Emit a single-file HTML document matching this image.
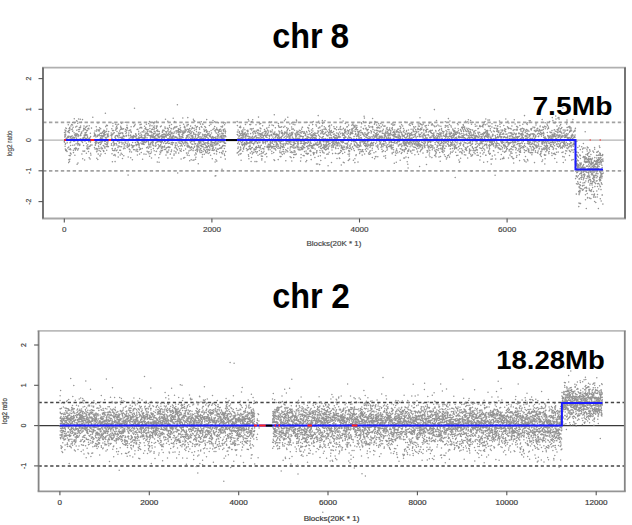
<!DOCTYPE html>
<html><head><meta charset="utf-8"><style>
html,body{margin:0;padding:0;background:#fff;width:632px;height:525px;overflow:hidden}
svg{display:block;font-family:"Liberation Sans",sans-serif}
</style></head><body>
<svg width="632" height="525" viewBox="0 0 632 525" font-family="Liberation Sans, sans-serif">
<rect width="632" height="525" fill="#fff"/>
<line x1="43.05" x2="625.0" y1="122.3" y2="122.3" stroke="#a2a2a2" stroke-width="1.7" stroke-dasharray="3.4 2.525"/>
<line x1="43.05" x2="625.0" y1="170.8" y2="170.8" stroke="#a2a2a2" stroke-width="1.7" stroke-dasharray="3.4 2.525"/>
<line x1="43.0" x2="625.0" y1="140.1" y2="140.1" stroke="#a0a0a0" stroke-width="1.0"/>
<path d="M64.3 141.4h0M64.4 142.2h0M64.5 132.4h0M64.7 134.9h0M64.7 137.0h0M64.8 139.9h0M64.9 135.0h0M65.0 129.9h0M65.1 146.2h0M65.2 136.4h0M65.3 148.9h0M65.3 144.2h0M65.5 134.1h0M65.6 131.9h0M65.6 143.4h0M65.7 150.4h0M65.8 127.9h0M65.8 134.9h0M65.9 130.7h0M66.1 138.2h0M66.4 128.5h0M66.4 150.1h0M66.7 150.9h0M66.9 138.5h0M67.0 151.4h0M67.1 140.6h0M67.2 142.7h0M67.4 137.3h0M67.8 131.7h0M67.8 147.9h0M68.1 136.3h0M68.1 137.6h0M68.3 124.8h0M68.4 140.1h0M68.5 131.9h0M68.6 130.8h0M68.7 162.6h0M68.7 137.2h0M68.8 147.1h0M68.9 159.7h0M69.0 136.3h0M69.1 128.8h0M69.2 149.5h0M69.2 155.5h0M69.3 132.8h0M69.5 161.3h0M69.6 130.4h0M69.7 127.6h0M69.9 159.3h0M70.0 142.8h0M70.1 138.9h0M70.1 128.9h0M70.2 155.6h0M70.3 148.8h0M70.4 136.5h0M70.4 153.1h0M70.5 137.4h0M70.6 145.5h0M70.6 141.9h0M70.8 149.8h0M70.9 139.8h0M70.9 125.9h0M71.1 153.9h0M71.2 139.3h0M71.4 136.4h0M71.6 124.4h0M71.7 140.5h0M71.8 129.4h0M72.0 138.2h0M72.1 135.8h0M72.3 140.2h0M72.4 128.9h0M72.5 125.0h0M72.6 122.5h0M72.6 131.2h0M72.8 145.3h0M72.9 130.9h0M72.9 138.1h0M73.0 137.3h0M73.1 127.3h0M73.2 140.6h0M73.4 150.3h0M73.5 152.6h0M73.5 140.0h0M73.6 141.1h0M73.7 137.3h0M74.0 139.2h0M74.1 132.8h0M74.2 138.8h0M74.3 118.7h0M74.3 122.7h0M74.4 137.5h0M74.5 148.6h0M74.6 144.9h0M74.6 135.0h0M74.7 140.0h0M74.8 141.1h0M74.9 155.2h0M74.9 155.2h0M75.0 148.7h0M75.1 134.2h0M75.2 148.9h0M75.4 150.1h0M75.5 139.7h0M75.6 135.8h0M75.7 126.9h0M75.7 148.6h0M75.9 147.8h0M76.0 133.6h0M76.0 137.1h0M76.1 143.7h0M76.4 138.6h0M76.5 134.7h0M76.6 120.8h0M76.6 135.4h0M76.7 148.8h0M76.8 130.2h0M76.8 139.3h0M76.9 126.2h0M77.1 139.3h0M77.1 164.2h0M77.2 121.2h0M77.4 133.9h0M77.5 142.1h0M77.7 123.2h0M77.7 150.1h0M77.8 143.8h0M77.9 145.1h0M78.0 141.1h0M78.0 163.0h0M78.1 136.6h0M78.2 134.8h0M78.2 136.1h0M78.3 135.5h0M78.4 129.4h0M78.5 148.8h0M78.5 143.4h0M78.6 118.9h0M78.7 139.4h0M78.8 131.4h0M79.1 131.5h0M79.2 139.5h0M79.4 127.6h0M79.4 144.4h0M79.6 129.4h0M79.7 145.5h0M79.9 144.2h0M80.1 135.8h0M80.2 139.1h0M80.3 119.2h0M80.4 140.1h0M80.5 127.6h0M80.5 134.9h0M80.6 126.0h0M80.7 138.8h0M80.8 133.9h0M80.9 135.2h0M81.3 141.0h0M81.4 132.1h0M81.6 122.3h0M81.6 133.0h0M81.7 139.4h0M81.8 133.0h0M81.9 153.9h0M82.2 139.2h0M82.4 142.0h0M82.5 142.5h0M82.5 119.6h0M82.6 138.9h0M82.7 158.7h0M82.8 139.5h0M82.9 131.0h0M83.0 137.9h0M83.0 151.1h0M83.3 137.6h0M83.5 138.7h0M83.6 145.4h0M83.6 137.6h0M83.7 128.4h0M83.8 128.9h0M83.9 130.0h0M84.0 125.9h0M84.1 135.3h0M84.2 151.2h0M84.3 140.7h0M84.4 135.6h0M84.5 136.1h0M84.6 160.0h0M84.7 137.7h0M84.7 150.9h0M84.9 128.8h0M85.0 133.0h0M85.0 134.7h0M85.1 141.0h0M85.2 132.8h0M85.3 135.3h0M85.5 127.3h0M85.6 129.4h0M85.7 138.5h0M85.8 135.5h0M85.8 134.3h0M86.2 132.4h0M86.3 143.3h0M86.4 153.2h0M86.5 130.7h0M86.6 139.2h0M86.7 126.6h0M86.8 148.3h0M86.9 145.9h0M87.0 134.7h0M87.0 138.2h0M87.1 126.0h0M87.3 149.1h0M87.4 136.1h0M87.5 130.6h0M87.5 136.3h0M87.6 137.4h0M87.8 144.7h0M87.8 148.1h0M87.9 128.7h0M88.1 147.0h0M88.4 139.8h0M88.5 151.5h0M88.6 141.8h0M88.7 128.2h0M88.7 140.0h0M88.8 138.7h0M88.9 148.8h0M88.9 128.9h0M89.0 140.6h0M89.2 157.7h0M89.2 125.7h0M89.4 139.4h0M89.5 146.4h0M89.5 146.3h0M89.8 139.6h0M89.8 138.3h0M90.0 137.5h0M90.1 141.0h0M90.1 158.9h0M90.3 145.9h0M90.4 142.1h0M90.4 133.2h0M90.6 153.3h0M90.6 136.6h0M90.8 145.1h0M90.9 155.1h0M90.9 140.7h0M91.5 128.1h0M92.0 145.0h0M92.8 117.3h0M94.0 136.3h0M94.1 140.4h0M94.2 135.9h0M94.3 139.8h0M94.3 133.0h0M94.5 147.4h0M94.6 135.0h0M94.8 134.1h0M94.9 139.4h0M94.9 135.7h0M95.0 130.9h0M95.1 142.6h0M95.1 149.1h0M95.2 145.1h0M95.4 145.3h0M95.6 135.1h0M95.7 143.7h0M95.7 141.8h0M95.8 135.4h0M95.9 143.4h0M96.0 141.6h0M96.0 136.9h0M96.1 143.6h0M96.3 126.7h0M96.3 141.6h0M96.4 140.4h0M96.5 148.6h0M96.6 151.8h0M96.6 131.1h0M96.8 140.6h0M96.8 158.3h0M96.9 129.4h0M97.0 149.6h0M97.1 142.2h0M97.1 142.3h0M97.2 151.0h0M97.4 136.4h0M97.7 135.7h0M97.8 159.5h0M97.9 134.9h0M98.0 148.7h0M98.0 122.9h0M98.2 154.1h0M98.2 135.4h0M98.3 130.4h0M98.4 143.4h0M98.5 145.9h0M98.7 146.7h0M98.8 142.5h0M98.8 129.8h0M98.9 139.7h0M99.1 131.1h0M99.1 150.5h0M99.3 134.5h0M99.4 129.9h0M99.6 127.8h0M99.8 142.3h0M99.9 135.7h0M99.9 148.4h0M100.0 155.4h0M100.1 156.0h0M100.2 133.3h0M100.2 144.2h0M100.3 138.6h0M100.5 151.3h0M100.5 144.4h0M100.7 128.7h0M100.8 137.5h0M100.8 137.8h0M100.9 140.8h0M101.0 154.1h0M101.1 141.8h0M101.1 135.7h0M101.2 147.2h0M101.3 143.1h0M101.3 133.4h0M101.6 139.8h0M101.6 138.6h0M101.8 148.8h0M101.9 149.0h0M101.9 135.4h0M102.1 136.5h0M102.2 139.9h0M102.2 132.7h0M102.3 141.7h0M102.4 140.5h0M102.5 148.2h0M102.5 132.5h0M102.7 137.9h0M102.7 136.1h0M103.0 140.3h0M103.2 131.5h0M103.3 150.5h0M103.3 145.5h0M103.5 133.4h0M103.6 136.2h0M103.7 151.5h0M103.8 135.0h0M103.9 150.9h0M103.9 130.2h0M104.1 136.1h0M104.2 146.3h0M104.2 133.6h0M104.4 141.4h0M104.4 131.1h0M104.6 132.5h0M104.7 147.8h0M104.7 130.7h0M104.8 134.3h0M104.9 143.7h0M105.0 148.1h0M105.0 134.7h0M105.2 153.4h0M105.3 137.7h0M105.3 134.8h0M105.4 113.2h0M105.6 131.9h0M105.6 141.2h0M105.8 139.7h0M105.8 126.6h0M105.9 144.3h0M106.0 137.2h0M106.1 138.2h0M106.1 146.6h0M106.2 144.5h0M106.4 144.3h0M106.4 138.0h0M106.5 125.3h0M106.7 150.2h0M106.7 131.3h0M106.8 128.9h0M106.9 142.5h0M107.0 134.0h0M107.1 140.6h0M107.2 145.0h0M107.4 125.6h0M107.5 146.6h0M107.5 136.0h0M107.6 135.1h0M107.7 143.7h0M107.8 137.0h0M107.8 136.3h0M108.0 141.9h0M108.1 139.8h0M108.2 134.1h0M108.3 140.5h0M108.4 146.6h0M108.6 136.1h0M108.7 131.6h0M111.0 135.5h0M111.2 132.9h0M111.3 134.8h0M111.4 145.2h0M111.5 143.7h0M111.6 138.0h0M111.7 136.1h0M111.8 128.7h0M111.8 138.3h0M111.9 135.6h0M112.0 138.3h0M112.0 153.8h0M112.1 148.8h0M112.3 134.3h0M112.3 148.4h0M112.4 161.8h0M112.5 130.6h0M112.7 150.2h0M112.8 134.2h0M112.9 125.9h0M112.9 123.2h0M113.2 142.5h0M113.2 145.7h0M113.3 133.2h0M113.4 141.6h0M113.5 140.6h0M113.7 130.6h0M113.8 155.3h0M113.9 144.2h0M114.0 150.8h0M114.0 143.0h0M114.1 140.6h0M114.2 140.2h0M114.3 132.8h0M114.5 140.0h0M114.6 139.9h0M114.6 143.6h0M114.7 144.9h0M114.8 150.1h0M114.9 154.4h0M114.9 137.3h0M115.1 161.6h0M115.1 139.2h0M115.2 148.6h0M115.3 136.9h0M115.4 135.9h0M115.4 155.8h0M115.6 124.2h0M115.7 130.1h0M115.7 138.5h0M115.8 140.2h0M115.9 129.8h0M116.0 139.6h0M116.0 128.1h0M116.2 143.6h0M116.3 150.7h0M116.4 135.4h0M116.6 126.5h0M116.8 128.6h0M116.8 145.0h0M116.9 139.7h0M117.0 131.5h0M117.1 150.0h0M117.1 125.0h0M117.2 140.7h0M117.3 128.0h0M117.5 135.5h0M117.6 136.6h0M117.8 141.2h0M117.9 147.3h0M118.0 147.6h0M118.0 137.0h0M118.1 139.5h0M118.2 137.1h0M118.2 157.0h0M118.3 152.6h0M118.4 145.9h0M118.5 124.3h0M118.5 133.0h0M118.7 140.8h0M118.9 139.3h0M119.0 134.3h0M119.1 140.5h0M119.1 143.1h0M119.2 135.5h0M119.4 133.2h0M119.6 130.9h0M119.7 146.2h0M119.7 150.2h0M119.8 140.4h0M119.9 142.3h0M119.9 137.3h0M120.1 146.7h0M120.2 139.5h0M120.2 155.0h0M120.5 129.5h0M120.5 150.3h0M120.6 133.4h0M120.7 126.3h0M120.8 127.8h0M121.0 132.8h0M121.1 137.8h0M121.2 153.2h0M121.3 140.1h0M121.3 137.2h0M121.5 128.1h0M121.6 146.8h0M121.6 123.2h0M121.7 129.1h0M121.8 142.2h0M121.9 138.7h0M122.0 144.0h0M122.2 154.4h0M122.3 137.4h0M122.4 132.9h0M122.5 158.5h0M122.7 133.1h0M122.7 133.7h0M122.8 129.1h0M123.0 138.7h0M123.1 136.8h0M123.2 142.9h0M123.3 135.8h0M123.5 148.7h0M123.6 138.9h0M123.6 128.8h0M123.7 135.6h0M123.8 155.8h0M124.0 139.9h0M124.1 147.1h0M124.2 136.6h0M124.2 145.0h0M124.4 144.5h0M124.4 139.5h0M124.8 139.6h0M124.9 140.1h0M125.0 148.5h0M125.0 140.3h0M125.1 142.1h0M125.2 131.2h0M125.3 122.3h0M125.4 142.9h0M125.5 142.7h0M125.6 129.5h0M125.8 129.4h0M125.9 133.5h0M126.0 135.7h0M126.1 136.2h0M126.1 145.9h0M126.2 140.7h0M126.4 132.3h0M126.5 135.5h0M126.7 127.4h0M126.8 130.5h0M127.0 125.3h0M127.0 143.7h0M127.1 127.6h0M127.3 139.7h0M127.3 147.4h0M127.4 127.4h0M127.5 143.9h0M127.5 128.8h0M127.7 145.3h0M128.0 146.2h0M128.1 141.9h0M128.1 175.1h0M128.2 157.0h0M128.4 139.7h0M128.5 135.0h0M128.6 146.6h0M128.7 135.8h0M128.8 132.9h0M128.9 130.7h0M129.2 138.3h0M129.2 149.1h0M129.3 143.9h0M129.5 144.9h0M129.6 145.6h0M129.7 151.7h0M129.8 140.2h0M129.8 130.3h0M129.9 140.2h0M130.1 150.0h0M130.4 136.0h0M130.6 134.9h0M130.6 130.0h0M130.7 157.8h0M130.8 137.8h0M130.9 137.9h0M131.0 131.6h0M131.1 126.7h0M131.2 132.5h0M131.4 139.5h0M131.5 151.9h0M131.5 144.9h0M131.6 145.0h0M131.8 136.8h0M131.8 139.7h0M132.0 136.2h0M132.1 147.8h0M132.2 139.9h0M132.3 146.1h0M132.4 159.7h0M132.6 142.5h0M132.7 137.9h0M132.9 138.5h0M132.9 136.5h0M133.0 138.1h0M133.1 145.8h0M133.2 146.9h0M133.3 137.7h0M133.5 122.7h0M133.6 149.6h0M133.7 135.6h0M133.8 126.6h0M134.0 136.6h0M134.2 145.8h0M134.4 136.2h0M134.5 108.3h0M134.6 125.5h0M134.9 149.8h0M135.1 124.3h0M135.2 137.0h0M135.3 136.6h0M135.4 142.5h0M135.6 133.8h0M135.7 134.6h0M135.8 136.7h0M136.0 133.9h0M136.0 144.2h0M136.1 151.1h0M136.2 145.6h0M136.3 135.3h0M136.3 138.7h0M136.4 139.5h0M136.5 138.2h0M136.7 135.7h0M136.8 139.1h0M136.8 139.6h0M136.9 149.2h0M137.0 149.8h0M137.1 144.8h0M137.1 129.4h0M137.2 141.3h0M137.3 149.8h0M137.4 155.0h0M137.5 142.2h0M137.7 151.4h0M137.9 129.2h0M138.0 143.0h0M138.0 138.5h0M138.1 139.2h0M138.2 144.4h0M138.2 140.7h0M138.3 138.5h0M138.4 142.4h0M138.6 134.2h0M138.7 131.2h0M138.8 137.1h0M138.8 144.6h0M138.9 133.2h0M139.0 143.4h0M139.1 146.1h0M139.2 147.5h0M139.3 144.8h0M139.4 149.8h0M139.4 139.0h0M139.6 137.8h0M139.6 154.1h0M139.9 128.1h0M139.9 135.4h0M140.0 124.8h0M140.2 127.8h0M140.2 140.0h0M140.3 148.5h0M140.5 140.1h0M140.6 149.2h0M140.7 137.4h0M140.8 132.9h0M140.8 137.3h0M140.9 143.0h0M141.0 127.3h0M141.2 124.3h0M141.3 134.7h0M141.3 152.4h0M141.4 139.4h0M141.6 136.6h0M141.6 137.4h0M141.8 127.9h0M141.9 135.2h0M141.9 144.1h0M142.0 141.3h0M142.2 148.5h0M142.2 131.7h0M142.3 141.3h0M142.5 143.3h0M142.6 159.3h0M142.7 139.1h0M143.0 137.7h0M143.0 140.5h0M143.1 144.2h0M143.2 131.9h0M143.3 143.1h0M143.3 140.9h0M143.5 142.3h0M143.6 143.1h0M143.8 130.6h0M144.0 154.1h0M144.1 144.5h0M144.2 138.5h0M144.2 135.4h0M144.4 135.2h0M144.5 137.8h0M144.6 126.3h0M144.7 136.9h0M144.7 141.8h0M144.8 139.2h0M145.0 128.7h0M145.0 131.9h0M145.1 142.6h0M145.2 137.6h0M145.3 137.7h0M145.4 134.1h0M145.6 136.0h0M145.6 128.9h0M145.7 127.8h0M145.9 142.2h0M146.0 154.3h0M146.1 133.6h0M146.3 139.7h0M146.4 124.2h0M146.5 141.6h0M146.6 147.8h0M146.7 129.6h0M146.7 133.4h0M146.8 141.0h0M146.9 139.4h0M147.0 137.8h0M147.0 132.2h0M147.1 151.3h0M147.3 135.3h0M147.5 131.0h0M147.5 147.0h0M147.8 139.7h0M147.8 139.5h0M147.9 131.3h0M148.0 133.5h0M148.1 129.6h0M148.1 134.4h0M148.2 152.3h0M148.3 141.3h0M148.4 148.3h0M148.5 142.8h0M148.7 123.4h0M148.7 144.8h0M148.8 143.9h0M148.9 144.9h0M148.9 135.4h0M149.0 151.7h0M149.1 153.8h0M149.2 146.8h0M149.2 139.9h0M149.4 144.7h0M149.5 147.0h0M149.5 121.6h0M149.6 156.2h0M149.8 125.9h0M149.8 131.7h0M149.9 128.5h0M150.0 131.0h0M150.1 144.7h0M150.1 125.0h0M150.2 135.6h0M150.3 139.4h0M150.4 136.4h0M150.4 138.1h0M150.5 143.4h0M150.6 144.8h0M150.7 153.4h0M150.8 136.9h0M150.9 147.0h0M151.0 136.0h0M151.1 142.2h0M151.2 132.4h0M151.2 149.7h0M151.3 131.6h0M151.4 152.0h0M151.5 157.9h0M151.5 139.6h0M151.6 136.4h0M151.7 142.6h0M151.8 129.6h0M151.8 135.0h0M151.9 129.5h0M152.0 132.8h0M152.0 125.8h0M152.1 132.8h0M152.2 140.0h0M152.3 136.7h0M152.3 137.7h0M152.4 143.2h0M152.5 145.0h0M152.6 142.0h0M152.6 141.6h0M152.7 140.0h0M152.8 129.1h0M152.9 135.1h0M152.9 144.7h0M153.1 142.7h0M153.2 136.4h0M153.2 139.8h0M153.3 141.9h0M153.4 148.6h0M153.5 135.0h0M153.5 127.2h0M153.6 137.4h0M153.7 133.6h0M153.7 122.5h0M153.8 145.7h0M153.9 123.6h0M154.0 138.2h0M154.0 133.6h0M154.1 129.8h0M154.2 150.8h0M154.3 126.0h0M154.3 131.6h0M154.6 128.1h0M154.6 136.8h0M154.7 136.7h0M154.8 122.1h0M155.0 137.2h0M155.1 133.7h0M155.1 154.8h0M155.2 140.3h0M155.3 138.7h0M155.4 131.9h0M155.4 146.3h0M155.6 143.2h0M155.7 144.0h0M155.8 135.7h0M155.9 135.7h0M156.0 142.5h0M156.0 138.4h0M156.1 145.8h0M156.2 151.5h0M156.3 128.5h0M156.3 125.9h0M156.5 151.3h0M156.6 130.7h0M156.6 121.3h0M156.7 127.3h0M156.8 134.4h0M156.9 142.0h0M157.0 138.6h0M157.1 138.2h0M157.1 133.9h0M157.2 126.1h0M157.3 162.0h0M157.4 135.4h0M157.5 148.7h0M157.6 130.0h0M157.7 140.2h0M157.7 141.4h0M157.8 131.1h0M157.9 131.4h0M158.0 141.8h0M158.1 136.6h0M158.2 144.4h0M158.2 134.5h0M158.4 136.3h0M158.5 139.3h0M158.5 148.0h0M158.6 137.2h0M158.7 134.4h0M158.8 157.7h0M158.8 134.5h0M158.9 146.9h0M159.0 141.3h0M159.1 145.8h0M159.1 162.2h0M159.3 131.6h0M159.4 140.5h0M159.5 133.5h0M159.7 137.7h0M159.8 154.2h0M159.9 136.3h0M159.9 146.1h0M160.1 151.7h0M160.2 141.9h0M160.3 136.1h0M160.4 140.2h0M160.5 140.4h0M160.5 126.8h0M160.6 144.7h0M160.7 152.8h0M160.8 141.6h0M160.9 145.0h0M161.0 150.3h0M161.1 147.1h0M161.1 142.6h0M161.2 136.1h0M161.3 141.7h0M161.3 125.9h0M161.4 143.0h0M161.5 148.2h0M161.6 138.5h0M161.6 141.4h0M161.7 151.0h0M161.8 135.6h0M161.9 142.3h0M161.9 137.2h0M162.0 136.6h0M162.1 134.6h0M162.2 132.1h0M162.3 141.4h0M162.4 146.5h0M162.5 132.2h0M162.5 150.2h0M162.6 130.2h0M162.7 147.7h0M162.8 130.9h0M162.9 139.3h0M163.0 137.5h0M163.0 136.2h0M163.1 137.3h0M163.2 137.3h0M163.3 137.5h0M163.3 134.4h0M163.4 137.0h0M163.6 130.3h0M163.7 143.1h0M163.8 134.0h0M163.9 136.4h0M163.9 146.7h0M164.0 137.5h0M164.1 130.4h0M164.2 140.5h0M164.2 130.6h0M164.3 138.1h0M164.4 149.4h0M164.4 147.1h0M164.5 134.7h0M164.6 145.9h0M164.7 136.8h0M164.7 141.5h0M164.8 134.7h0M165.0 127.1h0M165.0 134.0h0M165.1 141.5h0M165.2 128.4h0M165.3 140.1h0M165.4 136.5h0M165.5 119.3h0M165.6 131.8h0M165.6 149.4h0M165.7 143.6h0M165.8 135.6h0M165.9 135.0h0M166.0 155.1h0M166.1 148.3h0M166.1 147.9h0M166.2 137.1h0M166.4 131.8h0M166.5 143.2h0M166.7 133.1h0M166.8 135.4h0M166.9 151.2h0M167.0 152.7h0M167.1 147.5h0M167.3 134.4h0M167.3 128.3h0M167.4 141.0h0M167.5 142.5h0M167.5 139.1h0M167.6 140.6h0M167.7 130.9h0M167.8 121.2h0M167.9 158.0h0M168.0 128.5h0M168.1 147.1h0M168.1 152.1h0M168.2 135.3h0M168.3 138.5h0M168.4 129.7h0M168.4 143.5h0M168.5 141.1h0M168.6 139.3h0M168.7 133.6h0M168.8 150.1h0M168.9 138.8h0M168.9 146.7h0M169.0 131.9h0M169.1 147.6h0M169.2 134.3h0M169.2 139.7h0M169.3 140.2h0M169.5 125.4h0M169.5 127.2h0M169.6 143.3h0M169.7 132.0h0M169.8 137.7h0M169.8 136.5h0M169.9 140.5h0M170.0 147.3h0M170.1 135.1h0M170.1 138.0h0M170.2 135.3h0M170.3 154.3h0M170.4 134.8h0M170.4 153.9h0M170.5 136.1h0M170.6 135.5h0M170.6 140.0h0M170.7 131.1h0M170.8 138.3h0M170.9 133.0h0M171.0 144.2h0M171.1 128.6h0M171.2 133.6h0M171.2 151.6h0M171.3 140.0h0M171.4 142.4h0M171.5 128.7h0M171.5 124.4h0M171.6 149.9h0M171.7 139.9h0M171.8 137.1h0M171.8 137.6h0M171.9 138.3h0M172.0 132.6h0M172.0 158.1h0M172.1 133.5h0M172.2 144.0h0M172.4 144.8h0M172.5 140.5h0M172.6 136.6h0M172.6 142.5h0M172.7 137.3h0M172.8 137.0h0M172.9 136.6h0M172.9 137.1h0M173.0 135.2h0M173.1 138.5h0M173.2 118.2h0M173.4 129.0h0M173.5 142.7h0M173.5 135.9h0M173.6 135.7h0M173.7 139.4h0M173.8 133.3h0M173.9 133.3h0M174.0 127.8h0M174.0 155.3h0M174.1 154.0h0M174.2 150.9h0M174.3 140.3h0M174.3 131.9h0M174.4 137.0h0M174.5 122.1h0M174.6 138.9h0M174.7 121.5h0M174.8 139.7h0M174.9 127.8h0M174.9 147.7h0M175.0 126.8h0M175.1 127.3h0M175.2 144.9h0M175.4 147.0h0M175.4 137.5h0M175.5 143.0h0M175.6 136.9h0M175.7 145.4h0M175.7 136.7h0M175.8 131.0h0M175.9 151.8h0M176.0 153.0h0M176.2 131.1h0M176.3 132.9h0M176.3 130.8h0M176.4 148.2h0M176.5 126.9h0M176.6 127.0h0M176.7 142.9h0M176.8 138.0h0M176.8 137.2h0M176.9 126.5h0M177.1 149.4h0M177.1 130.9h0M177.2 140.1h0M177.3 145.0h0M177.4 104.8h0M177.4 149.9h0M177.6 138.5h0M177.7 173.0h0M178.0 139.8h0M178.0 132.5h0M178.1 130.6h0M178.2 140.9h0M178.2 131.2h0M178.3 146.8h0M178.4 128.8h0M178.5 134.6h0M178.5 129.8h0M178.6 139.6h0M178.7 153.1h0M178.8 131.4h0M178.9 142.7h0M179.0 133.9h0M179.1 132.6h0M179.2 138.0h0M179.3 135.0h0M179.4 138.8h0M179.4 136.2h0M179.5 148.7h0M179.6 138.4h0M179.6 136.0h0M179.7 129.3h0M179.8 131.5h0M179.9 141.3h0M179.9 143.3h0M180.0 125.6h0M180.1 150.8h0M180.2 146.1h0M180.3 136.7h0M180.5 150.7h0M180.5 127.8h0M180.6 130.0h0M180.7 143.2h0M180.8 132.5h0M180.9 138.3h0M181.1 158.9h0M181.1 143.4h0M181.2 151.2h0M181.3 149.1h0M181.3 131.0h0M181.4 145.1h0M181.5 140.2h0M181.6 141.2h0M181.6 139.1h0M181.7 136.8h0M181.9 136.4h0M182.0 141.2h0M182.1 134.5h0M182.2 146.1h0M182.4 137.4h0M182.5 142.4h0M182.5 142.6h0M182.6 132.1h0M182.7 141.0h0M182.7 137.1h0M182.8 117.9h0M182.9 135.2h0M183.0 133.4h0M183.0 131.1h0M183.1 137.7h0M183.3 144.0h0M183.5 132.6h0M183.6 124.3h0M183.6 158.1h0M183.7 150.5h0M183.8 133.4h0M184.1 142.9h0M184.2 132.4h0M184.3 127.3h0M184.4 140.2h0M184.4 130.9h0M184.5 126.2h0M184.6 127.3h0M184.7 145.6h0M184.8 157.5h0M184.9 131.3h0M185.0 127.3h0M185.0 128.9h0M185.1 141.8h0M185.2 142.6h0M185.3 140.9h0M185.5 131.9h0M185.6 139.0h0M185.6 149.0h0M185.7 129.7h0M185.8 130.5h0M185.9 139.8h0M186.0 144.0h0M186.1 130.6h0M186.3 137.6h0M186.4 142.2h0M186.5 153.1h0M186.6 135.7h0M186.7 136.0h0M186.8 138.1h0M186.9 145.9h0M187.0 126.0h0M187.0 142.2h0M187.1 125.1h0M187.2 129.2h0M187.3 155.1h0M187.4 136.1h0M187.5 143.8h0M187.5 136.8h0M187.6 146.9h0M187.7 132.0h0M187.8 117.6h0M187.9 145.6h0M188.0 144.0h0M188.1 134.8h0M188.1 134.9h0M188.2 153.1h0M188.3 124.6h0M188.4 147.0h0M188.5 131.1h0M188.6 129.4h0M188.7 138.9h0M188.7 145.9h0M188.9 150.9h0M188.9 131.5h0M189.0 136.9h0M189.1 155.5h0M189.2 137.3h0M189.2 134.7h0M189.4 132.4h0M189.5 146.6h0M189.6 128.6h0M189.7 160.7h0M189.8 147.8h0M190.0 130.6h0M190.1 141.1h0M190.2 150.3h0M190.3 133.2h0M190.4 130.9h0M190.4 147.7h0M190.5 142.8h0M190.6 138.4h0M190.6 126.1h0M190.7 147.9h0M190.8 138.4h0M190.9 135.0h0M191.0 147.6h0M191.1 133.2h0M191.2 135.9h0M191.2 159.7h0M191.3 141.0h0M191.4 128.9h0M191.5 146.7h0M191.5 132.8h0M191.6 149.7h0M191.7 141.5h0M191.8 136.3h0M191.8 143.9h0M191.9 147.5h0M192.0 138.1h0M192.0 131.5h0M192.2 140.8h0M192.3 127.6h0M192.3 137.8h0M192.6 136.9h0M192.6 135.4h0M192.7 128.3h0M192.9 144.2h0M192.9 138.8h0M193.0 160.3h0M193.1 150.6h0M193.2 140.7h0M193.2 137.1h0M193.3 148.6h0M193.4 119.3h0M193.6 132.5h0M193.7 133.6h0M193.8 134.3h0M193.9 120.6h0M194.0 159.9h0M194.1 128.2h0M194.2 141.9h0M194.3 147.3h0M194.3 138.7h0M194.4 141.2h0M194.5 130.2h0M194.6 146.3h0M194.6 140.9h0M194.7 139.4h0M194.8 121.3h0M194.9 143.6h0M194.9 154.9h0M195.0 144.1h0M195.1 134.2h0M195.1 138.1h0M195.2 125.6h0M195.3 139.9h0M195.4 136.7h0M195.4 150.3h0M195.5 159.2h0M195.6 135.8h0M195.7 153.0h0M195.7 143.8h0M195.9 157.3h0M196.0 134.5h0M196.0 140.4h0M196.2 129.5h0M196.3 154.0h0M196.3 126.9h0M196.4 127.7h0M196.5 131.6h0M196.5 138.5h0M196.6 146.0h0M196.7 149.8h0M196.8 150.0h0M197.0 149.1h0M197.1 145.3h0M197.1 147.7h0M197.2 145.6h0M197.3 151.6h0M197.4 126.4h0M197.5 146.6h0M197.6 143.9h0M197.7 138.0h0M197.7 149.2h0M197.8 150.1h0M197.9 150.0h0M198.0 134.6h0M198.0 135.7h0M198.1 137.6h0M198.2 133.0h0M198.2 135.3h0M198.3 163.7h0M198.4 141.9h0M198.5 136.0h0M198.5 144.0h0M198.6 146.0h0M198.8 142.2h0M198.8 147.0h0M198.9 141.0h0M199.0 132.2h0M199.1 141.7h0M199.1 147.8h0M199.2 136.8h0M199.3 122.4h0M199.4 127.7h0M199.4 142.7h0M199.5 134.1h0M199.6 129.3h0M199.6 143.5h0M199.7 142.9h0M199.8 151.3h0M199.9 138.3h0M199.9 150.6h0M200.0 149.5h0M200.1 152.6h0M200.2 145.3h0M200.2 141.8h0M200.3 142.8h0M200.5 141.3h0M200.5 124.1h0M200.6 132.8h0M200.7 145.4h0M200.8 148.4h0M200.9 136.7h0M201.0 138.2h0M201.1 143.0h0M201.3 121.8h0M201.3 126.4h0M201.4 146.5h0M201.6 152.5h0M201.6 150.6h0M201.7 145.0h0M201.8 138.0h0M201.9 139.3h0M201.9 127.2h0M202.1 141.2h0M202.2 140.0h0M202.2 157.1h0M202.3 144.3h0M202.4 146.8h0M202.5 154.6h0M202.5 140.1h0M202.6 134.2h0M202.7 135.9h0M202.7 123.9h0M202.8 139.9h0M202.9 124.4h0M203.0 138.4h0M203.0 146.5h0M203.1 151.4h0M203.2 134.9h0M203.3 144.4h0M203.4 139.8h0M203.5 144.4h0M203.6 142.1h0M203.6 138.7h0M203.7 140.8h0M203.8 149.2h0M203.9 144.0h0M203.9 138.1h0M204.0 129.2h0M204.1 147.7h0M204.2 149.8h0M204.2 130.9h0M204.3 154.2h0M204.4 131.5h0M204.4 134.7h0M204.5 136.4h0M204.6 143.6h0M204.7 136.1h0M204.8 126.4h0M205.0 136.4h0M205.0 130.4h0M205.1 142.8h0M205.2 144.8h0M205.3 138.7h0M205.4 150.4h0M205.5 137.0h0M205.6 151.6h0M205.6 127.4h0M205.7 134.5h0M205.8 147.6h0M205.8 136.3h0M205.9 152.8h0M206.0 136.9h0M206.1 142.9h0M206.1 145.7h0M206.2 129.8h0M206.4 130.9h0M206.4 136.1h0M206.5 132.2h0M206.6 146.5h0M206.7 119.6h0M206.8 149.4h0M206.9 152.4h0M207.0 131.1h0M207.0 137.2h0M207.1 140.3h0M207.2 134.9h0M207.3 147.8h0M207.4 142.8h0M207.5 151.1h0M207.6 146.5h0M207.7 131.8h0M207.8 133.8h0M207.8 134.9h0M207.9 144.1h0M208.0 140.0h0M208.1 138.2h0M208.1 141.7h0M208.2 153.5h0M208.3 149.4h0M208.4 140.7h0M208.4 146.3h0M208.5 145.7h0M208.6 143.2h0M208.7 145.7h0M208.7 139.3h0M208.8 145.7h0M208.9 133.6h0M209.2 135.2h0M209.3 150.4h0M209.4 125.5h0M209.5 131.8h0M209.5 152.7h0M209.6 136.5h0M209.7 147.2h0M209.8 150.1h0M209.8 146.9h0M209.9 136.0h0M210.0 148.9h0M210.2 143.9h0M210.3 136.3h0M210.4 144.9h0M210.4 134.9h0M210.5 144.2h0M210.6 134.8h0M210.6 155.3h0M210.7 144.9h0M210.8 141.9h0M210.9 136.9h0M210.9 124.2h0M211.0 140.5h0M211.1 130.5h0M211.2 145.9h0M211.2 139.5h0M211.3 137.7h0M211.4 139.3h0M211.5 132.9h0M211.6 138.5h0M211.7 140.9h0M211.8 137.7h0M211.8 144.1h0M211.9 142.4h0M212.0 150.3h0M212.1 146.5h0M212.2 142.6h0M212.3 144.9h0M212.3 158.7h0M212.4 148.5h0M212.5 136.5h0M212.6 137.3h0M212.7 145.5h0M212.8 150.1h0M212.9 122.6h0M212.9 129.6h0M213.0 120.6h0M213.1 148.3h0M213.2 138.5h0M213.2 144.9h0M213.3 142.8h0M213.4 147.1h0M213.5 139.7h0M213.6 137.2h0M213.7 138.0h0M213.8 150.5h0M213.9 140.4h0M214.0 128.4h0M214.0 142.8h0M214.1 137.4h0M214.2 153.6h0M214.3 149.7h0M214.4 142.7h0M214.6 121.8h0M214.6 143.6h0M214.7 126.5h0M214.9 130.6h0M214.9 145.2h0M215.0 142.8h0M215.1 161.9h0M215.1 175.9h0M215.2 137.5h0M215.3 141.6h0M215.4 138.9h0M215.4 131.7h0M215.5 144.7h0M215.6 130.0h0M215.7 147.9h0M215.7 140.3h0M215.8 175.7h0M215.9 159.7h0M216.0 138.7h0M216.0 136.9h0M216.1 140.9h0M216.2 142.9h0M216.3 150.3h0M216.3 133.1h0M216.5 153.9h0M216.5 129.4h0M216.6 151.4h0M216.7 128.0h0M216.8 161.1h0M216.8 144.8h0M216.9 151.4h0M217.0 144.0h0M217.1 140.7h0M217.2 129.5h0M217.3 129.9h0M217.4 138.3h0M217.4 149.1h0M217.5 136.0h0M217.6 143.0h0M217.7 134.3h0M217.8 136.5h0M217.9 142.9h0M218.0 134.5h0M218.0 140.9h0M218.1 143.8h0M218.2 137.9h0M218.3 132.6h0M218.4 122.8h0M218.5 149.1h0M218.5 139.7h0M218.6 135.8h0M218.7 130.3h0M218.8 140.1h0M218.8 131.4h0M219.0 131.5h0M219.1 141.7h0M219.4 131.0h0M219.4 129.4h0M219.5 145.3h0M219.6 131.0h0M219.6 152.5h0M219.7 148.2h0M219.8 137.9h0M219.9 133.9h0M219.9 140.3h0M220.2 142.2h0M220.2 136.6h0M220.3 131.3h0M220.4 140.5h0M220.5 148.2h0M220.6 141.9h0M220.7 129.3h0M220.8 140.9h0M220.8 136.1h0M220.9 157.2h0M221.0 142.0h0M221.1 140.0h0M221.1 126.6h0M221.2 147.2h0M221.3 139.1h0M221.3 137.1h0M221.4 141.2h0M221.5 130.9h0M221.6 152.6h0M221.6 135.8h0M221.7 148.1h0M221.9 133.1h0M221.9 133.7h0M222.0 169.2h0M222.1 134.0h0M222.2 138.1h0M222.2 127.1h0M222.3 153.7h0M222.4 146.5h0M222.5 138.1h0M222.5 141.0h0M222.6 135.9h0M222.7 126.0h0M222.7 138.7h0M222.8 145.5h0M222.9 138.5h0M223.0 151.7h0M223.0 150.8h0M223.1 142.0h0M223.2 133.4h0M223.3 135.3h0M223.3 129.6h0M223.4 130.6h0M223.5 141.7h0M223.6 123.0h0M223.6 145.6h0M223.8 142.0h0M223.9 136.8h0M223.9 131.4h0M224.0 122.4h0M224.1 138.0h0M224.2 135.8h0M224.2 136.1h0M224.3 154.1h0M224.4 141.9h0M224.4 148.5h0M224.5 143.2h0M224.6 124.7h0M224.7 128.9h0M224.7 155.4h0M224.8 143.1h0M224.9 145.8h0M225.0 146.0h0M225.0 140.1h0M225.1 135.5h0M225.2 130.3h0M225.3 133.1h0M225.3 159.1h0M225.4 136.0h0M225.5 123.0h0M225.6 143.3h0M225.6 131.5h0M225.7 151.6h0M225.8 136.8h0M237.1 153.0h0M237.1 121.6h0M237.2 134.5h0M237.3 121.8h0M237.4 125.6h0M237.4 131.9h0M237.7 143.4h0M237.7 152.8h0M237.8 152.6h0M237.9 148.4h0M238.0 135.3h0M238.0 138.4h0M238.1 130.0h0M238.2 147.1h0M238.3 142.1h0M238.4 138.2h0M238.5 139.8h0M238.5 142.0h0M238.6 154.9h0M238.8 140.7h0M238.8 151.5h0M239.0 136.6h0M239.1 132.4h0M239.2 138.7h0M239.3 131.4h0M239.4 144.2h0M239.4 143.9h0M239.5 127.2h0M239.6 135.9h0M239.6 133.1h0M239.7 138.5h0M239.8 135.8h0M239.9 150.5h0M239.9 140.6h0M240.0 154.0h0M240.1 139.0h0M240.2 149.5h0M240.2 135.3h0M240.3 141.3h0M240.4 146.9h0M240.5 134.1h0M240.5 126.2h0M240.6 154.0h0M240.7 127.6h0M240.8 149.7h0M240.8 147.9h0M240.9 138.0h0M241.1 160.3h0M241.1 153.4h0M241.2 139.9h0M241.3 142.7h0M241.5 130.9h0M241.6 133.2h0M241.6 135.3h0M241.7 135.5h0M241.8 137.5h0M241.9 144.5h0M242.0 142.8h0M242.1 142.1h0M242.2 135.5h0M242.2 138.6h0M242.3 131.7h0M242.4 145.5h0M242.5 136.0h0M242.6 134.3h0M242.7 137.9h0M242.7 132.5h0M242.8 151.3h0M242.9 131.1h0M243.0 129.8h0M243.0 140.9h0M243.1 133.8h0M243.2 144.8h0M243.3 136.3h0M243.3 144.1h0M243.4 148.4h0M243.5 135.0h0M243.6 149.2h0M243.6 148.1h0M243.7 127.9h0M243.8 137.7h0M243.9 137.9h0M243.9 147.3h0M244.1 144.2h0M244.2 133.4h0M244.2 140.2h0M244.3 134.3h0M244.4 144.1h0M244.5 142.4h0M244.6 145.9h0M244.7 145.6h0M244.7 144.7h0M244.8 133.7h0M244.9 129.8h0M245.0 136.8h0M245.1 134.2h0M245.2 132.4h0M245.3 143.6h0M245.3 135.4h0M245.4 144.1h0M245.5 124.5h0M245.6 143.7h0M245.6 137.0h0M245.7 143.2h0M245.8 137.1h0M245.8 138.4h0M246.1 143.0h0M246.2 143.4h0M246.3 141.4h0M246.4 148.4h0M246.4 134.0h0M246.5 134.4h0M246.6 144.6h0M246.7 142.2h0M246.7 135.6h0M246.8 144.0h0M247.0 130.8h0M247.0 130.8h0M247.1 150.6h0M247.3 140.7h0M247.4 136.3h0M247.5 149.6h0M247.5 143.1h0M247.7 131.8h0M247.8 130.3h0M247.9 133.6h0M248.0 139.1h0M248.1 134.0h0M248.1 131.3h0M248.2 143.3h0M248.3 119.5h0M248.4 154.8h0M248.5 138.3h0M248.6 136.2h0M248.7 149.4h0M248.7 156.2h0M248.8 138.4h0M248.9 158.7h0M248.9 121.1h0M249.0 146.4h0M249.1 142.7h0M249.2 148.2h0M249.3 142.8h0M249.5 138.0h0M249.6 142.5h0M249.7 124.4h0M249.8 140.9h0M249.8 139.9h0M249.9 136.8h0M250.0 145.4h0M250.1 143.7h0M250.1 146.4h0M250.2 138.0h0M250.3 129.0h0M250.3 153.1h0M250.4 141.3h0M250.5 148.7h0M250.6 133.6h0M250.6 149.4h0M250.7 124.6h0M250.9 138.2h0M250.9 142.2h0M251.1 161.5h0M251.2 128.7h0M251.3 141.7h0M251.4 121.8h0M251.5 147.9h0M251.5 157.4h0M251.6 129.9h0M251.7 142.7h0M251.8 151.6h0M251.9 137.5h0M252.0 137.0h0M252.0 121.5h0M252.1 143.2h0M252.3 147.5h0M252.3 154.0h0M252.4 138.4h0M252.5 141.0h0M252.6 136.2h0M252.7 119.8h0M252.8 132.6h0M252.9 128.8h0M252.9 153.1h0M253.0 140.6h0M253.1 138.3h0M253.2 128.5h0M253.3 133.9h0M253.4 143.4h0M253.5 131.2h0M253.6 138.0h0M253.7 144.8h0M253.8 139.8h0M253.9 152.3h0M254.0 149.1h0M254.0 137.9h0M254.1 150.1h0M254.3 137.2h0M254.3 149.1h0M254.4 149.8h0M254.5 131.5h0M254.6 142.9h0M254.8 142.9h0M254.9 130.9h0M254.9 136.4h0M255.0 161.6h0M255.1 141.5h0M255.1 132.2h0M255.2 141.5h0M255.3 133.4h0M255.4 139.3h0M255.5 151.6h0M255.6 149.4h0M255.7 147.6h0M255.9 135.4h0M256.0 124.8h0M256.0 136.2h0M256.1 149.1h0M256.2 141.4h0M256.3 146.6h0M256.4 137.6h0M256.5 147.6h0M256.5 131.2h0M256.6 153.0h0M256.7 139.7h0M256.8 139.0h0M256.8 161.6h0M257.1 151.8h0M257.1 143.0h0M257.2 133.0h0M257.3 130.1h0M257.4 139.6h0M257.4 151.7h0M257.6 132.7h0M257.7 147.4h0M257.7 143.4h0M257.8 137.7h0M257.9 137.7h0M258.0 142.3h0M258.0 155.3h0M258.1 140.1h0M258.2 135.0h0M258.2 140.4h0M258.3 130.0h0M258.4 130.6h0M258.5 145.6h0M258.5 117.1h0M258.6 139.4h0M258.7 146.9h0M258.8 133.3h0M258.8 140.8h0M258.9 133.5h0M259.0 140.2h0M259.1 138.1h0M259.1 137.7h0M259.2 122.4h0M259.4 150.5h0M259.4 139.6h0M259.5 147.8h0M259.6 124.0h0M259.7 154.2h0M259.8 142.8h0M259.9 135.1h0M259.9 133.8h0M260.0 142.1h0M260.1 128.0h0M260.2 131.1h0M260.2 146.3h0M260.3 147.5h0M260.4 136.6h0M260.5 134.3h0M260.6 134.7h0M260.7 123.6h0M260.8 133.7h0M260.8 138.8h0M260.9 128.8h0M261.0 149.0h0M261.1 134.9h0M261.2 153.6h0M261.3 156.1h0M261.3 145.3h0M261.4 137.3h0M261.5 151.6h0M261.7 133.9h0M261.8 159.9h0M261.9 158.7h0M261.9 137.6h0M262.0 135.1h0M262.1 137.4h0M262.2 134.8h0M262.2 133.1h0M262.3 140.8h0M262.4 139.3h0M262.5 140.3h0M262.5 156.3h0M262.6 125.8h0M262.7 152.9h0M262.7 148.5h0M262.8 142.3h0M262.9 141.1h0M263.0 132.8h0M263.1 143.5h0M263.2 135.6h0M263.3 140.0h0M263.3 136.9h0M263.4 152.8h0M263.5 135.9h0M263.6 148.4h0M263.6 142.2h0M263.8 139.4h0M263.9 149.1h0M263.9 138.4h0M264.0 151.3h0M264.2 140.1h0M264.3 139.2h0M264.4 135.2h0M264.4 131.4h0M264.5 129.6h0M264.8 146.7h0M264.9 133.9h0M265.0 162.0h0M265.0 140.4h0M265.1 154.5h0M265.2 141.2h0M265.3 142.4h0M265.3 142.0h0M265.4 135.4h0M265.5 143.8h0M265.6 132.1h0M265.6 140.9h0M265.7 130.9h0M265.8 133.4h0M265.8 136.7h0M265.9 136.9h0M266.2 136.0h0M266.4 153.6h0M266.4 132.0h0M266.6 128.3h0M266.7 140.6h0M266.7 134.9h0M266.8 156.7h0M266.9 146.9h0M267.0 137.5h0M267.0 128.0h0M267.1 147.2h0M267.2 141.8h0M267.2 134.8h0M267.3 146.0h0M267.4 135.1h0M267.5 129.9h0M267.5 147.0h0M267.6 139.8h0M267.7 141.1h0M267.8 133.5h0M267.8 147.6h0M267.9 139.5h0M268.1 130.7h0M268.2 144.3h0M268.3 132.1h0M268.4 144.3h0M268.4 149.8h0M268.5 146.6h0M268.6 148.1h0M268.7 146.4h0M268.8 146.3h0M268.9 135.3h0M268.9 127.3h0M269.0 145.9h0M269.1 145.3h0M269.2 147.8h0M269.2 135.5h0M269.3 138.4h0M269.4 125.2h0M269.5 147.3h0M269.5 136.8h0M269.7 122.0h0M269.8 135.5h0M269.9 144.3h0M270.0 142.0h0M270.1 146.4h0M270.1 149.8h0M270.3 130.9h0M270.3 143.4h0M270.5 131.9h0M270.6 145.3h0M270.6 140.9h0M270.7 131.2h0M270.8 141.2h0M270.9 142.2h0M271.0 131.6h0M271.1 134.7h0M271.2 146.6h0M271.2 146.3h0M271.3 134.7h0M271.4 134.5h0M271.5 148.0h0M271.5 139.1h0M271.6 122.0h0M271.7 140.0h0M271.8 135.6h0M271.8 151.2h0M271.9 153.5h0M272.0 143.3h0M272.0 125.0h0M272.1 131.9h0M272.3 147.7h0M272.3 130.0h0M272.4 143.3h0M272.6 146.4h0M272.7 141.6h0M272.9 137.1h0M272.9 137.1h0M273.1 140.7h0M273.2 146.4h0M273.2 134.1h0M273.4 125.6h0M273.4 138.7h0M273.5 133.4h0M273.7 144.4h0M273.7 152.6h0M273.8 144.8h0M273.9 134.6h0M274.0 159.7h0M274.0 148.3h0M274.1 148.8h0M274.3 146.4h0M274.3 114.8h0M274.4 132.3h0M274.6 142.0h0M274.6 160.4h0M274.7 134.5h0M274.8 133.7h0M274.9 131.9h0M275.0 137.7h0M275.1 141.2h0M275.1 139.2h0M275.2 148.7h0M275.3 134.5h0M275.4 141.1h0M275.4 127.8h0M275.6 136.5h0M275.7 146.3h0M275.7 140.9h0M275.8 150.1h0M275.9 136.7h0M276.0 136.1h0M276.0 136.6h0M276.1 134.6h0M276.2 142.9h0M276.3 145.3h0M276.3 142.6h0M276.4 144.6h0M276.5 147.2h0M276.5 141.9h0M276.7 142.3h0M276.8 139.6h0M276.8 134.0h0M277.2 135.3h0M277.4 138.8h0M277.4 143.8h0M277.5 137.4h0M277.7 134.7h0M277.7 144.5h0M277.8 146.1h0M277.9 148.3h0M278.0 137.2h0M278.0 144.8h0M278.1 140.9h0M278.2 141.1h0M278.2 159.6h0M278.3 136.3h0M278.4 123.5h0M278.5 135.0h0M278.5 125.5h0M278.6 146.2h0M278.7 126.7h0M278.8 131.0h0M278.8 138.8h0M279.0 140.9h0M279.1 139.7h0M279.1 134.9h0M279.2 147.9h0M279.3 137.1h0M279.4 127.3h0M279.4 133.1h0M279.5 141.7h0M279.6 138.6h0M279.9 151.1h0M279.9 131.8h0M280.0 152.6h0M280.1 156.5h0M280.2 143.8h0M280.2 137.6h0M280.3 142.6h0M280.4 143.4h0M280.5 147.4h0M280.5 148.8h0M280.6 141.8h0M280.7 127.3h0M280.8 145.8h0M280.8 156.7h0M280.9 143.8h0M281.0 156.4h0M281.1 137.5h0M281.1 146.4h0M281.2 137.3h0M281.3 152.9h0M281.3 138.2h0M281.4 133.1h0M281.6 141.1h0M281.6 130.5h0M281.7 126.7h0M281.8 136.4h0M281.9 133.4h0M281.9 132.1h0M282.0 133.2h0M282.1 139.9h0M282.2 151.4h0M282.2 144.0h0M282.3 154.5h0M282.4 132.4h0M282.5 147.4h0M282.5 146.4h0M282.6 133.1h0M282.7 135.8h0M282.8 133.6h0M282.9 134.3h0M283.0 141.1h0M283.0 135.4h0M283.1 139.3h0M283.2 140.2h0M283.3 149.5h0M283.5 144.7h0M283.6 140.4h0M283.6 146.1h0M283.7 127.3h0M283.8 151.6h0M283.9 140.1h0M283.9 143.6h0M284.0 153.2h0M284.1 147.5h0M284.2 153.7h0M284.2 137.6h0M284.3 139.8h0M284.4 134.1h0M284.5 120.7h0M284.7 132.1h0M284.7 133.2h0M284.9 126.2h0M285.0 133.0h0M285.2 136.3h0M285.3 145.0h0M285.4 119.3h0M285.5 140.3h0M285.6 149.7h0M285.6 139.4h0M285.7 143.8h0M285.8 151.9h0M285.8 160.8h0M285.9 132.2h0M286.0 138.6h0M286.1 141.5h0M286.1 132.5h0M286.3 142.9h0M286.4 133.2h0M286.4 139.3h0M286.6 135.0h0M286.7 127.7h0M286.7 137.0h0M286.8 150.5h0M286.9 140.2h0M287.0 150.5h0M287.0 131.1h0M287.2 137.1h0M287.2 143.8h0M287.3 130.3h0M287.5 132.9h0M287.5 141.5h0M287.7 129.4h0M287.8 117.3h0M287.8 151.8h0M287.9 148.2h0M288.0 140.9h0M288.1 128.6h0M288.1 134.5h0M288.2 143.9h0M288.3 135.9h0M288.7 141.6h0M288.7 141.0h0M288.8 139.5h0M288.9 134.4h0M288.9 134.5h0M289.0 137.8h0M289.1 141.2h0M289.2 138.1h0M289.3 142.7h0M289.4 136.1h0M289.5 138.5h0M289.5 138.4h0M289.7 130.4h0M289.8 124.0h0M289.8 133.3h0M289.9 139.1h0M290.0 150.1h0M290.1 156.7h0M290.1 141.8h0M290.2 147.9h0M290.3 144.1h0M290.3 136.9h0M290.4 152.2h0M290.5 146.7h0M290.6 139.1h0M290.6 135.3h0M290.8 141.8h0M290.9 141.5h0M290.9 135.4h0M291.0 142.0h0M291.1 157.6h0M291.2 134.1h0M291.2 139.3h0M291.3 144.6h0M291.4 146.8h0M291.5 132.4h0M291.5 151.7h0M291.6 126.9h0M291.7 122.9h0M291.8 160.9h0M291.8 129.1h0M292.0 134.4h0M292.0 152.7h0M292.1 135.0h0M292.3 137.0h0M292.4 134.5h0M292.5 133.4h0M292.6 137.3h0M292.6 146.9h0M292.7 139.0h0M292.8 145.2h0M292.9 132.2h0M292.9 128.9h0M293.0 142.0h0M293.1 152.3h0M293.2 124.2h0M293.2 138.6h0M293.3 129.1h0M293.4 145.1h0M293.4 148.0h0M293.5 142.1h0M293.6 139.8h0M293.7 157.4h0M293.7 140.0h0M293.8 154.5h0M293.9 144.0h0M294.0 146.0h0M294.1 139.1h0M294.2 150.7h0M294.3 144.1h0M294.3 142.7h0M294.4 139.8h0M294.5 130.3h0M294.6 139.3h0M294.6 140.9h0M294.7 148.0h0M294.8 154.5h0M294.9 124.7h0M294.9 152.2h0M295.0 151.3h0M295.1 133.4h0M295.1 139.6h0M295.2 139.6h0M295.3 134.4h0M295.4 135.0h0M295.4 143.4h0M295.5 147.3h0M295.7 138.1h0M295.8 136.6h0M295.9 154.4h0M296.0 122.4h0M296.0 147.8h0M296.1 140.9h0M296.3 153.9h0M296.3 140.0h0M296.4 119.9h0M296.5 136.1h0M296.5 132.8h0M296.6 120.9h0M296.7 145.9h0M296.8 138.2h0M296.8 141.3h0M296.9 131.1h0M297.0 134.6h0M297.1 133.5h0M297.2 140.8h0M297.3 143.8h0M297.4 138.6h0M297.5 132.2h0M297.7 147.3h0M297.7 146.3h0M297.8 142.4h0M297.9 148.9h0M298.0 134.7h0M298.2 144.7h0M298.2 141.7h0M298.4 143.2h0M298.5 149.7h0M298.5 131.7h0M298.6 140.5h0M298.7 138.7h0M298.8 133.9h0M298.9 138.8h0M299.0 147.2h0M299.1 140.6h0M299.1 136.9h0M299.2 149.1h0M299.3 130.2h0M299.5 138.7h0M299.6 139.3h0M299.7 149.9h0M299.8 135.1h0M299.9 139.6h0M300.0 139.0h0M300.1 132.6h0M300.3 130.8h0M300.4 136.6h0M300.5 143.5h0M300.5 141.6h0M300.6 161.1h0M300.7 136.0h0M300.8 147.5h0M300.8 147.8h0M300.9 149.8h0M301.0 157.8h0M301.1 154.4h0M301.2 133.1h0M301.3 141.6h0M301.4 136.3h0M301.6 129.1h0M301.6 143.2h0M301.7 139.9h0M301.8 148.9h0M301.9 131.6h0M301.9 147.9h0M302.0 146.9h0M302.2 136.4h0M302.2 127.3h0M302.3 138.9h0M302.4 145.8h0M302.5 127.3h0M302.5 140.8h0M302.6 131.8h0M302.7 148.8h0M302.7 149.5h0M302.8 138.4h0M302.9 138.4h0M303.0 137.3h0M303.1 139.4h0M303.2 155.5h0M303.3 143.4h0M303.4 136.4h0M303.5 146.3h0M303.6 147.6h0M303.6 133.3h0M303.7 141.1h0M303.8 147.2h0M303.9 133.2h0M303.9 144.2h0M304.0 141.4h0M304.1 131.7h0M304.2 155.8h0M304.2 142.9h0M304.3 141.1h0M304.4 139.3h0M304.4 132.2h0M304.5 151.6h0M304.6 144.7h0M304.7 145.0h0M304.8 147.7h0M304.9 140.0h0M305.0 140.2h0M305.0 143.8h0M305.1 135.3h0M305.2 133.6h0M305.3 142.4h0M305.5 138.7h0M305.6 134.6h0M305.7 135.6h0M305.8 138.8h0M305.8 142.7h0M305.9 161.7h0M306.0 153.2h0M306.1 150.9h0M306.2 139.3h0M306.3 142.7h0M306.4 139.8h0M306.5 138.9h0M306.6 131.5h0M306.7 160.5h0M306.7 146.4h0M306.9 137.0h0M307.0 153.2h0M307.0 132.7h0M307.1 122.2h0M307.2 154.3h0M307.2 140.8h0M307.3 138.2h0M307.4 140.1h0M307.5 143.2h0M307.5 139.2h0M307.6 136.4h0M307.7 149.0h0M307.8 147.1h0M307.8 127.6h0M308.1 145.4h0M308.1 134.4h0M308.2 136.9h0M308.3 140.8h0M308.4 142.3h0M308.4 153.6h0M308.6 137.6h0M308.7 130.3h0M308.7 128.3h0M308.9 141.0h0M308.9 148.6h0M309.0 145.8h0M309.1 137.6h0M309.2 125.2h0M309.3 145.9h0M309.5 131.6h0M309.5 140.2h0M309.6 144.8h0M309.7 134.0h0M309.8 151.0h0M309.9 144.0h0M310.0 145.5h0M310.1 139.5h0M310.2 139.2h0M310.3 138.9h0M310.3 142.5h0M310.4 133.9h0M310.5 141.0h0M310.6 138.1h0M310.6 150.2h0M310.8 155.2h0M310.9 151.4h0M310.9 145.7h0M311.0 135.6h0M311.1 145.6h0M311.2 159.6h0M311.2 143.2h0M311.3 147.3h0M311.4 130.0h0M311.5 137.8h0M311.5 137.6h0M311.6 135.1h0M311.7 132.5h0M311.9 146.9h0M312.0 148.2h0M312.0 136.0h0M312.1 145.7h0M312.2 147.5h0M312.3 136.2h0M312.3 146.5h0M312.4 138.6h0M312.5 135.1h0M312.6 128.8h0M312.6 148.1h0M312.7 124.6h0M312.8 136.8h0M312.9 131.0h0M312.9 135.7h0M313.0 145.5h0M313.1 135.5h0M313.2 152.6h0M313.2 121.6h0M313.3 133.8h0M313.4 153.5h0M313.4 144.5h0M313.5 137.4h0M313.7 148.0h0M313.7 154.6h0M313.8 135.0h0M313.9 145.6h0M314.0 144.3h0M314.0 138.0h0M314.1 153.2h0M314.2 152.8h0M314.3 139.1h0M314.3 137.6h0M314.4 140.8h0M314.5 139.2h0M314.6 134.8h0M314.6 132.9h0M314.7 134.5h0M314.9 144.8h0M314.9 157.5h0M315.0 137.7h0M315.1 149.0h0M315.2 135.8h0M315.3 138.2h0M315.4 135.3h0M315.5 143.2h0M315.6 138.0h0M315.7 133.2h0M315.8 140.6h0M315.9 142.9h0M316.0 124.7h0M316.2 144.5h0M316.3 152.4h0M316.3 138.2h0M316.4 136.1h0M316.5 163.9h0M316.5 126.1h0M316.6 152.9h0M316.7 152.1h0M316.8 150.8h0M316.8 150.8h0M317.0 150.8h0M317.1 144.1h0M317.1 145.2h0M317.2 133.2h0M317.3 142.2h0M317.5 142.0h0M317.6 140.2h0M317.7 144.4h0M317.7 133.0h0M317.8 163.9h0M317.9 145.1h0M318.0 130.8h0M318.1 131.6h0M318.2 115.6h0M318.3 156.2h0M318.4 128.1h0M318.5 144.5h0M318.5 135.1h0M318.6 131.8h0M318.7 135.2h0M318.8 121.3h0M318.8 147.1h0M318.9 147.3h0M319.0 144.2h0M319.1 143.8h0M319.2 140.1h0M319.3 139.2h0M319.4 142.2h0M319.4 138.7h0M319.5 140.9h0M319.6 136.6h0M319.6 123.1h0M319.7 164.6h0M319.8 127.8h0M319.9 127.0h0M319.9 150.4h0M320.0 143.4h0M320.1 137.0h0M320.2 152.5h0M320.2 146.4h0M320.3 130.5h0M320.4 155.7h0M320.5 142.5h0M320.5 141.5h0M320.6 148.2h0M320.7 140.0h0M320.8 160.5h0M320.8 133.8h0M320.9 143.8h0M321.1 146.0h0M321.1 133.1h0M321.3 144.3h0M321.3 140.1h0M321.4 145.8h0M321.5 145.4h0M321.6 140.3h0M321.6 138.0h0M321.7 148.7h0M321.8 131.2h0M321.9 126.0h0M322.0 140.6h0M322.1 125.8h0M322.2 129.7h0M322.2 150.8h0M322.3 132.4h0M322.4 120.6h0M322.5 137.2h0M322.5 131.1h0M322.6 147.5h0M322.7 123.4h0M322.7 151.2h0M322.8 133.2h0M322.9 152.4h0M323.0 133.8h0M323.0 138.6h0M323.1 131.6h0M323.3 136.5h0M323.3 141.6h0M323.4 134.3h0M323.5 144.5h0M323.6 139.3h0M323.6 148.0h0M323.8 146.8h0M323.9 129.3h0M323.9 144.4h0M324.0 145.4h0M324.1 141.7h0M324.1 152.9h0M324.2 140.0h0M324.3 126.8h0M324.4 139.6h0M324.4 149.0h0M324.6 148.1h0M324.7 133.7h0M324.8 146.6h0M324.9 133.4h0M325.0 120.7h0M325.0 129.0h0M325.1 158.1h0M325.2 138.4h0M325.3 145.2h0M325.3 132.6h0M325.4 149.4h0M325.5 128.0h0M325.6 147.3h0M325.6 150.0h0M325.7 147.3h0M325.8 141.0h0M325.9 132.3h0M326.0 139.5h0M326.1 141.8h0M326.1 144.3h0M326.2 129.6h0M326.3 142.7h0M326.4 134.8h0M326.4 149.4h0M326.5 143.9h0M326.6 145.4h0M326.7 146.6h0M326.8 154.3h0M327.0 148.8h0M327.1 135.7h0M327.2 138.9h0M327.2 141.2h0M327.3 153.9h0M327.4 131.3h0M327.5 139.7h0M327.6 139.3h0M327.7 145.0h0M327.8 142.2h0M327.8 140.6h0M327.9 135.9h0M328.0 141.7h0M328.1 165.8h0M328.1 148.2h0M328.2 135.1h0M328.3 149.0h0M328.4 147.1h0M328.4 153.9h0M328.5 133.0h0M328.6 132.5h0M328.7 141.0h0M328.7 144.5h0M328.8 126.4h0M328.9 141.8h0M328.9 143.6h0M329.1 152.2h0M329.2 129.6h0M329.3 125.6h0M329.4 139.0h0M329.5 130.9h0M329.5 137.8h0M329.6 137.6h0M329.7 126.0h0M329.8 146.0h0M329.8 127.9h0M329.9 134.8h0M330.0 132.7h0M330.1 143.6h0M330.3 134.3h0M330.3 131.8h0M330.4 134.1h0M330.5 140.6h0M330.6 140.8h0M330.6 131.4h0M330.9 131.0h0M330.9 138.1h0M331.1 140.1h0M331.2 131.4h0M331.2 135.5h0M331.3 130.4h0M331.4 137.6h0M331.5 125.0h0M331.5 162.4h0M331.6 132.4h0M331.7 145.7h0M331.8 146.0h0M331.8 142.3h0M331.9 147.6h0M332.0 138.3h0M332.0 149.9h0M332.1 140.0h0M332.2 141.9h0M332.3 144.6h0M332.4 132.4h0M332.6 153.6h0M332.6 140.7h0M332.9 143.2h0M333.0 140.9h0M333.1 141.1h0M333.2 146.3h0M333.2 145.9h0M333.3 140.4h0M333.4 134.2h0M333.4 137.0h0M333.5 147.2h0M333.6 131.6h0M333.7 141.8h0M333.7 143.6h0M333.8 136.6h0M333.9 126.8h0M334.0 142.1h0M334.1 144.9h0M334.3 137.3h0M334.3 133.9h0M334.4 128.6h0M334.5 138.2h0M334.6 139.2h0M334.6 138.1h0M334.8 144.1h0M334.9 140.7h0M335.1 135.5h0M335.1 138.1h0M335.2 137.4h0M335.3 128.7h0M335.4 135.3h0M335.4 153.3h0M335.5 142.2h0M335.6 147.3h0M335.7 138.8h0M335.8 148.6h0M335.9 153.4h0M336.0 144.9h0M336.1 143.0h0M336.3 138.1h0M336.3 135.6h0M336.4 141.8h0M336.5 129.7h0M336.5 138.2h0M336.6 132.9h0M336.7 127.1h0M336.8 140.6h0M336.8 135.9h0M336.9 142.6h0M337.0 158.4h0M337.1 145.9h0M337.1 143.0h0M337.2 143.7h0M337.3 137.2h0M337.4 139.0h0M337.6 143.7h0M337.7 144.2h0M337.7 137.6h0M337.9 145.1h0M338.0 153.8h0M338.0 143.2h0M338.1 133.3h0M338.2 148.4h0M338.2 136.9h0M338.3 140.3h0M338.4 134.7h0M338.5 142.2h0M338.5 153.6h0M338.6 129.4h0M338.7 134.3h0M338.8 143.0h0M338.8 142.3h0M338.9 136.5h0M339.0 137.0h0M339.1 139.5h0M339.2 136.1h0M339.3 145.9h0M339.4 157.9h0M339.5 153.2h0M339.6 137.1h0M339.7 158.5h0M339.8 132.1h0M339.9 144.0h0M340.0 128.0h0M340.1 118.8h0M340.3 129.4h0M340.4 152.2h0M340.5 126.6h0M340.5 136.9h0M340.6 133.8h0M340.7 150.4h0M340.8 141.5h0M340.8 140.2h0M340.9 145.3h0M341.1 141.0h0M341.2 148.1h0M341.3 141.9h0M341.3 164.9h0M341.4 146.7h0M341.6 151.1h0M341.6 140.8h0M341.9 146.1h0M341.9 129.6h0M342.0 141.2h0M342.1 147.3h0M342.2 140.9h0M342.2 132.9h0M342.3 147.8h0M342.4 142.1h0M342.5 142.8h0M342.5 135.4h0M342.6 149.2h0M342.7 134.2h0M342.7 153.4h0M342.8 133.4h0M342.9 139.7h0M343.0 147.8h0M343.0 139.7h0M343.1 121.0h0M343.2 135.1h0M343.3 162.3h0M343.3 140.9h0M343.4 128.4h0M343.6 142.2h0M343.6 137.7h0M343.7 140.6h0M343.8 149.6h0M343.9 133.8h0M343.9 146.2h0M344.0 146.3h0M344.1 149.4h0M344.1 138.5h0M344.2 162.8h0M344.3 138.7h0M344.4 147.3h0M344.4 135.2h0M344.5 130.1h0M344.6 132.5h0M344.7 152.2h0M344.7 137.4h0M344.8 130.5h0M344.9 136.3h0M345.0 131.7h0M345.0 131.0h0M345.1 143.4h0M345.3 131.0h0M345.3 123.4h0M345.4 129.3h0M345.6 139.7h0M345.7 137.5h0M345.8 133.0h0M345.9 137.1h0M346.0 131.6h0M346.1 149.0h0M346.1 143.8h0M346.2 144.0h0M346.3 147.1h0M346.7 139.8h0M346.8 127.0h0M346.9 147.0h0M347.0 139.7h0M347.2 134.2h0M347.2 143.1h0M347.3 148.1h0M347.4 147.4h0M347.5 130.3h0M347.5 126.8h0M347.6 145.7h0M347.7 138.2h0M347.8 130.4h0M347.8 144.2h0M347.9 147.6h0M348.0 140.2h0M348.1 154.3h0M348.1 132.1h0M348.3 160.4h0M348.4 130.8h0M348.4 133.3h0M348.5 141.7h0M348.6 125.1h0M348.7 136.0h0M348.7 150.6h0M348.8 150.7h0M348.9 137.1h0M348.9 130.9h0M349.0 159.8h0M349.1 151.7h0M349.2 156.1h0M349.2 137.9h0M349.3 148.4h0M349.5 140.1h0M349.5 154.0h0M349.6 158.9h0M349.7 150.9h0M349.8 146.3h0M349.8 129.8h0M349.9 137.7h0M350.0 145.2h0M350.1 146.1h0M350.1 134.6h0M350.2 133.2h0M350.3 134.7h0M350.5 147.9h0M350.6 137.4h0M350.6 132.3h0M350.7 133.9h0M350.8 137.8h0M350.9 148.1h0M350.9 138.0h0M351.1 143.9h0M351.2 143.4h0M351.2 132.8h0M351.3 132.8h0M351.4 133.5h0M351.5 149.5h0M351.5 141.1h0M351.6 129.1h0M351.7 138.9h0M351.8 138.9h0M351.8 125.3h0M351.9 130.7h0M352.2 129.9h0M352.3 130.0h0M352.3 131.8h0M352.4 133.0h0M352.6 147.1h0M352.6 146.7h0M352.7 133.6h0M352.8 133.4h0M352.9 124.4h0M352.9 128.5h0M353.0 123.0h0M353.1 140.8h0M353.2 141.2h0M353.3 127.9h0M353.4 160.2h0M353.5 148.8h0M353.6 139.5h0M353.7 139.1h0M353.7 125.8h0M353.9 141.8h0M354.0 131.0h0M354.0 136.6h0M354.1 139.0h0M354.2 136.4h0M354.3 143.9h0M354.3 150.6h0M354.4 145.5h0M354.5 126.5h0M354.6 144.7h0M354.7 141.4h0M354.8 127.4h0M354.9 158.8h0M354.9 162.6h0M355.0 140.7h0M355.1 140.8h0M355.1 126.8h0M355.2 125.2h0M355.3 129.4h0M355.4 134.5h0M355.4 141.9h0M355.5 131.4h0M355.6 134.4h0M355.7 133.8h0M355.7 133.6h0M355.8 145.7h0M356.0 142.2h0M356.0 155.6h0M356.1 146.4h0M356.2 154.8h0M356.3 128.4h0M356.3 147.0h0M356.4 136.2h0M356.5 138.4h0M356.6 142.7h0M356.8 143.5h0M356.8 125.6h0M356.9 129.7h0M357.0 127.3h0M357.1 144.1h0M357.2 135.0h0M357.3 144.7h0M357.4 136.0h0M357.4 135.3h0M357.6 129.7h0M357.7 147.3h0M357.8 131.7h0M357.9 145.6h0M358.0 162.1h0M358.1 147.8h0M358.2 134.1h0M358.2 144.7h0M358.3 132.9h0M358.4 149.7h0M358.5 138.9h0M358.5 131.6h0M358.7 135.0h0M358.8 132.4h0M358.8 136.4h0M358.9 133.9h0M359.0 137.8h0M359.1 136.2h0M359.1 145.8h0M359.2 132.0h0M359.3 131.7h0M359.4 149.5h0M359.4 140.5h0M359.6 146.6h0M359.6 153.4h0M359.7 140.8h0M359.8 142.7h0M359.9 152.0h0M359.9 138.3h0M360.0 130.8h0M360.1 145.1h0M360.3 137.9h0M360.4 143.9h0M360.5 142.1h0M360.6 135.2h0M360.7 149.7h0M360.8 132.7h0M360.9 130.3h0M361.0 146.0h0M361.1 126.9h0M361.2 137.6h0M361.3 132.2h0M361.3 151.6h0M361.4 139.6h0M361.5 122.7h0M361.6 138.2h0M361.6 140.8h0M361.7 123.7h0M362.0 140.7h0M362.1 141.9h0M362.2 150.9h0M362.2 155.1h0M362.3 134.0h0M362.5 132.8h0M362.5 149.8h0M362.7 133.4h0M362.8 149.8h0M363.0 141.6h0M363.1 133.9h0M363.2 151.8h0M363.3 121.4h0M363.3 128.5h0M363.5 134.6h0M363.6 129.0h0M363.6 144.0h0M363.7 143.7h0M363.8 135.8h0M363.9 141.3h0M363.9 141.9h0M364.0 142.2h0M364.1 116.2h0M364.1 143.2h0M364.3 142.4h0M364.4 140.3h0M364.4 118.1h0M364.5 136.1h0M364.6 154.0h0M364.7 139.0h0M364.7 145.4h0M364.9 132.7h0M365.0 133.9h0M365.0 125.7h0M365.1 143.6h0M365.2 141.8h0M365.4 149.6h0M365.6 128.8h0M365.6 140.7h0M365.7 146.4h0M365.8 136.9h0M365.8 134.6h0M365.9 122.2h0M366.0 144.9h0M366.1 143.4h0M366.1 137.4h0M366.2 127.9h0M366.3 134.2h0M366.4 151.2h0M366.4 148.2h0M366.5 145.5h0M366.6 145.1h0M366.7 135.3h0M366.8 135.7h0M366.9 129.5h0M367.0 137.7h0M367.2 130.8h0M367.2 146.0h0M367.3 141.8h0M367.4 135.5h0M367.5 137.9h0M367.5 129.9h0M367.6 133.3h0M367.7 133.9h0M367.8 146.7h0M367.8 142.9h0M367.9 148.9h0M368.0 138.6h0M368.1 133.7h0M368.1 144.6h0M368.2 129.4h0M368.3 141.1h0M368.4 133.0h0M368.4 145.2h0M368.6 153.8h0M368.7 132.6h0M368.7 140.2h0M368.8 125.7h0M368.9 136.8h0M368.9 154.1h0M369.0 132.5h0M369.1 152.6h0M369.2 138.6h0M369.2 140.8h0M369.3 127.1h0M369.4 154.2h0M369.5 123.2h0M369.5 127.2h0M369.7 138.8h0M369.8 145.3h0M369.8 151.8h0M369.9 145.4h0M370.0 147.3h0M370.1 137.0h0M370.1 144.2h0M370.2 150.8h0M370.3 146.0h0M370.4 137.9h0M370.5 145.1h0M370.6 143.5h0M370.6 153.8h0M370.8 130.8h0M370.9 140.3h0M370.9 122.5h0M371.0 126.8h0M371.1 143.3h0M371.2 132.9h0M371.4 145.4h0M371.5 142.4h0M371.5 131.6h0M371.6 142.4h0M371.8 139.6h0M371.9 136.7h0M372.0 139.1h0M372.0 138.9h0M372.1 150.2h0M372.2 144.0h0M372.3 157.5h0M372.3 148.2h0M372.4 127.4h0M372.5 136.9h0M372.6 118.5h0M372.6 126.4h0M372.7 127.7h0M372.8 143.2h0M372.9 143.3h0M372.9 145.6h0M373.0 129.6h0M373.1 139.7h0M373.2 139.2h0M373.3 135.1h0M373.4 142.8h0M373.4 144.9h0M373.5 138.8h0M373.6 139.1h0M373.7 142.5h0M373.8 131.9h0M373.9 136.1h0M374.0 135.2h0M374.0 152.7h0M374.1 140.4h0M374.2 138.9h0M374.3 137.2h0M374.3 132.3h0M374.4 124.2h0M374.5 137.0h0M374.6 123.0h0M374.6 158.7h0M374.8 130.3h0M374.9 121.5h0M375.1 137.0h0M375.1 136.7h0M375.3 133.7h0M375.4 133.8h0M375.4 156.8h0M375.6 135.8h0M375.7 143.6h0M375.8 151.8h0M375.9 135.2h0M376.0 122.2h0M376.0 156.6h0M376.2 146.0h0M376.3 133.5h0M376.3 136.7h0M376.4 130.2h0M376.5 134.4h0M376.5 137.9h0M376.6 124.9h0M376.7 141.9h0M376.8 127.8h0M376.9 136.5h0M377.1 132.2h0M377.1 135.5h0M377.2 134.4h0M377.3 130.5h0M377.4 146.9h0M377.4 127.9h0M377.5 138.4h0M377.6 138.4h0M377.7 144.9h0M377.7 147.4h0M377.8 156.8h0M378.0 127.0h0M378.0 146.1h0M378.1 134.1h0M378.2 134.6h0M378.4 149.1h0M378.5 127.6h0M378.5 138.6h0M378.7 123.7h0M378.8 131.1h0M379.0 136.9h0M379.1 137.8h0M379.1 137.1h0M379.2 136.9h0M379.3 139.7h0M379.4 125.5h0M379.4 141.4h0M379.5 144.0h0M379.6 137.7h0M379.6 132.0h0M379.7 139.3h0M379.8 128.1h0M379.9 141.9h0M379.9 136.1h0M380.0 140.2h0M380.1 136.6h0M380.2 143.7h0M380.2 137.7h0M380.3 139.6h0M380.4 131.0h0M380.5 142.6h0M380.6 131.6h0M380.8 123.5h0M380.8 136.7h0M380.9 136.5h0M381.0 147.3h0M381.1 141.0h0M381.2 126.7h0M381.3 144.2h0M381.4 136.7h0M381.5 146.7h0M381.6 139.2h0M381.7 145.4h0M381.8 137.9h0M381.9 135.9h0M381.9 149.2h0M382.0 139.5h0M382.1 130.9h0M382.2 132.9h0M382.2 151.7h0M382.3 139.3h0M382.4 137.1h0M382.5 125.0h0M382.5 133.2h0M382.6 143.9h0M382.7 137.3h0M382.7 139.3h0M382.8 130.8h0M382.9 143.7h0M383.0 150.9h0M383.0 146.7h0M383.2 133.5h0M383.3 129.2h0M383.4 150.7h0M383.6 144.9h0M383.7 141.5h0M383.8 144.1h0M383.9 156.2h0M383.9 126.2h0M384.0 143.6h0M384.1 138.5h0M384.1 126.3h0M384.2 126.3h0M384.3 140.5h0M384.4 137.6h0M384.4 136.1h0M384.5 135.3h0M384.6 134.1h0M384.7 134.1h0M384.7 139.7h0M385.0 145.3h0M385.0 136.0h0M385.1 125.9h0M385.2 134.8h0M385.3 141.6h0M385.3 151.4h0M385.4 132.4h0M385.5 155.7h0M385.6 135.3h0M385.6 158.1h0M385.7 140.6h0M385.8 136.4h0M385.8 132.2h0M385.9 131.0h0M386.0 143.1h0M386.1 132.7h0M386.1 133.5h0M386.2 137.1h0M386.3 138.5h0M386.4 147.1h0M386.4 128.9h0M386.5 140.1h0M386.6 139.4h0M386.7 146.1h0M386.8 138.2h0M386.9 150.2h0M387.0 147.8h0M387.0 128.0h0M387.1 127.4h0M387.2 138.7h0M387.2 147.4h0M387.3 144.7h0M387.4 148.9h0M387.5 131.5h0M387.6 133.1h0M387.7 135.7h0M387.8 129.7h0M387.9 132.4h0M388.0 133.5h0M388.1 134.4h0M388.1 139.8h0M388.3 137.6h0M388.4 138.2h0M388.5 140.5h0M388.7 146.5h0M388.7 139.4h0M388.8 135.7h0M388.9 130.4h0M388.9 144.1h0M389.0 140.1h0M389.2 140.9h0M389.3 142.5h0M389.4 133.7h0M389.5 134.9h0M389.5 129.5h0M389.6 138.8h0M389.7 128.1h0M389.8 139.8h0M389.9 145.7h0M390.0 146.8h0M390.1 137.2h0M390.2 138.0h0M390.3 134.9h0M390.3 146.3h0M390.4 138.5h0M390.5 133.4h0M390.6 145.2h0M390.6 132.2h0M390.7 130.6h0M390.8 141.8h0M390.9 130.9h0M390.9 138.9h0M391.1 147.9h0M391.2 144.7h0M391.2 142.4h0M391.3 140.8h0M391.4 124.1h0M391.5 146.8h0M391.5 141.7h0M391.6 147.5h0M391.7 145.5h0M391.8 134.6h0M391.8 142.5h0M391.9 128.6h0M392.0 147.8h0M392.0 149.1h0M392.1 153.0h0M392.2 153.8h0M392.3 128.1h0M392.3 127.4h0M392.4 135.4h0M392.5 139.6h0M392.6 129.7h0M392.6 139.6h0M392.7 125.0h0M392.8 123.1h0M393.0 132.6h0M393.1 147.5h0M393.2 145.1h0M393.2 142.4h0M393.3 135.1h0M393.4 152.3h0M393.4 139.1h0M393.5 135.8h0M393.6 149.7h0M393.7 139.6h0M393.7 131.5h0M393.8 125.1h0M393.9 134.8h0M394.0 134.4h0M394.0 136.4h0M394.1 138.0h0M394.2 140.4h0M394.3 163.2h0M394.3 142.6h0M394.4 132.8h0M394.5 139.7h0M394.6 141.7h0M394.6 135.0h0M394.7 124.8h0M394.8 129.9h0M394.9 134.5h0M394.9 133.6h0M395.0 131.9h0M395.1 143.2h0M395.1 136.2h0M395.4 151.9h0M395.4 140.4h0M395.5 155.3h0M395.6 134.2h0M395.7 134.4h0M395.7 136.9h0M395.9 140.4h0M396.0 136.9h0M396.1 137.6h0M396.2 153.2h0M396.3 162.3h0M396.3 150.5h0M396.4 132.1h0M396.5 131.9h0M396.6 148.9h0M396.7 142.7h0M396.8 130.5h0M396.9 142.5h0M397.0 136.6h0M397.1 139.6h0M397.1 143.7h0M397.2 150.9h0M397.3 142.0h0M397.4 137.7h0M397.5 131.4h0M397.6 129.2h0M397.7 139.9h0M397.7 140.9h0M397.8 152.8h0M397.9 141.9h0M398.0 135.1h0M398.1 131.8h0M398.2 132.8h0M398.3 146.1h0M398.4 134.9h0M398.5 137.9h0M398.5 137.1h0M398.6 140.7h0M398.8 129.1h0M398.8 139.9h0M398.9 145.4h0M399.0 138.5h0M399.1 140.4h0M399.2 144.6h0M399.3 135.0h0M399.4 136.1h0M399.4 135.2h0M399.5 141.4h0M399.6 132.8h0M399.6 151.7h0M399.7 144.3h0M399.8 140.4h0M399.9 138.1h0M399.9 126.3h0M400.0 138.2h0M400.1 130.5h0M400.2 160.2h0M400.2 131.7h0M400.3 148.7h0M400.4 144.6h0M400.5 137.1h0M400.5 128.5h0M400.6 138.3h0M400.7 136.6h0M400.8 127.2h0M401.0 149.1h0M401.3 143.9h0M401.3 153.4h0M401.4 132.7h0M401.5 132.6h0M401.6 132.3h0M401.6 124.8h0M401.7 146.8h0M401.8 146.2h0M401.9 134.8h0M401.9 152.5h0M402.0 133.9h0M402.1 145.6h0M402.2 150.0h0M402.2 139.6h0M402.3 135.3h0M402.4 134.8h0M402.5 149.8h0M402.5 138.2h0M402.6 135.1h0M402.7 125.9h0M402.8 136.2h0M402.9 150.4h0M403.0 140.0h0M403.0 141.9h0M403.1 150.0h0M403.3 143.3h0M403.3 136.3h0M403.4 131.6h0M403.5 128.5h0M403.6 141.9h0M403.6 141.8h0M403.7 143.0h0M403.8 139.5h0M403.9 144.1h0M403.9 158.1h0M404.0 145.8h0M404.1 135.6h0M404.1 132.3h0M404.2 130.3h0M404.3 151.6h0M404.4 135.9h0M404.4 144.1h0M404.5 149.9h0M404.6 158.0h0M404.7 144.7h0M404.7 141.7h0M404.8 137.5h0M404.9 122.0h0M405.0 137.8h0M405.0 145.4h0M405.1 143.3h0M405.2 149.4h0M405.3 133.8h0M405.3 134.2h0M405.4 148.0h0M405.5 144.0h0M405.6 147.8h0M405.6 134.1h0M405.7 142.3h0M405.8 139.3h0M405.8 133.3h0M405.9 142.4h0M406.0 157.0h0M406.1 144.7h0M406.1 144.0h0M406.2 138.1h0M406.3 148.6h0M406.4 148.8h0M406.4 131.5h0M406.5 137.5h0M406.6 130.6h0M406.7 140.9h0M406.7 143.0h0M406.8 145.8h0M407.0 136.7h0M407.0 142.8h0M407.2 161.8h0M407.2 134.8h0M407.4 153.2h0M407.5 141.8h0M407.5 133.2h0M407.6 146.5h0M407.7 151.1h0M407.8 164.2h0M407.8 135.9h0M407.9 133.7h0M408.0 138.7h0M408.1 167.9h0M408.1 150.5h0M408.2 143.2h0M408.4 151.3h0M408.4 157.6h0M408.5 129.9h0M408.6 139.4h0M408.7 150.7h0M408.8 142.6h0M408.9 149.2h0M408.9 133.1h0M409.0 144.5h0M409.1 124.8h0M409.2 144.0h0M409.2 138.1h0M409.3 142.1h0M409.4 138.0h0M409.5 136.6h0M409.5 135.5h0M409.6 142.6h0M409.7 134.6h0M409.8 138.0h0M409.9 134.1h0M410.0 123.5h0M410.1 135.6h0M410.1 146.8h0M410.2 125.5h0M410.3 141.0h0M410.3 133.8h0M410.4 139.2h0M410.5 138.9h0M410.6 151.7h0M410.6 151.1h0M410.7 133.5h0M410.8 143.1h0M410.9 141.5h0M410.9 144.9h0M411.0 151.0h0M411.1 129.3h0M411.2 142.2h0M411.2 134.9h0M411.3 142.9h0M411.4 138.0h0M411.5 139.7h0M411.6 142.7h0M411.7 138.2h0M411.8 132.5h0M411.8 134.3h0M411.9 153.2h0M412.0 123.7h0M412.0 138.8h0M412.1 122.7h0M412.2 145.9h0M412.3 139.1h0M412.3 135.1h0M412.4 144.2h0M412.5 124.4h0M412.6 141.0h0M412.7 150.1h0M412.9 143.4h0M412.9 143.9h0M413.0 129.3h0M413.1 137.3h0M413.2 130.3h0M413.2 131.1h0M413.3 141.2h0M413.4 141.8h0M413.4 130.3h0M413.5 131.4h0M413.6 146.9h0M413.7 126.7h0M413.7 137.2h0M413.8 142.1h0M413.9 134.7h0M414.0 150.1h0M414.1 140.7h0M414.2 131.8h0M414.3 128.0h0M414.4 141.1h0M414.5 143.5h0M414.6 147.3h0M414.6 139.7h0M414.7 144.5h0M414.9 154.7h0M414.9 134.2h0M415.0 136.2h0M415.1 139.4h0M415.2 143.5h0M415.3 136.0h0M415.4 147.5h0M415.4 135.3h0M415.5 133.7h0M415.6 126.8h0M415.7 129.4h0M415.7 142.1h0M415.8 131.2h0M416.0 145.1h0M416.1 137.6h0M416.2 141.4h0M416.3 139.2h0M416.3 132.8h0M416.4 141.8h0M416.5 131.4h0M416.5 145.1h0M416.6 141.8h0M416.7 149.0h0M416.8 143.8h0M416.8 148.4h0M417.0 144.6h0M417.1 132.0h0M417.2 141.9h0M417.3 136.4h0M417.4 146.5h0M417.4 152.0h0M417.5 151.2h0M417.6 144.7h0M417.7 128.9h0M417.7 141.4h0M417.9 129.6h0M418.0 128.4h0M418.1 146.1h0M418.2 143.3h0M418.2 124.0h0M418.4 125.9h0M418.5 154.3h0M418.5 144.7h0M418.6 131.8h0M418.7 142.2h0M418.8 148.2h0M418.8 139.7h0M418.9 134.1h0M419.0 148.0h0M419.1 136.1h0M419.1 129.4h0M419.3 143.8h0M419.4 126.2h0M419.4 136.7h0M419.5 145.4h0M419.6 166.4h0M419.6 141.3h0M419.7 136.4h0M419.8 135.1h0M419.9 123.7h0M419.9 146.6h0M420.0 117.8h0M420.2 151.6h0M420.2 123.5h0M420.3 144.3h0M420.4 129.9h0M420.5 134.4h0M420.5 146.8h0M420.6 144.8h0M420.7 128.6h0M420.8 129.5h0M420.8 150.2h0M420.9 136.7h0M421.0 124.4h0M421.2 145.5h0M421.3 144.9h0M421.3 129.5h0M421.4 133.0h0M421.5 149.2h0M421.6 141.9h0M421.7 124.6h0M421.8 149.5h0M421.9 129.0h0M421.9 132.8h0M422.0 127.3h0M422.1 135.8h0M422.2 145.2h0M422.2 124.9h0M422.3 147.5h0M422.4 142.5h0M422.5 135.9h0M422.5 147.0h0M422.7 148.3h0M422.8 139.2h0M423.0 137.4h0M423.0 153.1h0M423.1 139.2h0M423.2 137.1h0M423.3 134.5h0M423.4 123.9h0M423.5 134.3h0M423.6 130.7h0M423.7 135.0h0M423.8 143.5h0M423.9 138.9h0M423.9 129.6h0M424.0 141.7h0M424.1 145.8h0M424.1 133.2h0M424.2 144.3h0M424.3 138.8h0M424.4 139.3h0M424.4 146.4h0M424.5 135.4h0M424.6 134.9h0M424.7 144.0h0M424.7 147.2h0M424.8 143.8h0M424.9 147.6h0M425.0 126.0h0M425.0 145.7h0M425.3 142.6h0M425.3 141.0h0M425.4 135.5h0M425.5 136.9h0M425.6 125.9h0M425.6 130.6h0M425.8 138.5h0M425.8 140.6h0M425.9 138.6h0M426.0 157.3h0M426.1 132.3h0M426.1 127.7h0M426.3 125.5h0M426.4 131.3h0M426.4 131.4h0M426.5 164.4h0M426.6 129.6h0M426.7 138.0h0M426.8 138.6h0M426.9 140.1h0M427.0 134.9h0M427.0 145.3h0M427.1 150.6h0M427.2 141.1h0M427.2 152.2h0M427.3 138.1h0M427.4 140.9h0M427.5 144.2h0M427.5 140.3h0M427.6 143.0h0M427.7 129.2h0M428.0 151.0h0M428.1 147.3h0M428.1 146.1h0M428.2 147.6h0M428.3 134.5h0M428.4 131.9h0M428.4 125.2h0M428.5 142.3h0M428.6 142.2h0M428.7 140.5h0M428.7 146.2h0M428.8 135.8h0M428.9 149.0h0M428.9 139.5h0M429.0 139.5h0M429.2 154.9h0M429.2 123.0h0M429.4 146.8h0M429.5 152.9h0M429.5 131.1h0M429.6 141.5h0M429.7 122.5h0M429.8 150.6h0M429.8 137.5h0M430.0 156.7h0M430.1 144.9h0M430.1 137.9h0M430.2 141.3h0M430.3 131.6h0M430.3 136.9h0M430.4 132.1h0M430.5 147.6h0M430.6 137.6h0M430.6 130.6h0M430.7 142.4h0M430.9 141.4h0M430.9 130.4h0M431.0 145.1h0M431.1 132.3h0M431.2 147.3h0M431.3 133.0h0M431.4 139.5h0M431.5 124.9h0M431.7 136.9h0M431.8 140.5h0M431.8 146.9h0M431.9 157.6h0M432.0 124.5h0M432.0 145.5h0M432.1 135.8h0M432.2 123.8h0M432.3 130.3h0M432.3 149.8h0M432.4 133.8h0M432.6 139.5h0M432.6 140.5h0M432.7 124.7h0M432.8 140.1h0M432.9 148.1h0M432.9 141.0h0M433.0 146.0h0M433.1 133.6h0M433.2 135.8h0M433.3 140.8h0M433.4 135.4h0M433.6 137.8h0M433.7 136.4h0M433.7 134.6h0M433.8 136.8h0M433.9 139.2h0M434.0 125.8h0M434.0 132.9h0M434.1 135.6h0M434.3 137.2h0M434.3 148.0h0M434.4 109.6h0M434.6 155.5h0M434.6 139.1h0M434.7 139.1h0M434.8 150.2h0M434.8 138.3h0M434.9 126.7h0M435.1 140.3h0M435.1 142.5h0M435.2 144.2h0M435.4 151.4h0M435.4 140.4h0M435.5 155.0h0M435.6 151.8h0M435.7 130.5h0M435.8 136.8h0M435.9 156.7h0M436.0 153.5h0M436.0 131.8h0M436.1 138.1h0M436.2 138.8h0M436.3 149.7h0M436.3 152.3h0M436.4 126.1h0M436.5 139.6h0M436.5 120.4h0M436.7 135.2h0M436.8 138.1h0M436.8 141.4h0M436.9 149.5h0M437.0 147.2h0M437.1 145.3h0M437.2 133.5h0M437.3 147.0h0M437.4 146.7h0M437.4 139.6h0M437.5 142.2h0M437.6 138.6h0M437.7 137.1h0M437.7 146.3h0M437.8 138.9h0M437.9 124.9h0M437.9 139.8h0M438.0 136.2h0M438.1 150.5h0M438.2 136.1h0M438.2 136.8h0M438.3 143.3h0M438.5 133.8h0M438.6 148.7h0M438.7 130.8h0M438.8 142.1h0M438.9 134.7h0M439.0 157.1h0M439.1 126.0h0M439.1 145.2h0M439.2 134.8h0M439.3 134.2h0M439.4 140.8h0M439.4 139.1h0M439.5 144.2h0M439.6 129.6h0M439.6 134.6h0M439.7 152.4h0M439.8 137.2h0M439.9 144.0h0M439.9 136.5h0M440.0 132.5h0M440.1 134.0h0M440.2 161.2h0M440.2 134.4h0M440.3 148.8h0M440.5 145.4h0M440.5 156.4h0M440.6 133.4h0M440.7 148.2h0M440.8 134.6h0M440.8 143.4h0M440.9 126.2h0M441.0 135.4h0M441.0 139.1h0M441.1 143.2h0M441.2 140.2h0M441.3 141.4h0M441.3 143.3h0M441.4 139.5h0M441.5 128.6h0M441.6 130.1h0M441.6 133.0h0M441.7 142.0h0M441.9 136.7h0M441.9 149.3h0M442.0 151.2h0M442.1 147.9h0M442.2 145.2h0M442.2 138.6h0M442.3 151.6h0M442.4 142.8h0M442.5 151.7h0M442.6 131.5h0M442.7 140.5h0M442.7 146.5h0M442.8 149.2h0M442.9 131.4h0M443.0 150.7h0M443.0 152.4h0M443.1 147.8h0M443.2 133.2h0M443.3 140.8h0M443.3 146.4h0M443.4 135.2h0M443.6 131.9h0M443.6 141.6h0M443.7 143.5h0M443.8 145.3h0M443.9 145.1h0M444.0 131.8h0M444.1 136.3h0M444.1 135.9h0M444.3 136.2h0M444.4 151.0h0M444.4 154.7h0M444.5 139.2h0M444.6 139.8h0M444.7 139.2h0M444.7 148.6h0M444.9 148.2h0M445.0 142.8h0M445.0 141.7h0M445.1 136.2h0M445.2 127.3h0M445.3 121.8h0M445.3 156.5h0M445.4 125.6h0M445.5 134.7h0M445.6 136.3h0M445.7 137.9h0M445.8 137.1h0M445.8 134.3h0M445.9 145.9h0M446.0 130.6h0M446.1 146.2h0M446.1 142.7h0M446.2 140.0h0M446.3 142.0h0M446.4 125.9h0M446.4 158.9h0M446.5 136.1h0M446.6 133.3h0M446.7 133.8h0M446.7 134.5h0M446.8 136.2h0M447.0 131.7h0M447.0 157.6h0M447.2 136.4h0M447.3 141.1h0M447.4 139.0h0M447.5 143.9h0M447.6 143.8h0M447.7 155.8h0M447.8 140.5h0M447.8 125.7h0M447.9 129.5h0M448.0 138.0h0M448.1 127.3h0M448.2 138.0h0M448.3 144.3h0M448.4 118.6h0M448.4 142.1h0M448.5 141.3h0M448.7 146.1h0M448.7 155.1h0M448.9 136.5h0M448.9 145.2h0M449.0 129.8h0M449.1 133.8h0M449.2 131.9h0M449.2 131.9h0M449.4 135.9h0M449.5 124.5h0M449.5 157.1h0M449.6 145.7h0M449.7 138.7h0M449.8 138.9h0M449.9 121.0h0M450.0 133.5h0M450.1 136.5h0M450.1 134.5h0M450.2 148.9h0M450.3 153.8h0M450.3 146.2h0M450.4 142.0h0M450.5 134.0h0M450.6 144.5h0M450.6 148.8h0M450.7 152.1h0M450.8 136.7h0M450.9 125.7h0M450.9 142.4h0M451.0 132.3h0M451.1 136.1h0M451.2 132.6h0M451.2 144.9h0M451.3 143.6h0M451.4 126.9h0M451.5 142.7h0M451.6 133.2h0M451.7 138.1h0M451.8 139.2h0M451.8 137.8h0M451.9 136.3h0M452.0 144.7h0M452.0 137.6h0M452.1 145.5h0M452.2 152.2h0M452.3 140.4h0M452.3 143.9h0M452.4 137.7h0M452.5 141.3h0M452.6 135.3h0M452.6 148.4h0M452.7 129.1h0M452.9 142.2h0M452.9 134.9h0M453.0 135.2h0M453.1 129.3h0M453.2 150.9h0M453.2 130.5h0M453.3 139.3h0M453.4 135.2h0M453.4 133.8h0M453.5 139.9h0M453.6 135.7h0M453.7 136.3h0M453.7 131.3h0M453.8 137.2h0M453.9 144.3h0M454.0 145.8h0M454.1 134.1h0M454.2 132.1h0M454.3 147.1h0M454.3 144.1h0M454.4 135.6h0M454.5 149.1h0M454.6 144.3h0M454.6 130.5h0M454.7 148.6h0M454.8 134.8h0M454.8 131.0h0M454.9 138.6h0M455.1 141.8h0M455.1 128.3h0M455.2 177.5h0M455.3 146.3h0M455.4 133.6h0M455.4 132.3h0M455.5 147.8h0M455.6 137.8h0M455.7 152.2h0M455.7 145.4h0M455.8 134.1h0M456.1 132.3h0M456.2 142.2h0M456.3 134.5h0M456.3 140.3h0M456.4 147.9h0M456.5 137.2h0M456.5 148.4h0M456.6 155.4h0M456.7 140.1h0M456.8 139.0h0M456.8 138.5h0M456.9 147.4h0M457.0 133.0h0M457.1 144.0h0M457.1 139.0h0M457.2 131.8h0M457.3 132.3h0M457.4 140.1h0M457.4 123.4h0M457.5 139.4h0M457.7 141.9h0M457.9 155.3h0M457.9 133.0h0M458.1 124.8h0M458.2 128.7h0M458.2 150.0h0M458.4 136.6h0M458.5 130.7h0M458.5 137.5h0M458.7 146.8h0M458.8 146.5h0M458.8 136.1h0M458.9 159.9h0M459.1 136.5h0M459.1 137.7h0M459.2 132.8h0M459.3 139.4h0M459.4 162.3h0M459.4 143.5h0M459.5 133.7h0M459.6 151.9h0M459.7 161.7h0M459.8 148.6h0M459.9 136.8h0M460.0 143.7h0M460.1 133.9h0M460.2 145.3h0M460.2 140.7h0M460.3 139.9h0M460.4 140.7h0M460.5 137.2h0M460.5 129.6h0M460.6 158.2h0M460.7 143.7h0M460.8 142.8h0M460.9 151.7h0M461.0 139.8h0M461.0 143.2h0M461.1 130.8h0M461.2 137.7h0M461.3 131.5h0M461.4 137.2h0M461.5 152.5h0M461.6 148.7h0M461.7 127.4h0M461.8 133.6h0M461.9 152.7h0M461.9 127.2h0M462.0 135.7h0M462.1 153.8h0M462.2 126.9h0M462.2 141.0h0M462.3 135.7h0M462.4 128.7h0M462.5 150.3h0M462.6 136.1h0M462.7 137.4h0M462.8 150.7h0M463.0 127.5h0M463.0 137.9h0M463.1 145.1h0M463.2 124.4h0M463.3 130.1h0M463.3 137.0h0M463.4 125.6h0M463.5 135.8h0M463.6 144.3h0M463.6 134.0h0M463.7 131.6h0M463.8 146.3h0M463.9 140.3h0M464.1 137.7h0M464.1 142.1h0M464.2 127.1h0M464.3 151.9h0M464.4 154.7h0M464.6 127.0h0M464.7 137.7h0M464.7 128.3h0M464.8 134.9h0M464.9 138.1h0M465.0 129.4h0M465.1 142.9h0M465.2 138.4h0M465.3 147.7h0M465.3 149.4h0M465.4 138.4h0M465.6 121.3h0M465.6 130.4h0M465.7 155.0h0M465.8 142.7h0M465.8 131.0h0M465.9 139.9h0M466.0 140.1h0M466.1 134.2h0M466.1 140.3h0M466.2 131.3h0M466.3 148.5h0M466.4 149.9h0M466.4 150.2h0M466.5 131.4h0M466.6 134.0h0M466.7 150.5h0M466.8 134.9h0M466.9 128.2h0M467.0 135.4h0M467.1 147.3h0M467.2 138.7h0M467.2 143.6h0M467.3 140.8h0M467.4 140.6h0M467.5 129.4h0M467.6 139.4h0M467.7 157.9h0M467.8 139.1h0M467.8 121.8h0M467.9 139.9h0M468.0 146.5h0M468.1 130.6h0M468.1 131.7h0M468.2 137.3h0M468.3 123.0h0M468.4 119.7h0M468.6 137.6h0M468.7 131.2h0M468.7 135.7h0M468.8 128.5h0M468.9 133.3h0M468.9 143.3h0M469.1 142.2h0M469.2 153.3h0M469.3 133.4h0M469.4 152.0h0M469.5 149.1h0M469.5 134.3h0M469.6 150.3h0M469.7 151.2h0M469.8 137.5h0M469.8 138.6h0M469.9 136.1h0M470.0 129.5h0M470.1 132.6h0M470.1 141.9h0M470.2 142.7h0M470.3 131.6h0M470.3 145.4h0M470.4 141.8h0M470.5 143.1h0M470.6 120.5h0M470.6 140.0h0M470.7 154.3h0M470.8 135.2h0M470.9 150.3h0M470.9 129.7h0M471.1 156.1h0M471.2 140.6h0M471.2 133.0h0M471.3 137.6h0M471.4 144.7h0M471.5 134.9h0M471.5 124.3h0M471.6 170.9h0M471.7 136.0h0M471.9 155.7h0M472.0 135.0h0M472.1 144.1h0M472.3 146.7h0M472.3 137.7h0M472.4 147.4h0M472.5 143.3h0M472.6 130.1h0M472.6 154.7h0M472.7 141.3h0M472.9 135.5h0M472.9 138.1h0M473.1 150.6h0M473.2 122.2h0M473.3 148.4h0M473.4 135.8h0M473.5 134.3h0M473.7 149.0h0M473.8 131.6h0M473.9 132.7h0M474.0 138.4h0M474.0 152.6h0M474.2 131.5h0M474.3 140.6h0M474.3 139.2h0M474.4 131.0h0M474.5 138.4h0M474.6 150.8h0M474.6 137.9h0M474.8 135.9h0M474.8 137.2h0M474.9 140.0h0M475.0 135.3h0M475.1 153.7h0M475.1 124.3h0M475.2 147.4h0M475.3 133.2h0M475.4 126.2h0M475.5 137.4h0M475.6 144.3h0M475.7 150.6h0M475.7 138.3h0M475.8 130.4h0M475.9 140.9h0M476.0 136.5h0M476.0 141.7h0M476.1 136.1h0M476.2 147.4h0M476.3 136.6h0M476.3 149.2h0M476.4 140.3h0M476.6 136.0h0M476.7 135.6h0M476.8 147.1h0M476.9 126.0h0M477.0 141.7h0M477.1 155.2h0M477.1 143.4h0M477.2 149.9h0M477.3 152.5h0M477.4 149.9h0M477.4 139.8h0M477.5 140.4h0M477.6 146.1h0M477.7 136.8h0M477.9 128.7h0M477.9 132.2h0M478.0 137.9h0M478.2 133.4h0M478.3 155.2h0M478.5 128.5h0M478.7 134.8h0M478.8 143.9h0M478.8 144.6h0M478.9 137.3h0M479.1 144.0h0M479.2 132.3h0M479.3 143.8h0M479.4 145.2h0M479.5 136.0h0M479.6 126.4h0M479.6 132.4h0M479.7 132.4h0M479.8 125.5h0M479.9 147.7h0M479.9 159.9h0M480.0 139.0h0M480.1 148.1h0M480.2 142.0h0M480.2 139.3h0M480.3 153.0h0M480.4 141.8h0M480.5 126.6h0M480.5 156.5h0M480.6 143.8h0M480.7 140.6h0M480.8 134.2h0M480.9 143.8h0M481.0 138.3h0M481.0 142.0h0M481.1 136.6h0M481.2 143.6h0M481.3 141.0h0M481.4 148.5h0M481.5 140.2h0M481.6 142.5h0M481.6 140.0h0M481.7 139.9h0M481.8 137.5h0M481.9 134.2h0M482.0 126.3h0M482.2 150.4h0M482.2 136.3h0M482.3 133.9h0M482.4 138.7h0M482.5 141.5h0M482.6 147.7h0M482.7 143.8h0M482.7 125.6h0M482.8 141.6h0M482.9 153.9h0M483.0 126.9h0M483.0 146.2h0M483.1 133.6h0M483.2 139.6h0M483.3 124.3h0M483.4 135.0h0M483.6 134.1h0M483.6 124.6h0M483.7 162.3h0M483.8 148.8h0M483.9 141.2h0M483.9 152.4h0M484.0 132.5h0M484.1 152.3h0M484.2 122.7h0M484.3 136.4h0M484.4 137.4h0M484.6 145.5h0M484.7 149.9h0M484.7 138.6h0M484.8 133.3h0M484.9 144.2h0M485.0 129.5h0M485.0 121.5h0M485.1 136.6h0M485.2 144.5h0M485.3 124.8h0M485.3 132.6h0M485.5 131.8h0M485.6 141.5h0M485.6 135.3h0M485.7 155.3h0M485.8 118.9h0M485.8 136.1h0M486.0 155.3h0M486.1 130.7h0M486.3 131.9h0M486.4 131.3h0M486.4 136.6h0M486.5 144.1h0M486.6 133.7h0M486.7 145.3h0M486.7 144.4h0M486.8 134.3h0M486.9 146.9h0M487.0 124.0h0M487.0 130.5h0M487.1 147.9h0M487.2 141.8h0M487.2 135.5h0M487.3 137.1h0M487.5 132.4h0M487.5 161.8h0M487.6 131.2h0M487.7 130.6h0M487.8 134.6h0M487.9 133.6h0M488.0 120.1h0M488.2 138.1h0M488.3 135.2h0M488.4 126.0h0M488.4 136.5h0M488.5 151.4h0M488.6 140.5h0M488.7 139.7h0M488.8 145.4h0M488.9 153.1h0M488.9 150.7h0M489.0 140.0h0M489.1 126.6h0M489.2 134.3h0M489.2 141.6h0M489.3 146.9h0M489.4 144.5h0M489.5 119.9h0M489.5 149.1h0M489.6 148.6h0M489.7 154.2h0M489.8 136.0h0M489.9 145.8h0M490.0 142.6h0M490.1 126.0h0M490.1 137.7h0M490.2 130.6h0M490.3 153.5h0M490.3 142.4h0M490.4 128.8h0M490.5 142.0h0M490.6 141.0h0M490.6 140.2h0M490.7 145.2h0M490.9 138.5h0M491.0 159.3h0M491.1 136.9h0M491.2 164.1h0M491.2 141.2h0M491.3 141.1h0M491.4 142.8h0M491.5 142.8h0M491.5 132.0h0M491.6 144.3h0M491.7 138.6h0M491.7 142.8h0M491.9 127.0h0M492.0 123.8h0M492.0 144.4h0M492.1 142.1h0M492.2 158.9h0M492.3 155.9h0M492.4 135.3h0M492.5 143.0h0M492.6 136.1h0M492.8 134.2h0M492.9 141.3h0M493.0 135.3h0M493.1 144.6h0M493.2 134.9h0M493.3 144.1h0M493.4 150.7h0M493.5 131.0h0M493.7 146.0h0M493.7 143.7h0M493.8 138.7h0M493.9 150.9h0M494.0 140.2h0M494.1 128.1h0M494.2 140.9h0M494.3 131.6h0M494.6 128.3h0M494.6 142.1h0M494.9 155.1h0M495.1 175.3h0M495.2 135.6h0M495.3 147.7h0M495.4 146.1h0M495.4 138.3h0M495.5 125.5h0M495.6 137.1h0M495.7 158.9h0M495.8 143.7h0M496.0 138.3h0M496.1 144.2h0M496.2 143.3h0M496.3 128.2h0M496.3 145.6h0M496.5 143.0h0M496.5 144.9h0M496.6 131.2h0M496.7 141.2h0M496.8 137.7h0M496.9 147.0h0M497.0 129.7h0M497.1 143.1h0M497.1 131.4h0M497.2 139.4h0M497.3 129.7h0M497.4 134.4h0M497.4 126.1h0M497.5 131.0h0M497.6 128.6h0M497.7 136.6h0M497.9 126.0h0M497.9 145.8h0M498.0 143.5h0M498.1 152.5h0M498.2 147.9h0M498.3 137.8h0M498.4 132.5h0M498.5 137.4h0M498.5 147.9h0M498.6 130.9h0M498.8 147.7h0M498.9 136.9h0M499.0 130.9h0M499.1 143.9h0M499.3 149.0h0M499.4 135.7h0M499.5 120.9h0M499.6 134.5h0M499.7 135.8h0M499.8 145.2h0M499.9 136.1h0M499.9 124.3h0M500.0 133.1h0M500.1 148.5h0M500.2 126.7h0M500.2 133.7h0M500.3 140.1h0M500.4 140.5h0M500.5 149.4h0M500.5 134.3h0M500.6 159.2h0M500.7 137.0h0M500.8 141.1h0M500.8 136.4h0M501.0 141.7h0M501.0 138.0h0M501.1 129.9h0M501.2 132.3h0M501.3 146.3h0M501.3 154.5h0M501.4 122.9h0M501.5 142.8h0M501.6 136.9h0M501.7 139.4h0M501.8 137.1h0M501.9 136.7h0M501.9 142.6h0M502.0 148.9h0M502.1 143.4h0M502.2 134.3h0M502.3 130.9h0M502.4 141.2h0M502.5 147.4h0M502.5 158.4h0M502.6 158.8h0M502.7 130.0h0M502.7 141.7h0M502.8 141.3h0M502.9 151.3h0M503.0 139.2h0M503.2 142.4h0M503.3 133.8h0M503.3 133.3h0M503.4 133.9h0M503.5 144.8h0M503.6 145.5h0M503.6 137.4h0M503.7 157.2h0M503.8 125.5h0M503.9 158.4h0M503.9 133.9h0M504.0 136.5h0M504.1 146.2h0M504.1 145.4h0M504.2 146.1h0M504.4 144.9h0M504.4 130.7h0M504.5 152.2h0M504.6 148.1h0M504.7 128.8h0M504.7 137.0h0M504.9 136.9h0M505.0 140.7h0M505.0 142.9h0M505.1 145.3h0M505.2 129.4h0M505.3 151.6h0M505.4 131.8h0M505.5 129.6h0M505.6 137.7h0M505.6 131.5h0M505.7 146.5h0M505.8 118.9h0M505.8 129.3h0M505.9 134.2h0M506.0 137.4h0M506.1 151.0h0M506.3 147.0h0M506.4 147.7h0M506.5 142.2h0M506.6 137.8h0M506.7 149.5h0M506.8 137.7h0M507.0 134.1h0M507.0 142.5h0M507.1 148.5h0M507.2 139.8h0M507.3 148.5h0M507.4 141.5h0M507.5 137.0h0M507.5 126.7h0M507.6 146.3h0M507.7 138.0h0M507.8 142.8h0M507.8 136.0h0M507.9 121.2h0M508.1 127.4h0M508.2 144.2h0M508.3 128.6h0M508.5 158.0h0M508.6 142.5h0M508.6 144.9h0M508.7 144.7h0M508.8 133.0h0M508.9 143.0h0M508.9 122.9h0M509.0 128.2h0M509.1 149.7h0M509.2 151.0h0M509.3 143.1h0M509.4 138.4h0M509.5 139.3h0M509.5 143.7h0M509.6 136.2h0M509.7 135.9h0M509.8 149.4h0M509.9 143.1h0M510.0 155.1h0M510.1 132.7h0M510.1 138.3h0M510.2 143.2h0M510.3 133.0h0M510.4 128.5h0M510.6 135.9h0M510.7 133.0h0M510.8 153.1h0M510.9 142.2h0M510.9 148.6h0M511.0 151.6h0M511.1 135.6h0M511.2 128.9h0M511.2 142.4h0M511.3 133.1h0M511.4 156.8h0M511.5 148.9h0M511.5 133.8h0M511.6 139.0h0M511.7 146.6h0M511.7 139.4h0M511.8 133.0h0M511.9 126.0h0M512.0 153.3h0M512.0 133.4h0M512.1 138.2h0M512.2 156.9h0M512.3 136.5h0M512.3 138.3h0M512.4 134.6h0M512.5 141.8h0M512.6 142.1h0M512.6 141.8h0M512.7 139.4h0M512.8 146.9h0M512.9 158.4h0M512.9 149.8h0M513.0 143.9h0M513.1 146.8h0M513.2 142.5h0M513.2 130.6h0M513.3 140.7h0M513.4 129.9h0M513.4 134.6h0M513.5 137.3h0M513.6 145.8h0M513.7 162.9h0M513.7 158.6h0M513.8 138.4h0M513.9 146.7h0M514.0 137.4h0M514.0 139.6h0M514.1 133.0h0M514.2 137.5h0M514.3 119.8h0M514.3 141.9h0M514.4 133.3h0M514.6 142.4h0M514.7 145.1h0M514.8 141.8h0M514.8 129.7h0M514.9 142.8h0M515.0 142.1h0M515.1 142.0h0M515.1 123.9h0M515.2 138.2h0M515.3 147.5h0M515.4 134.4h0M515.4 142.1h0M515.5 142.1h0M515.6 134.4h0M515.7 142.4h0M515.8 136.3h0M515.9 149.7h0M516.0 152.8h0M516.0 137.7h0M516.1 134.4h0M516.2 133.6h0M516.3 129.9h0M516.4 148.3h0M516.5 139.6h0M516.5 157.2h0M516.6 126.5h0M516.8 137.2h0M516.9 155.6h0M517.0 144.5h0M517.1 126.5h0M517.1 129.1h0M517.2 138.8h0M517.3 129.9h0M517.4 136.7h0M517.4 141.3h0M517.5 143.7h0M517.8 127.3h0M517.9 137.6h0M517.9 150.4h0M518.0 143.2h0M518.1 139.6h0M518.2 140.8h0M518.3 136.6h0M518.4 140.9h0M518.5 140.9h0M518.6 133.6h0M518.7 149.1h0M518.8 136.7h0M518.8 133.0h0M519.0 140.9h0M519.1 143.8h0M519.2 145.3h0M519.3 146.7h0M519.4 151.4h0M519.4 154.7h0M519.5 133.6h0M519.6 136.2h0M519.6 160.6h0M519.7 146.2h0M519.8 152.1h0M519.9 125.4h0M519.9 143.5h0M520.0 149.1h0M520.1 138.9h0M520.2 151.4h0M520.2 129.6h0M520.3 143.7h0M520.4 150.7h0M520.5 143.4h0M520.6 152.3h0M520.7 134.3h0M520.8 148.1h0M520.8 138.5h0M520.9 129.8h0M521.0 145.7h0M521.0 128.7h0M521.1 131.2h0M521.2 135.1h0M521.3 147.4h0M521.3 133.5h0M521.4 139.7h0M521.5 140.4h0M521.6 134.4h0M521.6 139.5h0M521.7 137.8h0M521.8 133.8h0M521.9 142.3h0M522.0 135.1h0M522.1 140.1h0M522.2 136.6h0M522.2 143.5h0M522.3 137.2h0M522.4 128.4h0M522.5 137.9h0M522.7 146.7h0M522.7 132.9h0M522.8 124.3h0M522.9 131.5h0M523.0 135.0h0M523.0 147.9h0M523.1 134.6h0M523.3 141.5h0M523.4 146.8h0M523.5 137.8h0M523.6 139.0h0M523.7 130.5h0M523.8 128.8h0M523.9 147.2h0M523.9 129.6h0M524.0 159.8h0M524.1 129.5h0M524.2 149.8h0M524.3 145.4h0M524.4 152.4h0M524.5 115.6h0M524.7 143.7h0M524.8 161.1h0M525.0 135.9h0M525.2 132.6h0M525.3 150.8h0M525.3 136.6h0M525.4 131.9h0M525.5 146.4h0M525.5 156.5h0M525.6 138.8h0M525.8 135.6h0M525.8 130.3h0M525.9 139.3h0M526.0 139.1h0M526.1 161.9h0M526.2 136.6h0M526.4 150.6h0M526.4 139.1h0M526.6 129.4h0M526.7 123.3h0M526.7 136.6h0M526.8 133.7h0M526.9 131.4h0M527.0 136.0h0M527.1 139.5h0M527.2 147.9h0M527.2 124.5h0M527.3 138.3h0M527.4 143.4h0M527.5 133.6h0M527.5 159.4h0M527.6 141.4h0M527.7 138.0h0M527.8 122.7h0M527.8 130.2h0M527.9 160.8h0M528.0 137.5h0M528.1 149.6h0M528.1 143.0h0M528.2 134.8h0M528.4 140.7h0M528.4 151.3h0M528.6 143.9h0M528.6 151.9h0M528.7 149.7h0M528.8 148.9h0M528.9 150.8h0M528.9 131.3h0M529.0 143.8h0M529.1 141.7h0M529.2 142.6h0M529.2 120.8h0M529.3 136.3h0M529.4 143.7h0M529.5 134.7h0M529.5 136.7h0M529.6 144.0h0M529.8 138.9h0M529.8 142.8h0M529.9 146.3h0M530.0 152.6h0M530.1 146.3h0M530.1 135.4h0M530.2 142.6h0M530.3 146.5h0M530.3 120.7h0M530.4 134.2h0M530.5 141.9h0M530.6 138.5h0M530.6 139.3h0M530.7 152.8h0M530.8 129.2h0M530.9 138.2h0M530.9 128.8h0M531.0 144.5h0M531.1 133.9h0M531.2 138.9h0M531.2 147.9h0M531.3 129.9h0M531.4 139.4h0M531.5 150.0h0M531.5 152.6h0M531.6 144.1h0M531.7 139.5h0M531.8 128.6h0M531.9 154.8h0M532.0 139.3h0M532.1 139.1h0M532.2 142.9h0M532.3 133.8h0M532.4 146.4h0M532.5 134.1h0M532.6 143.6h0M532.6 152.8h0M532.7 138.3h0M532.8 140.7h0M532.9 146.6h0M532.9 141.1h0M533.0 127.1h0M533.1 150.3h0M533.2 150.4h0M533.2 149.4h0M533.3 133.8h0M533.4 136.1h0M533.5 136.6h0M533.6 147.5h0M533.7 135.2h0M533.8 135.8h0M534.0 144.5h0M534.0 149.0h0M534.1 141.2h0M534.2 143.0h0M534.3 130.8h0M534.3 127.8h0M534.4 134.2h0M534.5 162.6h0M534.6 138.6h0M534.6 148.5h0M534.7 141.6h0M534.8 127.2h0M534.8 145.0h0M534.9 130.5h0M535.0 139.7h0M535.1 137.7h0M535.1 130.2h0M535.2 140.1h0M535.3 136.9h0M535.4 152.2h0M535.4 150.8h0M535.5 131.6h0M535.6 141.5h0M535.7 136.2h0M535.7 145.9h0M535.8 136.8h0M535.9 135.2h0M536.0 124.9h0M536.0 123.3h0M536.1 145.0h0M536.2 146.1h0M536.3 147.8h0M536.3 146.9h0M536.4 140.3h0M536.5 145.9h0M536.5 130.9h0M536.6 147.0h0M536.8 130.5h0M536.8 140.8h0M536.9 129.1h0M537.1 142.7h0M537.2 139.8h0M537.3 152.6h0M537.4 140.6h0M537.5 147.0h0M537.6 134.1h0M537.7 128.4h0M537.8 130.4h0M537.9 153.1h0M538.0 145.4h0M538.2 150.9h0M538.3 136.5h0M538.5 136.6h0M538.5 133.3h0M538.6 144.1h0M538.7 141.7h0M538.8 136.1h0M538.8 131.2h0M539.0 146.3h0M539.1 140.8h0M539.1 149.0h0M539.4 148.3h0M539.4 129.6h0M539.6 133.7h0M539.6 130.7h0M539.7 130.3h0M539.8 141.3h0M539.9 130.4h0M540.0 154.4h0M540.1 126.8h0M540.2 125.9h0M540.2 134.5h0M540.3 140.6h0M540.4 139.5h0M540.5 132.5h0M540.5 155.1h0M540.6 132.1h0M540.7 153.6h0M540.8 151.4h0M541.0 140.3h0M541.0 146.4h0M541.1 152.9h0M541.2 130.3h0M541.3 156.4h0M541.4 134.2h0M541.5 136.1h0M541.6 143.0h0M541.6 133.3h0M541.7 149.1h0M541.8 151.0h0M541.9 141.2h0M542.0 161.4h0M542.1 130.3h0M542.2 144.3h0M542.2 119.6h0M542.4 133.6h0M542.5 142.0h0M542.5 142.8h0M542.6 160.0h0M542.7 126.9h0M542.7 149.5h0M542.8 140.7h0M542.9 143.6h0M543.1 142.3h0M543.2 148.2h0M543.3 141.7h0M543.3 129.5h0M543.4 132.3h0M543.5 135.6h0M543.6 133.0h0M543.6 127.4h0M543.7 133.0h0M543.8 137.4h0M543.9 133.9h0M543.9 140.9h0M544.0 148.0h0M544.1 139.5h0M544.2 149.6h0M544.3 145.2h0M544.4 137.9h0M544.4 154.5h0M544.5 155.3h0M544.6 126.2h0M544.7 142.9h0M544.7 142.4h0M544.8 164.0h0M544.9 147.9h0M545.0 126.5h0M545.0 136.7h0M545.1 158.8h0M545.2 122.7h0M545.3 146.5h0M545.3 128.8h0M545.4 138.5h0M545.5 138.4h0M545.5 141.7h0M545.6 138.1h0M545.7 155.1h0M545.8 148.9h0M545.8 140.2h0M545.9 151.7h0M546.1 126.9h0M546.1 145.8h0M546.2 148.9h0M546.3 138.9h0M546.4 143.7h0M546.4 142.2h0M546.5 147.5h0M546.6 140.5h0M546.7 145.4h0M546.7 143.9h0M546.8 150.5h0M546.9 149.4h0M547.0 124.1h0M547.1 150.5h0M547.2 140.6h0M547.2 146.2h0M547.3 132.4h0M547.4 146.7h0M547.5 125.4h0M547.5 145.8h0M547.6 128.9h0M547.7 135.6h0M547.8 141.5h0M548.0 148.4h0M548.1 136.8h0M548.1 141.3h0M548.3 142.9h0M548.4 127.1h0M548.5 138.2h0M548.6 128.3h0M548.6 136.8h0M548.7 152.1h0M548.8 136.2h0M548.9 136.9h0M548.9 153.6h0M549.2 147.4h0M549.2 151.5h0M549.3 136.3h0M549.4 149.3h0M549.5 143.4h0M549.5 140.7h0M549.6 137.8h0M549.7 121.5h0M549.8 137.8h0M549.9 131.9h0M550.1 138.1h0M550.3 142.5h0M550.3 135.9h0M550.4 146.1h0M550.5 144.8h0M550.7 132.6h0M550.8 136.1h0M550.9 138.0h0M550.9 142.3h0M551.1 142.4h0M551.2 144.7h0M551.2 140.6h0M551.4 146.4h0M551.5 137.0h0M551.6 132.6h0M551.7 152.9h0M551.8 138.8h0M552.0 155.4h0M552.0 130.6h0M552.1 135.1h0M552.2 134.5h0M552.3 142.7h0M552.3 117.6h0M552.4 140.8h0M552.5 146.6h0M552.6 134.2h0M552.6 142.1h0M552.8 136.6h0M552.9 120.6h0M552.9 138.0h0M553.0 135.9h0M553.1 147.7h0M553.2 149.4h0M553.2 140.9h0M553.3 153.8h0M553.4 144.6h0M553.6 148.3h0M553.7 134.9h0M553.7 142.8h0M553.8 122.8h0M553.9 136.8h0M554.0 143.1h0M554.0 133.1h0M554.1 129.9h0M554.2 135.0h0M554.3 134.8h0M554.4 153.3h0M554.5 129.7h0M554.6 145.8h0M554.6 154.0h0M554.7 133.9h0M554.8 135.7h0M554.8 158.5h0M554.9 123.0h0M555.0 141.4h0M555.2 142.6h0M555.3 136.7h0M555.4 134.0h0M555.4 131.3h0M555.6 154.4h0M555.7 115.9h0M555.7 138.9h0M555.8 122.5h0M555.9 122.3h0M556.0 148.8h0M556.0 118.9h0M556.1 138.2h0M556.2 135.9h0M556.3 140.3h0M556.3 149.0h0M556.5 144.6h0M556.5 152.2h0M556.6 138.8h0M556.7 143.9h0M556.8 131.7h0M556.8 162.2h0M556.9 134.8h0M557.0 126.1h0M557.1 129.8h0M557.1 141.5h0M557.2 139.2h0M557.3 144.0h0M557.4 146.3h0M557.5 141.4h0M557.6 141.8h0M557.7 132.7h0M557.7 129.4h0M557.8 135.3h0M557.9 118.0h0M557.9 137.1h0M558.0 141.0h0M558.1 130.3h0M558.2 152.1h0M558.2 132.1h0M558.3 135.3h0M558.4 139.7h0M558.5 147.1h0M558.5 128.7h0M558.7 143.7h0M558.8 135.7h0M558.8 137.4h0M558.9 117.4h0M559.0 127.8h0M559.1 136.5h0M559.1 119.1h0M559.2 140.7h0M559.3 136.5h0M559.4 141.4h0M559.4 140.2h0M559.5 146.1h0M559.6 135.4h0M559.6 144.9h0M559.7 131.4h0M559.8 139.7h0M559.9 125.7h0M559.9 134.7h0M560.0 146.3h0M560.1 144.9h0M560.2 132.2h0M560.2 145.2h0M560.3 128.9h0M560.4 131.1h0M560.5 143.5h0M560.5 148.1h0M560.6 138.8h0M560.7 124.4h0M560.8 140.1h0M560.9 137.3h0M561.0 136.1h0M561.1 142.0h0M561.2 128.5h0M561.3 147.3h0M561.4 147.4h0M561.5 137.1h0M561.6 132.3h0M561.6 136.6h0M561.8 139.7h0M561.9 127.4h0M561.9 133.8h0M562.0 152.5h0M562.1 137.1h0M562.2 142.2h0M562.3 148.1h0M562.4 142.1h0M562.5 135.7h0M562.5 147.0h0M562.8 156.6h0M562.9 108.0h0M563.0 145.5h0M563.1 152.0h0M563.2 130.1h0M563.3 162.4h0M563.3 146.2h0M563.5 142.2h0M563.6 135.9h0M563.7 143.2h0M563.8 143.8h0M563.9 133.2h0M564.0 143.1h0M564.1 132.3h0M564.2 156.9h0M564.3 141.2h0M564.4 145.0h0M564.5 137.5h0M564.6 147.0h0M564.7 135.1h0M564.7 142.0h0M564.8 144.0h0M564.9 130.1h0M565.0 143.7h0M565.1 136.7h0M565.2 130.9h0M565.3 136.3h0M565.3 137.3h0M565.4 159.9h0M565.5 153.6h0M565.5 134.9h0M565.7 145.3h0M565.8 145.7h0M565.8 150.7h0M565.9 137.3h0M566.1 136.3h0M566.2 135.9h0M566.4 142.2h0M566.4 133.8h0M566.6 135.4h0M566.7 150.9h0M566.7 123.9h0M566.8 147.9h0M566.9 121.9h0M567.0 130.3h0M567.0 120.1h0M567.1 127.4h0M567.2 144.0h0M567.2 140.2h0M567.3 137.3h0M567.4 145.4h0M567.5 138.5h0M567.6 134.8h0M567.7 130.1h0M567.8 143.8h0M567.9 148.7h0M568.0 139.7h0M568.1 133.8h0M568.1 139.6h0M568.3 138.0h0M568.4 126.9h0M568.4 147.2h0M568.5 138.5h0M568.6 138.9h0M569.0 139.5h0M569.1 137.5h0M569.2 144.3h0M569.2 146.8h0M569.3 126.6h0M569.4 150.6h0M569.5 132.2h0M569.5 155.4h0M569.6 137.7h0M569.7 131.3h0M569.8 140.9h0M569.8 127.9h0M569.9 126.5h0M570.0 151.5h0M570.1 145.6h0M570.1 143.6h0M570.2 143.8h0M570.3 130.3h0M570.3 143.5h0M570.5 131.2h0M570.6 138.7h0M570.6 151.7h0M570.7 138.8h0M570.9 127.8h0M570.9 142.2h0M571.0 146.1h0M571.1 136.0h0M571.2 129.0h0M571.2 137.6h0M571.3 147.0h0M571.4 150.0h0M571.5 137.4h0M571.6 130.8h0M571.7 135.2h0M571.7 143.0h0M571.8 160.1h0M572.0 136.5h0M572.0 140.0h0M572.1 144.9h0M572.3 140.5h0M572.3 134.2h0M572.4 122.1h0M572.5 139.7h0M572.6 135.4h0M572.6 134.7h0M572.7 138.6h0M572.9 150.1h0M572.9 119.6h0M573.0 138.7h0M573.1 135.3h0M573.2 159.5h0M573.2 146.2h0M573.3 152.2h0M573.4 144.5h0M573.5 131.9h0M573.6 143.5h0M573.7 137.3h0M573.7 139.9h0M573.9 136.9h0M574.0 141.3h0M574.0 142.7h0M574.2 140.7h0M574.3 137.2h0M574.3 131.1h0M574.4 149.5h0M574.5 141.2h0M574.6 144.6h0M574.6 136.2h0M574.7 139.4h0M574.8 144.1h0M574.9 130.2h0M575.0 137.2h0M575.1 131.0h0M575.1 135.0h0M575.2 162.1h0M575.3 143.3h0M575.4 128.4h0M575.7 152.0h0M575.4 167.2h0M575.4 164.1h0M576.0 161.7h0M575.6 178.6h0M575.8 162.8h0M575.7 154.4h0M575.9 165.5h0M576.3 194.1h0M576.2 163.8h0M576.3 165.1h0M575.9 171.2h0M576.3 176.3h0M576.2 165.6h0M576.5 183.7h0M576.3 175.7h0M576.6 169.0h0M576.8 172.8h0M577.0 155.8h0M576.5 161.2h0M576.8 141.4h0M576.5 158.2h0M576.8 163.3h0M576.8 169.3h0M576.9 154.8h0M577.3 177.1h0M577.0 168.5h0M576.8 152.1h0M577.2 165.6h0M577.5 172.3h0M577.5 166.6h0M577.2 170.3h0M577.4 163.9h0M577.7 156.2h0M577.8 147.5h0M577.4 159.9h0M577.7 167.7h0M577.7 166.0h0M577.6 165.7h0M577.9 184.3h0M577.7 181.8h0M578.3 167.5h0M577.9 160.6h0M578.3 183.2h0M578.3 152.8h0M578.1 166.2h0M578.3 175.7h0M578.4 160.7h0M578.8 206.6h0M578.4 157.1h0M578.7 164.5h0M578.8 169.2h0M579.1 194.6h0M578.7 191.6h0M579.0 203.1h0M578.7 165.4h0M578.9 169.4h0M579.0 169.6h0M578.9 166.1h0M579.2 187.6h0M579.2 186.4h0M579.2 179.2h0M579.2 191.0h0M579.2 193.2h0M579.7 155.0h0M579.8 184.4h0M579.3 178.5h0M579.7 174.1h0M579.7 192.8h0M579.4 146.0h0M579.8 163.1h0M580.0 191.4h0M580.2 165.7h0M579.9 167.5h0M580.1 190.3h0M580.4 182.2h0M580.1 203.6h0M580.5 185.4h0M580.3 169.0h0M580.3 188.2h0M580.4 155.6h0M580.3 149.6h0M580.4 158.4h0M580.4 164.3h0M580.7 166.0h0M580.6 170.6h0M580.8 173.3h0M580.5 203.5h0M581.0 163.3h0M580.8 177.7h0M581.1 168.6h0M581.1 164.1h0M581.1 169.2h0M581.1 164.2h0M581.5 175.3h0M581.4 170.9h0M581.2 163.0h0M581.4 173.5h0M581.4 172.0h0M581.6 188.8h0M581.6 167.4h0M581.4 179.3h0M581.6 177.2h0M581.9 175.7h0M582.0 167.8h0M582.1 169.0h0M581.7 146.8h0M582.1 177.2h0M582.3 167.4h0M582.3 167.3h0M582.5 190.2h0M582.3 167.4h0M582.5 185.9h0M582.7 166.7h0M582.5 152.0h0M582.6 185.6h0M583.0 182.9h0M583.0 157.2h0M582.6 149.1h0M583.2 189.3h0M583.1 172.3h0M582.8 167.1h0M583.3 168.5h0M583.4 168.1h0M582.9 165.7h0M583.3 174.5h0M583.3 179.7h0M583.4 143.4h0M583.2 189.8h0M583.8 174.9h0M583.4 147.9h0M583.6 156.6h0M583.8 171.2h0M583.6 164.6h0M584.0 185.3h0M583.7 171.8h0M584.3 158.1h0M583.8 178.4h0M583.9 177.6h0M584.4 174.1h0M584.4 161.7h0M584.1 168.6h0M584.5 161.5h0M584.5 167.5h0M584.3 176.5h0M584.2 167.2h0M584.5 182.4h0M584.5 157.0h0M584.6 174.4h0M585.0 159.4h0M584.5 159.9h0M584.9 188.2h0M584.8 182.8h0M585.1 187.4h0M584.9 174.9h0M585.1 156.4h0M585.0 148.1h0M585.5 199.8h0M585.4 171.0h0M585.2 131.7h0M585.3 168.0h0M585.8 180.9h0M585.4 162.4h0M585.4 162.6h0M585.7 161.4h0M585.5 194.8h0M585.9 157.7h0M586.0 154.4h0M586.2 171.1h0M585.7 158.5h0M586.0 191.0h0M586.2 178.5h0M586.3 191.3h0M586.3 208.4h0M586.3 172.3h0M586.4 166.2h0M586.0 161.9h0M586.5 190.6h0M586.1 158.4h0M586.7 161.9h0M586.3 161.3h0M586.5 158.6h0M586.4 187.2h0M586.6 158.1h0M586.6 162.3h0M586.8 159.1h0M586.9 149.3h0M586.8 166.0h0M586.8 188.2h0M587.1 162.3h0M587.3 147.0h0M587.1 161.8h0M587.2 150.9h0M587.5 153.7h0M587.3 176.6h0M587.4 159.4h0M587.6 169.1h0M587.2 193.5h0M587.6 155.3h0M587.5 197.9h0M587.8 172.3h0M587.7 154.9h0M587.4 170.3h0M587.8 147.8h0M587.5 154.1h0M587.5 176.1h0M587.7 197.4h0M588.1 161.0h0M588.1 168.8h0M587.9 166.1h0M588.4 172.6h0M588.3 172.7h0M588.4 182.0h0M588.0 177.9h0M588.1 147.8h0M588.5 160.3h0M588.4 161.9h0M588.6 168.2h0M588.3 153.3h0M588.6 176.4h0M588.7 164.3h0M588.8 174.1h0M588.5 160.2h0M588.5 158.4h0M588.5 159.6h0M588.7 156.7h0M588.6 180.6h0M588.9 168.7h0M589.0 175.8h0M589.3 179.7h0M589.4 189.8h0M589.1 188.2h0M589.0 175.5h0M589.0 152.6h0M589.5 198.1h0M589.5 162.4h0M589.5 161.3h0M589.5 170.1h0M589.4 166.2h0M589.6 190.4h0M589.9 163.1h0M589.5 159.3h0M589.4 190.5h0M589.7 149.8h0M589.8 156.5h0M590.0 166.0h0M589.9 177.0h0M589.7 177.7h0M590.0 168.6h0M589.9 185.1h0M590.2 183.2h0M590.4 171.3h0M590.4 158.5h0M590.5 190.8h0M590.2 172.2h0M590.1 151.1h0M590.5 167.9h0M590.4 179.6h0M590.8 159.7h0M590.8 168.2h0M591.0 163.4h0M590.9 198.6h0M590.8 164.5h0M591.1 171.8h0M590.8 181.5h0M590.9 154.5h0M590.9 180.8h0M590.9 169.5h0M591.1 191.4h0M591.0 168.9h0M591.4 174.8h0M591.6 173.2h0M591.3 161.7h0M591.4 159.5h0M591.3 164.6h0M591.5 183.4h0M591.5 190.1h0M591.4 159.4h0M591.6 189.7h0M591.5 161.0h0M591.6 167.9h0M592.1 164.0h0M592.0 166.3h0M592.0 194.5h0M592.2 183.3h0M592.1 184.9h0M592.2 168.8h0M592.0 162.8h0M592.2 159.0h0M592.5 170.9h0M592.7 174.6h0M592.6 170.6h0M592.3 166.3h0M592.7 178.4h0M592.3 173.3h0M592.4 158.3h0M592.5 181.8h0M592.6 187.6h0M592.8 173.0h0M593.2 175.6h0M593.0 170.9h0M592.9 151.1h0M593.2 169.2h0M593.3 172.0h0M593.5 191.5h0M593.3 167.2h0M593.1 163.4h0M593.1 168.5h0M593.7 195.0h0M593.2 162.5h0M593.5 177.2h0M593.6 170.3h0M593.6 197.1h0M593.8 196.9h0M593.4 181.6h0M593.5 179.0h0M593.5 165.6h0M593.7 152.3h0M593.8 179.9h0M594.0 176.6h0M594.0 169.6h0M594.3 195.1h0M594.3 164.6h0M594.1 161.1h0M594.3 166.2h0M594.5 194.1h0M594.6 201.5h0M594.6 147.5h0M594.7 149.3h0M594.6 164.8h0M594.8 175.7h0M594.4 180.1h0M594.6 182.3h0M594.5 172.0h0M594.8 157.6h0M594.5 167.9h0M594.7 160.5h0M594.8 177.7h0M595.1 175.3h0M595.0 175.8h0M595.3 197.1h0M594.9 186.6h0M595.3 168.5h0M595.6 166.8h0M595.5 163.5h0M595.7 175.2h0M595.4 183.4h0M595.3 161.4h0M595.3 169.1h0M595.8 202.4h0M595.7 161.7h0M595.7 183.6h0M595.8 164.5h0M596.1 175.6h0M596.3 181.1h0M596.4 161.5h0M596.2 173.6h0M596.2 164.2h0M596.5 155.3h0M596.6 172.9h0M596.2 161.2h0M596.7 160.5h0M596.4 164.3h0M596.7 152.2h0M596.6 168.4h0M596.9 164.0h0M596.8 158.0h0M596.8 191.0h0M596.9 155.4h0M596.6 169.3h0M596.6 162.7h0M596.7 168.0h0M597.2 171.4h0M596.8 177.7h0M597.1 163.6h0M597.3 168.7h0M597.1 180.7h0M597.2 196.9h0M597.3 167.2h0M597.4 164.7h0M597.5 166.4h0M597.6 159.8h0M597.5 151.9h0M597.5 176.2h0M597.7 183.7h0M597.5 194.5h0M597.5 160.0h0M597.4 170.5h0M597.5 186.5h0M597.8 162.4h0M597.9 168.4h0M597.7 161.4h0M597.9 173.8h0M598.0 165.7h0M598.3 151.3h0M598.4 208.4h0M598.4 160.4h0M598.2 155.2h0M598.8 158.9h0M598.7 159.2h0M598.8 162.4h0M598.7 183.6h0M598.6 157.8h0M598.6 168.5h0M598.7 189.0h0M599.0 154.9h0M599.1 170.1h0M598.9 166.3h0M599.3 179.4h0M599.2 164.2h0M599.4 146.0h0M599.1 166.4h0M599.5 171.4h0M599.7 177.4h0M599.6 159.4h0M599.6 159.6h0M599.8 180.6h0M599.6 152.9h0M599.8 147.4h0M599.9 181.0h0M599.6 185.0h0M599.7 162.4h0M599.7 178.7h0M600.1 157.8h0M600.2 186.7h0M600.1 158.2h0M600.0 161.4h0M600.3 177.7h0M600.4 175.9h0M600.3 155.5h0M600.3 160.2h0M600.4 186.4h0M600.3 198.7h0M600.3 153.6h0M600.5 172.0h0M600.4 179.6h0M600.3 154.6h0M600.3 172.2h0M600.6 170.2h0M600.9 163.9h0M601.0 189.6h0M601.1 174.1h0M600.7 180.3h0M600.8 176.7h0M601.3 162.4h0M600.9 173.7h0M600.9 157.6h0M601.0 161.6h0M601.3 162.6h0M601.1 174.7h0M601.3 182.8h0M601.4 170.4h0M601.2 200.9h0M601.1 173.0h0M601.4 183.1h0M601.7 159.5h0M601.3 169.0h0M601.8 155.5h0M601.9 165.3h0M601.8 178.0h0M602.0 184.2h0M601.8 175.3h0M602.1 161.1h0M602.1 176.5h0M602.2 167.5h0M602.2 173.7h0M602.3 195.0h0M602.4 169.9h0M602.1 195.1h0M602.3 161.0h0M602.6 155.6h0M603.1 161.1h0M602.9 204.1h0M602.7 154.4h0M602.9 159.1h0M603.2 173.1h0" stroke="#939393" stroke-width="1.55" stroke-linecap="round" fill="none"/>
<path d="M64.3 140.1H575.5V169.5H603" fill="none" stroke="#1a1aff" stroke-width="2.0"/>
<path d="M64.3 140.1H66M90.5 140.1H94.3M108.6 140.1H111" stroke="#ff2020" stroke-width="2.0"/>
<path d="M226 140.1H237" stroke="#000" stroke-width="2.0"/>
<path d="M589.5 140.1h1.5M599.5 140.1h1.5" stroke="#f06060" stroke-width="1.5"/>
<path d="M42.0 67.6H626.0" stroke="#b0b0b0" stroke-width="1.8"/>
<path d="M42.0 218.5H626.0" stroke="#a8a8a8" stroke-width="1.8"/>
<path d="M43.0 67.6V218.5M625.0 67.6V218.5" stroke="#666666" stroke-width="1.8"/>
<line x1="38.5" x2="43.0" y1="78.6" y2="78.6" stroke="#555" stroke-width="1.1"/>
<text transform="translate(30.9 78.6) rotate(-90)" text-anchor="middle" font-size="7.0" fill="#444" stroke="#444" stroke-width="0.15">2</text>
<line x1="38.5" x2="43.0" y1="109.3" y2="109.3" stroke="#555" stroke-width="1.1"/>
<text transform="translate(30.9 109.3) rotate(-90)" text-anchor="middle" font-size="7.0" fill="#444" stroke="#444" stroke-width="0.15">1</text>
<line x1="38.5" x2="43.0" y1="140.1" y2="140.1" stroke="#555" stroke-width="1.1"/>
<text transform="translate(30.9 140.1) rotate(-90)" text-anchor="middle" font-size="7.0" fill="#444" stroke="#444" stroke-width="0.15">0</text>
<line x1="38.5" x2="43.0" y1="170.8" y2="170.8" stroke="#555" stroke-width="1.1"/>
<text transform="translate(30.9 170.8) rotate(-90)" text-anchor="middle" font-size="7.0" fill="#444" stroke="#444" stroke-width="0.15">-1</text>
<line x1="38.5" x2="43.0" y1="201.6" y2="201.6" stroke="#555" stroke-width="1.1"/>
<text transform="translate(30.9 201.6) rotate(-90)" text-anchor="middle" font-size="7.0" fill="#444" stroke="#444" stroke-width="0.15">-2</text>
<line x1="64.3" x2="64.3" y1="218.5" y2="222.5" stroke="#555" stroke-width="1.1"/>
<text x="62.0" y="231.8" font-size="7.0" fill="#444" stroke="#444" stroke-width="0.15" textLength="4.5" lengthAdjust="spacingAndGlyphs">0</text>
<line x1="211.9" x2="211.9" y1="218.5" y2="222.5" stroke="#555" stroke-width="1.1"/>
<text x="202.9" y="231.8" font-size="7.0" fill="#444" stroke="#444" stroke-width="0.15" textLength="18.1" lengthAdjust="spacingAndGlyphs">2000</text>
<line x1="359.5" x2="359.5" y1="218.5" y2="222.5" stroke="#555" stroke-width="1.1"/>
<text x="350.5" y="231.8" font-size="7.0" fill="#444" stroke="#444" stroke-width="0.15" textLength="18.1" lengthAdjust="spacingAndGlyphs">4000</text>
<line x1="507.1" x2="507.1" y1="218.5" y2="222.5" stroke="#555" stroke-width="1.1"/>
<text x="498.1" y="231.8" font-size="7.0" fill="#444" stroke="#444" stroke-width="0.15" textLength="18.1" lengthAdjust="spacingAndGlyphs">6000</text>
<text transform="translate(12.1 143.4) rotate(-90)" text-anchor="middle" font-size="6.3" fill="#444" stroke="#444" stroke-width="0.15">log2 ratio</text>
<text x="306.5" y="246.2" font-size="6.3" fill="#444" stroke="#444" stroke-width="0.15" textLength="54.8" lengthAdjust="spacingAndGlyphs">Blocks(20K * 1)</text>
<line x1="38.5" x2="624.8" y1="402.4" y2="402.4" stroke="#444444" stroke-width="1.45" stroke-dasharray="3.3 2.540"/>
<line x1="38.5" x2="624.8" y1="465.9" y2="465.9" stroke="#444444" stroke-width="1.45" stroke-dasharray="3.3 2.540"/>
<line x1="38.6" x2="624.8" y1="425.6" y2="425.6" stroke="#3a3a3a" stroke-width="1.3"/>
<path d="M59.9 426.5h0M59.9 425.9h0M60.0 408.7h0M60.0 435.0h0M60.1 400.5h0M60.1 395.7h0M60.2 412.2h0M60.2 418.3h0M60.3 437.8h0M60.3 431.0h0M60.3 412.9h0M60.4 417.4h0M60.4 423.6h0M60.5 426.4h0M60.5 420.4h0M60.6 390.6h0M60.6 428.6h0M60.7 408.8h0M60.7 434.9h0M60.7 438.7h0M60.8 438.1h0M60.9 437.4h0M60.9 445.7h0M61.0 416.4h0M61.0 426.6h0M61.1 421.7h0M61.1 447.9h0M61.2 418.2h0M61.2 420.9h0M61.2 413.8h0M61.3 448.6h0M61.3 432.6h0M61.4 430.5h0M61.4 408.2h0M61.5 403.0h0M61.5 421.4h0M61.6 419.7h0M61.6 434.6h0M61.6 428.8h0M61.7 421.7h0M61.7 423.4h0M61.8 414.1h0M61.8 428.6h0M61.9 446.7h0M61.9 436.4h0M62.0 435.5h0M62.0 451.6h0M62.1 447.3h0M62.1 427.1h0M62.2 413.6h0M62.2 428.8h0M62.3 422.6h0M62.4 421.3h0M62.4 427.7h0M62.4 426.9h0M62.5 418.2h0M62.5 430.8h0M62.6 452.4h0M62.7 431.0h0M62.7 432.2h0M62.8 434.1h0M62.8 419.8h0M62.8 442.7h0M62.9 428.0h0M63.0 424.4h0M63.0 438.5h0M63.1 437.2h0M63.1 424.2h0M63.3 426.0h0M63.3 418.4h0M63.3 423.6h0M63.4 407.0h0M63.4 430.4h0M63.5 418.8h0M63.5 419.5h0M63.6 414.2h0M63.6 431.0h0M63.7 428.2h0M63.7 420.6h0M63.8 414.4h0M63.8 416.6h0M63.9 439.0h0M64.0 403.5h0M64.0 440.0h0M64.1 431.5h0M64.1 428.2h0M64.1 465.9h0M64.2 423.9h0M64.2 435.8h0M64.3 413.0h0M64.4 417.9h0M64.5 428.3h0M64.5 436.7h0M64.5 425.5h0M64.6 423.3h0M64.6 424.7h0M64.7 418.8h0M64.7 433.4h0M64.8 421.2h0M64.8 427.2h0M64.9 428.5h0M64.9 449.7h0M64.9 418.4h0M65.0 407.9h0M65.0 439.5h0M65.1 420.8h0M65.1 445.0h0M65.2 414.4h0M65.2 431.5h0M65.3 428.7h0M65.3 436.2h0M65.4 435.0h0M65.4 425.7h0M65.4 429.8h0M65.5 422.7h0M65.5 438.9h0M65.6 425.2h0M65.7 410.6h0M65.7 416.6h0M65.8 421.1h0M65.8 420.4h0M65.8 425.1h0M65.9 411.1h0M65.9 416.8h0M66.0 426.7h0M66.0 412.9h0M66.1 408.2h0M66.1 434.9h0M66.2 424.4h0M66.2 433.3h0M66.3 426.5h0M66.3 421.2h0M66.4 418.2h0M66.5 413.1h0M66.5 435.9h0M66.6 401.6h0M66.6 422.4h0M66.6 435.3h0M66.7 417.3h0M66.7 408.4h0M66.8 424.6h0M66.8 435.7h0M66.9 417.3h0M66.9 418.5h0M67.0 444.6h0M67.0 420.6h0M67.1 412.1h0M67.1 424.0h0M67.1 420.0h0M67.2 400.5h0M67.2 417.2h0M67.3 435.2h0M67.3 416.3h0M67.4 443.0h0M67.4 438.0h0M67.5 446.6h0M67.5 426.5h0M67.6 444.5h0M67.7 432.0h0M67.8 408.8h0M67.8 423.3h0M67.9 413.6h0M67.9 417.4h0M67.9 417.9h0M68.0 419.6h0M68.0 415.8h0M68.1 418.9h0M68.2 410.4h0M68.2 418.5h0M68.3 440.0h0M68.3 427.2h0M68.4 415.8h0M68.4 428.3h0M68.5 409.1h0M68.5 425.6h0M68.6 423.9h0M68.6 424.3h0M68.7 439.5h0M68.7 435.5h0M68.7 399.4h0M68.8 420.9h0M68.8 432.0h0M68.9 431.9h0M68.9 410.0h0M69.0 441.1h0M69.1 414.6h0M69.1 426.8h0M69.2 419.4h0M69.2 463.5h0M69.2 415.1h0M69.3 418.8h0M69.3 434.2h0M69.4 419.0h0M69.4 421.8h0M69.5 446.2h0M69.6 436.6h0M69.6 429.5h0M69.7 410.2h0M69.7 426.5h0M69.8 419.6h0M69.8 435.2h0M69.9 415.2h0M69.9 435.3h0M70.0 412.9h0M70.0 422.7h0M70.0 446.1h0M70.1 439.2h0M70.2 424.7h0M70.3 418.0h0M70.3 417.8h0M70.4 430.8h0M70.4 423.8h0M70.5 420.7h0M70.5 417.3h0M70.6 432.6h0M70.6 436.0h0M70.7 378.6h0M70.7 446.7h0M70.8 419.6h0M70.8 419.9h0M70.8 435.6h0M70.9 430.9h0M70.9 429.1h0M71.0 423.4h0M71.0 443.9h0M71.1 433.6h0M71.2 411.0h0M71.2 429.1h0M71.3 418.0h0M71.3 429.5h0M71.3 447.8h0M71.4 413.5h0M71.4 427.4h0M71.5 416.5h0M71.5 420.8h0M71.6 416.2h0M71.7 407.5h0M71.7 427.2h0M71.7 423.8h0M71.8 423.1h0M71.8 409.5h0M71.9 408.1h0M71.9 439.2h0M72.0 419.0h0M72.0 441.4h0M72.1 443.5h0M72.1 431.6h0M72.1 423.8h0M72.2 418.5h0M72.2 428.2h0M72.3 409.8h0M72.3 422.2h0M72.4 431.1h0M72.4 442.7h0M72.5 423.8h0M72.5 405.6h0M72.5 422.2h0M72.6 445.2h0M72.6 433.2h0M72.7 421.4h0M72.7 418.6h0M72.8 408.3h0M72.8 396.4h0M72.9 432.1h0M72.9 432.3h0M72.9 416.7h0M73.0 413.0h0M73.0 419.3h0M73.1 428.4h0M73.1 432.4h0M73.2 417.6h0M73.2 429.2h0M73.3 428.1h0M73.3 408.8h0M73.4 412.3h0M73.4 411.3h0M73.4 418.4h0M73.5 429.4h0M73.5 408.9h0M73.6 435.6h0M73.7 415.4h0M73.7 440.9h0M73.8 420.4h0M73.8 385.6h0M73.9 424.3h0M73.9 417.9h0M74.0 434.7h0M74.0 412.0h0M74.1 416.3h0M74.1 441.5h0M74.2 439.8h0M74.2 421.5h0M74.2 441.1h0M74.3 408.7h0M74.3 424.7h0M74.4 417.8h0M74.4 449.9h0M74.5 420.9h0M74.6 444.0h0M74.6 433.1h0M74.7 430.1h0M74.8 430.0h0M74.8 413.6h0M74.9 430.4h0M74.9 413.2h0M75.0 433.9h0M75.0 422.7h0M75.0 440.7h0M75.1 428.8h0M75.1 437.1h0M75.2 419.6h0M75.3 400.2h0M75.3 420.3h0M75.4 451.0h0M75.4 442.2h0M75.5 415.4h0M75.5 434.3h0M75.5 425.3h0M75.6 426.8h0M75.6 442.6h0M75.8 425.5h0M75.8 427.9h0M75.9 432.9h0M75.9 439.2h0M76.0 434.1h0M76.0 436.9h0M76.1 428.6h0M76.1 428.8h0M76.2 441.0h0M76.2 445.9h0M76.3 428.4h0M76.3 429.5h0M76.4 426.6h0M76.4 437.9h0M76.5 425.1h0M76.5 405.3h0M76.6 436.3h0M76.6 416.2h0M76.7 422.7h0M76.7 435.8h0M76.7 417.4h0M76.8 414.4h0M76.9 423.7h0M76.9 412.7h0M77.0 409.9h0M77.0 417.4h0M77.1 412.5h0M77.1 436.0h0M77.2 428.4h0M77.2 415.4h0M77.2 419.6h0M77.3 419.9h0M77.3 420.5h0M77.4 423.3h0M77.4 423.8h0M77.5 435.7h0M77.5 414.7h0M77.6 409.0h0M77.6 437.2h0M77.6 424.4h0M77.7 425.1h0M77.7 433.4h0M77.8 424.1h0M77.8 411.7h0M77.9 430.0h0M77.9 430.9h0M78.0 449.6h0M78.1 432.1h0M78.1 428.8h0M78.2 421.7h0M78.2 425.6h0M78.3 422.0h0M78.3 436.9h0M78.4 419.3h0M78.4 429.8h0M78.4 414.4h0M78.5 406.1h0M78.6 414.2h0M78.6 431.0h0M78.7 421.0h0M78.8 436.8h0M78.8 430.5h0M78.8 425.9h0M78.9 431.1h0M78.9 413.4h0M79.0 445.9h0M79.0 421.8h0M79.1 418.3h0M79.1 410.4h0M79.2 399.0h0M79.2 424.6h0M79.3 419.7h0M79.3 427.6h0M79.3 432.7h0M79.4 417.5h0M79.4 435.3h0M79.5 413.1h0M79.5 415.5h0M79.6 421.8h0M79.6 419.1h0M79.7 410.4h0M79.7 426.7h0M79.7 417.9h0M79.8 428.3h0M79.8 424.2h0M79.9 409.2h0M79.9 403.0h0M80.0 430.9h0M80.0 414.5h0M80.1 417.5h0M80.1 433.3h0M80.1 417.0h0M80.2 441.5h0M80.2 426.4h0M80.3 427.0h0M80.4 414.7h0M80.4 416.4h0M80.5 433.6h0M80.5 412.5h0M80.5 419.2h0M80.6 416.2h0M80.6 425.3h0M80.7 397.9h0M80.7 411.0h0M80.8 421.8h0M80.8 425.7h0M80.9 430.2h0M80.9 418.3h0M80.9 419.6h0M81.0 439.9h0M81.0 417.0h0M81.1 429.0h0M81.1 422.1h0M81.2 441.0h0M81.2 451.4h0M81.3 423.9h0M81.3 421.3h0M81.4 414.9h0M81.4 416.1h0M81.5 444.8h0M81.6 409.0h0M81.6 428.8h0M81.7 432.0h0M81.7 419.9h0M81.8 410.7h0M81.8 423.9h0M81.8 427.5h0M81.9 432.5h0M81.9 415.7h0M82.0 411.4h0M82.0 420.7h0M82.1 418.7h0M82.1 411.7h0M82.2 423.6h0M82.2 424.2h0M82.2 417.5h0M82.3 427.5h0M82.3 412.9h0M82.4 415.4h0M82.4 423.5h0M82.5 436.9h0M82.6 439.5h0M82.6 431.1h0M82.6 416.3h0M82.7 398.5h0M82.7 421.4h0M82.8 428.7h0M82.8 400.9h0M82.9 420.6h0M82.9 445.3h0M83.0 417.5h0M83.0 414.0h0M83.0 427.6h0M83.1 420.0h0M83.1 407.0h0M83.2 450.1h0M83.2 421.9h0M83.3 420.8h0M83.3 411.8h0M83.4 430.9h0M83.5 436.9h0M83.5 445.3h0M83.5 428.7h0M83.6 400.3h0M83.6 418.6h0M83.7 403.0h0M83.7 442.1h0M83.8 435.8h0M83.8 416.6h0M83.9 441.5h0M83.9 418.5h0M83.9 424.1h0M84.0 424.0h0M84.0 453.9h0M84.1 423.0h0M84.2 426.6h0M84.2 428.6h0M84.3 418.3h0M84.3 413.1h0M84.4 400.8h0M84.5 419.1h0M84.6 441.3h0M84.6 440.8h0M84.7 406.4h0M84.7 437.6h0M84.7 420.4h0M84.8 424.8h0M84.8 412.8h0M84.9 435.3h0M84.9 429.6h0M85.0 427.6h0M85.0 429.5h0M85.1 426.4h0M85.1 427.9h0M85.1 435.3h0M85.2 421.1h0M85.2 416.3h0M85.3 413.7h0M85.4 409.6h0M85.4 429.4h0M85.5 426.1h0M85.5 426.5h0M85.6 411.1h0M85.6 445.8h0M85.7 422.9h0M85.8 427.9h0M85.8 380.9h0M85.9 418.9h0M85.9 420.5h0M86.0 430.4h0M86.0 428.6h0M86.1 427.5h0M86.1 423.1h0M86.2 457.7h0M86.2 438.3h0M86.3 414.0h0M86.3 421.9h0M86.4 428.0h0M86.4 418.3h0M86.4 439.2h0M86.5 415.4h0M86.5 415.0h0M86.6 408.1h0M86.6 419.2h0M86.7 432.1h0M86.7 411.9h0M86.8 418.0h0M86.8 415.9h0M86.9 416.9h0M86.9 432.8h0M87.0 429.2h0M87.0 417.3h0M87.1 448.2h0M87.2 430.7h0M87.2 422.8h0M87.3 427.2h0M87.3 429.1h0M87.3 430.0h0M87.4 417.2h0M87.5 439.6h0M87.5 421.7h0M87.6 431.2h0M87.6 433.4h0M87.7 425.7h0M87.7 432.4h0M87.7 419.6h0M87.8 410.3h0M87.8 412.5h0M87.9 420.7h0M87.9 417.5h0M88.0 453.0h0M88.0 420.3h0M88.1 433.4h0M88.1 406.0h0M88.1 422.7h0M88.2 418.7h0M88.2 423.1h0M88.3 424.9h0M88.3 425.9h0M88.4 414.3h0M88.5 442.3h0M88.5 444.8h0M88.5 425.7h0M88.6 453.8h0M88.6 439.6h0M88.7 423.7h0M88.7 423.4h0M88.8 421.5h0M88.9 419.0h0M88.9 422.6h0M88.9 429.6h0M89.0 435.6h0M89.0 405.0h0M89.1 415.6h0M89.2 444.3h0M89.3 413.8h0M89.4 405.3h0M89.4 427.2h0M89.5 420.5h0M89.5 417.0h0M89.6 406.1h0M89.6 421.8h0M89.7 431.5h0M89.8 430.8h0M89.8 414.5h0M89.8 436.3h0M89.9 422.2h0M89.9 413.3h0M90.0 417.7h0M90.0 410.6h0M90.1 431.3h0M90.2 412.7h0M90.2 417.2h0M90.2 427.1h0M90.3 412.3h0M90.3 440.6h0M90.4 428.4h0M90.4 417.6h0M90.5 389.3h0M90.5 422.6h0M90.6 434.7h0M90.6 413.1h0M90.6 421.8h0M90.7 421.6h0M90.8 442.9h0M90.9 418.0h0M90.9 456.4h0M91.0 403.5h0M91.0 421.8h0M91.1 425.0h0M91.1 416.9h0M91.2 437.9h0M91.2 428.1h0M91.3 423.4h0M91.3 423.2h0M91.4 431.7h0M91.4 409.8h0M91.5 412.9h0M91.5 421.2h0M91.5 417.3h0M91.6 411.9h0M91.6 438.3h0M91.7 413.5h0M91.7 417.7h0M91.8 453.2h0M91.8 419.9h0M91.9 427.9h0M91.9 429.7h0M91.9 405.9h0M92.0 436.7h0M92.0 424.1h0M92.1 418.6h0M92.1 417.6h0M92.2 434.2h0M92.2 431.9h0M92.3 441.2h0M92.3 414.1h0M92.3 442.9h0M92.4 421.3h0M92.4 410.3h0M92.5 431.9h0M92.5 420.9h0M92.6 410.3h0M92.6 433.8h0M92.7 412.3h0M92.7 453.0h0M92.7 432.3h0M92.8 437.6h0M92.8 421.1h0M92.9 446.7h0M92.9 419.3h0M93.0 426.0h0M93.0 430.0h0M93.1 402.9h0M93.1 437.7h0M93.1 426.9h0M93.2 439.5h0M93.2 418.5h0M93.3 407.1h0M93.4 442.0h0M93.5 427.1h0M93.5 431.9h0M93.6 416.0h0M93.6 414.2h0M93.6 406.9h0M93.7 431.3h0M93.7 406.3h0M93.8 429.3h0M93.8 410.5h0M93.9 425.1h0M93.9 400.8h0M94.0 427.4h0M94.0 423.0h0M94.0 410.5h0M94.1 420.4h0M94.1 438.8h0M94.2 430.4h0M94.2 415.9h0M94.3 419.3h0M94.3 415.5h0M94.4 415.2h0M94.4 420.9h0M94.4 426.1h0M94.5 416.2h0M94.5 416.3h0M94.6 446.3h0M94.7 420.1h0M94.7 420.9h0M94.8 417.2h0M94.8 427.5h0M94.8 417.5h0M94.9 413.9h0M94.9 418.5h0M95.0 427.1h0M95.0 415.0h0M95.1 424.3h0M95.1 445.2h0M95.2 418.8h0M95.2 415.0h0M95.2 419.7h0M95.3 430.8h0M95.3 436.1h0M95.4 423.7h0M95.4 419.6h0M95.5 421.8h0M95.6 443.5h0M95.6 420.9h0M95.7 427.3h0M95.7 434.9h0M95.8 433.2h0M95.8 437.6h0M95.9 415.3h0M95.9 403.7h0M96.0 419.2h0M96.0 413.0h0M96.1 415.5h0M96.1 417.7h0M96.1 427.1h0M96.2 427.5h0M96.2 419.8h0M96.3 446.4h0M96.3 413.8h0M96.4 432.4h0M96.5 416.7h0M96.5 433.0h0M96.5 422.4h0M96.6 422.6h0M96.6 433.8h0M96.7 444.0h0M96.7 418.5h0M96.8 422.6h0M96.8 445.3h0M96.9 408.2h0M96.9 438.0h0M96.9 419.8h0M97.0 432.0h0M97.0 440.9h0M97.1 448.6h0M97.2 435.1h0M97.2 434.8h0M97.3 414.6h0M97.3 424.2h0M97.4 432.6h0M97.4 440.8h0M97.4 429.0h0M97.5 408.0h0M97.5 421.0h0M97.6 432.7h0M97.6 414.1h0M97.7 426.9h0M97.8 444.2h0M97.8 433.4h0M97.9 428.9h0M98.0 415.8h0M98.0 426.0h0M98.1 414.1h0M98.2 423.2h0M98.2 434.4h0M98.2 415.2h0M98.3 429.3h0M98.3 446.7h0M98.4 439.7h0M98.5 419.1h0M98.5 442.6h0M98.6 426.8h0M98.6 423.1h0M98.7 425.9h0M98.7 437.8h0M98.8 428.7h0M98.8 410.4h0M98.9 408.3h0M98.9 410.4h0M99.0 433.3h0M99.0 443.7h0M99.0 422.7h0M99.1 435.8h0M99.1 421.2h0M99.2 438.7h0M99.2 429.9h0M99.3 422.9h0M99.3 438.2h0M99.4 422.2h0M99.4 422.9h0M99.5 420.7h0M99.5 421.4h0M99.6 443.0h0M99.6 428.9h0M99.7 454.9h0M99.7 440.3h0M99.8 434.5h0M99.8 429.5h0M99.9 422.7h0M99.9 405.6h0M99.9 434.6h0M100.0 429.2h0M100.1 422.9h0M100.1 414.9h0M100.2 437.9h0M100.3 431.5h0M100.3 418.4h0M100.3 428.6h0M100.4 407.0h0M100.4 425.0h0M100.5 421.0h0M100.5 425.1h0M100.6 406.9h0M100.6 417.3h0M100.7 401.9h0M100.7 436.1h0M100.7 429.7h0M100.8 422.7h0M100.8 423.6h0M100.9 423.2h0M100.9 432.0h0M101.0 436.9h0M101.0 431.6h0M101.1 422.0h0M101.1 409.7h0M101.1 418.9h0M101.2 436.0h0M101.2 431.1h0M101.3 445.8h0M101.3 395.5h0M101.4 447.3h0M101.4 419.2h0M101.5 417.9h0M101.5 434.1h0M101.6 435.1h0M101.6 435.2h0M101.6 427.8h0M101.7 433.9h0M101.7 427.6h0M101.8 424.1h0M101.8 422.2h0M101.9 416.6h0M101.9 428.3h0M102.0 410.2h0M102.0 417.8h0M102.1 418.9h0M102.1 416.7h0M102.2 435.1h0M102.2 438.1h0M102.4 413.2h0M102.4 435.7h0M102.4 419.6h0M102.5 422.9h0M102.5 423.1h0M102.6 422.3h0M102.6 414.2h0M102.7 448.8h0M102.7 429.2h0M102.8 419.4h0M102.8 421.4h0M102.8 439.6h0M102.9 443.0h0M102.9 426.7h0M103.0 438.1h0M103.0 432.9h0M103.1 434.2h0M103.1 408.4h0M103.2 448.0h0M103.2 413.0h0M103.3 424.4h0M103.3 418.3h0M103.4 422.1h0M103.4 436.5h0M103.5 431.1h0M103.5 413.1h0M103.6 410.2h0M103.6 439.5h0M103.7 431.0h0M103.7 416.2h0M103.7 422.1h0M103.8 433.6h0M103.8 416.6h0M103.9 431.0h0M103.9 414.1h0M104.0 430.5h0M104.0 420.6h0M104.1 423.9h0M104.1 425.0h0M104.1 416.8h0M104.2 430.9h0M104.2 425.0h0M104.3 427.9h0M104.3 412.2h0M104.4 421.8h0M104.4 437.9h0M104.5 432.1h0M104.5 420.6h0M104.5 421.2h0M104.6 423.8h0M104.6 413.8h0M104.7 399.7h0M104.8 441.8h0M104.8 415.1h0M104.9 443.7h0M104.9 437.6h0M104.9 427.6h0M105.0 445.1h0M105.0 432.7h0M105.1 421.8h0M105.1 423.2h0M105.2 427.2h0M105.3 438.0h0M105.3 423.4h0M105.4 408.4h0M105.4 432.5h0M105.5 432.5h0M105.5 420.2h0M105.6 431.8h0M105.6 414.9h0M105.7 433.3h0M105.7 437.4h0M105.8 428.4h0M105.8 436.5h0M105.8 439.6h0M105.9 412.6h0M105.9 430.2h0M106.0 451.0h0M106.0 420.8h0M106.1 444.5h0M106.1 426.6h0M106.2 417.8h0M106.2 429.6h0M106.2 423.4h0M106.3 435.9h0M106.3 424.5h0M106.4 429.3h0M106.4 378.9h0M106.5 425.6h0M106.6 419.3h0M106.6 444.7h0M106.6 421.2h0M106.7 421.6h0M106.7 431.2h0M106.8 416.6h0M106.8 420.2h0M106.9 425.5h0M106.9 408.9h0M107.0 417.8h0M107.0 424.0h0M107.0 423.9h0M107.1 424.0h0M107.1 427.8h0M107.2 431.9h0M107.2 415.8h0M107.3 449.7h0M107.4 427.7h0M107.4 422.3h0M107.5 431.1h0M107.5 433.4h0M107.6 414.6h0M107.6 414.4h0M107.7 412.2h0M107.7 414.3h0M107.8 435.4h0M107.8 441.0h0M107.9 426.6h0M107.9 425.3h0M107.9 420.0h0M108.0 442.1h0M108.0 406.8h0M108.1 413.9h0M108.1 439.8h0M108.2 423.6h0M108.2 412.0h0M108.3 429.3h0M108.3 424.1h0M108.3 443.7h0M108.4 429.8h0M108.4 414.8h0M108.5 431.8h0M108.5 420.9h0M108.6 419.9h0M108.6 439.2h0M108.7 420.1h0M108.7 439.1h0M108.8 445.8h0M108.8 428.4h0M108.9 426.8h0M108.9 417.7h0M109.0 416.8h0M109.0 438.0h0M109.1 412.5h0M109.1 427.7h0M109.1 421.7h0M109.2 434.6h0M109.2 434.7h0M109.3 414.9h0M109.3 426.9h0M109.4 423.8h0M109.4 406.8h0M109.5 461.5h0M109.5 421.0h0M109.6 421.6h0M109.6 436.0h0M109.6 439.7h0M109.7 420.9h0M109.8 411.2h0M109.8 427.9h0M109.9 411.8h0M109.9 414.9h0M110.0 417.9h0M110.0 443.4h0M110.1 427.2h0M110.1 428.4h0M110.2 418.6h0M110.2 444.2h0M110.3 424.1h0M110.3 420.3h0M110.4 437.1h0M110.4 429.5h0M110.5 397.3h0M110.5 408.9h0M110.6 415.5h0M110.6 420.2h0M110.7 419.9h0M110.7 430.9h0M110.8 425.3h0M110.8 412.8h0M110.8 415.0h0M110.9 415.3h0M110.9 433.4h0M111.0 434.7h0M111.0 429.7h0M111.1 424.6h0M111.1 443.6h0M111.2 437.5h0M111.2 414.5h0M111.2 435.8h0M111.3 424.1h0M111.3 423.1h0M111.4 423.3h0M111.4 438.6h0M111.5 427.9h0M111.5 418.4h0M111.6 424.8h0M111.6 428.6h0M111.7 437.8h0M111.7 439.5h0M111.7 423.3h0M111.8 410.0h0M111.9 425.6h0M111.9 421.1h0M112.0 401.4h0M112.1 427.9h0M112.1 438.0h0M112.1 432.3h0M112.2 415.8h0M112.2 426.8h0M112.3 421.7h0M112.3 420.0h0M112.4 423.3h0M112.4 409.9h0M112.5 402.7h0M112.5 439.5h0M112.5 387.8h0M112.6 439.1h0M112.6 433.6h0M112.7 421.8h0M112.7 424.8h0M112.8 412.2h0M112.8 449.3h0M112.9 435.2h0M112.9 411.2h0M113.0 435.4h0M113.1 416.0h0M113.1 429.2h0M113.2 423.6h0M113.2 427.6h0M113.3 430.2h0M113.3 409.1h0M113.3 446.8h0M113.4 427.1h0M113.4 438.1h0M113.5 434.4h0M113.5 425.9h0M113.6 417.3h0M113.7 416.3h0M113.7 456.7h0M113.8 414.1h0M113.8 445.9h0M113.8 413.7h0M113.9 434.2h0M113.9 412.4h0M114.0 421.7h0M114.1 417.7h0M114.2 435.8h0M114.2 440.4h0M114.2 436.9h0M114.3 431.8h0M114.4 422.4h0M114.5 416.1h0M114.5 415.9h0M114.6 420.1h0M114.6 413.8h0M114.6 397.6h0M114.7 409.4h0M114.7 422.4h0M114.8 440.8h0M114.8 417.9h0M114.9 433.8h0M114.9 416.5h0M115.0 427.6h0M115.0 409.3h0M115.0 431.4h0M115.1 432.1h0M115.1 421.3h0M115.2 425.5h0M115.2 431.2h0M115.3 428.0h0M115.3 407.2h0M115.4 421.9h0M115.4 428.2h0M115.4 410.6h0M115.5 433.5h0M115.5 403.2h0M115.6 422.0h0M115.6 424.3h0M115.7 414.4h0M115.7 420.7h0M115.8 440.9h0M115.8 415.6h0M115.9 429.3h0M115.9 438.9h0M115.9 427.1h0M116.0 425.3h0M116.0 434.7h0M116.1 421.8h0M116.1 403.0h0M116.2 414.3h0M116.2 428.0h0M116.3 422.3h0M116.3 416.7h0M116.3 412.3h0M116.4 422.9h0M116.4 443.0h0M116.5 418.0h0M116.5 440.7h0M116.6 451.7h0M116.6 438.7h0M116.7 448.7h0M116.7 439.9h0M116.7 431.3h0M116.8 425.3h0M116.9 422.6h0M117.0 419.8h0M117.0 428.2h0M117.1 414.8h0M117.1 436.7h0M117.1 425.9h0M117.2 425.7h0M117.2 438.7h0M117.3 433.2h0M117.3 434.5h0M117.4 423.0h0M117.4 417.8h0M117.5 416.5h0M117.5 423.0h0M117.6 423.4h0M117.6 425.2h0M117.6 433.5h0M117.7 419.2h0M117.7 411.9h0M117.8 428.1h0M117.9 411.6h0M117.9 454.2h0M118.0 416.9h0M118.0 421.7h0M118.0 435.2h0M118.1 415.5h0M118.2 425.6h0M118.2 423.5h0M118.3 417.0h0M118.3 439.8h0M118.4 434.6h0M118.4 437.7h0M118.4 420.8h0M118.5 417.2h0M118.5 451.5h0M118.6 419.5h0M118.6 431.4h0M118.7 426.1h0M118.8 420.0h0M118.8 416.0h0M118.8 414.0h0M118.9 438.9h0M119.0 416.4h0M119.0 430.3h0M119.1 429.7h0M119.1 422.3h0M119.2 423.1h0M119.2 470.2h0M119.2 421.4h0M119.3 415.2h0M119.3 425.5h0M119.4 431.6h0M119.4 432.7h0M119.5 424.4h0M119.5 422.9h0M119.6 420.9h0M119.6 420.1h0M119.7 436.7h0M119.7 397.4h0M119.7 438.5h0M119.8 418.1h0M119.9 426.7h0M119.9 419.6h0M120.0 420.1h0M120.0 414.2h0M120.1 420.0h0M120.1 431.8h0M120.1 433.6h0M120.2 447.8h0M120.2 411.1h0M120.3 402.1h0M120.3 428.1h0M120.4 423.4h0M120.4 418.7h0M120.5 435.8h0M120.5 410.5h0M120.6 404.2h0M120.7 419.6h0M120.7 431.4h0M120.8 424.2h0M120.8 425.4h0M120.9 439.8h0M120.9 419.9h0M120.9 426.0h0M121.0 437.0h0M121.0 439.6h0M121.1 423.3h0M121.1 411.3h0M121.2 423.6h0M121.3 411.9h0M121.3 432.7h0M121.3 418.7h0M121.4 425.3h0M121.4 398.5h0M121.5 433.8h0M121.5 401.1h0M121.6 453.8h0M121.6 426.6h0M121.7 427.8h0M121.7 439.3h0M121.8 441.6h0M121.8 423.9h0M121.8 413.7h0M121.9 436.4h0M121.9 414.1h0M122.0 425.1h0M122.0 437.4h0M122.1 421.5h0M122.1 431.2h0M122.2 427.7h0M122.2 414.3h0M122.2 410.9h0M122.3 430.0h0M122.3 415.0h0M122.4 432.7h0M122.5 423.2h0M122.6 415.7h0M122.6 440.3h0M122.6 413.3h0M122.7 432.9h0M122.7 443.6h0M122.8 423.0h0M122.8 435.5h0M122.9 417.1h0M122.9 427.5h0M123.0 418.7h0M123.1 431.5h0M123.1 410.1h0M123.2 401.1h0M123.2 420.3h0M123.3 431.4h0M123.3 407.9h0M123.4 421.3h0M123.4 412.9h0M123.4 433.1h0M123.5 430.1h0M123.6 432.0h0M123.6 431.2h0M123.7 423.3h0M123.7 421.7h0M123.8 435.7h0M123.9 428.8h0M123.9 444.6h0M124.0 430.8h0M124.0 413.6h0M124.1 422.6h0M124.1 421.3h0M124.2 429.5h0M124.3 423.9h0M124.3 417.8h0M124.3 429.2h0M124.4 424.7h0M124.4 417.6h0M124.5 441.0h0M124.5 422.7h0M124.6 425.7h0M124.6 441.3h0M124.7 401.6h0M124.7 420.6h0M124.7 423.8h0M124.8 414.8h0M124.8 439.6h0M124.9 431.8h0M124.9 442.3h0M125.0 428.1h0M125.0 430.1h0M125.1 421.1h0M125.1 444.8h0M125.1 437.4h0M125.2 440.5h0M125.2 407.2h0M125.3 416.4h0M125.4 421.5h0M125.4 419.9h0M125.5 453.2h0M125.5 436.3h0M125.6 415.2h0M125.6 445.2h0M125.7 437.2h0M125.7 422.5h0M125.8 424.8h0M125.8 419.9h0M125.9 443.6h0M126.0 425.4h0M126.0 424.2h0M126.1 411.6h0M126.1 441.2h0M126.2 416.6h0M126.2 406.3h0M126.3 414.0h0M126.3 444.8h0M126.4 421.3h0M126.4 419.0h0M126.4 426.2h0M126.5 426.0h0M126.6 423.3h0M126.6 426.5h0M126.7 453.5h0M126.8 416.5h0M126.8 415.7h0M126.8 413.1h0M126.9 410.9h0M126.9 440.6h0M127.0 429.2h0M127.0 419.0h0M127.1 416.1h0M127.1 425.0h0M127.2 423.1h0M127.2 426.4h0M127.2 456.3h0M127.3 443.2h0M127.3 418.7h0M127.4 423.1h0M127.4 427.2h0M127.5 441.8h0M127.5 447.5h0M127.6 445.5h0M127.6 419.2h0M127.7 431.1h0M127.7 436.8h0M127.7 421.3h0M127.8 416.3h0M127.8 417.1h0M127.9 427.2h0M128.0 427.3h0M128.0 436.6h0M128.1 420.2h0M128.1 437.2h0M128.1 418.2h0M128.2 428.4h0M128.2 436.0h0M128.3 420.5h0M128.3 418.4h0M128.4 452.4h0M128.4 433.1h0M128.5 431.9h0M128.5 417.9h0M128.5 414.1h0M128.6 428.4h0M128.7 409.9h0M128.7 436.4h0M128.8 438.7h0M128.8 425.8h0M128.9 416.1h0M128.9 415.7h0M129.0 421.2h0M129.0 407.9h0M129.1 451.7h0M129.1 433.2h0M129.2 443.7h0M129.2 427.9h0M129.3 430.0h0M129.3 421.0h0M129.3 410.6h0M129.4 408.4h0M129.5 408.3h0M129.5 420.4h0M129.6 430.4h0M129.7 422.4h0M129.7 428.1h0M129.8 427.6h0M129.8 411.9h0M129.9 425.2h0M129.9 415.3h0M130.0 419.3h0M130.0 455.7h0M130.1 424.0h0M130.2 423.8h0M130.2 419.6h0M130.2 405.2h0M130.3 408.0h0M130.3 417.6h0M130.4 439.4h0M130.4 419.3h0M130.5 412.6h0M130.5 416.2h0M130.6 429.8h0M130.6 418.2h0M130.6 420.1h0M130.7 445.5h0M130.7 410.6h0M130.8 417.6h0M130.8 421.4h0M130.9 442.2h0M130.9 447.7h0M131.0 426.0h0M131.0 430.2h0M131.0 431.5h0M131.1 408.2h0M131.1 435.4h0M131.2 426.0h0M131.3 417.6h0M131.3 438.8h0M131.4 436.3h0M131.4 445.2h0M131.4 412.8h0M131.5 437.8h0M131.5 431.3h0M131.6 419.1h0M131.6 448.9h0M131.7 437.7h0M131.7 424.5h0M131.8 428.3h0M131.9 441.7h0M131.9 418.9h0M131.9 419.3h0M132.0 421.8h0M132.0 403.0h0M132.1 416.6h0M132.2 437.2h0M132.2 437.0h0M132.3 414.5h0M132.3 406.3h0M132.3 401.3h0M132.4 437.8h0M132.4 441.1h0M132.5 427.4h0M132.5 424.6h0M132.6 427.1h0M132.7 425.0h0M132.7 422.0h0M132.7 432.9h0M132.8 457.1h0M132.8 417.4h0M132.9 410.9h0M132.9 421.3h0M133.0 430.6h0M133.1 415.6h0M133.1 413.2h0M133.1 429.9h0M133.2 409.7h0M133.2 439.7h0M133.3 424.4h0M133.3 446.7h0M133.4 420.4h0M133.4 445.5h0M133.5 440.0h0M133.5 417.0h0M133.5 409.0h0M133.6 410.0h0M133.6 428.2h0M133.7 434.3h0M133.8 419.3h0M133.8 423.6h0M133.9 398.1h0M133.9 442.7h0M134.0 433.7h0M134.0 423.1h0M134.0 443.0h0M134.1 432.1h0M134.1 416.7h0M134.2 442.5h0M134.3 421.2h0M134.3 402.9h0M134.4 440.0h0M134.4 413.2h0M134.4 414.4h0M134.5 408.6h0M134.5 440.2h0M134.6 428.9h0M134.6 403.6h0M134.7 428.2h0M134.7 426.7h0M134.8 422.6h0M134.8 436.8h0M134.8 454.1h0M134.9 423.5h0M134.9 437.5h0M135.0 421.8h0M135.0 450.8h0M135.1 408.6h0M135.1 423.6h0M135.2 420.5h0M135.2 440.8h0M135.2 419.5h0M135.3 432.1h0M135.3 439.0h0M135.4 423.4h0M135.4 422.2h0M135.5 404.9h0M135.5 415.9h0M135.6 416.1h0M135.6 425.7h0M135.6 431.4h0M135.7 434.5h0M135.7 423.9h0M135.8 422.4h0M135.8 421.9h0M135.9 437.3h0M135.9 443.8h0M136.0 437.7h0M136.1 424.6h0M136.1 419.1h0M136.1 442.2h0M136.2 432.4h0M136.2 431.0h0M136.3 417.2h0M136.3 442.8h0M136.4 409.6h0M136.4 421.0h0M136.5 419.8h0M136.5 417.9h0M136.5 443.1h0M136.6 412.8h0M136.6 426.8h0M136.7 444.1h0M136.7 425.9h0M136.8 414.3h0M136.8 417.5h0M136.9 433.1h0M136.9 428.3h0M136.9 426.5h0M137.0 415.5h0M137.0 440.4h0M137.1 410.9h0M137.1 417.6h0M137.2 418.4h0M137.2 432.7h0M137.3 436.4h0M137.3 424.2h0M137.3 403.8h0M137.4 438.5h0M137.5 438.7h0M137.5 419.9h0M137.6 421.2h0M137.6 429.6h0M137.7 434.8h0M137.7 424.5h0M137.7 420.2h0M137.8 429.0h0M137.8 423.2h0M137.9 401.0h0M137.9 429.9h0M138.0 421.7h0M138.0 420.2h0M138.1 417.4h0M138.1 436.3h0M138.2 424.0h0M138.2 447.3h0M138.2 408.8h0M138.3 425.1h0M138.3 450.2h0M138.4 437.3h0M138.4 424.3h0M138.5 409.1h0M138.5 448.0h0M138.6 426.4h0M138.6 422.8h0M138.6 424.8h0M138.7 412.2h0M138.8 458.2h0M138.8 431.9h0M138.9 409.5h0M139.0 423.8h0M139.0 440.3h0M139.1 444.8h0M139.1 424.9h0M139.2 431.2h0M139.2 424.1h0M139.3 412.9h0M139.3 414.5h0M139.4 410.0h0M139.4 421.8h0M139.4 432.3h0M139.5 423.2h0M139.5 406.1h0M139.6 446.5h0M139.6 398.5h0M139.7 416.7h0M139.7 442.4h0M139.8 458.8h0M139.8 448.7h0M139.9 426.2h0M139.9 415.4h0M139.9 428.4h0M140.0 429.3h0M140.0 414.4h0M140.1 422.4h0M140.1 426.1h0M140.2 432.3h0M140.2 436.9h0M140.3 407.6h0M140.3 408.1h0M140.3 427.7h0M140.4 427.5h0M140.4 426.2h0M140.5 420.5h0M140.5 442.9h0M140.6 428.4h0M140.6 429.0h0M140.7 419.6h0M140.7 449.4h0M140.7 415.6h0M140.8 407.0h0M140.8 425.4h0M140.9 436.9h0M141.0 421.5h0M141.0 421.1h0M141.1 422.3h0M141.1 436.1h0M141.2 427.4h0M141.2 430.7h0M141.3 406.4h0M141.3 411.4h0M141.4 433.4h0M141.4 427.0h0M141.5 421.8h0M141.5 418.7h0M141.5 429.9h0M141.6 424.6h0M141.6 431.9h0M141.7 417.0h0M141.7 418.0h0M141.8 428.9h0M141.8 416.3h0M141.9 419.3h0M142.0 399.9h0M142.0 409.1h0M142.0 425.2h0M142.1 424.9h0M142.1 413.1h0M142.2 410.7h0M142.2 421.6h0M142.3 428.1h0M142.3 435.1h0M142.4 423.3h0M142.4 422.7h0M142.4 436.8h0M142.5 414.8h0M142.6 423.8h0M142.7 427.5h0M142.7 413.5h0M142.8 424.4h0M142.8 428.1h0M142.8 436.1h0M142.9 417.5h0M142.9 426.9h0M143.0 421.3h0M143.0 424.2h0M143.1 432.6h0M143.1 414.8h0M143.2 415.0h0M143.2 432.8h0M143.2 434.9h0M143.3 417.8h0M143.3 416.4h0M143.4 438.9h0M143.4 428.3h0M143.5 412.8h0M143.5 427.1h0M143.6 431.3h0M143.6 421.1h0M143.6 453.2h0M143.7 430.8h0M143.7 413.3h0M143.8 436.5h0M143.8 435.2h0M143.9 417.0h0M144.0 416.0h0M144.1 422.3h0M144.1 442.8h0M144.2 417.6h0M144.2 421.1h0M144.3 425.0h0M144.3 419.7h0M144.4 429.5h0M144.4 418.7h0M144.5 376.4h0M144.5 419.2h0M144.5 417.2h0M144.6 432.2h0M144.6 407.0h0M144.7 438.2h0M144.7 425.1h0M144.8 450.8h0M144.8 432.3h0M144.9 445.5h0M144.9 423.3h0M144.9 415.8h0M145.0 421.7h0M145.0 429.1h0M145.1 425.1h0M145.1 419.0h0M145.2 418.4h0M145.2 406.3h0M145.3 425.1h0M145.3 408.8h0M145.3 430.8h0M145.4 417.3h0M145.4 421.5h0M145.5 425.0h0M145.5 428.0h0M145.6 410.0h0M145.6 403.0h0M145.7 423.6h0M145.7 410.0h0M145.7 408.9h0M145.8 433.4h0M145.8 428.0h0M145.9 440.4h0M146.0 416.7h0M146.0 414.4h0M146.1 401.3h0M146.1 416.8h0M146.2 436.3h0M146.2 439.8h0M146.2 425.5h0M146.3 412.1h0M146.3 435.4h0M146.4 408.6h0M146.4 430.0h0M146.5 465.5h0M146.5 427.8h0M146.6 422.7h0M146.6 424.3h0M146.7 436.7h0M146.7 433.3h0M146.8 434.0h0M146.8 414.1h0M146.9 411.2h0M146.9 439.4h0M147.0 432.8h0M147.1 416.4h0M147.1 417.9h0M147.2 415.8h0M147.2 419.3h0M147.3 438.1h0M147.3 415.2h0M147.4 436.3h0M147.4 422.8h0M147.5 416.2h0M147.5 453.6h0M147.6 417.9h0M147.7 418.5h0M147.8 422.0h0M147.8 441.6h0M147.8 414.3h0M147.9 408.2h0M147.9 427.6h0M148.0 412.4h0M148.0 445.1h0M148.1 418.4h0M148.1 428.5h0M148.2 432.1h0M148.2 423.6h0M148.3 423.4h0M148.3 403.3h0M148.3 408.9h0M148.4 412.0h0M148.4 430.3h0M148.5 449.1h0M148.5 426.1h0M148.6 432.7h0M148.6 448.5h0M148.7 421.4h0M148.7 422.5h0M148.7 443.3h0M148.8 427.7h0M148.8 427.6h0M148.9 437.3h0M148.9 450.4h0M149.0 406.7h0M149.0 428.4h0M149.1 417.7h0M149.1 425.2h0M149.1 431.9h0M149.2 445.8h0M149.2 436.5h0M149.3 415.2h0M149.3 441.7h0M149.4 418.8h0M149.5 406.4h0M149.5 447.1h0M149.6 439.8h0M149.6 435.5h0M149.7 423.1h0M149.7 446.4h0M149.8 416.6h0M149.8 446.0h0M149.9 405.0h0M149.9 426.1h0M150.0 452.0h0M150.0 417.4h0M150.0 434.2h0M150.1 422.7h0M150.1 419.6h0M150.2 423.5h0M150.2 438.2h0M150.3 437.1h0M150.3 423.0h0M150.4 415.9h0M150.4 423.4h0M150.5 423.6h0M150.5 422.5h0M150.6 408.6h0M150.6 423.4h0M150.7 422.3h0M150.7 431.7h0M150.8 435.5h0M150.8 388.0h0M150.8 409.9h0M150.9 413.1h0M150.9 428.3h0M151.0 419.3h0M151.0 418.9h0M151.1 451.1h0M151.1 408.4h0M151.2 417.2h0M151.2 423.8h0M151.2 401.5h0M151.3 427.5h0M151.3 463.4h0M151.4 414.3h0M151.4 423.3h0M151.5 428.2h0M151.5 413.9h0M151.6 426.4h0M151.6 432.5h0M151.6 417.2h0M151.7 442.5h0M151.7 429.1h0M151.8 413.1h0M151.8 432.7h0M151.9 424.0h0M151.9 445.8h0M152.0 445.8h0M152.0 426.4h0M152.1 435.5h0M152.1 437.1h0M152.1 432.6h0M152.2 422.1h0M152.2 447.9h0M152.3 419.5h0M152.3 415.0h0M152.4 433.8h0M152.4 419.7h0M152.5 435.3h0M152.5 425.1h0M152.5 428.1h0M152.6 432.5h0M152.6 413.7h0M152.7 436.6h0M152.7 427.0h0M152.8 422.0h0M152.8 434.3h0M152.9 405.8h0M152.9 415.2h0M152.9 416.2h0M153.0 423.4h0M153.0 422.5h0M153.1 428.3h0M153.1 423.5h0M153.2 421.8h0M153.2 437.7h0M153.3 430.7h0M153.3 431.7h0M153.3 428.5h0M153.4 413.9h0M153.4 430.2h0M153.5 406.4h0M153.5 419.9h0M153.6 425.8h0M153.6 416.9h0M153.7 424.5h0M153.7 424.1h0M153.7 432.7h0M153.8 423.3h0M153.8 418.1h0M153.9 422.1h0M153.9 411.6h0M154.0 425.3h0M154.0 453.2h0M154.1 427.9h0M154.1 451.7h0M154.2 443.3h0M154.2 421.5h0M154.2 427.5h0M154.3 431.0h0M154.3 417.5h0M154.4 426.1h0M154.4 423.2h0M154.5 422.2h0M154.5 423.6h0M154.6 434.1h0M154.6 439.1h0M154.6 415.8h0M154.7 417.4h0M154.7 430.9h0M154.8 415.5h0M154.9 431.5h0M155.0 420.7h0M155.0 458.4h0M155.0 447.0h0M155.1 430.7h0M155.1 426.7h0M155.2 422.0h0M155.2 432.6h0M155.3 429.3h0M155.3 412.6h0M155.4 422.7h0M155.4 435.6h0M155.4 429.4h0M155.5 423.1h0M155.5 418.0h0M155.6 442.6h0M155.6 429.3h0M155.7 433.9h0M155.7 422.9h0M155.8 426.3h0M155.8 431.2h0M155.8 427.3h0M155.9 410.0h0M155.9 428.1h0M156.0 424.3h0M156.0 418.0h0M156.1 421.5h0M156.2 421.9h0M156.2 407.4h0M156.3 428.6h0M156.3 429.3h0M156.4 426.3h0M156.4 406.5h0M156.5 430.5h0M156.5 420.1h0M156.6 433.2h0M156.6 428.8h0M156.7 422.8h0M156.7 424.0h0M156.8 434.4h0M156.8 418.4h0M156.9 423.8h0M156.9 423.8h0M157.0 429.9h0M157.0 428.1h0M157.1 427.5h0M157.1 422.4h0M157.1 432.3h0M157.2 425.0h0M157.2 414.1h0M157.3 419.6h0M157.4 405.4h0M157.4 403.1h0M157.5 422.7h0M157.5 412.1h0M157.5 419.2h0M157.6 422.9h0M157.6 440.8h0M157.7 440.4h0M157.7 420.3h0M157.8 409.5h0M157.9 430.6h0M157.9 435.5h0M157.9 412.4h0M158.0 414.3h0M158.0 425.8h0M158.1 437.3h0M158.1 428.5h0M158.2 409.7h0M158.2 422.8h0M158.3 422.4h0M158.3 441.2h0M158.4 413.1h0M158.4 421.9h0M158.4 429.0h0M158.5 425.9h0M158.5 421.9h0M158.6 421.2h0M158.6 428.2h0M158.7 411.4h0M158.7 455.1h0M158.8 423.5h0M158.8 407.2h0M158.8 434.1h0M158.9 413.3h0M158.9 417.8h0M159.0 421.2h0M159.0 428.6h0M159.1 453.1h0M159.1 421.8h0M159.2 431.4h0M159.2 443.3h0M159.2 418.7h0M159.3 410.9h0M159.3 417.6h0M159.4 411.4h0M159.5 426.5h0M159.5 431.4h0M159.6 436.0h0M159.6 417.2h0M159.6 436.5h0M159.7 431.7h0M159.7 419.5h0M159.8 438.8h0M159.8 425.1h0M159.9 408.7h0M159.9 416.3h0M160.0 414.6h0M160.0 413.6h0M160.1 436.8h0M160.1 410.5h0M160.1 421.1h0M160.2 433.2h0M160.2 423.1h0M160.3 412.2h0M160.3 425.2h0M160.4 435.0h0M160.4 444.8h0M160.5 422.1h0M160.5 411.6h0M160.5 440.5h0M160.6 409.7h0M160.6 421.1h0M160.7 429.3h0M160.7 403.2h0M160.8 442.4h0M160.8 418.5h0M160.9 422.2h0M160.9 427.1h0M160.9 406.2h0M161.0 403.8h0M161.0 423.4h0M161.1 414.0h0M161.1 435.1h0M161.2 433.2h0M161.2 417.9h0M161.3 445.3h0M161.3 429.3h0M161.3 422.7h0M161.4 422.7h0M161.4 440.9h0M161.5 413.9h0M161.5 427.2h0M161.6 424.6h0M161.6 428.4h0M161.7 433.2h0M161.7 408.8h0M161.8 446.4h0M161.8 416.8h0M161.9 416.4h0M161.9 449.8h0M162.0 420.4h0M162.0 444.5h0M162.1 417.1h0M162.1 424.8h0M162.2 432.3h0M162.2 434.4h0M162.2 417.6h0M162.3 429.5h0M162.4 423.0h0M162.4 425.0h0M162.5 412.0h0M162.5 434.6h0M162.6 414.3h0M162.6 422.1h0M162.6 460.7h0M162.7 446.0h0M162.8 418.6h0M162.9 424.3h0M162.9 409.8h0M163.0 433.1h0M163.0 424.1h0M163.0 425.0h0M163.1 421.6h0M163.1 425.7h0M163.2 452.4h0M163.2 446.8h0M163.3 420.3h0M163.3 416.9h0M163.4 419.0h0M163.4 429.8h0M163.4 415.1h0M163.5 415.2h0M163.5 429.8h0M163.6 444.0h0M163.6 412.1h0M163.7 437.8h0M163.7 430.0h0M163.8 427.8h0M163.8 433.7h0M163.8 421.8h0M163.9 418.3h0M163.9 418.1h0M164.0 436.5h0M164.0 415.3h0M164.1 434.0h0M164.1 430.3h0M164.2 418.2h0M164.2 412.0h0M164.3 415.0h0M164.3 406.0h0M164.3 422.0h0M164.4 440.1h0M164.4 403.3h0M164.5 423.8h0M164.5 419.4h0M164.6 414.4h0M164.6 410.0h0M164.7 428.2h0M164.7 417.0h0M164.7 416.3h0M164.8 427.8h0M164.8 426.1h0M164.9 423.6h0M164.9 414.0h0M165.0 409.1h0M165.0 421.2h0M165.1 392.6h0M165.1 421.9h0M165.1 429.7h0M165.2 420.8h0M165.2 418.1h0M165.3 428.7h0M165.3 426.5h0M165.4 419.4h0M165.4 437.3h0M165.5 423.5h0M165.5 406.9h0M165.5 428.5h0M165.6 426.1h0M165.6 418.4h0M165.7 428.7h0M165.7 439.5h0M165.8 397.7h0M165.8 418.7h0M165.9 437.4h0M166.0 439.5h0M166.0 428.6h0M166.1 430.1h0M166.1 425.8h0M166.2 420.6h0M166.2 419.1h0M166.3 405.9h0M166.3 425.9h0M166.4 415.1h0M166.4 411.0h0M166.4 430.0h0M166.5 443.3h0M166.6 409.8h0M166.6 422.2h0M166.7 429.9h0M166.7 415.1h0M166.8 421.3h0M166.8 426.9h0M166.8 427.5h0M166.9 423.5h0M166.9 411.1h0M167.0 417.7h0M167.0 420.5h0M167.1 416.6h0M167.1 429.0h0M167.2 431.0h0M167.2 423.9h0M167.2 434.4h0M167.3 408.2h0M167.3 426.5h0M167.4 434.6h0M167.4 425.0h0M167.5 458.1h0M167.5 403.8h0M167.6 416.7h0M167.6 419.1h0M167.6 410.5h0M167.7 412.6h0M167.7 417.0h0M167.8 435.6h0M167.9 439.6h0M167.9 438.4h0M168.0 416.0h0M168.0 420.7h0M168.0 424.1h0M168.1 422.1h0M168.1 424.5h0M168.2 441.5h0M168.2 419.6h0M168.3 424.6h0M168.3 430.6h0M168.4 433.0h0M168.5 422.3h0M168.5 440.9h0M168.5 395.5h0M168.6 420.5h0M168.6 404.3h0M168.7 403.4h0M168.7 431.6h0M168.8 399.0h0M168.8 423.4h0M168.9 409.2h0M168.9 437.0h0M168.9 435.7h0M169.0 433.7h0M169.1 452.1h0M169.1 430.6h0M169.2 423.7h0M169.2 444.5h0M169.3 424.3h0M169.3 436.3h0M169.4 416.1h0M169.4 437.2h0M169.5 410.2h0M169.5 452.9h0M169.6 415.7h0M169.6 437.0h0M169.7 425.9h0M169.8 408.6h0M169.8 415.2h0M169.9 427.3h0M170.0 423.9h0M170.0 411.8h0M170.1 425.7h0M170.1 420.7h0M170.2 430.3h0M170.2 434.3h0M170.2 436.5h0M170.3 421.5h0M170.3 428.4h0M170.4 432.9h0M170.4 437.6h0M170.5 425.0h0M170.5 419.1h0M170.6 406.5h0M170.6 434.5h0M170.6 414.4h0M170.7 411.7h0M170.7 448.5h0M170.8 417.6h0M170.8 431.7h0M170.9 431.6h0M170.9 410.6h0M171.0 428.3h0M171.0 412.6h0M171.0 420.4h0M171.1 414.7h0M171.1 416.9h0M171.2 419.3h0M171.2 427.2h0M171.3 418.9h0M171.3 443.3h0M171.4 439.5h0M171.4 418.6h0M171.4 432.4h0M171.5 431.7h0M171.5 426.3h0M171.6 388.2h0M171.6 431.7h0M171.7 419.5h0M171.7 421.5h0M171.8 415.2h0M171.8 429.0h0M171.8 421.2h0M171.9 422.0h0M171.9 416.1h0M172.0 426.7h0M172.0 411.1h0M172.1 433.1h0M172.1 433.7h0M172.2 428.0h0M172.2 443.4h0M172.3 428.6h0M172.3 419.7h0M172.3 420.5h0M172.4 417.2h0M172.4 405.0h0M172.5 427.1h0M172.5 426.5h0M172.6 411.5h0M172.6 410.0h0M172.7 429.9h0M172.7 413.4h0M172.7 421.9h0M172.8 407.6h0M172.8 427.5h0M172.9 416.6h0M172.9 429.8h0M173.0 415.7h0M173.0 452.3h0M173.1 437.7h0M173.1 411.0h0M173.1 423.3h0M173.2 428.4h0M173.2 419.3h0M173.3 447.1h0M173.3 406.0h0M173.4 411.9h0M173.5 422.2h0M173.5 418.0h0M173.6 442.7h0M173.6 416.7h0M173.7 413.1h0M173.8 432.8h0M173.8 435.5h0M173.9 444.0h0M173.9 446.2h0M173.9 431.9h0M174.0 426.7h0M174.1 431.7h0M174.1 419.6h0M174.2 435.4h0M174.3 408.4h0M174.3 419.2h0M174.4 417.0h0M174.4 408.1h0M174.4 423.6h0M174.5 395.3h0M174.5 407.7h0M174.6 441.2h0M174.6 435.9h0M174.7 426.8h0M174.8 426.0h0M174.8 416.6h0M174.8 415.8h0M174.9 422.9h0M174.9 419.4h0M175.0 437.9h0M175.0 452.1h0M175.1 415.0h0M175.1 440.2h0M175.2 412.0h0M175.2 416.5h0M175.2 409.0h0M175.3 428.7h0M175.3 421.5h0M175.4 412.5h0M175.4 411.6h0M175.5 410.6h0M175.5 416.9h0M175.6 414.3h0M175.6 404.1h0M175.6 419.2h0M175.7 410.5h0M175.7 408.6h0M175.8 426.9h0M175.8 406.5h0M175.9 431.5h0M176.0 439.3h0M176.0 428.2h0M176.1 437.6h0M176.2 426.2h0M176.2 425.6h0M176.3 413.4h0M176.3 411.6h0M176.4 409.5h0M176.5 443.6h0M176.5 421.7h0M176.5 432.0h0M176.6 437.2h0M176.6 458.0h0M176.7 441.1h0M176.7 411.1h0M176.8 414.0h0M176.8 421.2h0M176.9 429.6h0M176.9 412.3h0M176.9 427.0h0M177.0 431.8h0M177.0 423.8h0M177.1 426.4h0M177.1 421.4h0M177.2 420.0h0M177.2 424.5h0M177.3 421.2h0M177.3 423.3h0M177.3 430.6h0M177.4 430.5h0M177.4 439.6h0M177.5 414.3h0M177.5 447.9h0M177.6 440.5h0M177.6 415.2h0M177.7 413.0h0M177.7 420.8h0M177.8 415.3h0M177.8 409.8h0M177.9 429.4h0M177.9 418.7h0M178.0 408.2h0M178.0 435.9h0M178.1 408.9h0M178.1 411.6h0M178.1 416.3h0M178.2 421.6h0M178.2 430.4h0M178.3 439.9h0M178.3 416.2h0M178.4 417.3h0M178.4 404.3h0M178.5 420.8h0M178.5 417.7h0M178.6 434.2h0M178.6 412.9h0M178.7 433.6h0M178.7 397.6h0M178.8 417.7h0M178.8 416.6h0M178.9 438.8h0M178.9 419.5h0M179.0 454.5h0M179.0 415.8h0M179.0 440.4h0M179.1 425.9h0M179.1 442.0h0M179.2 430.2h0M179.2 423.2h0M179.3 442.5h0M179.3 418.2h0M179.4 421.3h0M179.4 411.6h0M179.4 452.0h0M179.5 421.9h0M179.5 422.2h0M179.6 415.1h0M179.6 410.8h0M179.7 419.3h0M179.7 434.0h0M179.8 426.9h0M179.8 422.7h0M179.8 414.6h0M179.9 419.7h0M179.9 441.4h0M180.0 440.2h0M180.0 414.2h0M180.1 423.5h0M180.2 412.5h0M180.2 410.0h0M180.3 384.8h0M180.3 421.7h0M180.3 422.1h0M180.4 445.5h0M180.5 434.1h0M180.5 442.3h0M180.6 422.7h0M180.6 427.8h0M180.7 420.6h0M180.7 437.0h0M180.7 422.3h0M180.8 424.7h0M180.8 437.5h0M180.9 421.7h0M180.9 415.1h0M181.0 419.0h0M181.0 431.9h0M181.1 408.4h0M181.1 405.2h0M181.2 412.9h0M181.2 428.5h0M181.3 434.9h0M181.3 437.1h0M181.4 428.9h0M181.4 422.2h0M181.5 427.6h0M181.5 414.2h0M181.6 406.0h0M181.7 431.1h0M181.7 404.2h0M181.8 417.6h0M181.8 422.3h0M181.9 422.3h0M181.9 419.2h0M181.9 446.8h0M182.0 444.9h0M182.0 385.2h0M182.1 407.4h0M182.1 425.7h0M182.2 418.1h0M182.2 429.8h0M182.3 408.0h0M182.3 427.4h0M182.4 424.0h0M182.4 423.0h0M182.4 423.4h0M182.5 400.5h0M182.5 444.2h0M182.6 436.4h0M182.6 458.0h0M182.7 405.2h0M182.7 410.4h0M182.8 425.0h0M182.8 416.7h0M182.8 434.4h0M182.9 430.1h0M182.9 441.3h0M183.0 398.3h0M183.1 430.6h0M183.1 417.1h0M183.2 415.3h0M183.2 426.9h0M183.2 429.7h0M183.3 429.8h0M183.3 420.0h0M183.4 416.0h0M183.4 407.4h0M183.5 427.7h0M183.5 430.3h0M183.6 444.1h0M183.6 420.4h0M183.6 437.3h0M183.7 436.4h0M183.8 425.9h0M183.8 421.1h0M183.9 424.5h0M183.9 426.0h0M184.0 416.8h0M184.0 431.0h0M184.1 430.6h0M184.1 418.3h0M184.2 417.6h0M184.2 421.1h0M184.3 404.3h0M184.3 413.3h0M184.4 415.2h0M184.4 408.2h0M184.5 438.9h0M184.5 406.6h0M184.5 421.0h0M184.6 432.0h0M184.6 424.1h0M184.7 445.8h0M184.7 424.6h0M184.8 449.3h0M184.8 431.7h0M184.9 441.9h0M184.9 436.4h0M184.9 422.4h0M185.0 410.7h0M185.0 431.9h0M185.1 415.1h0M185.1 444.5h0M185.2 434.5h0M185.2 415.1h0M185.3 440.5h0M185.3 413.2h0M185.3 437.6h0M185.4 416.3h0M185.4 415.6h0M185.5 432.8h0M185.5 421.4h0M185.6 412.1h0M185.7 434.4h0M185.7 421.7h0M185.7 415.3h0M185.8 450.4h0M185.8 435.1h0M185.9 441.5h0M185.9 440.4h0M186.0 426.8h0M186.0 425.3h0M186.1 447.9h0M186.1 408.2h0M186.1 419.9h0M186.2 436.2h0M186.2 410.2h0M186.3 430.3h0M186.3 432.5h0M186.4 464.2h0M186.5 410.0h0M186.5 410.4h0M186.6 426.6h0M186.6 431.5h0M186.6 447.0h0M186.7 434.2h0M186.7 422.4h0M186.8 416.7h0M186.8 438.3h0M186.9 420.6h0M186.9 433.5h0M187.0 418.8h0M187.0 425.5h0M187.0 458.3h0M187.1 426.9h0M187.2 418.5h0M187.2 421.2h0M187.3 407.0h0M187.3 434.9h0M187.4 426.1h0M187.4 419.3h0M187.4 427.2h0M187.5 405.8h0M187.5 405.7h0M187.6 423.7h0M187.6 418.5h0M187.7 413.9h0M187.8 436.1h0M187.8 442.7h0M187.8 424.0h0M187.9 414.0h0M187.9 412.6h0M188.0 434.7h0M188.0 420.6h0M188.1 439.2h0M188.2 417.4h0M188.2 410.0h0M188.2 446.8h0M188.3 419.1h0M188.3 438.3h0M188.4 436.7h0M188.4 413.6h0M188.5 444.4h0M188.5 413.9h0M188.6 437.9h0M188.6 430.1h0M188.7 451.4h0M188.7 421.7h0M188.7 429.7h0M188.8 417.7h0M188.8 404.8h0M188.9 417.3h0M188.9 429.1h0M189.0 414.3h0M189.0 418.6h0M189.1 416.5h0M189.1 428.8h0M189.2 424.1h0M189.2 418.7h0M189.3 410.9h0M189.3 438.2h0M189.4 411.8h0M189.4 417.0h0M189.5 395.1h0M189.5 422.0h0M189.6 422.6h0M189.6 431.8h0M189.7 436.1h0M189.7 438.1h0M189.8 441.4h0M189.8 425.0h0M189.9 426.5h0M189.9 406.6h0M189.9 449.1h0M190.0 421.4h0M190.0 422.9h0M190.1 422.8h0M190.1 435.8h0M190.2 429.7h0M190.2 441.5h0M190.3 422.9h0M190.3 410.8h0M190.4 399.0h0M190.4 428.9h0M190.4 420.9h0M190.5 416.0h0M190.5 434.3h0M190.6 398.3h0M190.6 413.9h0M190.7 437.0h0M190.7 419.1h0M190.8 428.7h0M190.8 426.8h0M190.8 418.6h0M190.9 422.5h0M190.9 442.3h0M191.0 399.7h0M191.1 420.1h0M191.1 425.6h0M191.2 437.7h0M191.2 417.5h0M191.2 429.5h0M191.3 431.4h0M191.3 424.2h0M191.4 424.2h0M191.4 419.8h0M191.5 418.3h0M191.5 427.0h0M191.6 422.0h0M191.6 426.9h0M191.6 419.7h0M191.7 435.6h0M191.7 435.3h0M191.8 427.1h0M191.8 417.9h0M191.9 430.4h0M191.9 426.0h0M192.0 411.2h0M192.0 399.3h0M192.0 452.6h0M192.1 415.6h0M192.1 418.1h0M192.2 416.8h0M192.2 413.9h0M192.3 446.3h0M192.4 433.5h0M192.4 426.8h0M192.5 429.9h0M192.5 425.0h0M192.5 429.9h0M192.6 443.4h0M192.7 433.4h0M192.7 420.7h0M192.8 428.6h0M192.8 405.0h0M192.9 443.9h0M192.9 424.0h0M192.9 430.1h0M193.0 418.0h0M193.0 417.8h0M193.1 425.0h0M193.1 429.0h0M193.2 427.1h0M193.2 430.3h0M193.3 423.3h0M193.3 434.0h0M193.4 428.1h0M193.4 422.1h0M193.5 419.0h0M193.5 414.4h0M193.6 440.0h0M193.6 423.1h0M193.7 403.9h0M193.7 459.4h0M193.7 455.2h0M193.8 422.7h0M193.8 419.0h0M193.9 439.5h0M193.9 425.2h0M194.0 426.2h0M194.1 421.4h0M194.1 423.6h0M194.2 427.4h0M194.2 424.4h0M194.3 420.4h0M194.3 423.5h0M194.4 425.7h0M194.4 435.8h0M194.5 435.7h0M194.5 422.2h0M194.6 419.3h0M194.6 451.8h0M194.6 431.7h0M194.7 420.6h0M194.7 420.8h0M194.8 444.7h0M194.8 438.5h0M194.9 422.0h0M194.9 413.5h0M195.0 416.0h0M195.0 419.5h0M195.0 446.4h0M195.1 446.6h0M195.1 420.8h0M195.2 428.5h0M195.2 430.9h0M195.3 435.9h0M195.3 416.1h0M195.4 428.5h0M195.4 439.8h0M195.4 418.9h0M195.5 417.1h0M195.5 435.9h0M195.6 439.7h0M195.7 426.0h0M195.7 431.0h0M195.8 420.3h0M195.8 437.6h0M195.9 435.4h0M195.9 410.7h0M196.0 435.4h0M196.0 423.7h0M196.1 444.1h0M196.1 466.4h0M196.2 417.8h0M196.2 420.8h0M196.2 425.6h0M196.3 422.6h0M196.3 441.3h0M196.4 428.5h0M196.4 444.7h0M196.5 433.9h0M196.5 416.0h0M196.6 440.1h0M196.6 408.3h0M196.7 425.1h0M196.7 411.2h0M196.7 402.1h0M196.8 412.0h0M196.8 416.5h0M196.9 438.3h0M197.0 433.0h0M197.0 413.2h0M197.1 421.1h0M197.1 444.4h0M197.2 417.4h0M197.2 430.4h0M197.3 432.0h0M197.3 422.5h0M197.4 418.2h0M197.4 428.9h0M197.5 416.3h0M197.5 418.0h0M197.5 409.0h0M197.6 411.7h0M197.6 425.2h0M197.7 413.7h0M197.7 456.1h0M197.8 444.0h0M197.8 473.0h0M197.9 424.8h0M197.9 427.0h0M197.9 414.7h0M198.0 404.8h0M198.0 403.1h0M198.1 423.7h0M198.1 434.5h0M198.2 450.8h0M198.2 412.6h0M198.3 414.2h0M198.3 422.5h0M198.3 418.6h0M198.4 437.3h0M198.4 430.3h0M198.5 428.7h0M198.5 415.9h0M198.6 426.0h0M198.6 420.4h0M198.7 440.9h0M198.7 412.1h0M198.8 419.9h0M198.8 419.4h0M198.8 410.4h0M198.9 454.9h0M198.9 416.4h0M199.0 421.0h0M199.0 441.5h0M199.1 445.8h0M199.2 431.6h0M199.2 435.9h0M199.2 436.9h0M199.3 435.4h0M199.3 419.7h0M199.4 422.1h0M199.5 396.2h0M199.5 430.6h0M199.6 437.3h0M199.6 415.7h0M199.6 411.7h0M199.7 409.5h0M199.7 437.6h0M199.8 444.4h0M199.8 396.7h0M199.9 463.6h0M199.9 424.8h0M200.0 423.1h0M200.0 416.3h0M200.0 441.9h0M200.1 417.9h0M200.2 426.5h0M200.2 423.8h0M200.3 431.8h0M200.3 433.4h0M200.4 432.7h0M200.4 420.3h0M200.5 414.4h0M200.5 430.4h0M200.5 437.6h0M200.6 450.9h0M200.6 439.3h0M200.7 427.7h0M200.7 414.9h0M200.8 450.1h0M200.8 417.4h0M200.9 417.5h0M200.9 438.4h0M200.9 425.2h0M201.0 402.1h0M201.0 421.5h0M201.1 415.4h0M201.1 442.3h0M201.2 430.7h0M201.2 419.0h0M201.3 418.2h0M201.3 419.2h0M201.3 424.3h0M201.4 418.3h0M201.5 418.9h0M201.5 425.3h0M201.6 429.1h0M201.6 422.7h0M201.7 422.3h0M201.7 429.8h0M201.7 436.4h0M201.8 412.3h0M201.8 419.3h0M201.9 433.3h0M201.9 411.7h0M202.0 422.3h0M202.0 412.1h0M202.1 425.9h0M202.1 417.4h0M202.1 423.3h0M202.2 430.3h0M202.2 442.1h0M202.3 421.2h0M202.3 408.0h0M202.4 420.0h0M202.4 416.9h0M202.5 415.7h0M202.5 431.2h0M202.6 460.3h0M202.6 416.3h0M202.6 464.8h0M202.7 435.6h0M202.7 434.5h0M202.8 432.8h0M202.9 406.5h0M202.9 430.8h0M203.0 432.7h0M203.0 403.1h0M203.0 410.3h0M203.1 411.9h0M203.1 428.5h0M203.2 439.9h0M203.2 425.3h0M203.3 416.9h0M203.3 431.1h0M203.4 399.9h0M203.4 418.1h0M203.4 406.5h0M203.5 448.8h0M203.5 441.3h0M203.6 418.6h0M203.6 440.9h0M203.7 437.7h0M203.8 429.0h0M203.8 417.8h0M203.8 414.3h0M203.9 419.2h0M203.9 427.8h0M204.0 426.6h0M204.1 417.0h0M204.1 437.0h0M204.2 426.8h0M204.2 400.7h0M204.2 413.3h0M204.3 452.9h0M204.4 386.8h0M204.4 424.6h0M204.5 419.0h0M204.5 419.3h0M204.6 437.4h0M204.6 412.2h0M204.7 416.8h0M204.7 418.2h0M204.7 448.1h0M204.8 422.0h0M204.8 435.9h0M204.9 412.2h0M204.9 421.2h0M205.0 432.4h0M205.0 443.3h0M205.1 402.1h0M205.1 440.7h0M205.1 420.3h0M205.2 399.8h0M205.2 426.4h0M205.4 445.4h0M205.4 431.0h0M205.5 435.9h0M205.5 444.5h0M205.6 434.6h0M205.7 434.5h0M205.7 405.1h0M205.8 425.3h0M205.8 424.3h0M205.9 434.0h0M205.9 416.8h0M205.9 418.8h0M206.0 410.4h0M206.0 437.4h0M206.1 427.2h0M206.1 410.7h0M206.2 425.7h0M206.2 431.1h0M206.3 424.1h0M206.3 412.7h0M206.4 409.9h0M206.4 417.8h0M206.5 456.7h0M206.6 436.5h0M206.6 420.7h0M206.7 409.1h0M206.7 430.7h0M206.8 418.8h0M206.8 403.6h0M206.8 430.0h0M206.9 421.2h0M206.9 418.7h0M207.0 418.7h0M207.0 448.8h0M207.1 402.8h0M207.1 434.6h0M207.2 416.6h0M207.2 442.4h0M207.3 399.0h0M207.4 430.4h0M207.4 424.5h0M207.5 427.1h0M207.5 418.8h0M207.6 435.0h0M207.6 425.3h0M207.6 431.5h0M207.7 414.6h0M207.8 421.0h0M207.8 417.5h0M207.9 432.8h0M207.9 430.4h0M208.0 423.5h0M208.0 428.1h0M208.1 417.6h0M208.1 416.4h0M208.2 418.3h0M208.2 416.2h0M208.3 411.4h0M208.3 406.8h0M208.4 432.7h0M208.4 405.8h0M208.4 415.2h0M208.5 433.7h0M208.5 414.9h0M208.6 422.5h0M208.6 420.0h0M208.7 427.4h0M208.7 431.2h0M208.8 423.4h0M208.8 412.0h0M208.9 419.1h0M208.9 442.0h0M208.9 441.1h0M209.0 419.1h0M209.0 425.2h0M209.1 410.3h0M209.1 430.8h0M209.2 451.4h0M209.2 434.2h0M209.3 419.1h0M209.3 438.6h0M209.3 412.8h0M209.4 404.8h0M209.4 418.1h0M209.5 417.5h0M209.5 410.0h0M209.6 421.7h0M209.6 437.9h0M209.7 432.3h0M209.7 421.0h0M209.7 441.3h0M209.8 443.7h0M209.8 420.1h0M209.9 418.3h0M209.9 428.6h0M210.0 428.0h0M210.0 413.5h0M210.1 448.3h0M210.2 432.9h0M210.2 422.6h0M210.3 428.7h0M210.3 427.5h0M210.4 412.1h0M210.4 436.0h0M210.5 419.7h0M210.5 415.2h0M210.5 412.7h0M210.6 426.6h0M210.6 409.8h0M210.7 435.4h0M210.7 427.0h0M210.8 422.3h0M210.8 441.5h0M210.9 431.5h0M210.9 438.7h0M211.0 424.7h0M211.0 419.6h0M211.0 419.7h0M211.1 412.8h0M211.1 414.1h0M211.2 420.6h0M211.2 436.7h0M211.3 430.1h0M211.3 436.9h0M211.4 443.7h0M211.4 412.8h0M211.5 435.6h0M211.5 417.1h0M211.6 434.1h0M211.6 442.4h0M211.7 418.2h0M211.7 439.8h0M211.8 420.6h0M211.8 405.2h0M211.8 429.4h0M211.9 419.4h0M212.0 410.4h0M212.0 437.3h0M212.1 428.4h0M212.1 413.9h0M212.2 438.9h0M212.2 424.6h0M212.3 420.9h0M212.3 413.2h0M212.4 412.6h0M212.4 427.8h0M212.5 403.9h0M212.5 395.4h0M212.6 449.1h0M212.6 403.6h0M212.7 438.2h0M212.7 421.9h0M212.8 413.6h0M212.8 410.2h0M212.9 443.5h0M212.9 444.7h0M213.0 427.7h0M213.1 421.2h0M213.1 419.9h0M213.1 422.7h0M213.2 413.4h0M213.2 430.9h0M213.3 402.9h0M213.3 446.1h0M213.4 462.3h0M213.5 430.7h0M213.5 411.8h0M213.5 431.9h0M213.6 432.9h0M213.7 421.2h0M213.7 409.8h0M213.8 421.0h0M213.9 411.9h0M213.9 420.5h0M213.9 418.1h0M214.0 420.3h0M214.0 422.3h0M214.1 420.5h0M214.1 451.6h0M214.2 434.0h0M214.2 426.0h0M214.3 434.4h0M214.3 418.5h0M214.4 421.2h0M214.4 448.1h0M214.5 428.5h0M214.5 425.4h0M214.6 418.8h0M214.6 421.6h0M214.7 422.9h0M214.7 428.1h0M214.8 420.2h0M214.8 404.3h0M214.8 432.9h0M214.9 435.1h0M215.0 432.4h0M215.0 415.1h0M215.1 418.3h0M215.1 425.0h0M215.2 408.9h0M215.2 410.5h0M215.3 417.5h0M215.3 426.1h0M215.4 443.5h0M215.4 447.8h0M215.5 443.2h0M215.5 422.7h0M215.6 408.2h0M215.6 422.5h0M215.6 425.9h0M215.7 405.6h0M215.7 424.0h0M215.8 427.3h0M215.8 441.8h0M215.9 411.8h0M215.9 451.5h0M216.0 426.8h0M216.0 426.3h0M216.0 426.0h0M216.1 421.8h0M216.1 431.4h0M216.2 429.5h0M216.2 428.4h0M216.3 439.9h0M216.3 420.6h0M216.4 447.3h0M216.4 436.0h0M216.4 414.9h0M216.5 431.5h0M216.5 422.8h0M216.6 429.4h0M216.6 421.9h0M216.7 422.1h0M216.7 439.2h0M216.8 412.3h0M216.9 435.2h0M216.9 427.7h0M216.9 420.5h0M217.0 411.4h0M217.1 410.0h0M217.1 413.5h0M217.2 445.0h0M217.2 426.1h0M217.3 416.0h0M217.3 400.6h0M217.3 436.4h0M217.4 409.8h0M217.4 413.5h0M217.5 406.8h0M217.5 427.8h0M217.6 434.6h0M217.7 425.9h0M217.7 414.3h0M217.8 420.7h0M217.8 444.8h0M217.9 419.3h0M218.0 425.2h0M218.0 404.6h0M218.1 419.5h0M218.1 418.4h0M218.1 416.4h0M218.2 438.2h0M218.3 406.3h0M218.3 422.1h0M218.4 435.6h0M218.4 446.4h0M218.5 413.5h0M218.5 421.5h0M218.5 432.4h0M218.6 429.7h0M218.6 432.6h0M218.7 418.3h0M218.7 414.4h0M218.8 439.1h0M218.8 425.5h0M218.9 421.4h0M218.9 436.0h0M219.0 441.5h0M219.0 421.6h0M219.0 409.4h0M219.1 426.3h0M219.1 407.7h0M219.2 449.0h0M219.2 435.9h0M219.3 410.8h0M219.3 441.8h0M219.4 424.8h0M219.4 443.7h0M219.4 414.3h0M219.5 430.4h0M219.5 416.0h0M219.6 429.9h0M219.6 423.6h0M219.7 417.7h0M219.7 416.6h0M219.8 429.6h0M219.8 434.4h0M219.8 426.3h0M219.9 430.8h0M219.9 445.9h0M220.0 428.5h0M220.0 431.6h0M220.1 419.9h0M220.2 423.3h0M220.2 407.6h0M220.2 423.2h0M220.3 431.9h0M220.3 420.6h0M220.4 419.2h0M220.4 417.4h0M220.5 412.9h0M220.5 437.6h0M220.6 412.5h0M220.7 420.4h0M220.7 416.6h0M220.8 422.4h0M220.8 446.0h0M220.9 421.2h0M220.9 433.3h0M221.0 429.9h0M221.0 430.7h0M221.1 419.0h0M221.1 429.2h0M221.1 432.2h0M221.2 418.0h0M221.3 410.0h0M221.3 427.2h0M221.4 432.6h0M221.5 414.5h0M221.5 426.4h0M221.5 420.7h0M221.6 432.3h0M221.6 422.8h0M221.7 419.5h0M221.7 422.7h0M221.8 426.4h0M221.8 414.4h0M221.9 411.3h0M221.9 432.8h0M222.0 443.6h0M222.0 428.1h0M222.1 423.2h0M222.1 427.1h0M222.2 421.7h0M222.2 443.5h0M222.3 414.1h0M222.3 413.0h0M222.3 432.9h0M222.4 425.9h0M222.5 444.0h0M222.5 440.5h0M222.6 429.9h0M222.6 422.0h0M222.7 449.5h0M222.8 445.3h0M222.8 419.2h0M222.8 427.2h0M222.9 429.4h0M222.9 413.7h0M223.0 412.6h0M223.0 430.8h0M223.1 415.7h0M223.1 421.2h0M223.2 414.5h0M223.2 439.3h0M223.2 418.2h0M223.3 415.1h0M223.3 420.4h0M223.4 424.3h0M223.5 432.7h0M223.5 413.0h0M223.6 414.2h0M223.6 423.1h0M223.7 417.6h0M223.7 422.4h0M223.8 427.9h0M223.8 481.3h0M223.9 431.0h0M223.9 448.3h0M224.0 443.4h0M224.0 421.3h0M224.1 458.2h0M224.1 437.1h0M224.2 421.6h0M224.2 421.3h0M224.3 415.9h0M224.3 431.4h0M224.4 430.8h0M224.4 413.4h0M224.4 416.9h0M224.5 414.2h0M224.5 443.0h0M224.6 413.0h0M224.6 423.5h0M224.7 418.8h0M224.7 426.2h0M224.8 414.3h0M224.8 426.0h0M224.9 423.2h0M224.9 429.5h0M224.9 415.5h0M225.0 429.8h0M225.0 431.5h0M225.1 423.8h0M225.1 417.2h0M225.2 412.3h0M225.2 432.3h0M225.3 423.3h0M225.3 441.7h0M225.3 432.9h0M225.4 425.5h0M225.4 419.6h0M225.5 423.0h0M225.5 408.4h0M225.6 456.0h0M225.6 418.7h0M225.7 427.9h0M225.7 401.7h0M225.7 435.4h0M225.8 427.0h0M225.8 428.5h0M225.9 411.5h0M225.9 413.4h0M226.0 407.9h0M226.1 406.0h0M226.1 429.0h0M226.1 398.6h0M226.2 417.6h0M226.2 423.1h0M226.3 423.1h0M226.3 427.7h0M226.4 405.9h0M226.4 439.5h0M226.5 444.3h0M226.5 417.7h0M226.5 409.9h0M226.6 427.2h0M226.6 438.6h0M226.7 440.9h0M226.7 445.3h0M226.8 417.3h0M226.8 415.6h0M226.9 404.5h0M226.9 428.6h0M227.0 422.0h0M227.0 406.7h0M227.0 420.2h0M227.1 427.1h0M227.1 451.2h0M227.2 417.1h0M227.2 414.7h0M227.3 422.3h0M227.4 408.3h0M227.4 429.5h0M227.4 419.1h0M227.5 434.4h0M227.5 410.9h0M227.6 415.9h0M227.6 435.3h0M227.7 415.1h0M227.7 436.5h0M227.8 426.0h0M227.8 419.3h0M227.8 436.3h0M227.9 401.9h0M227.9 451.0h0M228.0 421.5h0M228.0 413.8h0M228.1 435.9h0M228.1 435.3h0M228.2 437.5h0M228.2 438.2h0M228.2 417.9h0M228.3 447.7h0M228.3 402.0h0M228.4 454.7h0M228.4 413.7h0M228.5 428.1h0M228.5 422.3h0M228.6 418.8h0M228.6 425.3h0M228.7 420.7h0M228.7 423.1h0M228.8 423.5h0M228.8 409.8h0M228.9 409.5h0M228.9 435.9h0M229.0 428.8h0M229.0 419.9h0M229.1 400.5h0M229.1 406.1h0M229.2 425.5h0M229.2 433.4h0M229.3 427.9h0M229.3 413.9h0M229.4 447.0h0M229.4 420.9h0M229.5 411.6h0M229.6 429.6h0M229.7 448.1h0M229.7 425.9h0M229.8 421.1h0M229.8 405.7h0M229.9 428.9h0M229.9 427.4h0M229.9 416.8h0M230.0 434.3h0M230.0 437.8h0M230.1 430.7h0M230.1 362.5h0M230.2 437.0h0M230.2 426.8h0M230.3 416.9h0M230.3 422.1h0M230.3 441.6h0M230.4 427.2h0M230.4 413.0h0M230.5 438.1h0M230.5 404.0h0M230.6 441.0h0M230.6 420.3h0M230.7 427.0h0M230.7 467.5h0M230.8 416.6h0M230.8 433.7h0M230.9 443.9h0M230.9 407.7h0M231.0 430.4h0M231.0 437.1h0M231.1 426.1h0M231.1 413.7h0M231.2 430.1h0M231.2 419.5h0M231.2 420.8h0M231.3 414.8h0M231.3 439.3h0M231.4 431.8h0M231.5 423.8h0M231.5 424.7h0M231.6 432.0h0M231.6 419.2h0M231.6 415.1h0M231.7 449.6h0M231.7 419.6h0M231.8 408.6h0M231.8 425.6h0M231.9 431.3h0M231.9 437.6h0M232.0 419.2h0M232.0 435.6h0M232.0 444.2h0M232.1 449.5h0M232.2 423.1h0M232.2 444.2h0M232.3 428.2h0M232.3 433.6h0M232.4 418.9h0M232.4 421.4h0M232.4 411.2h0M232.5 424.6h0M232.6 423.2h0M232.6 427.0h0M232.7 426.8h0M232.7 419.4h0M232.8 430.7h0M232.8 426.7h0M232.9 419.6h0M232.9 442.3h0M232.9 442.7h0M233.0 430.1h0M233.0 422.0h0M233.1 418.7h0M233.1 416.0h0M233.2 443.3h0M233.3 423.1h0M233.3 430.8h0M233.3 409.5h0M233.4 438.0h0M233.4 395.8h0M233.5 417.7h0M233.5 430.3h0M233.6 422.3h0M233.7 427.8h0M233.7 412.1h0M233.7 426.6h0M233.8 461.2h0M233.8 423.5h0M233.9 417.6h0M233.9 424.1h0M234.0 417.9h0M234.0 412.5h0M234.1 415.7h0M234.1 444.3h0M234.1 363.2h0M234.2 431.5h0M234.2 430.7h0M234.3 441.9h0M234.3 440.8h0M234.4 423.9h0M234.4 416.8h0M234.5 425.0h0M234.5 427.9h0M234.5 430.2h0M234.6 445.6h0M234.6 412.4h0M234.7 430.7h0M234.8 417.4h0M234.8 422.9h0M234.9 438.3h0M235.0 423.5h0M235.0 413.7h0M235.0 416.6h0M235.1 422.7h0M235.1 443.3h0M235.2 444.8h0M235.2 449.8h0M235.3 421.3h0M235.3 445.3h0M235.4 418.8h0M235.4 415.2h0M235.4 419.8h0M235.5 443.5h0M235.5 426.0h0M235.6 415.8h0M235.6 430.8h0M235.7 432.2h0M235.8 450.5h0M235.8 426.7h0M235.8 441.1h0M235.9 421.0h0M236.0 427.7h0M236.0 427.1h0M236.1 419.3h0M236.1 419.1h0M236.2 426.6h0M236.2 423.1h0M236.3 435.4h0M236.3 421.3h0M236.4 408.6h0M236.4 420.9h0M236.5 424.9h0M236.5 455.0h0M236.6 422.4h0M236.6 428.2h0M236.6 431.3h0M236.7 420.7h0M236.7 421.2h0M236.8 422.5h0M236.8 449.8h0M236.9 418.8h0M236.9 433.5h0M237.0 419.3h0M237.0 421.8h0M237.1 425.6h0M237.1 415.0h0M237.1 410.5h0M237.2 439.2h0M237.2 444.7h0M237.3 430.4h0M237.3 434.7h0M237.4 438.2h0M237.4 419.2h0M237.5 432.5h0M237.5 428.4h0M237.5 434.5h0M237.6 433.7h0M237.6 428.5h0M237.7 420.0h0M237.7 412.9h0M237.8 427.5h0M237.8 435.4h0M237.9 433.8h0M237.9 424.9h0M237.9 427.6h0M238.0 430.3h0M238.0 440.6h0M238.1 425.6h0M238.1 419.2h0M238.2 419.0h0M238.2 427.5h0M238.3 414.6h0M238.3 428.4h0M238.3 417.7h0M238.4 420.7h0M238.4 438.2h0M238.5 431.3h0M238.5 436.4h0M238.6 430.1h0M238.6 419.6h0M238.7 428.3h0M238.8 410.4h0M238.8 421.8h0M238.9 419.0h0M238.9 444.5h0M239.0 410.2h0M239.0 435.7h0M239.1 418.4h0M239.1 434.6h0M239.2 429.0h0M239.2 417.4h0M239.2 427.8h0M239.3 433.1h0M239.3 434.5h0M239.4 419.4h0M239.4 429.4h0M239.5 415.7h0M239.5 426.5h0M239.6 436.2h0M239.6 434.3h0M239.6 427.5h0M239.7 420.3h0M239.7 415.8h0M239.8 419.1h0M239.9 430.2h0M239.9 414.6h0M240.0 437.1h0M240.0 425.7h0M240.1 422.1h0M240.1 409.1h0M240.2 404.5h0M240.2 401.3h0M240.3 436.6h0M240.3 421.4h0M240.4 427.2h0M240.4 434.3h0M240.5 404.4h0M240.5 429.3h0M240.6 442.2h0M240.6 419.2h0M240.7 456.0h0M240.7 423.2h0M240.8 413.5h0M240.8 409.7h0M240.8 425.8h0M240.9 416.0h0M240.9 413.5h0M241.0 425.4h0M241.0 420.8h0M241.1 420.9h0M241.1 432.8h0M241.2 419.1h0M241.2 435.7h0M241.3 430.8h0M241.3 405.7h0M241.3 427.9h0M241.4 435.7h0M241.5 392.1h0M241.5 429.8h0M241.6 414.8h0M241.6 430.0h0M241.7 428.5h0M241.7 419.9h0M241.8 426.4h0M241.8 450.1h0M241.9 428.6h0M241.9 425.0h0M242.0 430.9h0M242.0 436.2h0M242.1 417.3h0M242.1 414.6h0M242.2 407.4h0M242.2 387.5h0M242.3 441.8h0M242.3 443.8h0M242.4 423.2h0M242.4 421.8h0M242.5 447.1h0M242.5 447.2h0M242.5 421.1h0M242.6 428.6h0M242.6 417.8h0M242.7 419.3h0M242.7 416.6h0M242.8 421.8h0M242.8 427.3h0M242.9 416.4h0M242.9 420.2h0M243.0 437.8h0M243.0 428.3h0M243.0 423.5h0M243.1 414.3h0M243.1 429.7h0M243.2 436.0h0M243.2 417.1h0M243.3 430.3h0M243.3 424.0h0M243.4 439.7h0M243.4 419.6h0M243.4 417.0h0M243.5 462.5h0M243.6 419.0h0M243.6 427.1h0M243.7 430.9h0M243.7 411.4h0M243.8 445.0h0M243.8 429.5h0M243.8 422.7h0M243.9 438.0h0M243.9 433.1h0M244.0 419.5h0M244.1 419.6h0M244.1 425.4h0M244.2 421.1h0M244.2 427.9h0M244.2 412.9h0M244.3 418.0h0M244.3 428.9h0M244.4 417.9h0M244.5 441.5h0M244.5 420.1h0M244.6 423.9h0M244.6 425.0h0M244.6 419.5h0M244.7 419.3h0M244.7 434.8h0M244.8 425.9h0M244.8 430.6h0M244.9 430.1h0M244.9 411.1h0M245.0 421.0h0M245.0 416.2h0M245.1 421.3h0M245.1 434.9h0M245.1 418.3h0M245.2 421.2h0M245.2 411.7h0M245.3 438.2h0M245.3 419.3h0M245.4 410.2h0M245.5 421.2h0M245.5 418.8h0M245.5 442.6h0M245.6 424.2h0M245.6 438.4h0M245.7 419.3h0M245.7 408.5h0M245.8 412.2h0M245.8 418.4h0M245.9 429.2h0M245.9 426.7h0M245.9 441.2h0M246.0 416.3h0M246.1 415.2h0M246.1 405.3h0M246.2 415.3h0M246.2 415.1h0M246.3 432.3h0M246.3 438.4h0M246.3 425.0h0M246.4 428.4h0M246.4 442.8h0M246.5 418.4h0M246.5 428.5h0M246.6 407.1h0M246.6 426.6h0M246.7 424.9h0M246.7 429.6h0M246.7 423.6h0M246.8 435.9h0M246.8 418.3h0M246.9 431.6h0M246.9 431.7h0M247.0 422.4h0M247.0 426.6h0M247.1 438.5h0M247.1 443.6h0M247.2 441.0h0M247.2 449.2h0M247.3 440.8h0M247.3 436.5h0M247.4 423.9h0M247.4 416.5h0M247.5 424.0h0M247.5 415.0h0M247.6 421.5h0M247.6 411.9h0M247.6 422.7h0M247.7 415.0h0M247.7 418.0h0M247.8 433.5h0M247.8 414.5h0M247.9 419.0h0M247.9 424.7h0M248.0 441.1h0M248.0 415.5h0M248.1 412.7h0M248.1 432.2h0M248.2 414.0h0M248.2 400.1h0M248.3 418.4h0M248.3 419.6h0M248.4 429.4h0M248.4 432.0h0M248.4 449.5h0M248.5 419.5h0M248.6 423.4h0M248.6 436.8h0M248.7 427.3h0M248.7 436.6h0M248.8 430.1h0M248.8 428.5h0M248.8 405.9h0M248.9 407.5h0M248.9 428.1h0M249.0 423.4h0M249.0 421.5h0M249.1 405.1h0M249.1 408.3h0M249.2 413.4h0M249.2 418.3h0M249.3 418.3h0M249.4 432.0h0M249.4 417.4h0M249.5 421.3h0M249.5 420.3h0M249.6 435.1h0M249.6 426.5h0M249.7 435.4h0M249.7 425.0h0M249.7 412.7h0M249.8 420.2h0M249.8 445.4h0M249.9 420.0h0M249.9 419.3h0M250.0 431.0h0M250.0 441.7h0M250.1 431.4h0M250.1 413.9h0M250.1 440.8h0M250.2 433.0h0M250.2 423.1h0M250.3 430.6h0M250.3 432.5h0M250.4 444.1h0M250.4 433.2h0M250.5 434.1h0M250.5 422.7h0M250.5 425.8h0M250.6 407.5h0M250.6 418.8h0M250.7 438.2h0M250.8 421.2h0M250.8 447.5h0M250.9 448.3h0M250.9 422.4h0M251.0 430.5h0M251.0 420.6h0M251.1 458.2h0M251.1 415.7h0M251.2 412.9h0M251.2 418.3h0M251.3 411.2h0M251.3 410.0h0M251.4 454.9h0M251.4 394.2h0M251.4 433.9h0M251.5 412.4h0M251.5 422.0h0M251.6 430.6h0M251.6 428.6h0M251.7 432.3h0M251.7 431.7h0M251.8 422.1h0M251.8 436.1h0M251.8 421.5h0M251.9 411.3h0M251.9 433.2h0M252.0 413.9h0M252.0 421.5h0M252.1 421.6h0M252.1 454.8h0M252.2 416.1h0M252.2 417.2h0M252.2 428.4h0M252.3 415.4h0M252.3 425.5h0M252.4 444.7h0M252.4 412.8h0M252.5 429.1h0M252.5 426.8h0M252.6 420.5h0M252.6 437.1h0M252.6 416.3h0M252.7 423.8h0M252.7 422.4h0M252.8 417.5h0M252.8 414.0h0M252.9 424.6h0M252.9 419.8h0M253.0 416.9h0M253.0 409.3h0M253.1 397.4h0M253.1 435.0h0M253.1 412.4h0M253.2 423.0h0M253.2 409.1h0M253.3 416.5h0M253.3 431.2h0M253.4 422.9h0M253.4 416.1h0M253.5 446.1h0M253.5 435.7h0M253.6 423.5h0M253.6 403.4h0M253.7 415.6h0M253.7 410.3h0M253.8 413.0h0M253.8 439.1h0M253.9 414.9h0M253.9 415.9h0M253.9 434.2h0M254.0 412.0h0M254.1 415.9h0M254.1 423.7h0M254.2 401.0h0M254.2 421.4h0M254.3 416.8h0M254.3 419.0h0M254.3 431.1h0M254.4 421.2h0M254.4 431.6h0M254.5 413.8h0M254.5 427.9h0M254.6 428.0h0M254.6 430.4h0M254.7 426.7h0M254.7 403.2h0M254.7 463.9h0M256.5 437.6h0M256.6 402.0h0M256.6 422.8h0M257.0 439.6h0M257.3 423.1h0M257.3 418.9h0M257.4 420.5h0M257.4 423.3h0M257.5 434.3h0M257.6 423.9h0M258.0 413.7h0M258.1 457.7h0M258.6 414.6h0M258.7 425.7h0M258.9 421.0h0M259.1 428.1h0M272.5 399.0h0M272.6 442.3h0M272.6 422.2h0M272.7 448.2h0M272.7 419.2h0M272.8 415.5h0M272.8 422.3h0M272.8 411.7h0M272.9 422.7h0M272.9 420.8h0M273.0 418.6h0M273.0 427.8h0M273.1 415.2h0M273.1 413.6h0M273.2 439.2h0M273.2 428.1h0M273.3 442.5h0M273.3 393.4h0M273.3 433.2h0M273.4 414.2h0M273.5 440.6h0M273.5 416.6h0M273.6 433.3h0M273.6 436.5h0M273.7 421.5h0M273.7 417.9h0M273.8 412.1h0M273.8 446.6h0M273.9 429.4h0M273.9 422.3h0M274.0 411.3h0M274.0 428.8h0M274.1 431.5h0M274.1 434.3h0M274.1 418.9h0M274.2 424.9h0M274.2 419.5h0M274.3 434.6h0M274.3 421.1h0M274.4 415.8h0M274.5 434.7h0M274.5 413.0h0M274.5 428.8h0M274.6 434.9h0M274.6 430.7h0M274.7 415.0h0M274.7 399.8h0M274.8 432.3h0M274.8 417.2h0M274.9 430.2h0M274.9 412.8h0M274.9 409.4h0M275.0 441.4h0M275.0 436.7h0M275.1 430.6h0M275.1 422.4h0M275.2 435.1h0M275.2 421.8h0M275.3 428.2h0M275.3 411.3h0M275.4 425.2h0M275.4 426.3h0M275.4 443.8h0M275.5 415.3h0M275.5 430.1h0M275.6 412.9h0M275.6 415.5h0M275.7 432.6h0M275.7 416.1h0M275.8 432.0h0M275.8 415.4h0M275.8 431.5h0M275.9 436.5h0M275.9 418.5h0M276.0 430.9h0M276.0 432.6h0M276.1 442.4h0M276.1 418.8h0M276.2 416.5h0M276.2 426.7h0M276.3 422.8h0M276.3 410.0h0M276.4 421.6h0M276.4 424.8h0M276.5 416.2h0M276.5 416.5h0M276.6 440.1h0M276.6 402.6h0M276.6 440.5h0M276.7 411.7h0M276.7 435.7h0M276.8 408.9h0M276.8 446.1h0M276.9 422.7h0M277.0 429.7h0M277.0 407.7h0M277.0 410.6h0M277.1 431.1h0M277.1 433.5h0M277.2 426.4h0M277.2 419.2h0M277.3 442.8h0M277.3 422.0h0M277.4 411.1h0M277.4 423.4h0M277.5 407.3h0M277.5 438.8h0M277.5 417.1h0M277.6 408.0h0M277.6 445.3h0M277.7 410.3h0M277.7 437.4h0M277.8 449.1h0M277.8 412.2h0M277.9 417.1h0M277.9 427.6h0M277.9 438.3h0M278.0 448.5h0M278.0 425.8h0M278.1 423.0h0M278.1 407.2h0M278.2 417.1h0M278.2 415.6h0M278.3 424.8h0M278.3 415.2h0M278.3 415.7h0M278.5 418.5h0M278.5 425.6h0M278.6 410.3h0M278.6 408.9h0M278.7 417.2h0M278.7 428.1h0M278.7 419.4h0M278.8 433.8h0M278.9 442.8h0M279.0 428.9h0M279.0 408.9h0M279.1 434.4h0M279.1 431.2h0M279.1 431.4h0M279.2 436.6h0M279.2 412.9h0M279.3 407.5h0M279.4 432.7h0M279.4 424.9h0M279.5 446.7h0M279.5 402.6h0M279.6 440.0h0M279.6 448.5h0M279.6 416.2h0M279.7 425.0h0M279.7 439.0h0M279.8 420.8h0M279.9 442.7h0M279.9 431.3h0M280.0 431.7h0M280.0 424.9h0M280.0 414.6h0M280.1 417.8h0M280.1 440.5h0M280.2 424.7h0M280.3 420.5h0M280.3 423.9h0M280.4 425.5h0M280.4 419.8h0M280.4 435.8h0M280.5 415.7h0M280.6 420.4h0M280.6 426.2h0M280.7 413.9h0M280.7 422.3h0M280.8 422.7h0M280.8 407.3h0M280.8 431.8h0M280.9 418.0h0M280.9 434.6h0M281.0 437.4h0M281.0 420.7h0M281.1 435.9h0M281.1 432.8h0M281.2 470.9h0M281.2 406.6h0M281.2 427.8h0M281.3 419.8h0M281.3 427.4h0M281.4 430.2h0M281.5 416.5h0M281.5 428.3h0M281.6 421.7h0M281.7 428.3h0M281.7 411.0h0M281.7 406.6h0M281.8 412.9h0M281.8 431.9h0M281.9 402.2h0M281.9 423.6h0M282.0 395.9h0M282.0 436.5h0M282.1 421.9h0M282.1 411.5h0M282.1 423.8h0M282.2 425.1h0M282.2 433.8h0M282.3 432.2h0M282.3 416.3h0M282.4 401.6h0M282.5 442.8h0M282.5 422.3h0M282.5 428.4h0M282.6 424.4h0M282.7 444.5h0M282.8 417.1h0M282.8 424.8h0M282.9 425.3h0M282.9 430.3h0M282.9 446.1h0M283.0 412.2h0M283.0 437.9h0M283.1 460.3h0M283.2 414.4h0M283.2 421.9h0M283.3 432.1h0M283.3 432.8h0M283.3 422.3h0M283.4 428.5h0M283.4 433.6h0M283.5 412.1h0M283.5 439.7h0M283.6 417.8h0M283.6 420.2h0M283.7 420.2h0M283.7 440.0h0M283.8 420.0h0M283.8 423.7h0M283.8 404.0h0M283.9 426.4h0M283.9 418.2h0M284.0 435.3h0M284.1 424.3h0M284.1 435.2h0M284.2 428.6h0M284.2 427.3h0M284.2 438.2h0M284.3 439.6h0M284.3 446.1h0M284.4 418.6h0M284.4 414.4h0M284.5 413.9h0M284.5 413.6h0M284.6 407.9h0M284.6 423.3h0M284.6 404.6h0M284.7 389.2h0M284.7 416.4h0M284.8 433.5h0M284.8 417.7h0M284.9 421.9h0M284.9 411.5h0M285.0 405.0h0M285.0 443.4h0M285.0 439.1h0M285.1 435.3h0M285.1 426.2h0M285.2 423.4h0M285.2 416.3h0M285.3 417.4h0M285.3 457.3h0M285.4 434.8h0M285.4 409.9h0M285.5 458.5h0M285.5 414.9h0M285.5 421.2h0M285.6 408.0h0M285.6 414.2h0M285.7 436.5h0M285.7 417.2h0M285.8 431.9h0M285.9 419.2h0M285.9 420.2h0M285.9 427.8h0M286.0 433.7h0M286.0 434.9h0M286.1 407.4h0M286.2 438.8h0M286.2 433.8h0M286.3 415.7h0M286.3 430.8h0M286.3 401.6h0M286.4 392.9h0M286.4 428.8h0M286.5 422.9h0M286.5 430.4h0M286.6 448.3h0M286.6 413.2h0M286.7 427.8h0M286.7 432.5h0M286.7 425.8h0M286.8 423.4h0M286.8 430.2h0M286.9 418.0h0M286.9 449.6h0M287.0 429.0h0M287.0 414.0h0M287.1 411.6h0M287.1 408.6h0M287.2 444.6h0M287.2 420.5h0M287.3 412.5h0M287.3 413.3h0M287.4 421.9h0M287.4 412.3h0M287.5 412.2h0M287.6 437.3h0M287.6 432.9h0M287.6 424.9h0M287.7 430.9h0M287.7 421.6h0M287.8 414.9h0M287.8 420.4h0M287.9 410.6h0M287.9 428.1h0M288.0 422.6h0M288.0 422.6h0M288.0 407.5h0M288.1 437.3h0M288.1 422.0h0M288.2 418.3h0M288.2 416.4h0M288.3 415.3h0M288.3 442.0h0M288.4 416.9h0M288.4 433.0h0M288.4 419.4h0M288.5 416.0h0M288.5 442.0h0M288.6 412.8h0M288.6 425.2h0M288.7 444.9h0M288.7 436.2h0M288.8 417.7h0M288.8 438.0h0M288.8 423.7h0M288.9 429.9h0M289.0 429.0h0M289.0 434.8h0M289.1 420.8h0M289.1 431.1h0M289.2 443.1h0M289.2 428.4h0M289.3 420.9h0M289.4 413.1h0M289.4 424.7h0M289.5 409.2h0M289.5 458.5h0M289.6 388.2h0M289.6 411.9h0M289.7 428.1h0M289.7 439.7h0M289.7 420.0h0M289.8 428.3h0M289.8 438.5h0M289.9 444.6h0M289.9 426.4h0M290.0 417.4h0M290.0 424.2h0M290.1 441.6h0M290.1 429.5h0M290.1 427.0h0M290.2 408.9h0M290.2 439.1h0M290.3 451.8h0M290.3 428.1h0M290.4 417.3h0M290.4 442.3h0M290.5 425.6h0M290.5 412.2h0M290.5 410.6h0M290.6 424.7h0M290.6 409.2h0M290.7 427.1h0M290.7 440.2h0M290.8 412.8h0M290.8 418.7h0M290.9 418.8h0M290.9 463.9h0M290.9 426.5h0M291.0 436.4h0M291.0 434.5h0M291.1 434.9h0M291.1 427.7h0M291.2 421.5h0M291.2 427.4h0M291.3 420.1h0M291.3 416.6h0M291.3 405.7h0M291.4 444.9h0M291.4 409.5h0M291.5 425.7h0M291.5 420.3h0M291.6 412.3h0M291.6 411.3h0M291.7 417.2h0M291.7 413.0h0M291.8 429.2h0M291.8 379.2h0M291.8 430.7h0M291.9 420.4h0M292.0 456.6h0M292.0 435.8h0M292.1 409.3h0M292.1 417.5h0M292.2 421.1h0M292.2 412.5h0M292.2 412.8h0M292.3 416.6h0M292.4 415.3h0M292.4 416.2h0M292.5 424.4h0M292.5 413.6h0M292.6 424.1h0M292.6 427.4h0M292.6 422.0h0M292.7 424.3h0M292.7 427.1h0M292.8 427.9h0M292.8 410.9h0M292.9 415.7h0M292.9 414.1h0M293.0 422.1h0M293.0 414.6h0M293.0 431.5h0M293.1 422.6h0M293.1 421.9h0M293.2 425.1h0M293.2 443.0h0M293.4 426.2h0M293.4 430.6h0M293.4 419.8h0M293.5 431.9h0M293.5 433.5h0M293.6 422.0h0M293.7 415.8h0M293.8 429.6h0M293.9 427.3h0M293.9 433.0h0M294.0 423.1h0M294.0 429.8h0M294.1 418.9h0M294.2 419.6h0M294.2 416.6h0M294.3 416.5h0M294.4 431.6h0M294.5 420.7h0M294.5 426.3h0M294.6 417.8h0M294.6 432.2h0M294.7 426.4h0M294.7 426.6h0M294.8 411.7h0M294.8 417.1h0M294.9 435.8h0M294.9 416.4h0M295.0 423.6h0M295.0 428.7h0M295.1 446.9h0M295.1 430.1h0M295.1 415.5h0M295.2 433.9h0M295.2 432.6h0M295.3 423.2h0M295.3 419.9h0M295.4 425.3h0M295.4 435.6h0M295.5 430.0h0M295.5 436.6h0M295.6 416.1h0M295.6 428.8h0M295.6 424.4h0M295.7 425.6h0M295.7 424.0h0M295.8 420.0h0M295.8 413.4h0M295.9 417.4h0M295.9 414.9h0M296.0 413.1h0M296.0 426.5h0M296.0 434.4h0M296.1 425.1h0M296.2 410.1h0M296.2 451.4h0M296.3 406.6h0M296.4 405.5h0M296.4 423.1h0M296.4 449.1h0M296.5 418.7h0M296.5 420.2h0M296.6 434.0h0M296.6 443.4h0M296.7 438.6h0M296.8 416.8h0M296.9 441.7h0M296.9 410.9h0M297.0 436.2h0M297.0 423.4h0M297.1 409.8h0M297.1 420.1h0M297.2 443.2h0M297.2 433.4h0M297.2 434.9h0M297.3 438.5h0M297.3 429.3h0M297.4 424.4h0M297.4 418.0h0M297.5 420.2h0M297.6 431.5h0M297.6 437.0h0M297.7 465.3h0M297.7 436.0h0M297.7 402.0h0M297.8 420.6h0M297.9 433.7h0M297.9 428.8h0M298.0 473.9h0M298.0 437.9h0M298.1 415.7h0M298.1 403.4h0M298.1 421.4h0M298.2 408.5h0M298.2 420.1h0M298.3 430.5h0M298.4 419.7h0M298.4 445.7h0M298.5 420.2h0M298.5 441.4h0M298.5 400.3h0M298.6 443.1h0M298.6 421.4h0M298.7 410.7h0M298.7 420.9h0M298.8 430.6h0M298.8 433.9h0M298.9 414.1h0M298.9 424.3h0M298.9 410.2h0M299.0 428.3h0M299.0 440.3h0M299.1 412.2h0M299.1 414.6h0M299.2 423.7h0M299.2 431.3h0M299.3 405.8h0M299.3 427.2h0M299.3 439.0h0M299.4 402.6h0M299.4 436.5h0M299.5 449.1h0M299.5 405.9h0M299.6 421.8h0M299.6 427.6h0M299.7 430.3h0M299.8 426.6h0M299.8 428.6h0M299.8 450.9h0M299.9 423.1h0M299.9 407.6h0M300.0 418.1h0M300.1 425.7h0M300.1 433.0h0M300.2 423.2h0M300.2 419.5h0M300.2 433.1h0M300.3 426.1h0M300.3 427.4h0M300.4 416.3h0M300.4 421.4h0M300.5 414.2h0M300.5 423.1h0M300.6 422.5h0M300.6 447.3h0M300.7 442.4h0M300.7 418.9h0M300.8 434.8h0M300.8 451.4h0M300.9 418.9h0M300.9 446.1h0M301.0 411.0h0M301.0 451.2h0M301.0 429.9h0M301.1 397.1h0M301.1 432.4h0M301.2 455.6h0M301.3 422.9h0M301.4 414.2h0M301.4 429.1h0M301.5 414.4h0M301.5 432.3h0M301.6 433.0h0M301.6 439.5h0M301.7 430.0h0M301.7 447.0h0M301.8 454.8h0M301.8 410.8h0M301.9 418.7h0M301.9 419.8h0M301.9 432.9h0M302.0 408.6h0M302.0 415.8h0M302.1 409.3h0M302.1 406.8h0M302.2 421.1h0M302.2 424.5h0M302.3 416.3h0M302.3 434.4h0M302.3 423.3h0M302.4 443.4h0M302.4 423.6h0M302.5 415.1h0M302.6 432.4h0M302.6 429.7h0M302.7 446.4h0M302.7 414.1h0M302.7 438.8h0M302.8 435.1h0M302.8 437.1h0M302.9 429.5h0M302.9 426.8h0M303.0 423.4h0M303.0 456.3h0M303.1 437.7h0M303.1 415.0h0M303.2 420.3h0M303.3 411.6h0M303.3 420.2h0M303.4 426.1h0M303.4 408.0h0M303.5 430.4h0M303.5 423.0h0M303.5 452.0h0M303.6 438.5h0M303.6 423.6h0M303.7 410.3h0M303.7 417.7h0M303.8 421.0h0M303.8 421.9h0M303.9 430.1h0M303.9 419.0h0M304.0 403.9h0M304.0 429.8h0M304.0 434.4h0M304.1 415.9h0M304.1 412.2h0M304.2 441.7h0M304.2 431.3h0M304.3 430.7h0M304.3 434.6h0M304.4 437.9h0M304.4 414.9h0M304.4 435.2h0M304.5 428.4h0M304.6 416.7h0M304.6 430.8h0M304.7 449.9h0M304.7 427.0h0M304.8 431.4h0M304.8 433.1h0M304.8 415.4h0M304.9 412.2h0M304.9 415.3h0M305.0 421.7h0M305.1 438.6h0M305.1 409.0h0M305.2 439.2h0M305.2 439.0h0M305.2 446.5h0M305.3 441.8h0M305.4 409.7h0M305.4 440.8h0M305.5 429.1h0M305.5 433.5h0M305.6 431.4h0M305.7 413.0h0M305.7 420.2h0M305.7 421.8h0M305.8 440.7h0M305.9 435.0h0M305.9 415.5h0M306.0 431.4h0M306.0 416.7h0M306.1 423.8h0M306.1 432.2h0M306.1 429.4h0M306.2 419.6h0M306.2 438.7h0M306.3 409.8h0M306.3 415.1h0M306.4 445.9h0M306.4 437.2h0M306.5 432.4h0M306.5 445.4h0M306.5 441.0h0M306.6 423.6h0M306.6 442.5h0M306.7 432.2h0M306.7 418.9h0M306.8 412.9h0M306.8 431.3h0M306.9 417.3h0M306.9 434.5h0M306.9 455.6h0M307.0 419.0h0M307.0 429.6h0M307.1 430.6h0M307.2 439.5h0M307.2 410.6h0M307.3 407.9h0M307.3 428.4h0M307.3 420.3h0M307.4 426.9h0M307.4 405.4h0M307.5 442.8h0M307.5 462.2h0M307.6 422.4h0M307.6 414.8h0M307.7 414.5h0M307.7 417.1h0M307.8 436.7h0M307.8 434.5h0M307.9 437.4h0M307.9 414.8h0M308.0 435.2h0M308.0 421.3h0M308.1 427.2h0M308.2 402.4h0M308.2 423.7h0M308.3 421.1h0M308.3 437.5h0M308.4 418.3h0M308.4 418.4h0M308.5 427.9h0M308.5 416.5h0M308.6 407.4h0M308.6 453.3h0M308.7 435.6h0M308.7 444.9h0M308.8 425.1h0M308.8 442.0h0M308.9 426.9h0M308.9 412.3h0M309.0 415.9h0M309.0 431.2h0M309.0 424.9h0M309.1 416.3h0M309.1 448.8h0M309.2 411.2h0M309.2 427.3h0M309.3 414.4h0M309.3 435.9h0M309.4 430.2h0M309.4 424.7h0M309.4 413.5h0M309.5 432.4h0M309.5 420.6h0M309.6 430.3h0M309.7 445.5h0M309.8 430.5h0M309.8 430.8h0M309.9 424.0h0M309.9 453.2h0M309.9 401.8h0M310.0 413.0h0M310.0 423.0h0M310.1 436.4h0M310.1 425.1h0M310.2 416.7h0M310.2 430.3h0M310.3 410.1h0M310.3 434.5h0M310.3 425.9h0M310.4 450.4h0M310.4 431.1h0M310.5 426.7h0M310.5 429.6h0M310.6 428.8h0M310.6 438.5h0M310.7 433.0h0M310.7 414.2h0M310.7 423.0h0M310.8 438.9h0M310.8 424.3h0M310.9 409.0h0M310.9 421.1h0M311.0 413.7h0M311.0 434.9h0M311.1 412.1h0M311.1 408.6h0M311.1 421.7h0M311.2 427.7h0M311.3 428.5h0M311.3 427.8h0M311.4 423.5h0M311.5 420.3h0M311.5 429.1h0M311.5 436.2h0M311.6 425.7h0M311.6 443.1h0M311.7 417.1h0M311.7 421.6h0M311.8 420.1h0M311.8 443.7h0M311.9 432.0h0M311.9 438.4h0M312.0 422.5h0M312.0 426.5h0M312.0 417.8h0M312.1 435.1h0M312.1 423.5h0M312.2 411.8h0M312.2 437.7h0M312.3 431.1h0M312.3 417.3h0M312.4 436.6h0M312.4 436.7h0M312.5 413.5h0M312.5 415.6h0M312.6 435.6h0M312.6 435.5h0M312.7 422.2h0M312.7 423.1h0M312.8 412.7h0M312.9 453.9h0M312.9 411.0h0M313.0 418.4h0M313.1 411.1h0M313.2 405.6h0M313.2 403.7h0M313.2 420.4h0M313.3 435.4h0M313.4 413.5h0M313.4 412.4h0M313.5 441.4h0M313.5 446.1h0M313.6 440.8h0M313.6 443.0h0M313.7 418.0h0M313.7 417.1h0M313.8 434.4h0M313.8 414.3h0M313.9 417.9h0M313.9 417.9h0M314.0 420.5h0M314.1 438.7h0M314.1 432.5h0M314.2 446.3h0M314.2 426.6h0M314.3 411.1h0M314.4 418.5h0M314.4 418.5h0M314.5 407.2h0M314.5 442.5h0M314.5 417.5h0M314.6 417.1h0M314.6 417.8h0M314.7 419.8h0M314.7 426.3h0M314.8 433.4h0M314.8 418.7h0M314.9 426.2h0M314.9 415.0h0M314.9 438.0h0M315.0 410.9h0M315.1 412.6h0M315.1 420.8h0M315.2 417.4h0M315.2 424.5h0M315.3 434.5h0M315.3 413.1h0M315.4 410.7h0M315.4 423.6h0M315.5 425.6h0M315.6 404.3h0M315.6 422.3h0M315.7 421.0h0M315.7 414.2h0M315.8 414.4h0M315.8 420.9h0M315.9 422.1h0M315.9 421.3h0M316.0 436.9h0M316.0 426.0h0M316.1 451.8h0M316.1 432.7h0M316.2 429.4h0M316.2 423.6h0M316.2 437.0h0M316.3 426.2h0M316.3 419.0h0M316.4 425.4h0M316.4 420.4h0M316.5 402.7h0M316.5 411.4h0M316.6 426.9h0M316.6 428.8h0M316.6 437.8h0M316.7 441.7h0M316.8 411.4h0M316.8 429.1h0M316.9 421.0h0M316.9 403.0h0M317.0 419.2h0M317.0 439.3h0M317.0 418.3h0M317.1 416.1h0M317.1 436.1h0M317.2 448.5h0M317.2 409.4h0M317.3 422.9h0M317.4 421.0h0M317.4 422.1h0M317.4 418.3h0M317.5 429.8h0M317.5 437.8h0M317.6 408.5h0M317.6 406.4h0M317.7 414.4h0M317.7 432.0h0M317.8 421.9h0M317.8 441.0h0M317.9 439.9h0M317.9 417.4h0M317.9 410.0h0M318.0 414.5h0M318.0 422.3h0M318.1 412.4h0M318.1 415.7h0M318.2 431.2h0M318.3 420.3h0M318.3 407.5h0M318.3 430.0h0M318.4 427.4h0M318.4 424.7h0M318.5 422.0h0M318.5 430.3h0M318.6 410.0h0M318.6 419.8h0M318.7 419.0h0M318.7 449.4h0M318.8 420.1h0M318.8 420.8h0M318.9 419.2h0M319.0 434.3h0M319.0 412.7h0M319.1 418.6h0M319.1 433.2h0M319.1 396.8h0M319.2 438.2h0M319.2 410.0h0M319.3 421.8h0M319.3 433.0h0M319.4 434.5h0M319.5 428.8h0M319.5 406.9h0M319.5 415.0h0M319.6 440.3h0M319.6 411.6h0M319.7 447.3h0M319.7 417.3h0M319.8 420.5h0M319.8 446.2h0M319.9 430.4h0M319.9 405.9h0M320.0 442.3h0M320.0 411.4h0M320.0 457.6h0M320.1 424.2h0M320.1 413.8h0M320.2 445.0h0M320.2 430.0h0M320.3 430.6h0M320.3 401.9h0M320.4 424.8h0M320.4 414.5h0M320.4 426.0h0M320.5 421.8h0M320.6 420.5h0M320.6 432.1h0M320.7 437.4h0M320.7 440.3h0M320.8 415.6h0M320.8 432.5h0M320.8 446.8h0M320.9 435.7h0M320.9 433.6h0M321.0 422.9h0M321.0 425.5h0M321.1 426.3h0M321.1 420.6h0M321.2 423.0h0M321.2 418.5h0M321.2 402.3h0M321.3 421.9h0M321.3 438.7h0M321.4 432.4h0M321.4 436.0h0M321.5 408.8h0M321.6 418.3h0M321.6 423.3h0M321.6 411.3h0M321.7 435.2h0M321.7 440.7h0M321.8 436.4h0M321.8 411.9h0M321.9 403.6h0M321.9 416.2h0M322.0 425.1h0M322.0 418.7h0M322.1 417.6h0M322.1 413.8h0M322.1 421.7h0M322.2 422.5h0M322.2 439.6h0M322.3 432.2h0M322.3 418.0h0M322.4 427.4h0M322.5 447.7h0M322.5 434.5h0M322.5 409.1h0M322.6 426.9h0M322.7 424.7h0M322.7 418.7h0M322.8 426.2h0M322.8 512.2h0M322.9 433.7h0M322.9 427.6h0M322.9 422.0h0M323.0 414.1h0M323.0 422.6h0M323.1 423.8h0M323.1 436.9h0M323.2 435.9h0M323.2 413.5h0M323.3 409.6h0M323.3 428.1h0M323.3 419.7h0M323.4 406.1h0M323.4 453.3h0M323.5 418.5h0M323.5 417.3h0M323.6 436.3h0M323.6 426.1h0M323.7 441.8h0M323.7 424.2h0M323.7 415.1h0M323.8 406.6h0M323.8 443.9h0M323.9 428.2h0M323.9 420.7h0M324.0 414.0h0M324.0 424.0h0M324.1 418.0h0M324.1 413.7h0M324.2 451.2h0M324.2 432.2h0M324.2 446.2h0M324.3 430.5h0M324.3 420.0h0M324.4 412.6h0M324.4 414.7h0M324.5 422.2h0M324.5 441.1h0M324.6 409.9h0M324.6 409.1h0M324.6 428.3h0M324.7 436.8h0M324.7 422.7h0M324.8 403.5h0M324.8 431.4h0M324.9 414.5h0M325.0 420.7h0M325.0 422.9h0M325.0 444.9h0M325.1 419.3h0M325.1 445.1h0M325.2 425.1h0M325.2 414.6h0M325.3 435.8h0M325.3 427.0h0M325.4 413.8h0M325.4 416.4h0M325.4 418.4h0M325.5 422.8h0M325.5 419.8h0M325.6 447.2h0M325.6 410.7h0M325.7 405.6h0M325.7 404.6h0M325.8 423.1h0M325.8 422.8h0M325.9 439.0h0M325.9 412.7h0M326.0 414.6h0M326.0 425.1h0M326.1 410.7h0M326.2 426.6h0M326.2 437.4h0M326.3 419.1h0M326.3 428.3h0M326.3 421.0h0M326.4 433.6h0M326.4 437.2h0M326.5 418.1h0M326.5 414.2h0M326.6 458.3h0M326.6 416.6h0M326.7 438.8h0M326.7 411.7h0M326.8 420.1h0M326.8 421.8h0M326.9 429.3h0M326.9 426.0h0M327.0 407.2h0M327.0 415.0h0M327.1 430.7h0M327.1 418.2h0M327.1 421.7h0M327.2 430.7h0M327.2 436.9h0M327.3 433.2h0M327.3 411.3h0M327.4 434.1h0M327.4 410.5h0M327.5 436.2h0M327.5 421.0h0M327.5 423.1h0M327.6 423.6h0M327.6 409.7h0M327.7 427.2h0M327.8 433.5h0M327.8 422.4h0M327.9 411.7h0M327.9 417.1h0M328.0 412.1h0M328.0 412.1h0M328.0 406.3h0M328.1 423.8h0M328.1 435.0h0M328.2 416.5h0M328.2 445.2h0M328.3 434.4h0M328.3 438.6h0M328.4 420.4h0M328.4 428.6h0M328.4 417.0h0M328.5 443.8h0M328.5 414.4h0M328.6 404.3h0M328.6 407.6h0M328.7 426.1h0M328.8 419.9h0M328.8 435.9h0M328.8 418.1h0M328.9 427.2h0M328.9 422.2h0M329.0 422.3h0M329.0 434.0h0M329.1 428.9h0M329.1 412.1h0M329.2 430.3h0M329.2 404.9h0M329.2 417.7h0M329.3 447.4h0M329.4 414.3h0M329.4 429.4h0M329.5 422.3h0M329.5 422.1h0M329.6 408.4h0M329.6 442.3h0M329.6 424.8h0M329.7 426.4h0M329.7 425.0h0M329.8 415.3h0M329.8 439.9h0M329.9 417.2h0M329.9 428.4h0M330.0 422.2h0M330.0 430.2h0M330.1 432.8h0M330.1 460.9h0M330.1 432.1h0M330.2 420.3h0M330.3 411.7h0M330.4 413.5h0M330.4 424.9h0M330.5 411.4h0M330.5 417.3h0M330.5 429.1h0M330.6 418.3h0M330.6 456.1h0M330.7 418.8h0M330.7 436.8h0M330.8 443.3h0M330.8 453.2h0M330.9 399.0h0M330.9 413.6h0M330.9 450.0h0M331.0 418.8h0M331.0 442.3h0M331.1 428.0h0M331.1 421.2h0M331.2 429.3h0M331.2 430.9h0M331.3 427.6h0M331.3 430.4h0M331.3 427.0h0M331.4 430.6h0M331.4 410.4h0M331.5 430.4h0M331.6 431.5h0M331.7 436.3h0M331.7 419.8h0M331.7 428.8h0M331.8 430.7h0M331.8 428.4h0M331.9 434.9h0M331.9 394.6h0M332.0 450.1h0M332.0 416.3h0M332.1 416.5h0M332.2 460.2h0M332.2 433.0h0M332.2 417.4h0M332.3 432.9h0M332.3 419.6h0M332.4 420.5h0M332.4 421.0h0M332.5 437.8h0M332.5 409.1h0M332.6 445.9h0M332.6 431.3h0M332.7 461.3h0M332.8 434.0h0M332.8 423.7h0M332.9 420.8h0M332.9 426.5h0M333.0 408.5h0M333.0 415.9h0M333.0 397.0h0M333.1 417.7h0M333.2 420.4h0M333.2 409.0h0M333.3 438.4h0M333.3 412.8h0M333.4 435.8h0M333.4 450.5h0M333.5 414.8h0M333.5 431.3h0M333.6 417.3h0M333.6 424.1h0M333.7 446.5h0M333.7 412.8h0M333.8 441.6h0M333.8 415.4h0M333.8 422.5h0M333.9 422.8h0M333.9 413.4h0M334.0 413.6h0M334.0 420.3h0M334.1 426.3h0M334.1 410.0h0M334.2 439.5h0M334.2 440.6h0M334.3 405.8h0M334.3 414.3h0M334.3 422.9h0M334.4 419.2h0M334.4 415.1h0M334.5 429.2h0M334.5 435.7h0M334.6 417.8h0M334.6 428.0h0M334.7 427.3h0M334.7 443.2h0M334.7 429.2h0M334.8 415.9h0M334.8 415.0h0M334.9 426.5h0M334.9 432.3h0M335.0 438.8h0M335.0 426.9h0M335.1 456.1h0M335.1 425.0h0M335.1 430.7h0M335.2 407.8h0M335.3 421.3h0M335.3 433.3h0M335.4 421.0h0M335.4 426.5h0M335.5 417.7h0M335.5 418.2h0M335.5 431.1h0M335.6 458.4h0M335.6 428.5h0M335.7 449.9h0M335.7 424.0h0M335.8 415.1h0M335.9 412.9h0M335.9 411.5h0M336.0 402.3h0M336.0 413.9h0M336.0 423.9h0M336.1 410.7h0M336.1 419.7h0M336.2 399.2h0M336.2 444.2h0M336.3 447.3h0M336.3 436.9h0M336.4 415.4h0M336.4 442.8h0M336.5 409.7h0M336.5 417.7h0M336.6 426.0h0M336.6 427.1h0M336.7 400.0h0M336.7 414.9h0M336.8 430.4h0M336.8 459.7h0M336.8 429.5h0M336.9 439.3h0M336.9 426.8h0M337.0 404.4h0M337.0 403.7h0M337.1 413.5h0M337.1 432.2h0M337.2 415.6h0M337.2 437.6h0M337.2 438.3h0M337.3 435.0h0M337.4 419.1h0M337.5 431.5h0M337.6 421.0h0M337.6 428.9h0M337.7 431.4h0M337.7 435.1h0M337.8 444.2h0M337.9 415.4h0M337.9 425.7h0M338.0 420.4h0M338.0 416.7h0M338.1 420.7h0M338.1 419.3h0M338.2 419.1h0M338.3 416.8h0M338.3 413.6h0M338.4 419.1h0M338.4 428.1h0M338.5 413.7h0M338.5 435.9h0M338.6 397.9h0M338.6 446.8h0M338.7 432.2h0M338.7 406.8h0M338.8 397.0h0M338.8 438.2h0M338.9 446.7h0M338.9 419.7h0M338.9 438.7h0M339.0 453.8h0M339.0 430.7h0M339.1 420.5h0M339.2 416.0h0M339.2 427.6h0M339.3 409.8h0M339.3 419.2h0M339.3 402.2h0M339.4 438.8h0M339.4 442.2h0M339.5 422.1h0M339.5 451.0h0M339.6 452.0h0M339.6 434.3h0M339.7 444.8h0M339.7 409.8h0M339.7 428.5h0M339.8 426.3h0M339.9 420.8h0M339.9 445.6h0M340.0 421.7h0M340.0 408.9h0M340.1 437.2h0M340.1 416.4h0M340.2 431.9h0M340.2 436.9h0M340.3 417.2h0M340.3 435.7h0M340.4 424.4h0M340.4 426.8h0M340.5 417.9h0M340.5 420.3h0M340.6 422.4h0M340.6 424.6h0M340.7 415.0h0M340.7 409.9h0M340.8 423.6h0M340.9 426.8h0M341.0 417.3h0M341.0 446.7h0M341.0 438.3h0M341.1 420.7h0M341.1 415.9h0M341.2 396.1h0M341.2 412.3h0M341.3 422.7h0M341.3 417.1h0M341.4 425.8h0M341.4 419.0h0M341.4 415.4h0M341.5 420.4h0M341.5 428.4h0M341.7 426.9h0M341.7 419.5h0M341.8 415.0h0M341.8 437.8h0M341.8 435.4h0M341.9 450.2h0M341.9 416.2h0M342.0 449.0h0M342.0 419.2h0M342.1 417.5h0M342.1 417.3h0M342.2 428.0h0M342.2 433.5h0M342.3 420.8h0M342.3 411.3h0M342.3 435.6h0M342.4 415.3h0M342.5 447.6h0M342.5 423.6h0M342.6 411.2h0M342.6 434.2h0M342.7 440.3h0M342.7 441.0h0M342.7 440.9h0M342.8 419.5h0M342.8 414.4h0M342.9 418.1h0M342.9 421.7h0M343.0 423.8h0M343.0 413.7h0M343.1 409.7h0M343.1 421.1h0M343.2 421.0h0M343.2 416.9h0M343.3 410.2h0M343.4 430.8h0M343.5 416.6h0M343.5 410.7h0M343.5 408.2h0M343.6 420.1h0M343.6 417.5h0M343.7 418.2h0M343.7 424.0h0M343.8 409.3h0M343.8 423.1h0M343.9 434.5h0M343.9 420.7h0M343.9 420.0h0M344.0 418.6h0M344.0 433.2h0M344.1 417.0h0M344.1 430.3h0M344.2 428.9h0M344.3 427.2h0M344.3 417.5h0M344.4 425.7h0M344.4 427.5h0M344.5 430.6h0M344.5 422.1h0M344.6 426.7h0M344.6 417.9h0M344.7 436.4h0M344.7 434.8h0M344.8 428.1h0M344.8 422.2h0M344.9 414.9h0M344.9 420.6h0M345.0 415.8h0M345.0 421.9h0M345.1 440.3h0M345.1 404.7h0M345.2 408.0h0M345.2 438.4h0M345.2 417.5h0M345.3 424.3h0M345.3 431.6h0M345.4 412.9h0M345.4 428.0h0M345.5 439.8h0M345.5 449.4h0M345.6 449.5h0M345.6 412.5h0M345.6 410.9h0M345.7 426.3h0M345.7 422.2h0M345.8 431.5h0M345.8 432.9h0M345.9 430.7h0M345.9 433.8h0M346.0 435.0h0M346.1 423.7h0M346.1 436.7h0M346.1 444.3h0M346.2 437.2h0M346.2 403.3h0M346.3 418.8h0M346.3 422.4h0M346.4 429.3h0M346.4 429.9h0M346.5 410.8h0M346.5 418.5h0M346.5 426.4h0M346.6 427.7h0M346.6 430.0h0M346.7 421.3h0M346.7 436.2h0M346.8 419.2h0M346.8 425.7h0M346.9 446.8h0M346.9 431.7h0M346.9 425.0h0M347.0 445.4h0M347.1 421.2h0M347.1 442.6h0M347.2 420.0h0M347.2 406.9h0M347.3 429.9h0M347.3 417.9h0M347.4 414.3h0M347.4 419.2h0M347.5 445.1h0M347.5 427.7h0M347.6 447.0h0M347.6 384.1h0M347.7 444.3h0M347.7 439.7h0M347.8 444.2h0M347.9 417.8h0M348.0 429.8h0M348.0 434.5h0M348.1 426.9h0M348.1 426.2h0M348.2 442.9h0M348.2 418.5h0M348.2 424.5h0M348.3 438.1h0M348.3 428.6h0M348.4 410.4h0M348.4 426.0h0M348.5 419.5h0M348.5 424.2h0M348.6 409.5h0M348.7 461.1h0M348.7 436.1h0M348.8 414.1h0M348.8 427.6h0M348.9 411.7h0M348.9 414.0h0M349.0 422.0h0M349.0 433.4h0M349.0 429.6h0M349.1 442.8h0M349.1 452.9h0M349.2 410.7h0M349.2 414.7h0M349.3 422.2h0M349.3 432.6h0M349.4 420.5h0M349.4 410.2h0M349.4 437.6h0M349.5 411.1h0M349.6 438.4h0M349.6 429.6h0M349.7 425.0h0M349.7 417.9h0M349.8 417.0h0M349.9 419.0h0M349.9 417.5h0M350.0 416.5h0M350.0 462.8h0M350.1 436.0h0M350.2 414.7h0M350.2 424.2h0M350.3 445.0h0M350.3 409.3h0M350.3 430.0h0M350.4 423.7h0M350.4 415.6h0M350.5 404.3h0M350.5 396.1h0M350.6 412.2h0M350.6 445.8h0M350.7 424.2h0M350.7 427.1h0M350.7 434.8h0M350.8 407.6h0M350.8 418.3h0M350.9 428.4h0M350.9 429.6h0M351.0 455.2h0M351.0 459.2h0M351.1 413.2h0M351.1 437.4h0M351.1 423.9h0M351.2 438.0h0M351.2 419.0h0M351.3 401.9h0M351.4 425.4h0M351.4 421.1h0M351.5 407.8h0M351.5 424.3h0M351.6 436.3h0M351.6 418.2h0M351.7 409.5h0M351.7 439.2h0M351.8 425.9h0M351.8 417.6h0M351.9 404.0h0M351.9 423.4h0M351.9 409.3h0M352.0 415.7h0M352.0 417.1h0M352.1 419.1h0M352.1 450.5h0M352.2 414.1h0M352.3 418.9h0M352.3 419.7h0M352.4 423.9h0M352.4 415.3h0M352.5 422.7h0M352.5 408.0h0M352.6 416.9h0M352.6 422.6h0M352.7 415.7h0M352.7 423.5h0M352.8 414.3h0M352.8 419.4h0M352.9 422.2h0M352.9 425.0h0M353.0 439.4h0M353.0 421.4h0M353.1 428.5h0M353.1 439.9h0M353.2 416.2h0M353.2 419.0h0M353.2 442.2h0M353.3 413.3h0M353.3 428.2h0M353.4 457.2h0M353.4 429.4h0M353.5 411.5h0M353.5 414.2h0M353.6 421.9h0M353.6 425.2h0M353.6 410.3h0M353.7 420.4h0M353.7 424.8h0M353.8 427.6h0M353.8 411.9h0M353.9 427.7h0M353.9 414.1h0M354.0 409.2h0M354.0 450.4h0M354.0 397.7h0M354.1 413.2h0M354.1 428.5h0M354.2 408.0h0M354.2 415.0h0M354.3 413.6h0M354.3 468.0h0M354.4 428.3h0M354.5 406.9h0M354.5 409.7h0M354.5 424.0h0M354.6 426.4h0M354.6 419.5h0M354.7 417.3h0M354.7 422.0h0M354.8 430.1h0M354.8 446.0h0M354.9 431.5h0M354.9 418.5h0M355.0 414.8h0M355.0 432.3h0M355.1 436.8h0M355.2 425.8h0M355.2 398.7h0M355.3 414.4h0M355.3 418.1h0M355.4 419.9h0M355.4 434.6h0M355.5 419.6h0M355.5 432.1h0M355.6 431.4h0M355.6 423.6h0M355.7 421.4h0M355.7 427.3h0M355.7 414.5h0M355.8 429.7h0M355.8 430.2h0M355.9 409.2h0M355.9 424.3h0M356.0 424.2h0M356.0 422.5h0M356.1 422.1h0M356.1 425.7h0M356.2 418.6h0M356.2 401.8h0M356.2 425.2h0M356.3 430.8h0M356.3 433.8h0M356.4 435.2h0M356.4 413.7h0M356.6 422.8h0M356.6 416.7h0M356.6 420.1h0M356.7 426.8h0M356.7 435.4h0M356.8 421.8h0M356.9 446.8h0M357.0 425.5h0M357.0 427.3h0M357.0 418.4h0M357.1 432.4h0M357.1 416.5h0M357.2 409.5h0M357.2 425.1h0M357.3 440.7h0M357.3 419.4h0M357.4 443.4h0M357.4 437.5h0M357.4 426.5h0M357.5 430.3h0M357.5 422.9h0M357.6 428.1h0M357.6 428.4h0M357.7 422.6h0M357.7 422.3h0M357.8 417.6h0M357.8 422.3h0M357.9 428.7h0M357.9 425.5h0M358.0 420.4h0M358.1 422.1h0M358.2 419.4h0M358.2 430.6h0M358.3 426.1h0M358.3 440.9h0M358.3 420.8h0M358.4 435.3h0M358.4 444.8h0M358.5 428.8h0M358.6 443.0h0M358.6 409.1h0M358.7 430.5h0M358.7 402.6h0M358.8 415.1h0M358.9 420.8h0M358.9 423.5h0M359.0 443.3h0M359.0 410.9h0M359.1 398.1h0M359.1 435.8h0M359.2 416.5h0M359.2 416.4h0M359.3 422.9h0M359.4 427.4h0M359.5 421.8h0M359.5 439.3h0M359.5 434.6h0M359.6 423.3h0M359.6 416.4h0M359.7 447.1h0M359.8 429.7h0M359.9 416.7h0M359.9 430.3h0M359.9 427.4h0M360.0 424.1h0M360.0 435.1h0M360.1 417.9h0M360.1 413.7h0M360.2 428.9h0M360.2 421.6h0M360.3 438.3h0M360.3 431.8h0M360.4 449.8h0M360.4 399.2h0M360.4 410.3h0M360.5 437.7h0M360.5 408.6h0M360.6 435.0h0M360.6 436.3h0M360.7 416.2h0M360.7 417.3h0M360.8 412.4h0M360.8 415.4h0M360.8 430.1h0M360.9 433.6h0M360.9 418.7h0M361.0 413.3h0M361.0 434.9h0M361.1 440.6h0M361.1 440.7h0M361.2 425.2h0M361.2 432.0h0M361.2 414.0h0M361.3 411.4h0M361.3 423.2h0M361.4 409.2h0M361.4 421.5h0M361.5 456.1h0M361.6 420.1h0M361.6 415.1h0M361.6 441.7h0M361.7 413.3h0M361.7 414.7h0M361.8 406.9h0M361.8 419.1h0M361.9 412.5h0M361.9 444.9h0M362.0 442.7h0M362.0 473.8h0M362.0 420.3h0M362.1 443.0h0M362.1 419.8h0M362.2 430.2h0M362.2 421.6h0M362.3 409.8h0M362.4 427.0h0M362.4 413.2h0M362.5 413.8h0M362.5 416.4h0M362.5 446.3h0M362.6 446.9h0M362.6 415.6h0M362.7 422.9h0M362.7 414.6h0M362.8 431.4h0M362.8 439.5h0M362.9 429.8h0M362.9 420.2h0M362.9 446.3h0M363.0 434.4h0M363.0 423.6h0M363.1 411.8h0M363.1 432.0h0M363.2 424.9h0M363.2 419.6h0M363.3 422.2h0M363.3 425.9h0M363.4 420.1h0M363.4 415.4h0M363.5 427.5h0M363.5 414.4h0M363.6 431.6h0M363.7 432.5h0M363.7 433.3h0M363.7 436.8h0M363.8 435.2h0M363.9 417.4h0M363.9 390.5h0M364.0 419.8h0M364.0 443.1h0M364.1 436.7h0M364.1 437.7h0M364.1 405.1h0M364.2 430.6h0M364.3 403.3h0M364.3 408.2h0M364.4 441.8h0M364.4 413.5h0M364.5 422.1h0M364.5 428.5h0M364.6 421.0h0M364.6 424.0h0M364.6 417.2h0M364.7 413.3h0M364.7 429.8h0M364.8 405.5h0M364.8 437.3h0M364.9 412.6h0M364.9 427.0h0M365.0 416.1h0M365.0 427.1h0M365.0 439.0h0M365.1 421.0h0M365.1 426.8h0M365.2 423.8h0M365.2 395.6h0M365.3 425.2h0M365.3 427.1h0M365.4 476.1h0M365.4 402.7h0M365.4 408.9h0M365.5 433.6h0M365.5 443.2h0M365.6 422.2h0M365.6 428.3h0M365.7 417.0h0M365.7 416.9h0M365.8 445.1h0M365.8 417.1h0M365.8 441.0h0M365.9 404.5h0M365.9 430.1h0M366.0 416.6h0M366.0 402.7h0M366.1 429.6h0M366.2 444.3h0M366.2 414.8h0M366.2 408.6h0M366.3 421.4h0M366.3 425.4h0M366.4 420.6h0M366.4 401.2h0M366.5 442.1h0M366.5 436.6h0M366.6 433.7h0M366.6 420.9h0M366.7 405.7h0M366.7 433.5h0M366.8 443.3h0M366.8 434.8h0M366.9 432.9h0M366.9 417.7h0M367.0 417.5h0M367.0 422.8h0M367.1 419.1h0M367.1 425.6h0M367.1 453.6h0M367.2 427.1h0M367.2 427.4h0M367.3 403.7h0M367.3 436.3h0M367.4 419.6h0M367.4 450.9h0M367.5 422.8h0M367.5 417.0h0M367.5 430.8h0M367.6 418.6h0M367.6 432.1h0M367.7 434.7h0M367.7 444.5h0M367.8 411.4h0M367.8 424.5h0M367.9 418.1h0M367.9 397.7h0M368.0 408.9h0M368.1 443.9h0M368.1 437.8h0M368.2 457.8h0M368.2 410.9h0M368.3 444.4h0M368.3 421.1h0M368.4 432.2h0M368.4 443.7h0M368.5 427.7h0M368.5 405.3h0M368.6 428.9h0M368.7 419.1h0M368.8 434.1h0M368.8 416.7h0M368.8 415.6h0M368.9 421.0h0M368.9 428.6h0M369.0 421.8h0M369.0 433.6h0M369.1 422.3h0M369.1 418.0h0M369.2 424.1h0M369.2 403.5h0M369.2 427.2h0M369.3 432.5h0M369.3 444.6h0M369.4 424.6h0M369.4 448.6h0M369.5 430.2h0M369.5 429.6h0M369.6 422.3h0M369.6 414.3h0M369.6 427.7h0M369.7 445.0h0M369.8 424.7h0M369.8 421.3h0M369.9 439.5h0M369.9 410.7h0M370.0 442.4h0M370.0 416.2h0M370.0 443.9h0M370.1 451.8h0M370.2 427.3h0M370.2 424.2h0M370.3 416.8h0M370.3 421.5h0M370.4 421.1h0M370.4 405.1h0M370.5 432.2h0M370.5 401.2h0M370.5 413.2h0M370.6 406.9h0M370.6 405.4h0M370.7 426.9h0M370.7 418.5h0M370.8 436.3h0M370.9 421.2h0M370.9 408.5h0M370.9 418.5h0M371.0 437.8h0M371.0 414.3h0M371.1 440.1h0M371.1 409.9h0M371.2 415.6h0M371.2 426.5h0M371.3 440.7h0M371.3 417.4h0M371.3 420.6h0M371.4 415.7h0M371.4 422.3h0M371.5 412.1h0M371.5 426.9h0M371.6 421.4h0M371.6 422.9h0M371.7 424.9h0M371.7 443.1h0M371.7 408.6h0M371.8 431.8h0M371.8 414.4h0M371.9 418.3h0M372.0 401.0h0M372.0 409.0h0M372.1 437.8h0M372.1 432.8h0M372.1 406.1h0M372.2 419.1h0M372.3 419.1h0M372.3 426.1h0M372.4 419.4h0M372.4 438.7h0M372.5 418.2h0M372.5 406.3h0M372.6 411.3h0M372.6 432.3h0M372.6 422.4h0M372.7 431.4h0M372.7 420.4h0M372.8 420.2h0M372.8 420.7h0M372.9 420.5h0M372.9 426.4h0M373.0 414.8h0M373.0 423.2h0M373.0 423.7h0M373.1 422.9h0M373.1 431.1h0M373.2 414.6h0M373.3 425.4h0M373.3 405.2h0M373.4 417.5h0M373.4 416.6h0M373.4 421.4h0M373.5 416.3h0M373.5 438.6h0M373.6 450.5h0M373.6 438.0h0M373.7 418.6h0M373.8 454.7h0M373.8 444.7h0M373.8 411.1h0M373.9 430.1h0M373.9 420.9h0M374.0 424.8h0M374.0 442.8h0M374.1 425.0h0M374.1 412.1h0M374.2 420.3h0M374.2 422.0h0M374.3 426.3h0M374.3 424.3h0M374.4 441.2h0M374.4 427.8h0M374.5 432.8h0M374.5 442.5h0M374.6 437.0h0M374.6 433.6h0M374.7 421.6h0M374.7 428.9h0M374.8 421.6h0M374.8 420.7h0M374.9 451.2h0M374.9 440.9h0M375.0 408.0h0M375.0 435.7h0M375.1 427.5h0M375.1 429.0h0M375.1 417.3h0M375.2 405.7h0M375.2 415.3h0M375.3 429.5h0M375.3 431.6h0M375.4 414.9h0M375.5 406.6h0M375.5 415.0h0M375.5 427.6h0M375.6 426.5h0M375.6 418.6h0M375.7 425.0h0M375.7 419.6h0M375.8 418.2h0M375.8 421.7h0M375.9 421.3h0M375.9 439.1h0M375.9 404.8h0M376.0 424.4h0M376.0 425.9h0M376.1 443.2h0M376.1 411.7h0M376.2 420.0h0M376.2 426.8h0M376.3 417.2h0M376.3 416.2h0M376.3 433.3h0M376.4 419.4h0M376.4 439.4h0M376.5 437.2h0M376.5 420.6h0M376.6 426.1h0M376.6 416.3h0M376.7 409.5h0M376.7 445.4h0M376.8 416.1h0M376.8 414.3h0M376.8 420.3h0M376.9 414.8h0M376.9 418.4h0M377.0 432.5h0M377.1 416.4h0M377.1 400.1h0M377.2 421.7h0M377.2 431.1h0M377.2 420.6h0M377.3 423.5h0M377.3 416.5h0M377.4 423.5h0M377.4 416.9h0M377.5 434.6h0M377.5 424.0h0M377.6 430.4h0M377.7 418.8h0M377.7 427.8h0M377.8 431.6h0M377.8 416.4h0M377.9 409.5h0M378.0 413.3h0M378.0 417.1h0M378.0 432.6h0M378.1 437.5h0M378.1 405.9h0M378.2 422.2h0M378.2 420.6h0M378.3 419.2h0M378.3 427.9h0M378.4 403.7h0M378.5 422.7h0M378.5 429.0h0M378.5 415.3h0M378.6 447.3h0M378.6 417.2h0M378.7 413.0h0M378.7 416.4h0M378.8 445.7h0M378.8 430.0h0M378.9 415.0h0M378.9 433.5h0M378.9 427.7h0M379.0 410.6h0M379.0 420.0h0M379.1 429.4h0M379.1 419.0h0M379.2 439.1h0M379.2 408.4h0M379.3 415.1h0M379.3 444.5h0M379.3 428.5h0M379.4 428.4h0M379.4 430.8h0M379.5 456.6h0M379.5 424.9h0M379.6 437.6h0M379.7 424.5h0M379.7 410.3h0M379.7 434.2h0M379.8 423.6h0M379.9 434.2h0M379.9 441.4h0M380.0 406.8h0M380.0 439.2h0M380.1 427.6h0M380.1 428.5h0M380.2 415.0h0M380.2 420.5h0M380.3 418.7h0M380.3 424.0h0M380.4 445.7h0M380.4 424.4h0M380.5 435.8h0M380.5 422.5h0M380.6 418.5h0M380.6 414.1h0M380.6 432.3h0M380.7 412.7h0M380.7 423.8h0M380.8 418.2h0M380.9 416.4h0M380.9 433.9h0M381.0 428.7h0M381.0 440.5h0M381.0 453.7h0M381.1 444.0h0M381.1 419.5h0M381.2 419.7h0M381.2 443.6h0M381.3 418.5h0M381.4 425.6h0M381.4 408.3h0M381.4 436.7h0M381.5 420.5h0M381.5 415.6h0M381.6 415.8h0M381.6 416.6h0M381.7 407.6h0M381.7 394.0h0M381.8 423.0h0M381.8 434.4h0M381.9 421.9h0M381.9 419.8h0M382.0 427.9h0M382.0 425.5h0M382.1 424.6h0M382.1 414.3h0M382.2 414.8h0M382.2 435.1h0M382.2 424.7h0M382.3 425.9h0M382.3 422.8h0M382.4 418.0h0M382.4 425.3h0M382.5 440.8h0M382.5 423.3h0M382.6 420.4h0M382.6 428.6h0M382.7 443.8h0M382.7 414.4h0M382.7 425.5h0M382.8 426.4h0M382.8 422.5h0M382.9 430.4h0M382.9 426.4h0M383.0 416.4h0M383.0 377.4h0M383.1 421.5h0M383.1 426.1h0M383.2 420.4h0M383.3 437.0h0M383.4 432.1h0M383.4 438.4h0M383.5 411.9h0M383.5 405.9h0M383.5 438.3h0M383.6 429.7h0M383.6 429.9h0M383.7 425.7h0M383.7 435.6h0M383.8 436.4h0M383.8 423.0h0M383.9 428.3h0M383.9 425.9h0M383.9 418.4h0M384.0 424.6h0M384.0 411.4h0M384.1 448.2h0M384.1 430.7h0M384.2 436.8h0M384.2 423.4h0M384.3 428.5h0M384.3 446.9h0M384.3 423.0h0M384.4 410.5h0M384.5 405.1h0M384.6 417.5h0M384.6 429.6h0M384.7 423.4h0M384.8 408.4h0M384.8 420.0h0M384.8 411.9h0M384.9 429.4h0M384.9 427.7h0M385.0 433.1h0M385.0 431.3h0M385.1 429.3h0M385.1 422.1h0M385.2 416.4h0M385.2 428.7h0M385.2 426.2h0M385.3 435.8h0M385.3 431.1h0M385.4 420.1h0M385.5 419.9h0M385.5 421.1h0M385.6 420.0h0M385.6 422.7h0M385.6 420.8h0M385.7 428.6h0M385.7 420.8h0M385.8 426.4h0M385.9 440.6h0M385.9 433.1h0M386.0 395.8h0M386.0 421.2h0M386.0 419.2h0M386.1 420.8h0M386.2 413.0h0M386.2 422.0h0M386.3 406.0h0M386.3 413.9h0M386.4 412.5h0M386.4 409.7h0M386.4 428.7h0M386.5 417.6h0M386.5 398.9h0M386.6 410.4h0M386.6 431.4h0M386.7 430.1h0M386.7 441.5h0M386.8 431.4h0M386.8 440.4h0M386.9 418.2h0M386.9 427.5h0M386.9 408.9h0M387.0 430.0h0M387.0 414.9h0M387.1 435.8h0M387.1 444.5h0M387.2 420.6h0M387.2 426.3h0M387.3 418.7h0M387.3 441.3h0M387.3 412.2h0M387.4 430.4h0M387.4 415.9h0M387.5 404.6h0M387.5 425.9h0M387.6 414.8h0M387.6 415.0h0M387.7 407.8h0M387.7 430.2h0M387.8 417.5h0M387.8 419.6h0M387.9 406.7h0M387.9 418.6h0M388.0 419.8h0M388.0 408.5h0M388.1 413.5h0M388.1 445.8h0M388.1 416.0h0M388.3 416.3h0M388.3 431.9h0M388.4 415.8h0M388.5 424.8h0M388.5 443.6h0M388.6 438.7h0M388.6 434.2h0M388.6 422.6h0M388.7 418.4h0M388.8 438.2h0M388.8 417.0h0M388.9 415.6h0M388.9 423.6h0M389.0 441.0h0M389.0 423.6h0M389.0 443.0h0M389.1 418.4h0M389.1 440.9h0M389.2 421.7h0M389.3 418.6h0M389.3 420.6h0M389.4 435.8h0M389.4 447.5h0M389.4 438.2h0M389.5 419.9h0M389.5 415.9h0M389.6 429.4h0M389.6 412.3h0M389.7 448.6h0M389.7 440.4h0M389.8 415.5h0M389.8 429.5h0M389.9 416.8h0M389.9 419.1h0M390.0 428.1h0M390.0 428.8h0M390.1 433.6h0M390.1 413.4h0M390.2 444.7h0M390.2 422.0h0M390.2 416.3h0M390.3 449.6h0M390.4 417.8h0M390.4 421.8h0M390.5 415.5h0M390.5 420.1h0M390.6 420.8h0M390.6 420.6h0M390.7 423.9h0M390.7 425.4h0M390.7 421.1h0M390.8 433.6h0M390.8 432.9h0M390.9 440.3h0M390.9 429.3h0M391.0 421.4h0M391.0 453.0h0M391.1 429.6h0M391.1 431.3h0M391.2 438.4h0M391.3 417.2h0M391.3 414.3h0M391.4 422.0h0M391.4 408.4h0M391.5 443.6h0M391.5 420.6h0M391.5 419.4h0M391.6 411.6h0M391.6 408.2h0M391.7 434.3h0M391.7 420.5h0M391.8 403.7h0M391.8 432.4h0M391.9 411.5h0M391.9 439.7h0M391.9 424.5h0M392.0 432.5h0M392.0 436.0h0M392.1 422.0h0M392.1 444.6h0M392.2 441.2h0M392.3 419.1h0M392.3 420.7h0M392.4 409.0h0M392.4 410.7h0M392.5 413.8h0M392.5 423.4h0M392.6 436.5h0M392.7 434.7h0M392.7 423.6h0M392.8 427.6h0M392.8 434.7h0M392.8 413.3h0M392.9 428.2h0M392.9 425.7h0M393.0 439.5h0M393.1 442.0h0M393.1 422.5h0M393.2 426.1h0M393.2 433.1h0M393.2 425.4h0M393.3 441.9h0M393.3 409.9h0M393.4 433.8h0M393.5 453.5h0M393.5 404.7h0M393.6 427.1h0M393.6 425.2h0M393.6 426.4h0M393.7 435.3h0M393.7 423.9h0M393.8 437.1h0M393.8 419.7h0M393.9 433.9h0M394.0 430.2h0M394.0 418.4h0M394.0 428.7h0M394.1 424.4h0M394.1 424.5h0M394.2 431.8h0M394.2 451.5h0M394.3 432.9h0M394.4 430.8h0M394.4 418.5h0M394.5 448.5h0M394.6 427.8h0M394.6 422.5h0M394.7 427.2h0M394.7 417.0h0M394.8 439.4h0M394.8 430.0h0M394.9 407.4h0M394.9 429.1h0M395.0 414.8h0M395.0 424.4h0M395.1 417.9h0M395.1 420.3h0M395.2 440.7h0M395.3 426.5h0M395.3 424.0h0M395.4 402.2h0M395.4 414.1h0M395.5 439.3h0M395.5 432.5h0M395.6 419.3h0M395.6 416.6h0M395.7 420.4h0M395.7 412.1h0M395.7 405.6h0M395.8 448.8h0M395.8 440.0h0M395.9 411.6h0M395.9 400.6h0M396.0 411.6h0M396.0 429.6h0M396.1 423.6h0M396.1 413.2h0M396.1 429.8h0M396.2 435.9h0M396.2 424.8h0M396.3 429.7h0M396.3 418.8h0M396.4 411.0h0M396.4 438.3h0M396.5 418.9h0M396.5 433.0h0M396.5 432.7h0M396.6 429.6h0M396.6 434.1h0M396.7 452.8h0M396.7 416.1h0M396.8 418.8h0M396.8 403.8h0M396.9 411.0h0M396.9 454.5h0M397.0 417.4h0M397.0 426.2h0M397.0 411.1h0M397.1 418.4h0M397.1 421.1h0M397.2 417.8h0M397.2 409.3h0M397.3 423.2h0M397.3 437.7h0M397.4 445.4h0M397.4 457.2h0M397.4 415.9h0M397.5 457.5h0M397.5 432.2h0M397.6 437.9h0M397.6 430.6h0M397.7 432.4h0M397.7 414.0h0M397.8 435.0h0M397.8 418.2h0M397.8 429.4h0M397.9 403.5h0M397.9 425.4h0M398.0 429.6h0M398.0 421.9h0M398.1 400.7h0M398.1 420.8h0M398.2 436.9h0M398.2 423.8h0M398.2 430.2h0M398.3 427.9h0M398.3 429.9h0M398.4 415.8h0M398.4 434.6h0M398.5 421.0h0M398.5 419.2h0M398.6 410.2h0M398.6 422.6h0M398.7 414.3h0M398.7 415.2h0M398.7 417.3h0M398.8 425.3h0M398.8 410.2h0M398.9 414.5h0M398.9 432.3h0M399.0 461.2h0M399.0 408.1h0M399.1 427.3h0M399.1 426.0h0M399.1 422.3h0M399.2 414.9h0M399.2 415.6h0M399.3 417.6h0M399.3 421.8h0M399.4 402.3h0M399.4 419.2h0M399.5 417.0h0M399.5 411.4h0M399.5 421.6h0M399.6 423.3h0M399.6 436.3h0M399.7 432.6h0M399.7 418.2h0M399.8 438.7h0M399.8 437.2h0M399.9 425.3h0M399.9 436.3h0M400.0 434.2h0M400.0 426.9h0M400.1 420.4h0M400.2 437.3h0M400.2 421.9h0M400.3 412.1h0M400.3 418.2h0M400.3 420.1h0M400.4 434.0h0M400.4 421.2h0M400.5 414.1h0M400.5 437.0h0M400.6 409.6h0M400.6 418.9h0M400.7 431.7h0M400.7 433.9h0M400.8 414.2h0M400.8 422.1h0M400.9 466.2h0M400.9 412.3h0M401.0 416.6h0M401.0 423.6h0M401.1 438.9h0M401.1 423.8h0M401.2 428.6h0M401.2 433.4h0M401.3 426.1h0M401.3 421.2h0M401.4 431.5h0M401.4 408.0h0M401.5 417.0h0M401.6 407.7h0M401.6 412.1h0M401.7 414.6h0M401.7 418.2h0M401.8 407.3h0M401.8 434.9h0M401.9 413.1h0M401.9 418.3h0M402.0 429.4h0M402.0 412.8h0M402.1 418.6h0M402.2 426.5h0M402.2 422.7h0M402.3 401.1h0M402.3 432.9h0M402.4 428.5h0M402.4 410.5h0M402.4 424.8h0M402.5 411.2h0M402.6 423.2h0M402.6 413.5h0M402.7 422.0h0M402.7 410.8h0M402.8 427.0h0M402.9 413.7h0M402.9 423.0h0M402.9 454.3h0M403.0 431.6h0M403.0 415.7h0M403.1 432.0h0M403.2 439.3h0M403.2 410.8h0M403.3 424.7h0M403.3 419.9h0M403.4 422.3h0M403.4 455.8h0M403.5 458.3h0M403.5 411.7h0M403.6 436.7h0M403.7 425.5h0M403.7 439.8h0M403.7 411.9h0M403.8 418.8h0M403.8 421.1h0M403.9 424.4h0M403.9 425.4h0M404.0 421.2h0M404.0 431.8h0M404.1 395.2h0M404.1 416.3h0M404.2 420.3h0M404.2 454.5h0M404.3 419.7h0M404.3 455.0h0M404.4 410.0h0M404.4 418.6h0M404.5 421.5h0M404.5 449.5h0M404.5 409.4h0M404.6 423.8h0M404.6 451.0h0M404.7 417.5h0M404.7 434.3h0M404.8 420.8h0M404.8 424.5h0M404.9 415.8h0M404.9 414.1h0M405.0 439.4h0M405.0 407.0h0M405.0 422.7h0M405.1 421.3h0M405.1 434.6h0M405.2 426.5h0M405.2 431.9h0M405.3 417.2h0M405.3 421.1h0M405.4 413.2h0M405.4 430.2h0M405.4 429.9h0M405.5 407.4h0M405.5 449.0h0M405.6 420.2h0M405.6 411.6h0M405.7 442.6h0M405.7 420.6h0M405.8 407.5h0M405.8 427.8h0M405.8 434.1h0M405.9 430.0h0M405.9 420.8h0M406.0 427.0h0M406.0 416.9h0M406.1 413.0h0M406.2 421.4h0M406.2 426.2h0M406.3 433.1h0M406.4 423.9h0M406.4 435.0h0M406.5 451.0h0M406.5 415.5h0M406.6 422.5h0M406.6 433.5h0M406.7 431.2h0M406.7 437.3h0M406.8 421.6h0M406.8 411.9h0M406.9 426.1h0M407.0 437.1h0M407.0 436.4h0M407.1 425.7h0M407.1 408.1h0M407.1 429.4h0M407.2 418.6h0M407.2 447.1h0M407.3 421.5h0M407.3 411.6h0M407.4 452.8h0M407.4 447.3h0M407.5 454.4h0M407.5 442.5h0M407.5 423.7h0M407.6 424.8h0M407.6 447.2h0M407.7 418.1h0M407.7 413.9h0M407.8 424.4h0M407.8 400.5h0M407.9 424.4h0M408.0 409.3h0M408.0 422.0h0M408.1 418.5h0M408.1 432.2h0M408.2 447.2h0M408.2 402.5h0M408.3 407.1h0M408.3 429.0h0M408.3 425.1h0M408.4 444.7h0M408.5 429.3h0M408.5 420.3h0M408.6 409.8h0M408.6 421.0h0M408.7 420.9h0M408.7 415.4h0M408.8 412.8h0M408.8 418.2h0M408.8 416.7h0M408.9 416.5h0M408.9 425.5h0M409.0 422.9h0M409.0 405.1h0M409.1 439.3h0M409.1 425.6h0M409.2 417.3h0M409.2 439.0h0M409.2 414.1h0M409.3 449.2h0M409.3 414.7h0M409.4 432.6h0M409.4 421.7h0M409.5 431.5h0M409.7 428.2h0M409.7 440.8h0M409.8 417.1h0M409.9 445.0h0M409.9 455.1h0M410.0 410.1h0M410.0 426.5h0M410.0 441.4h0M410.1 424.5h0M410.1 422.8h0M410.2 417.8h0M410.2 419.2h0M410.3 419.6h0M410.3 442.2h0M410.4 415.9h0M410.4 431.9h0M410.4 421.7h0M410.5 420.1h0M410.5 425.6h0M410.6 443.1h0M410.6 426.2h0M410.7 433.5h0M410.7 410.5h0M410.8 443.0h0M410.9 412.2h0M410.9 422.5h0M410.9 425.5h0M411.0 439.5h0M411.0 442.2h0M411.1 419.4h0M411.1 429.4h0M411.2 434.0h0M411.2 422.2h0M411.3 418.7h0M411.3 432.0h0M411.3 420.0h0M411.4 413.3h0M411.4 426.2h0M411.5 423.0h0M411.5 423.5h0M411.6 433.6h0M411.7 423.3h0M411.7 432.3h0M411.7 441.1h0M411.8 406.1h0M411.8 396.1h0M411.9 434.3h0M411.9 411.3h0M412.1 417.5h0M412.1 430.4h0M412.1 431.6h0M412.2 438.3h0M412.2 427.8h0M412.3 434.5h0M412.3 450.4h0M412.4 421.9h0M412.4 433.7h0M412.5 414.7h0M412.5 448.2h0M412.5 443.5h0M412.6 431.3h0M412.6 421.9h0M412.7 419.9h0M412.7 447.6h0M412.8 437.8h0M412.8 446.8h0M412.9 420.8h0M412.9 416.9h0M413.0 442.2h0M413.0 413.8h0M413.0 418.9h0M413.1 422.4h0M413.1 453.6h0M413.2 455.5h0M413.2 384.2h0M413.3 421.2h0M413.3 423.6h0M413.4 417.7h0M413.4 432.0h0M413.4 407.7h0M413.5 430.5h0M413.5 420.3h0M413.6 427.9h0M413.7 430.4h0M413.7 403.0h0M413.8 432.5h0M413.8 407.8h0M413.9 426.7h0M413.9 444.2h0M414.0 421.3h0M414.0 421.8h0M414.1 434.2h0M414.1 426.4h0M414.2 429.3h0M414.2 420.5h0M414.2 411.3h0M414.3 404.3h0M414.3 423.6h0M414.4 431.4h0M414.4 417.5h0M414.5 407.6h0M414.6 432.9h0M414.6 431.1h0M414.6 450.1h0M414.7 442.3h0M414.7 420.9h0M414.8 420.5h0M414.9 421.8h0M414.9 421.1h0M415.0 419.3h0M415.1 411.3h0M415.1 425.2h0M415.1 411.5h0M415.2 415.7h0M415.2 396.1h0M415.3 442.4h0M415.3 423.7h0M415.4 430.0h0M415.4 412.9h0M415.5 415.3h0M415.5 415.4h0M415.6 418.1h0M415.6 451.4h0M415.7 411.5h0M415.7 421.0h0M415.8 428.1h0M415.8 445.6h0M415.9 419.0h0M415.9 425.0h0M415.9 420.3h0M416.0 420.8h0M416.0 420.1h0M416.1 427.9h0M416.1 417.2h0M416.2 436.7h0M416.2 411.7h0M416.3 421.3h0M416.3 416.5h0M416.3 420.9h0M416.4 416.1h0M416.4 418.3h0M416.5 447.3h0M416.5 438.1h0M416.6 417.5h0M416.6 417.0h0M416.7 434.9h0M416.7 405.7h0M416.7 424.8h0M416.8 418.4h0M416.8 442.9h0M416.9 422.4h0M416.9 452.2h0M417.0 438.9h0M417.0 400.8h0M417.1 419.2h0M417.1 424.4h0M417.2 428.2h0M417.2 434.6h0M417.2 426.6h0M417.4 412.4h0M417.4 433.6h0M417.5 416.8h0M417.5 435.6h0M417.6 412.9h0M417.6 437.8h0M417.6 422.9h0M417.7 419.8h0M417.7 436.1h0M417.8 425.0h0M417.8 430.2h0M417.9 444.4h0M417.9 439.6h0M418.0 394.9h0M418.0 444.7h0M418.0 424.4h0M418.1 426.6h0M418.1 438.1h0M418.2 416.5h0M418.2 415.6h0M418.3 411.5h0M418.3 405.0h0M418.4 453.6h0M418.4 419.1h0M418.4 416.8h0M418.5 437.7h0M418.5 446.6h0M418.6 411.0h0M418.6 423.1h0M418.7 423.3h0M418.7 419.4h0M418.8 432.6h0M418.8 411.8h0M418.9 426.7h0M418.9 428.3h0M418.9 434.3h0M419.0 427.1h0M419.0 415.4h0M419.1 451.2h0M419.1 419.0h0M419.2 432.7h0M419.3 425.5h0M419.3 437.3h0M419.4 423.0h0M419.4 430.3h0M419.5 412.2h0M419.5 451.4h0M419.6 432.6h0M419.6 416.4h0M419.7 419.0h0M419.7 417.1h0M419.8 427.2h0M419.8 431.0h0M419.9 426.6h0M419.9 429.4h0M420.0 413.1h0M420.0 433.5h0M420.1 449.5h0M420.1 428.3h0M420.1 413.1h0M420.2 424.2h0M420.2 435.7h0M420.3 420.7h0M420.3 419.4h0M420.4 416.0h0M420.4 433.7h0M420.5 433.2h0M420.5 434.2h0M420.5 427.2h0M420.6 427.6h0M420.6 415.2h0M420.7 446.9h0M420.7 431.0h0M420.8 427.5h0M420.8 426.7h0M420.9 409.1h0M420.9 412.5h0M421.0 447.0h0M421.0 429.5h0M421.0 422.8h0M421.1 411.6h0M421.1 408.2h0M421.2 432.9h0M421.2 415.5h0M421.3 406.8h0M421.3 430.3h0M421.4 420.4h0M421.4 425.0h0M421.4 452.3h0M421.5 407.0h0M421.5 418.1h0M421.6 433.4h0M421.7 425.8h0M421.7 433.6h0M421.8 433.5h0M421.8 410.3h0M421.8 416.2h0M421.9 428.3h0M421.9 417.3h0M422.0 433.5h0M422.0 416.9h0M422.1 460.3h0M422.1 415.6h0M422.2 420.2h0M422.2 418.9h0M422.2 442.5h0M422.3 435.2h0M422.3 415.2h0M422.4 417.0h0M422.4 429.6h0M422.5 430.0h0M422.5 437.3h0M422.6 414.6h0M422.6 420.9h0M422.7 415.2h0M422.7 424.6h0M422.8 426.7h0M422.8 444.3h0M422.9 453.6h0M422.9 411.0h0M423.0 423.3h0M423.0 420.4h0M423.1 431.8h0M423.1 420.2h0M423.1 406.7h0M423.2 418.4h0M423.2 432.7h0M423.3 428.9h0M423.3 449.6h0M423.4 403.2h0M423.4 421.6h0M423.5 440.5h0M423.5 438.6h0M423.5 424.0h0M423.6 414.5h0M423.6 431.9h0M423.7 411.0h0M423.7 427.1h0M423.8 422.4h0M423.8 403.1h0M423.9 432.7h0M423.9 429.8h0M424.0 443.1h0M424.0 441.4h0M424.1 434.1h0M424.1 430.6h0M424.2 408.1h0M424.2 430.9h0M424.3 412.8h0M424.3 428.5h0M424.3 415.8h0M424.4 409.4h0M424.4 389.6h0M424.5 436.4h0M424.5 439.4h0M424.6 383.2h0M424.6 431.6h0M424.7 418.0h0M424.7 439.5h0M424.7 413.7h0M424.8 428.1h0M424.8 419.4h0M424.9 431.2h0M424.9 423.0h0M425.0 416.3h0M425.0 435.5h0M425.1 414.9h0M425.1 418.4h0M425.2 422.2h0M425.2 422.9h0M425.2 428.0h0M425.3 423.4h0M425.3 425.0h0M425.4 419.5h0M425.4 406.2h0M425.5 411.7h0M425.5 424.1h0M425.6 432.5h0M425.6 411.2h0M425.6 441.9h0M425.7 432.6h0M425.7 427.9h0M425.8 427.4h0M425.8 423.7h0M425.9 418.5h0M426.0 420.7h0M426.0 409.8h0M426.0 425.1h0M426.1 420.4h0M426.1 424.8h0M426.2 418.2h0M426.2 419.0h0M426.3 422.0h0M426.3 421.9h0M426.4 425.2h0M426.4 441.3h0M426.4 429.0h0M426.5 428.5h0M426.5 428.5h0M426.6 440.2h0M426.6 451.1h0M426.7 419.2h0M426.7 426.3h0M426.8 437.4h0M426.8 425.9h0M426.8 418.4h0M426.9 408.5h0M427.0 447.2h0M427.0 423.7h0M427.1 429.6h0M427.1 424.6h0M427.2 431.1h0M427.2 404.8h0M427.3 443.6h0M427.3 407.0h0M427.3 460.1h0M427.4 413.0h0M427.4 406.3h0M427.5 441.1h0M427.5 416.6h0M427.6 418.6h0M427.7 421.5h0M427.7 414.8h0M427.7 425.7h0M427.8 396.5h0M427.8 422.5h0M427.9 411.5h0M428.0 425.7h0M428.0 433.0h0M428.1 430.6h0M428.1 421.1h0M428.1 430.5h0M428.2 401.9h0M428.2 420.6h0M428.3 430.6h0M428.3 449.4h0M428.4 407.5h0M428.4 416.7h0M428.5 420.2h0M428.5 416.3h0M428.5 421.9h0M428.6 424.9h0M428.6 433.0h0M428.7 430.5h0M428.7 422.8h0M428.8 430.5h0M428.8 420.9h0M428.9 417.9h0M428.9 438.2h0M429.0 425.3h0M429.0 418.6h0M429.0 444.0h0M429.1 426.2h0M429.1 433.7h0M429.2 416.5h0M429.2 408.2h0M429.3 438.0h0M429.3 437.2h0M429.4 438.8h0M429.4 411.2h0M429.4 458.8h0M429.5 440.8h0M429.5 407.4h0M429.6 428.1h0M429.6 429.5h0M429.7 429.6h0M429.7 422.6h0M429.8 421.2h0M429.8 449.2h0M429.8 420.5h0M429.9 416.4h0M429.9 432.5h0M430.0 447.3h0M430.0 434.0h0M430.1 410.9h0M430.1 412.0h0M430.2 427.9h0M430.2 412.3h0M430.2 415.5h0M430.3 426.3h0M430.3 416.3h0M430.4 417.3h0M430.4 453.5h0M430.5 415.2h0M430.6 423.1h0M430.6 427.4h0M430.6 422.3h0M430.7 411.5h0M430.7 428.6h0M430.8 420.6h0M430.8 411.0h0M430.9 420.4h0M430.9 431.3h0M431.0 433.8h0M431.0 439.0h0M431.1 414.7h0M431.1 417.6h0M431.1 420.4h0M431.2 424.1h0M431.2 450.7h0M431.3 441.6h0M431.3 429.9h0M431.4 451.0h0M431.4 433.4h0M431.5 420.2h0M431.5 426.3h0M431.5 430.3h0M431.6 411.7h0M431.6 411.3h0M431.7 414.1h0M431.7 433.5h0M431.8 426.4h0M431.8 411.9h0M431.9 428.6h0M431.9 414.8h0M432.0 438.2h0M432.0 434.1h0M432.1 437.7h0M432.2 420.0h0M432.2 414.7h0M432.3 449.7h0M432.3 395.3h0M432.3 440.8h0M432.4 416.3h0M432.4 458.6h0M432.5 422.6h0M432.5 432.7h0M432.6 423.6h0M432.6 428.3h0M432.7 418.5h0M432.7 429.2h0M432.7 435.7h0M432.8 430.5h0M432.9 415.4h0M432.9 428.6h0M433.0 426.4h0M433.0 432.3h0M433.1 409.1h0M433.1 411.8h0M433.2 435.6h0M433.2 411.5h0M433.3 431.6h0M433.3 423.9h0M433.4 410.6h0M433.4 428.2h0M433.5 433.9h0M433.5 418.7h0M433.6 427.0h0M433.6 440.2h0M433.6 429.8h0M433.7 404.2h0M433.7 415.1h0M433.8 459.5h0M433.8 423.4h0M433.9 425.6h0M433.9 432.2h0M434.0 441.1h0M434.0 434.8h0M434.1 421.4h0M434.1 392.7h0M434.2 420.2h0M434.2 441.1h0M434.3 455.9h0M434.3 418.6h0M434.4 425.1h0M434.4 428.5h0M434.4 420.9h0M434.5 407.9h0M434.5 435.7h0M434.6 414.6h0M434.6 423.6h0M434.7 401.2h0M434.7 412.8h0M434.8 440.4h0M434.8 424.1h0M434.8 424.6h0M434.9 419.7h0M434.9 407.1h0M435.0 441.7h0M435.1 441.6h0M435.2 408.1h0M435.2 436.2h0M435.3 401.8h0M435.3 431.6h0M435.3 423.3h0M435.4 412.5h0M435.4 426.1h0M435.5 422.8h0M435.5 418.9h0M435.6 414.9h0M435.7 414.3h0M435.7 439.3h0M435.7 416.9h0M435.8 430.9h0M435.8 429.8h0M436.0 415.9h0M436.1 431.2h0M436.1 425.2h0M436.1 417.7h0M436.2 412.7h0M436.2 411.8h0M436.3 420.5h0M436.3 416.7h0M436.4 421.6h0M436.4 431.5h0M436.5 434.5h0M436.5 419.2h0M436.5 403.8h0M436.7 420.1h0M436.7 414.9h0M436.8 436.4h0M436.8 419.2h0M436.9 409.9h0M436.9 436.5h0M437.0 447.1h0M437.0 420.3h0M437.1 436.1h0M437.1 419.7h0M437.2 429.1h0M437.2 413.2h0M437.3 427.4h0M437.3 427.9h0M437.4 418.5h0M437.4 436.6h0M437.4 426.9h0M437.5 403.8h0M437.5 444.8h0M437.6 436.4h0M437.6 423.6h0M437.7 428.9h0M437.7 413.8h0M437.8 414.0h0M437.8 429.5h0M437.8 440.9h0M437.9 416.7h0M438.0 424.1h0M438.0 431.4h0M438.1 414.9h0M438.1 426.0h0M438.2 416.0h0M438.2 436.5h0M438.2 417.4h0M438.3 418.5h0M438.4 424.9h0M438.4 422.8h0M438.5 429.8h0M438.5 434.3h0M438.6 420.6h0M438.6 435.3h0M438.6 410.8h0M438.7 424.0h0M438.7 407.1h0M438.8 429.9h0M438.9 410.9h0M438.9 405.1h0M439.0 432.3h0M439.0 411.1h0M439.0 424.2h0M439.1 417.9h0M439.1 412.9h0M439.2 418.1h0M439.2 436.5h0M439.3 435.0h0M439.3 406.9h0M439.4 426.5h0M439.4 422.7h0M439.5 440.3h0M439.5 406.8h0M439.5 411.6h0M439.6 418.6h0M439.6 416.5h0M439.7 433.1h0M439.7 419.9h0M439.8 426.0h0M439.8 430.3h0M439.9 436.2h0M439.9 425.3h0M439.9 419.4h0M440.0 409.3h0M440.0 423.3h0M440.1 422.7h0M440.1 438.9h0M440.2 427.5h0M440.2 434.3h0M440.3 435.7h0M440.3 428.7h0M440.3 422.1h0M440.4 435.0h0M440.4 426.2h0M440.5 430.9h0M440.5 455.3h0M440.6 415.9h0M440.6 412.3h0M440.7 384.0h0M440.7 440.9h0M440.7 419.3h0M440.8 431.4h0M440.9 439.0h0M440.9 435.7h0M441.0 432.9h0M441.0 419.6h0M441.1 419.2h0M441.1 421.8h0M441.2 433.9h0M441.2 432.1h0M441.2 437.8h0M441.3 424.8h0M441.3 422.6h0M441.4 426.2h0M441.5 447.9h0M441.5 454.9h0M441.6 440.3h0M441.6 457.8h0M441.7 416.1h0M441.8 437.6h0M441.8 435.6h0M441.9 422.8h0M441.9 426.0h0M442.0 408.7h0M442.0 419.6h0M442.0 440.7h0M442.1 413.7h0M442.1 417.9h0M442.2 437.0h0M442.2 430.7h0M442.3 409.5h0M442.3 415.0h0M442.4 422.6h0M442.4 391.1h0M442.4 431.2h0M442.5 413.6h0M442.5 416.3h0M442.6 420.2h0M442.6 420.9h0M442.7 414.3h0M442.7 441.8h0M442.8 417.8h0M442.8 411.7h0M442.8 404.3h0M442.9 411.6h0M442.9 405.9h0M443.0 417.9h0M443.0 428.1h0M443.1 419.8h0M443.2 438.4h0M443.2 425.9h0M443.3 441.8h0M443.3 438.6h0M443.3 416.9h0M443.4 411.9h0M443.4 425.4h0M443.5 414.7h0M443.5 428.1h0M443.6 422.7h0M443.6 411.5h0M443.7 418.5h0M443.7 432.8h0M443.7 425.5h0M443.8 425.7h0M443.8 427.3h0M443.9 419.5h0M443.9 455.2h0M444.0 403.9h0M444.0 409.6h0M444.1 422.4h0M444.1 415.2h0M444.2 429.5h0M444.2 431.6h0M444.3 419.5h0M444.3 434.0h0M444.4 422.0h0M444.4 413.0h0M444.5 432.3h0M444.5 437.4h0M444.5 416.6h0M444.6 422.4h0M444.6 424.9h0M444.7 431.4h0M444.7 444.8h0M444.8 438.0h0M444.8 427.9h0M444.9 427.0h0M444.9 420.9h0M444.9 413.4h0M445.0 455.6h0M445.0 432.3h0M445.1 404.7h0M445.1 415.8h0M445.2 430.5h0M445.3 462.7h0M445.3 432.5h0M445.4 417.7h0M445.4 415.9h0M445.4 444.5h0M445.5 424.7h0M445.6 408.8h0M445.6 418.7h0M445.7 424.6h0M445.7 415.3h0M445.8 434.3h0M445.8 433.3h0M445.8 412.6h0M445.9 418.4h0M445.9 421.6h0M446.0 433.2h0M446.0 452.9h0M446.1 433.1h0M446.1 437.2h0M446.2 424.3h0M446.2 432.3h0M446.2 411.0h0M446.3 429.7h0M446.3 429.3h0M446.4 443.6h0M446.4 421.0h0M446.5 421.9h0M446.5 389.1h0M446.6 429.9h0M446.6 405.6h0M446.6 430.7h0M446.7 423.1h0M446.7 406.6h0M446.8 418.2h0M446.8 425.2h0M446.9 421.9h0M446.9 418.5h0M447.0 428.7h0M447.0 413.6h0M447.0 417.9h0M447.1 423.4h0M447.1 417.4h0M447.2 441.0h0M447.2 420.5h0M447.3 413.1h0M447.3 404.1h0M447.4 413.3h0M447.4 414.8h0M447.5 415.8h0M447.5 417.1h0M447.6 425.0h0M447.6 411.9h0M447.7 414.4h0M447.7 428.6h0M447.8 430.2h0M447.8 445.1h0M447.9 425.2h0M447.9 409.6h0M447.9 423.9h0M448.0 436.0h0M448.0 406.9h0M448.1 425.9h0M448.1 423.4h0M448.2 434.3h0M448.3 429.3h0M448.3 425.4h0M448.3 412.9h0M448.4 438.4h0M448.4 451.0h0M448.5 420.8h0M448.5 429.0h0M448.6 441.9h0M448.7 437.6h0M448.7 427.2h0M448.8 417.6h0M448.8 424.5h0M448.9 425.2h0M448.9 433.9h0M449.0 421.5h0M449.0 420.5h0M449.1 427.6h0M449.1 449.5h0M449.1 426.1h0M449.2 428.0h0M449.3 425.7h0M449.3 419.7h0M449.4 415.4h0M449.4 459.3h0M449.5 438.0h0M449.5 422.9h0M449.6 425.0h0M449.6 423.0h0M449.6 429.5h0M449.7 405.1h0M449.7 423.8h0M449.8 422.0h0M449.8 421.5h0M449.9 408.9h0M449.9 450.1h0M450.0 421.7h0M450.0 422.8h0M450.0 417.4h0M450.1 444.4h0M450.1 420.2h0M450.2 414.4h0M450.2 431.4h0M450.3 415.8h0M450.3 423.4h0M450.4 421.5h0M450.4 421.1h0M450.4 439.9h0M450.5 419.5h0M450.5 423.4h0M450.6 423.4h0M450.6 434.7h0M450.7 428.6h0M450.7 441.2h0M450.8 435.1h0M450.8 422.5h0M450.9 422.7h0M451.0 429.3h0M451.0 417.7h0M451.1 427.1h0M451.1 432.2h0M451.2 444.9h0M451.2 430.7h0M451.3 411.7h0M451.3 424.7h0M451.3 443.9h0M451.4 426.1h0M451.4 423.6h0M451.5 432.2h0M451.5 432.2h0M451.6 419.4h0M451.6 432.9h0M451.7 425.2h0M451.7 442.0h0M451.7 408.2h0M451.8 411.5h0M451.8 418.1h0M451.9 434.2h0M451.9 421.5h0M452.0 415.2h0M452.0 419.5h0M452.1 443.9h0M452.1 429.7h0M452.1 427.0h0M452.2 430.2h0M452.2 425.0h0M452.3 423.1h0M452.3 428.9h0M452.4 426.7h0M452.4 436.6h0M452.5 422.0h0M452.5 421.7h0M452.6 434.6h0M452.6 417.6h0M452.7 431.8h0M452.7 408.3h0M452.8 429.1h0M452.8 424.2h0M452.9 425.8h0M452.9 423.4h0M452.9 438.5h0M453.0 434.3h0M453.0 431.9h0M453.1 429.6h0M453.1 424.0h0M453.2 413.8h0M453.2 423.6h0M453.3 422.6h0M453.3 411.4h0M453.4 428.1h0M453.4 423.8h0M453.4 416.8h0M453.5 421.7h0M453.5 419.5h0M453.6 412.5h0M453.6 428.7h0M453.7 425.1h0M453.8 423.9h0M453.8 442.2h0M453.8 396.3h0M453.9 409.0h0M453.9 414.0h0M454.0 444.2h0M454.1 434.3h0M454.2 414.4h0M454.2 419.9h0M454.2 414.1h0M454.3 449.4h0M454.4 436.3h0M454.4 419.8h0M454.5 425.7h0M454.5 445.4h0M454.6 448.2h0M454.6 425.9h0M454.7 429.2h0M454.7 423.6h0M454.8 425.7h0M454.9 427.2h0M454.9 447.7h0M455.0 411.0h0M455.0 428.7h0M455.0 419.7h0M455.1 426.4h0M455.1 404.6h0M455.2 426.4h0M455.2 433.7h0M455.3 418.9h0M455.3 435.6h0M455.4 420.6h0M455.4 420.0h0M455.5 439.4h0M455.5 428.6h0M455.5 423.4h0M455.6 430.2h0M455.6 407.1h0M455.7 427.1h0M455.8 431.7h0M455.8 438.6h0M455.9 421.6h0M455.9 416.1h0M456.0 407.6h0M456.0 424.2h0M456.1 423.6h0M456.2 443.2h0M456.2 424.9h0M456.3 412.2h0M456.3 442.8h0M456.3 412.9h0M456.4 437.9h0M456.4 445.8h0M456.5 420.5h0M456.6 416.3h0M456.6 408.5h0M456.7 428.7h0M456.7 420.7h0M456.7 429.3h0M456.8 420.4h0M456.8 443.0h0M456.9 415.5h0M456.9 418.5h0M457.0 424.5h0M457.0 435.7h0M457.1 435.1h0M457.1 445.5h0M457.2 427.3h0M457.2 427.9h0M457.3 427.1h0M457.3 420.2h0M457.4 423.8h0M457.4 415.1h0M457.5 409.9h0M457.5 430.8h0M457.6 441.4h0M457.6 420.3h0M457.6 429.6h0M457.7 425.0h0M457.8 426.6h0M457.8 408.4h0M457.9 426.6h0M457.9 411.1h0M458.0 419.5h0M458.0 427.5h0M458.0 422.1h0M458.1 407.0h0M458.1 423.1h0M458.2 434.5h0M458.2 431.2h0M458.3 446.8h0M458.3 414.1h0M458.4 415.9h0M458.4 420.3h0M458.4 434.2h0M458.5 424.8h0M458.5 427.9h0M458.6 447.7h0M458.7 448.2h0M458.7 413.9h0M458.8 424.2h0M458.8 434.4h0M458.8 422.8h0M458.9 427.5h0M458.9 419.3h0M459.1 420.9h0M459.1 422.7h0M459.2 427.3h0M459.2 423.5h0M459.2 419.7h0M459.3 447.2h0M459.3 415.5h0M459.4 420.0h0M459.5 444.1h0M459.5 425.7h0M459.6 412.1h0M459.6 418.6h0M459.7 433.5h0M459.7 451.1h0M459.8 410.0h0M459.8 431.1h0M459.9 444.6h0M459.9 421.2h0M460.0 441.5h0M460.0 407.2h0M460.1 412.8h0M460.1 410.1h0M460.1 416.2h0M460.2 443.9h0M460.2 427.2h0M460.3 422.2h0M460.4 419.3h0M460.4 419.0h0M460.5 436.3h0M460.5 422.4h0M460.5 403.2h0M460.6 435.2h0M460.6 422.8h0M460.7 424.8h0M460.7 428.3h0M460.8 434.6h0M460.8 424.6h0M460.9 429.2h0M460.9 431.0h0M461.0 430.6h0M461.0 450.3h0M461.1 428.6h0M461.1 426.9h0M461.2 419.1h0M461.2 424.6h0M461.3 409.8h0M461.3 436.4h0M461.4 412.5h0M461.4 433.3h0M461.4 429.7h0M461.5 427.4h0M461.6 445.8h0M461.6 424.7h0M461.7 443.6h0M461.8 412.0h0M461.8 404.4h0M461.8 439.5h0M461.9 424.2h0M461.9 430.1h0M462.0 440.8h0M462.0 421.0h0M462.2 418.0h0M462.2 430.0h0M462.3 424.9h0M462.3 416.8h0M462.4 421.9h0M462.5 413.3h0M462.5 421.0h0M462.6 428.9h0M462.6 434.4h0M462.6 441.9h0M462.7 419.8h0M462.7 419.7h0M462.8 442.1h0M462.8 419.3h0M462.9 379.3h0M462.9 420.8h0M463.0 417.9h0M463.0 429.7h0M463.0 411.6h0M463.1 420.0h0M463.2 443.0h0M463.2 449.7h0M463.3 431.9h0M463.3 426.7h0M463.4 425.1h0M463.4 423.5h0M463.5 422.0h0M463.5 431.8h0M463.5 447.6h0M463.6 424.7h0M463.6 434.3h0M463.7 412.3h0M463.7 398.2h0M463.8 429.0h0M463.8 440.5h0M463.9 404.2h0M463.9 419.8h0M463.9 426.3h0M464.0 409.0h0M464.0 415.6h0M464.1 425.8h0M464.1 428.5h0M464.2 459.2h0M464.2 415.0h0M464.3 428.2h0M464.3 409.6h0M464.3 403.9h0M464.4 427.8h0M464.4 432.9h0M464.5 426.9h0M464.6 411.8h0M464.7 434.1h0M464.7 419.6h0M464.7 417.0h0M464.8 403.3h0M464.8 410.3h0M464.9 422.0h0M464.9 423.6h0M465.0 420.5h0M465.0 420.1h0M465.1 440.6h0M465.2 402.8h0M465.2 415.4h0M465.3 414.5h0M465.3 415.5h0M465.4 416.1h0M465.4 433.3h0M465.5 410.1h0M465.5 437.4h0M465.6 420.3h0M465.6 411.4h0M465.6 446.1h0M465.7 425.8h0M465.7 406.4h0M465.8 433.1h0M465.8 437.5h0M465.9 428.1h0M465.9 417.3h0M466.0 429.9h0M466.0 413.1h0M466.1 429.7h0M466.1 422.8h0M466.2 411.4h0M466.2 423.6h0M466.3 433.1h0M466.3 403.2h0M466.4 416.2h0M466.4 434.2h0M466.4 448.0h0M466.6 405.6h0M466.6 435.5h0M466.7 423.8h0M466.7 429.1h0M466.8 419.1h0M466.8 439.1h0M466.8 441.9h0M467.0 421.3h0M467.0 415.5h0M467.1 427.0h0M467.1 451.2h0M467.2 423.6h0M467.2 413.3h0M467.3 421.1h0M467.3 440.0h0M467.4 441.9h0M467.4 422.0h0M467.5 425.9h0M467.5 419.7h0M467.6 439.0h0M467.6 426.3h0M467.7 443.4h0M467.7 425.6h0M467.7 436.3h0M467.8 418.2h0M467.8 422.7h0M467.9 420.5h0M467.9 417.5h0M468.0 436.8h0M468.0 430.9h0M468.1 417.8h0M468.1 433.6h0M468.1 405.5h0M468.2 420.6h0M468.2 420.5h0M468.3 423.2h0M468.3 430.5h0M468.4 429.3h0M468.4 422.0h0M468.5 427.3h0M468.5 418.7h0M468.5 402.8h0M468.6 423.4h0M468.6 400.6h0M468.7 413.3h0M468.7 448.6h0M468.8 424.8h0M468.8 440.5h0M468.9 424.2h0M468.9 420.3h0M468.9 444.7h0M469.0 445.4h0M469.0 441.3h0M469.1 398.6h0M469.1 422.3h0M469.2 409.4h0M469.2 435.4h0M469.3 440.4h0M469.3 417.2h0M469.3 415.2h0M469.4 421.1h0M469.4 449.0h0M469.5 413.7h0M469.5 439.5h0M469.6 415.5h0M469.6 450.7h0M469.7 408.8h0M469.7 446.2h0M469.8 405.3h0M469.8 452.9h0M469.9 435.8h0M469.9 421.4h0M470.0 407.8h0M470.0 415.9h0M470.1 444.4h0M470.1 431.4h0M470.2 412.4h0M470.2 415.1h0M470.2 421.5h0M470.3 409.4h0M470.3 411.0h0M470.4 440.7h0M470.4 413.6h0M470.5 430.5h0M470.5 421.4h0M470.6 439.4h0M470.6 429.3h0M470.6 439.3h0M470.7 444.5h0M470.7 408.4h0M470.8 438.8h0M470.8 436.2h0M470.9 407.7h0M470.9 423.6h0M471.0 422.2h0M471.0 442.3h0M471.0 429.8h0M471.1 432.5h0M471.1 420.6h0M471.2 434.4h0M471.2 424.2h0M471.3 430.2h0M471.3 416.1h0M471.4 430.1h0M471.4 431.2h0M471.5 431.9h0M471.5 423.3h0M471.5 402.8h0M471.6 418.1h0M471.6 427.2h0M471.7 413.4h0M471.7 424.6h0M471.8 415.7h0M471.8 412.9h0M471.9 413.3h0M471.9 422.4h0M471.9 411.3h0M472.0 418.5h0M472.0 416.3h0M472.1 417.3h0M472.2 421.4h0M472.2 414.7h0M472.3 423.0h0M472.3 444.0h0M472.3 428.2h0M472.4 435.4h0M472.4 416.3h0M472.5 407.3h0M472.5 423.5h0M472.6 423.6h0M472.6 428.8h0M472.7 426.9h0M472.7 404.1h0M472.7 412.0h0M472.8 433.7h0M472.8 441.4h0M472.9 429.8h0M472.9 414.9h0M473.0 410.7h0M473.0 419.5h0M473.1 442.0h0M473.1 403.9h0M473.1 428.3h0M473.2 436.2h0M473.2 427.8h0M473.3 430.0h0M473.4 424.9h0M473.4 433.3h0M473.5 410.9h0M473.6 425.4h0M473.6 422.9h0M473.6 416.4h0M473.7 414.6h0M473.7 420.6h0M473.8 419.7h0M473.8 417.2h0M473.9 427.5h0M474.0 412.7h0M474.0 419.7h0M474.0 422.6h0M474.1 420.9h0M474.2 416.9h0M474.2 421.8h0M474.3 402.5h0M474.3 428.7h0M474.4 413.9h0M474.4 427.7h0M474.5 447.4h0M474.5 413.4h0M474.6 389.8h0M474.7 403.2h0M474.7 428.2h0M474.8 435.5h0M474.8 422.2h0M474.8 461.0h0M474.9 418.7h0M474.9 410.2h0M475.0 434.6h0M475.0 435.0h0M475.1 426.6h0M475.1 440.2h0M475.2 441.6h0M475.2 422.5h0M475.2 428.1h0M475.3 408.3h0M475.3 422.7h0M475.4 424.3h0M475.4 450.4h0M475.5 417.8h0M475.5 425.6h0M475.6 425.3h0M475.6 435.9h0M475.7 427.3h0M475.7 414.6h0M475.7 427.1h0M475.8 418.1h0M475.8 429.2h0M475.9 432.7h0M475.9 416.3h0M476.0 432.7h0M476.0 418.3h0M476.1 433.2h0M476.1 432.2h0M476.1 439.4h0M476.2 422.2h0M476.2 414.2h0M476.3 426.1h0M476.3 415.7h0M476.4 427.3h0M476.4 416.9h0M476.5 423.3h0M476.5 430.5h0M476.5 425.7h0M476.6 424.2h0M476.7 423.9h0M476.7 409.5h0M476.8 415.3h0M476.8 432.9h0M476.9 431.9h0M476.9 417.8h0M476.9 418.6h0M477.0 420.7h0M477.0 423.4h0M477.1 410.9h0M477.2 430.5h0M477.2 420.6h0M477.3 452.8h0M477.3 427.4h0M477.3 430.8h0M477.4 425.2h0M477.4 408.5h0M477.5 439.9h0M477.5 443.7h0M477.6 425.3h0M477.6 429.7h0M477.7 422.1h0M477.7 413.5h0M477.8 428.1h0M477.8 418.3h0M477.9 446.4h0M477.9 412.8h0M478.0 417.3h0M478.0 403.9h0M478.1 420.4h0M478.1 425.1h0M478.2 425.9h0M478.2 422.3h0M478.2 437.5h0M478.4 417.8h0M478.4 421.4h0M478.5 426.6h0M478.5 453.8h0M478.6 429.9h0M478.6 424.5h0M478.6 427.0h0M478.7 416.7h0M478.7 421.2h0M478.8 435.6h0M478.8 403.9h0M478.9 421.3h0M478.9 441.2h0M479.0 423.7h0M479.0 457.4h0M479.1 450.3h0M479.1 422.8h0M479.2 436.7h0M479.2 429.9h0M479.3 425.4h0M479.3 446.4h0M479.4 428.8h0M479.4 415.6h0M479.4 440.0h0M479.5 410.6h0M479.5 440.1h0M479.6 431.8h0M479.6 416.4h0M479.7 425.5h0M479.8 444.5h0M479.8 412.3h0M479.9 442.5h0M479.9 421.8h0M479.9 418.3h0M480.0 414.2h0M480.0 429.0h0M480.1 440.9h0M480.1 410.1h0M480.2 423.6h0M480.2 439.4h0M480.3 414.9h0M480.3 425.7h0M480.3 427.3h0M480.4 422.6h0M480.4 410.7h0M480.5 422.2h0M480.5 427.0h0M480.6 438.2h0M480.6 426.9h0M480.7 429.5h0M480.7 428.2h0M480.7 426.6h0M480.8 450.8h0M480.8 405.2h0M480.9 422.1h0M480.9 416.3h0M481.0 414.7h0M481.0 430.2h0M481.1 438.1h0M481.1 418.3h0M481.1 419.9h0M481.2 437.0h0M481.2 430.1h0M481.3 443.5h0M481.3 432.8h0M481.4 425.5h0M481.4 425.1h0M481.5 419.9h0M481.5 423.3h0M481.6 420.8h0M481.6 455.2h0M481.6 419.4h0M481.7 413.5h0M481.7 418.5h0M481.8 410.1h0M481.8 438.6h0M481.9 422.5h0M481.9 438.6h0M482.0 442.8h0M482.0 431.1h0M482.0 411.0h0M482.1 427.2h0M482.1 430.2h0M482.2 440.1h0M482.2 419.7h0M482.3 435.9h0M482.3 438.5h0M482.4 412.2h0M482.4 414.7h0M482.4 432.7h0M482.5 420.4h0M482.5 422.9h0M482.6 425.9h0M482.7 427.4h0M482.7 423.2h0M482.8 403.7h0M482.8 445.0h0M482.8 446.1h0M482.9 414.4h0M482.9 427.7h0M483.0 403.7h0M483.0 428.3h0M483.1 417.9h0M483.1 442.4h0M483.2 420.5h0M483.2 421.1h0M483.2 413.2h0M483.3 434.0h0M483.3 417.5h0M483.4 426.4h0M483.5 432.9h0M483.5 450.6h0M483.6 442.4h0M483.6 414.2h0M483.7 427.3h0M483.7 432.6h0M483.8 423.5h0M483.8 431.1h0M483.9 414.3h0M483.9 413.7h0M484.0 445.6h0M484.0 424.8h0M484.1 421.2h0M484.1 451.1h0M484.1 400.2h0M484.2 422.9h0M484.2 462.7h0M484.3 437.7h0M484.4 442.8h0M484.4 441.3h0M484.5 405.2h0M484.5 407.4h0M484.5 449.4h0M484.6 408.7h0M484.6 415.4h0M484.7 451.2h0M484.7 421.9h0M484.8 420.2h0M484.8 445.7h0M484.9 417.2h0M484.9 426.0h0M484.9 416.4h0M485.0 420.1h0M485.0 416.2h0M485.1 408.1h0M485.1 427.4h0M485.2 423.3h0M485.2 430.4h0M485.3 421.9h0M485.3 434.8h0M485.3 445.7h0M485.4 414.2h0M485.5 431.7h0M485.5 426.5h0M485.6 416.1h0M485.6 423.3h0M485.7 421.5h0M485.7 437.7h0M485.8 421.3h0M485.8 444.9h0M485.8 413.0h0M485.9 415.0h0M485.9 419.1h0M486.0 422.2h0M486.0 425.9h0M486.1 447.7h0M486.1 407.5h0M486.2 418.4h0M486.2 428.1h0M486.2 430.5h0M486.3 435.9h0M486.3 441.4h0M486.4 417.6h0M486.4 441.6h0M486.5 406.9h0M486.5 418.7h0M486.6 427.1h0M486.6 441.6h0M486.6 456.9h0M486.7 422.0h0M486.7 412.6h0M486.8 416.7h0M486.8 424.5h0M487.0 433.6h0M487.0 425.5h0M487.0 420.9h0M487.1 407.0h0M487.1 427.9h0M487.2 426.7h0M487.2 431.0h0M487.3 430.2h0M487.3 438.5h0M487.4 436.4h0M487.4 430.7h0M487.5 443.2h0M487.5 444.1h0M487.6 425.2h0M487.6 430.6h0M487.7 420.5h0M487.7 426.6h0M487.8 437.7h0M487.8 421.7h0M487.9 420.8h0M487.9 439.4h0M488.0 429.8h0M488.0 392.3h0M488.1 414.0h0M488.2 421.8h0M488.2 421.2h0M488.3 438.5h0M488.3 429.7h0M488.3 446.3h0M488.4 435.8h0M488.4 412.9h0M488.5 417.1h0M488.5 454.9h0M488.6 436.1h0M488.6 413.9h0M488.7 421.5h0M488.7 423.2h0M488.7 402.9h0M488.8 428.3h0M488.8 414.9h0M488.9 433.8h0M488.9 432.6h0M489.0 425.5h0M489.0 422.1h0M489.1 406.9h0M489.1 423.3h0M489.1 435.1h0M489.2 423.3h0M489.2 433.4h0M489.3 429.4h0M489.3 428.9h0M489.4 429.0h0M489.5 427.2h0M489.5 417.0h0M489.6 419.7h0M489.6 429.0h0M489.7 435.4h0M489.7 435.9h0M489.8 440.6h0M489.8 431.1h0M489.9 415.2h0M489.9 404.0h0M490.0 412.3h0M490.0 428.8h0M490.0 413.1h0M490.1 446.0h0M490.1 436.2h0M490.2 422.4h0M490.2 423.9h0M490.3 424.9h0M490.3 414.3h0M490.4 449.3h0M490.4 433.0h0M490.5 421.9h0M490.5 426.2h0M490.6 410.5h0M490.6 424.7h0M490.7 421.1h0M490.7 414.2h0M490.8 415.8h0M490.8 431.2h0M490.8 421.6h0M490.9 412.0h0M490.9 430.8h0M491.0 430.3h0M491.1 430.8h0M491.1 424.3h0M491.2 422.4h0M491.2 432.6h0M491.2 450.4h0M491.3 440.3h0M491.3 416.1h0M491.4 416.7h0M491.4 415.5h0M491.5 438.0h0M491.5 414.5h0M491.6 430.4h0M491.6 445.6h0M491.7 429.5h0M491.7 422.8h0M491.7 428.2h0M491.8 420.1h0M491.9 412.2h0M491.9 396.9h0M492.0 414.9h0M492.1 416.8h0M492.1 426.3h0M492.1 416.3h0M492.2 437.2h0M492.3 431.0h0M492.3 435.8h0M492.4 432.6h0M492.5 416.8h0M492.5 441.8h0M492.5 411.3h0M492.6 433.9h0M492.6 424.5h0M492.7 419.6h0M492.7 413.9h0M492.8 439.8h0M492.9 426.9h0M492.9 430.1h0M492.9 439.0h0M493.0 413.0h0M493.0 434.4h0M493.1 423.0h0M493.1 437.1h0M493.2 437.0h0M493.2 413.4h0M493.3 415.7h0M493.3 415.4h0M493.3 412.0h0M493.4 423.3h0M493.5 419.8h0M493.6 420.6h0M493.6 421.6h0M493.7 410.8h0M493.7 414.6h0M493.8 417.6h0M493.8 438.3h0M493.8 413.9h0M493.9 446.7h0M493.9 439.7h0M494.0 409.2h0M494.0 421.4h0M494.1 434.2h0M494.1 432.0h0M494.2 422.1h0M494.2 434.6h0M494.2 418.0h0M494.3 447.9h0M494.3 402.0h0M494.4 440.9h0M494.5 447.6h0M494.5 413.4h0M494.6 409.3h0M494.6 437.9h0M494.7 428.8h0M494.7 431.0h0M494.8 422.0h0M494.8 427.5h0M494.9 416.0h0M494.9 414.8h0M495.0 427.3h0M495.0 429.4h0M495.0 418.3h0M495.1 417.8h0M495.1 433.6h0M495.2 405.1h0M495.2 427.6h0M495.3 436.0h0M495.4 427.8h0M495.4 432.3h0M495.4 410.1h0M495.5 439.8h0M495.5 426.3h0M495.6 431.1h0M495.6 436.9h0M495.7 421.7h0M495.7 420.3h0M495.8 434.0h0M495.8 433.5h0M495.9 424.5h0M495.9 418.6h0M495.9 459.5h0M496.0 427.4h0M496.0 431.9h0M496.1 414.2h0M496.1 415.9h0M496.2 420.2h0M496.2 433.9h0M496.3 406.4h0M496.3 424.7h0M496.3 429.0h0M496.4 435.8h0M496.5 391.4h0M496.5 412.9h0M496.6 428.5h0M496.6 414.3h0M496.7 420.0h0M496.7 432.4h0M496.7 435.1h0M496.8 431.8h0M496.8 409.7h0M496.9 435.7h0M496.9 427.5h0M497.0 424.7h0M497.0 422.4h0M497.1 428.1h0M497.1 414.7h0M497.2 422.0h0M497.2 402.8h0M497.3 411.5h0M497.3 439.9h0M497.4 415.4h0M497.4 409.5h0M497.5 430.7h0M497.6 428.3h0M497.6 420.5h0M497.7 410.4h0M497.7 422.2h0M497.8 415.4h0M497.8 413.6h0M497.9 421.5h0M497.9 418.4h0M498.0 396.9h0M498.0 438.6h0M498.0 433.2h0M498.1 445.1h0M498.1 433.2h0M498.2 381.2h0M498.2 413.9h0M498.3 438.2h0M498.3 420.6h0M498.4 437.5h0M498.4 435.1h0M498.4 428.6h0M498.5 411.2h0M498.6 436.0h0M498.6 423.0h0M498.7 412.0h0M498.8 400.8h0M498.8 412.2h0M498.9 444.0h0M499.0 428.2h0M499.0 434.5h0M499.1 418.6h0M499.1 460.3h0M499.2 417.2h0M499.2 421.9h0M499.2 428.4h0M499.3 438.8h0M499.3 442.1h0M499.4 444.3h0M499.4 425.8h0M499.5 431.3h0M499.5 439.9h0M499.6 415.6h0M499.6 436.7h0M499.7 414.8h0M499.7 407.9h0M499.8 414.7h0M499.8 418.3h0M499.9 415.4h0M499.9 419.2h0M500.0 438.3h0M500.0 421.3h0M500.1 427.4h0M500.1 424.7h0M500.1 424.8h0M500.2 412.0h0M500.2 424.5h0M500.3 414.8h0M500.3 424.9h0M500.4 414.9h0M500.4 412.9h0M500.5 414.2h0M500.5 426.4h0M500.5 418.3h0M500.6 415.4h0M500.6 407.6h0M500.7 419.1h0M500.7 403.1h0M500.8 418.2h0M500.8 420.9h0M500.9 417.0h0M500.9 446.7h0M500.9 415.6h0M501.0 428.5h0M501.0 429.2h0M501.1 388.6h0M501.1 422.8h0M501.2 437.0h0M501.2 421.0h0M501.3 427.2h0M501.3 421.5h0M501.3 431.4h0M501.4 413.1h0M501.4 435.2h0M501.5 415.1h0M501.5 422.3h0M501.6 427.4h0M501.7 441.8h0M501.7 428.9h0M501.8 416.1h0M501.8 440.5h0M501.8 419.8h0M501.9 399.9h0M501.9 427.8h0M502.0 420.4h0M502.0 416.8h0M502.1 412.3h0M502.1 447.5h0M502.2 422.8h0M502.2 416.7h0M502.2 434.0h0M502.3 428.5h0M502.3 433.3h0M502.4 419.1h0M502.5 420.1h0M502.6 422.7h0M502.6 424.1h0M502.7 437.7h0M502.7 443.1h0M502.8 415.5h0M502.9 420.4h0M502.9 438.5h0M503.0 418.0h0M503.0 432.0h0M503.1 436.7h0M503.1 415.3h0M503.2 417.6h0M503.2 422.7h0M503.3 431.6h0M503.3 417.5h0M503.4 416.0h0M503.4 422.7h0M503.4 434.5h0M503.5 451.9h0M503.5 428.4h0M503.6 418.0h0M503.7 423.3h0M503.7 421.5h0M503.8 427.6h0M503.9 438.4h0M504.0 431.6h0M504.1 430.5h0M504.1 420.5h0M504.2 422.1h0M504.3 415.1h0M504.3 441.2h0M504.3 417.8h0M504.4 415.6h0M504.4 427.7h0M504.5 422.4h0M504.6 420.2h0M504.6 443.8h0M504.7 407.2h0M504.7 426.4h0M504.8 450.4h0M504.8 417.7h0M504.9 427.5h0M504.9 419.2h0M505.0 443.1h0M505.1 426.2h0M505.1 428.2h0M505.1 431.0h0M505.2 431.4h0M505.2 416.3h0M505.3 429.7h0M505.3 433.5h0M505.4 440.7h0M505.5 440.1h0M505.5 439.0h0M505.5 413.1h0M505.6 445.8h0M505.6 437.7h0M505.7 426.2h0M505.7 442.5h0M505.8 430.0h0M505.8 454.7h0M505.9 430.7h0M506.0 422.2h0M506.0 432.1h0M506.0 418.6h0M506.1 429.1h0M506.1 424.2h0M506.2 420.8h0M506.2 430.4h0M506.3 419.3h0M506.4 410.4h0M506.4 422.0h0M506.4 412.7h0M506.5 416.9h0M506.6 434.5h0M506.6 416.8h0M506.7 416.0h0M506.7 440.5h0M506.8 419.4h0M506.8 405.2h0M506.9 422.9h0M506.9 425.5h0M507.0 423.6h0M507.1 434.1h0M507.2 444.2h0M507.2 415.4h0M507.3 409.5h0M507.3 409.6h0M507.4 420.3h0M507.4 411.4h0M507.5 416.2h0M507.5 421.8h0M507.6 415.1h0M507.6 433.8h0M507.7 435.7h0M507.7 411.9h0M507.8 428.1h0M507.8 442.5h0M507.9 426.5h0M507.9 416.6h0M508.0 431.0h0M508.0 408.8h0M508.1 432.9h0M508.2 427.9h0M508.3 421.0h0M508.3 428.5h0M508.4 416.7h0M508.4 418.0h0M508.5 424.7h0M508.5 408.1h0M508.5 436.2h0M508.6 450.0h0M508.6 422.3h0M508.7 422.4h0M508.7 404.3h0M508.8 421.7h0M508.8 410.4h0M508.9 417.2h0M508.9 435.8h0M508.9 448.1h0M509.0 412.5h0M509.0 421.2h0M509.1 424.1h0M509.2 410.0h0M509.2 440.1h0M509.3 423.0h0M509.3 422.0h0M509.3 428.9h0M509.4 409.4h0M509.4 426.9h0M509.5 426.3h0M509.6 432.5h0M509.6 421.2h0M509.7 425.6h0M509.7 446.0h0M509.7 430.9h0M509.8 429.7h0M509.8 428.7h0M509.9 433.3h0M509.9 440.2h0M510.0 419.4h0M510.0 413.0h0M510.1 417.2h0M510.1 424.1h0M510.2 445.7h0M510.2 417.0h0M510.3 418.1h0M510.3 412.2h0M510.4 426.5h0M510.4 426.6h0M510.5 419.9h0M510.5 415.9h0M510.6 411.8h0M510.6 452.1h0M510.6 422.2h0M510.7 425.2h0M510.7 428.3h0M510.8 420.1h0M510.8 423.4h0M510.9 427.3h0M510.9 417.1h0M511.0 436.2h0M511.0 417.6h0M511.0 406.8h0M511.1 417.4h0M511.1 432.1h0M511.2 436.3h0M511.2 438.9h0M511.3 439.4h0M511.3 405.1h0M511.4 411.7h0M511.4 421.8h0M511.5 437.5h0M511.5 432.0h0M511.6 412.7h0M511.7 439.6h0M511.7 439.1h0M511.8 423.1h0M511.8 433.9h0M511.8 431.5h0M511.9 428.1h0M511.9 415.9h0M512.0 436.8h0M512.0 429.9h0M512.1 436.9h0M512.1 433.7h0M512.2 435.3h0M512.2 428.0h0M512.3 444.0h0M512.3 412.0h0M512.3 428.8h0M512.4 427.2h0M512.4 429.0h0M512.5 418.1h0M512.5 421.9h0M512.6 420.2h0M512.6 432.2h0M512.7 429.5h0M512.7 430.9h0M512.7 418.6h0M512.8 426.4h0M512.8 413.4h0M512.9 419.8h0M513.0 419.0h0M513.0 426.4h0M513.1 415.0h0M513.1 432.9h0M513.2 421.9h0M513.3 423.6h0M513.3 430.8h0M513.4 441.1h0M513.4 407.0h0M513.5 433.3h0M513.5 431.4h0M513.5 435.6h0M513.6 420.5h0M513.7 432.3h0M513.7 414.3h0M513.8 439.3h0M513.8 422.4h0M513.9 430.6h0M513.9 431.1h0M514.0 420.9h0M514.0 422.3h0M514.0 425.7h0M514.1 422.1h0M514.1 450.8h0M514.2 420.0h0M514.2 438.9h0M514.3 418.0h0M514.3 435.5h0M514.4 417.5h0M514.4 412.6h0M514.4 431.6h0M514.5 425.0h0M514.5 436.4h0M514.6 425.4h0M514.6 436.3h0M514.7 421.2h0M514.7 428.6h0M514.8 451.5h0M514.8 439.3h0M514.8 432.8h0M514.9 425.6h0M514.9 431.0h0M515.0 423.5h0M515.0 421.8h0M515.1 431.9h0M515.1 431.2h0M515.2 421.4h0M515.2 415.4h0M515.2 424.6h0M515.3 412.5h0M515.3 421.3h0M515.4 411.1h0M515.4 429.2h0M515.5 421.2h0M515.5 399.5h0M515.6 414.5h0M515.6 408.2h0M515.6 428.5h0M515.7 423.7h0M515.7 442.5h0M515.8 396.5h0M515.8 444.8h0M515.9 432.3h0M516.0 418.8h0M516.0 412.3h0M516.1 420.8h0M516.1 426.7h0M516.1 438.3h0M516.2 403.4h0M516.3 416.4h0M516.3 415.7h0M516.4 440.7h0M516.4 408.0h0M516.5 432.7h0M516.5 428.3h0M516.5 419.7h0M516.6 427.5h0M516.6 430.3h0M516.7 422.5h0M516.7 423.1h0M516.8 423.4h0M516.8 432.9h0M516.9 412.5h0M516.9 440.8h0M516.9 428.0h0M517.0 436.5h0M517.0 414.4h0M517.1 412.1h0M517.1 409.0h0M517.2 411.0h0M517.2 418.1h0M517.3 437.4h0M517.3 417.0h0M517.3 430.8h0M517.4 444.0h0M517.5 447.0h0M517.5 434.9h0M517.6 415.1h0M517.6 421.4h0M517.7 404.0h0M517.7 431.1h0M517.8 424.8h0M517.8 416.2h0M517.9 401.6h0M517.9 433.0h0M518.0 411.5h0M518.0 413.8h0M518.1 433.0h0M518.1 414.4h0M518.2 411.0h0M518.2 384.0h0M518.2 403.3h0M518.3 434.6h0M518.4 423.1h0M518.4 424.0h0M518.5 435.3h0M518.5 438.9h0M518.6 421.2h0M518.6 416.4h0M518.6 419.7h0M518.7 429.5h0M518.7 413.2h0M518.8 437.9h0M518.8 434.1h0M518.9 426.5h0M518.9 427.3h0M519.0 419.9h0M519.0 429.5h0M519.1 426.2h0M519.1 431.4h0M519.2 417.7h0M519.2 435.0h0M519.3 403.0h0M519.3 429.6h0M519.4 435.0h0M519.4 437.1h0M519.4 407.7h0M519.5 429.8h0M519.5 415.7h0M519.6 424.6h0M519.6 425.0h0M519.7 439.9h0M519.7 429.4h0M519.8 408.4h0M519.8 440.1h0M519.8 427.8h0M519.9 406.0h0M519.9 411.3h0M520.0 434.0h0M520.0 452.3h0M520.1 416.3h0M520.1 447.8h0M520.2 448.2h0M520.2 444.0h0M520.3 413.7h0M520.3 418.6h0M520.3 433.3h0M520.4 416.2h0M520.4 429.2h0M520.5 415.7h0M520.5 449.4h0M520.6 443.1h0M520.6 424.6h0M520.7 419.0h0M520.8 405.9h0M520.8 448.7h0M520.9 433.7h0M520.9 415.7h0M521.0 433.4h0M521.0 418.8h0M521.1 436.1h0M521.1 417.5h0M521.1 422.5h0M521.2 437.1h0M521.2 426.5h0M521.3 420.7h0M521.3 425.6h0M521.4 420.2h0M521.4 410.8h0M521.5 418.9h0M521.5 422.4h0M521.5 409.0h0M521.6 454.6h0M521.7 446.8h0M521.7 427.1h0M521.8 433.8h0M521.9 423.9h0M521.9 419.3h0M521.9 427.0h0M522.0 455.1h0M522.0 417.1h0M522.1 400.1h0M522.1 407.9h0M522.2 432.3h0M522.2 422.4h0M522.3 430.2h0M522.3 419.7h0M522.4 421.2h0M522.4 426.2h0M522.4 419.9h0M522.5 423.5h0M522.5 435.4h0M522.6 417.1h0M522.6 423.7h0M522.7 431.7h0M522.7 415.2h0M522.8 417.3h0M522.8 417.9h0M522.8 429.9h0M522.9 416.3h0M522.9 411.7h0M523.0 451.8h0M523.0 425.9h0M523.1 429.3h0M523.2 426.3h0M523.2 432.3h0M523.2 429.1h0M523.3 428.8h0M523.3 416.2h0M523.4 424.2h0M523.4 449.5h0M523.5 416.4h0M523.5 420.7h0M523.6 420.8h0M523.6 457.1h0M523.6 450.5h0M523.7 436.6h0M523.7 417.7h0M523.8 404.8h0M523.8 412.9h0M523.9 439.7h0M523.9 436.9h0M524.0 423.5h0M524.0 434.9h0M524.1 427.0h0M524.1 425.4h0M524.1 436.1h0M524.2 412.6h0M524.2 453.5h0M524.3 433.3h0M524.4 422.9h0M524.4 420.8h0M524.5 428.6h0M524.5 424.7h0M524.5 433.1h0M524.6 430.9h0M524.6 407.4h0M524.7 420.2h0M524.8 432.4h0M524.9 425.5h0M524.9 417.9h0M524.9 427.7h0M525.0 422.3h0M525.0 419.1h0M525.1 427.1h0M525.1 422.1h0M525.2 397.7h0M525.2 409.6h0M525.3 419.5h0M525.3 421.8h0M525.3 414.5h0M525.4 426.2h0M525.4 419.7h0M525.5 442.8h0M525.6 400.2h0M525.6 423.5h0M525.7 418.1h0M525.7 428.1h0M525.8 426.0h0M525.9 426.7h0M525.9 404.1h0M526.0 426.3h0M526.0 424.2h0M526.1 430.4h0M526.2 422.2h0M526.2 416.9h0M526.3 416.5h0M526.4 426.7h0M526.4 410.5h0M526.5 437.7h0M526.6 419.0h0M526.6 414.6h0M526.7 425.4h0M526.7 433.4h0M526.8 425.1h0M526.9 431.3h0M527.0 415.9h0M527.0 393.3h0M527.0 404.1h0M527.1 423.2h0M527.1 443.4h0M527.2 415.2h0M527.2 443.8h0M527.3 402.3h0M527.3 418.3h0M527.4 440.9h0M527.4 402.9h0M527.4 444.8h0M527.5 415.7h0M527.5 419.7h0M527.6 413.3h0M527.6 424.1h0M527.7 422.3h0M527.7 456.5h0M527.8 434.6h0M527.8 426.1h0M527.8 428.3h0M527.9 409.6h0M527.9 433.0h0M528.0 423.7h0M528.0 444.2h0M528.1 422.1h0M528.1 445.4h0M528.2 424.5h0M528.2 417.5h0M528.3 432.0h0M528.3 421.9h0M528.3 423.6h0M528.4 445.2h0M528.4 436.2h0M528.5 413.1h0M528.5 436.3h0M528.6 438.2h0M528.6 429.0h0M528.7 422.7h0M528.7 451.9h0M528.7 412.0h0M528.8 418.5h0M528.8 433.7h0M528.9 421.9h0M529.0 420.2h0M529.0 423.4h0M529.1 426.5h0M529.1 426.3h0M529.1 411.2h0M529.2 438.4h0M529.2 409.6h0M529.3 423.7h0M529.3 405.9h0M529.4 411.9h0M529.4 451.3h0M529.5 438.2h0M529.5 427.7h0M529.5 434.4h0M529.6 440.3h0M529.6 459.3h0M529.7 413.7h0M529.7 432.5h0M529.8 399.6h0M529.8 417.2h0M529.9 418.7h0M529.9 429.4h0M529.9 413.4h0M530.0 441.4h0M530.0 442.3h0M530.1 419.3h0M530.2 441.5h0M530.2 413.7h0M530.3 422.7h0M530.3 421.7h0M530.4 432.1h0M530.4 416.5h0M530.5 430.6h0M530.5 446.0h0M530.7 420.8h0M530.7 409.3h0M530.8 399.4h0M530.8 423.0h0M530.9 431.0h0M530.9 416.4h0M531.0 413.0h0M531.0 436.7h0M531.1 431.6h0M531.1 421.0h0M531.2 435.4h0M531.2 441.1h0M531.2 436.6h0M531.3 416.8h0M531.3 413.3h0M531.4 412.4h0M531.4 425.5h0M531.5 435.4h0M531.5 422.4h0M531.6 441.4h0M531.6 396.9h0M531.6 427.7h0M531.7 411.7h0M531.8 419.2h0M531.8 444.1h0M531.9 421.6h0M532.0 423.0h0M532.0 427.6h0M532.0 432.4h0M532.1 416.8h0M532.1 424.9h0M532.2 422.3h0M532.2 420.6h0M532.3 437.9h0M532.4 430.6h0M532.4 411.2h0M532.5 430.5h0M532.5 415.3h0M532.5 399.7h0M532.6 421.3h0M532.6 423.6h0M532.7 421.8h0M532.7 450.0h0M532.8 433.4h0M532.8 433.5h0M532.9 412.2h0M532.9 439.9h0M533.0 417.7h0M533.0 432.1h0M533.1 440.2h0M533.1 400.5h0M533.2 437.8h0M533.2 430.1h0M533.3 419.3h0M533.3 406.1h0M533.3 442.6h0M533.4 412.1h0M533.4 409.3h0M533.5 418.9h0M533.5 435.8h0M533.6 424.5h0M533.6 440.6h0M533.7 421.1h0M533.7 428.1h0M533.7 415.6h0M533.8 420.2h0M533.8 415.9h0M533.9 431.7h0M533.9 432.3h0M534.0 424.7h0M534.0 434.5h0M534.1 433.0h0M534.1 410.7h0M534.2 418.3h0M534.2 445.6h0M534.3 407.8h0M534.3 420.9h0M534.4 412.0h0M534.4 432.9h0M534.5 404.4h0M534.5 425.5h0M534.6 410.8h0M534.6 431.8h0M534.6 428.2h0M534.7 419.0h0M534.7 421.7h0M534.8 429.8h0M534.8 424.0h0M534.9 446.4h0M534.9 416.6h0M535.0 455.0h0M535.0 435.0h0M535.0 426.6h0M535.1 415.7h0M535.1 425.9h0M535.2 419.9h0M535.2 422.1h0M535.3 432.3h0M535.3 437.3h0M535.4 434.2h0M535.4 414.7h0M535.4 419.9h0M535.5 425.8h0M535.5 448.2h0M535.6 439.8h0M535.6 416.3h0M535.7 412.0h0M535.7 458.3h0M535.8 421.7h0M535.8 399.2h0M535.8 435.4h0M535.9 419.3h0M535.9 414.3h0M536.0 441.8h0M536.0 408.4h0M536.1 429.0h0M536.2 440.6h0M536.2 431.2h0M536.3 407.9h0M536.3 439.1h0M536.3 413.1h0M536.4 426.0h0M536.4 431.4h0M536.5 427.2h0M536.6 421.7h0M536.6 440.8h0M536.7 414.9h0M536.7 442.1h0M536.7 443.2h0M536.8 411.5h0M536.8 418.1h0M536.9 420.4h0M536.9 417.8h0M537.0 413.5h0M537.0 431.1h0M537.1 429.9h0M537.1 414.7h0M537.1 447.6h0M537.2 411.0h0M537.2 425.8h0M537.3 462.0h0M537.3 415.2h0M537.4 429.6h0M537.5 437.0h0M537.5 426.8h0M537.5 423.6h0M537.6 441.0h0M537.6 444.4h0M537.7 434.8h0M537.7 407.6h0M537.8 431.4h0M537.8 449.1h0M537.9 400.7h0M537.9 418.6h0M537.9 438.9h0M538.0 416.3h0M538.0 414.5h0M538.1 461.1h0M538.1 422.1h0M538.2 442.0h0M538.3 437.7h0M538.4 409.6h0M538.4 436.5h0M538.4 457.2h0M538.5 409.0h0M538.5 419.8h0M538.6 440.5h0M538.6 413.9h0M538.7 419.7h0M538.8 428.6h0M538.8 449.2h0M538.9 432.2h0M538.9 411.9h0M539.0 417.4h0M539.0 433.0h0M539.1 429.3h0M539.1 431.0h0M539.2 432.8h0M539.2 439.4h0M539.2 416.4h0M539.3 432.6h0M539.3 404.0h0M539.4 432.1h0M539.4 418.2h0M539.5 419.1h0M539.5 425.8h0M539.6 421.5h0M539.6 414.1h0M539.6 441.9h0M539.7 413.9h0M539.7 422.8h0M539.8 411.7h0M539.8 412.5h0M539.9 420.7h0M539.9 428.5h0M540.0 445.0h0M540.0 408.4h0M540.0 424.7h0M540.1 437.9h0M540.1 419.8h0M540.2 432.1h0M540.2 420.9h0M540.3 414.2h0M540.3 421.1h0M540.4 431.4h0M540.4 422.1h0M540.5 431.0h0M540.5 412.4h0M540.5 425.0h0M540.6 413.1h0M540.6 419.2h0M540.7 434.6h0M540.7 412.5h0M540.8 421.4h0M540.8 439.5h0M540.9 420.5h0M540.9 427.7h0M540.9 434.6h0M541.0 431.2h0M541.0 431.2h0M541.1 439.5h0M541.1 425.4h0M541.2 434.5h0M541.2 424.5h0M541.3 416.7h0M541.3 421.7h0M541.3 460.1h0M541.4 427.3h0M541.4 406.8h0M541.5 447.4h0M541.5 408.4h0M541.6 416.5h0M541.6 391.6h0M541.7 434.7h0M541.7 406.4h0M541.7 421.4h0M541.9 433.7h0M542.0 430.3h0M542.1 434.6h0M542.1 430.5h0M542.2 412.8h0M542.2 440.2h0M542.3 429.6h0M542.3 423.2h0M542.4 408.1h0M542.5 417.9h0M542.5 412.8h0M542.6 430.4h0M542.6 441.7h0M542.7 451.4h0M542.7 423.6h0M542.8 421.9h0M542.8 428.5h0M542.9 434.5h0M542.9 431.4h0M543.0 424.6h0M543.0 438.1h0M543.1 415.0h0M543.2 422.4h0M543.2 439.1h0M543.3 423.3h0M543.3 438.5h0M543.4 408.4h0M543.4 440.4h0M543.4 466.0h0M543.5 419.8h0M543.5 411.5h0M543.6 434.9h0M543.6 412.6h0M543.7 437.1h0M543.7 432.4h0M543.8 427.4h0M543.8 429.0h0M543.8 422.6h0M543.9 419.7h0M543.9 445.8h0M544.0 422.7h0M544.0 461.9h0M544.1 437.9h0M544.1 424.0h0M544.2 426.9h0M544.2 416.8h0M544.3 414.8h0M544.3 413.4h0M544.4 422.7h0M544.5 426.0h0M544.5 426.9h0M544.6 421.6h0M544.6 440.5h0M544.7 430.0h0M544.7 403.2h0M544.8 408.1h0M544.8 403.9h0M544.9 436.0h0M544.9 431.6h0M545.0 431.1h0M545.0 414.0h0M545.1 410.9h0M545.1 432.8h0M545.1 434.6h0M545.2 448.6h0M545.2 415.7h0M545.3 426.1h0M545.3 413.3h0M545.4 414.4h0M545.4 419.0h0M545.5 406.8h0M545.5 420.7h0M545.6 405.3h0M545.6 441.9h0M545.7 427.5h0M545.7 439.1h0M545.8 416.0h0M545.9 430.9h0M545.9 417.5h0M545.9 410.3h0M546.0 410.2h0M546.0 431.4h0M546.1 435.4h0M546.2 415.6h0M546.2 450.3h0M546.3 446.8h0M546.3 451.7h0M546.4 426.1h0M546.4 422.0h0M546.5 419.6h0M546.5 414.9h0M546.6 420.7h0M546.6 421.6h0M546.7 426.7h0M546.7 431.7h0M546.8 447.6h0M546.8 416.6h0M546.8 423.0h0M546.9 436.3h0M546.9 416.2h0M547.0 420.3h0M547.1 428.1h0M547.1 428.3h0M547.2 433.1h0M547.2 426.4h0M547.2 418.0h0M547.3 447.6h0M547.3 423.6h0M547.4 435.8h0M547.5 422.0h0M547.5 431.7h0M547.6 420.7h0M547.7 457.5h0M547.7 429.7h0M547.8 439.9h0M547.9 421.0h0M548.0 423.5h0M548.0 428.1h0M548.0 422.9h0M548.1 445.4h0M548.1 430.4h0M548.2 432.3h0M548.2 427.1h0M548.3 419.8h0M548.3 440.4h0M548.4 422.3h0M548.4 399.6h0M548.5 420.8h0M548.5 459.8h0M548.5 427.9h0M548.6 448.1h0M548.7 431.8h0M548.7 424.8h0M548.8 447.9h0M548.8 445.9h0M548.9 433.1h0M548.9 416.8h0M548.9 421.9h0M549.0 446.3h0M549.0 436.2h0M549.1 410.9h0M549.1 406.9h0M549.2 420.1h0M549.2 416.0h0M549.3 435.1h0M549.3 431.7h0M549.4 435.3h0M549.4 410.5h0M549.5 425.4h0M549.5 441.9h0M549.6 424.0h0M549.6 423.4h0M549.7 427.4h0M549.7 416.6h0M549.7 421.0h0M549.8 422.0h0M549.8 430.9h0M549.9 425.5h0M549.9 408.9h0M550.0 430.8h0M550.0 415.7h0M550.1 420.5h0M550.1 437.2h0M550.1 441.9h0M550.2 422.7h0M550.3 422.3h0M550.3 429.1h0M550.4 432.3h0M550.4 433.5h0M550.5 425.9h0M550.5 430.8h0M550.6 424.3h0M550.6 444.5h0M550.6 417.8h0M550.7 422.2h0M550.7 420.7h0M550.8 439.7h0M550.9 421.6h0M550.9 430.8h0M551.0 426.5h0M551.0 417.5h0M551.1 429.2h0M551.1 415.4h0M551.2 423.3h0M551.2 434.9h0M551.3 409.8h0M551.3 423.9h0M551.4 440.2h0M551.5 406.5h0M551.5 446.9h0M551.6 423.8h0M551.6 439.8h0M551.7 432.7h0M551.7 443.4h0M551.8 416.6h0M551.8 411.9h0M551.8 425.0h0M551.9 439.8h0M551.9 426.8h0M552.0 417.0h0M552.0 436.8h0M552.1 413.1h0M552.1 426.2h0M552.2 410.2h0M552.2 438.6h0M552.2 427.4h0M552.3 426.7h0M552.3 412.7h0M552.4 407.8h0M552.4 417.4h0M552.5 410.9h0M552.6 440.9h0M552.6 421.0h0M552.7 432.2h0M552.7 435.7h0M552.7 435.6h0M552.8 446.1h0M552.8 431.0h0M552.9 418.8h0M552.9 450.5h0M553.0 425.8h0M553.0 426.3h0M553.1 416.7h0M553.1 424.6h0M553.1 423.1h0M553.2 429.2h0M553.2 410.5h0M553.3 421.7h0M553.3 415.4h0M553.4 423.1h0M553.4 439.4h0M553.5 417.7h0M553.5 413.3h0M553.5 426.1h0M553.6 431.8h0M553.7 437.3h0M553.7 421.5h0M553.8 442.3h0M553.8 458.6h0M553.9 419.0h0M553.9 445.7h0M553.9 459.9h0M554.0 422.7h0M554.0 412.4h0M554.1 436.4h0M554.1 433.0h0M554.2 421.5h0M554.2 434.5h0M554.3 411.4h0M554.4 421.7h0M554.4 435.4h0M554.5 403.5h0M554.5 423.2h0M554.6 431.6h0M554.6 407.0h0M554.7 436.2h0M554.7 440.8h0M554.8 403.6h0M554.8 421.4h0M554.8 455.5h0M554.9 428.0h0M554.9 412.7h0M555.0 408.4h0M555.0 417.6h0M555.1 438.5h0M555.1 431.8h0M555.2 409.6h0M555.2 447.4h0M555.2 415.5h0M555.3 413.1h0M555.3 426.5h0M555.4 445.4h0M555.4 414.3h0M555.5 407.0h0M555.5 432.7h0M555.6 405.7h0M555.6 412.2h0M555.6 437.8h0M555.7 428.7h0M555.7 432.9h0M555.8 434.1h0M555.9 429.3h0M556.0 449.2h0M556.0 419.2h0M556.0 422.5h0M556.1 430.9h0M556.1 429.4h0M556.2 426.8h0M556.3 430.1h0M556.3 421.3h0M556.4 424.3h0M556.4 437.0h0M556.5 419.8h0M556.5 440.5h0M556.6 429.3h0M556.6 431.0h0M556.7 411.2h0M556.7 421.2h0M556.8 419.3h0M556.8 432.0h0M556.9 420.8h0M556.9 440.8h0M556.9 435.9h0M557.0 451.9h0M557.1 418.0h0M557.1 433.8h0M557.2 422.9h0M557.2 438.1h0M557.3 419.5h0M557.3 413.5h0M557.4 430.3h0M557.5 413.3h0M557.5 423.0h0M557.6 426.5h0M557.6 410.6h0M557.7 413.8h0M557.7 416.7h0M557.7 416.9h0M557.8 422.1h0M557.9 423.8h0M557.9 413.6h0M558.0 433.6h0M558.0 439.0h0M558.1 412.2h0M558.1 431.7h0M558.1 435.2h0M558.2 429.0h0M558.3 430.6h0M558.4 415.5h0M558.5 433.3h0M558.5 445.5h0M558.6 418.9h0M558.6 418.9h0M558.6 416.7h0M558.7 437.1h0M558.7 438.3h0M558.8 425.5h0M558.8 425.6h0M558.9 432.6h0M559.0 411.3h0M559.0 435.6h0M559.0 414.7h0M559.1 423.0h0M559.1 467.2h0M559.2 437.6h0M559.2 417.9h0M559.3 423.2h0M559.3 416.4h0M559.4 429.2h0M559.4 418.9h0M559.5 442.2h0M559.5 434.6h0M559.6 439.6h0M559.6 437.8h0M559.7 425.2h0M559.7 416.8h0M559.8 412.8h0M559.8 433.5h0M559.9 411.7h0M559.9 424.3h0M560.0 427.3h0M560.0 430.0h0M560.1 437.3h0M560.1 422.2h0M560.2 446.5h0M560.2 424.2h0M560.2 408.8h0M560.3 417.4h0M560.3 411.0h0M560.4 418.9h0M560.4 421.7h0M560.5 423.1h0M560.5 441.2h0M560.6 460.1h0M560.6 445.9h0M560.7 406.6h0M560.7 420.0h0M560.7 415.8h0M560.8 417.1h0M560.9 434.1h0M560.9 443.0h0M561.0 427.0h0M561.0 423.0h0M561.1 445.1h0M561.1 449.8h0M561.1 438.1h0M561.2 428.1h0M561.2 413.9h0M561.3 419.8h0M561.4 417.2h0M561.4 417.4h0M561.5 430.8h0M561.5 424.2h0M561.5 419.9h0M561.6 416.3h0M561.6 439.0h0M561.7 428.1h0M561.7 419.6h0M561.8 411.6h0M561.8 430.0h0M561.9 449.0h0M561.9 396.0h0M562.0 406.1h0M562.0 392.5h0M562.1 403.7h0M562.2 407.7h0M562.2 402.0h0M562.3 402.0h0M562.3 415.7h0M562.3 398.5h0M562.4 414.1h0M562.4 396.8h0M562.5 400.6h0M562.5 413.9h0M562.6 398.1h0M562.6 412.1h0M562.7 405.7h0M562.7 401.3h0M562.8 402.9h0M562.8 400.0h0M562.8 401.3h0M562.9 406.9h0M562.9 422.0h0M563.0 406.8h0M563.0 398.0h0M563.1 402.1h0M563.1 411.0h0M563.2 418.1h0M563.2 417.0h0M563.2 406.8h0M563.3 404.9h0M563.3 407.7h0M563.4 404.1h0M563.4 402.0h0M563.5 393.0h0M563.5 409.2h0M563.6 397.5h0M563.6 404.7h0M563.6 398.4h0M563.7 393.0h0M563.7 408.9h0M563.8 394.4h0M563.8 408.0h0M563.9 404.9h0M563.9 391.4h0M564.0 424.3h0M564.0 402.5h0M564.0 404.5h0M564.1 406.2h0M564.1 405.4h0M564.2 407.3h0M564.2 366.9h0M564.3 404.1h0M564.3 392.0h0M564.4 400.9h0M564.4 382.4h0M564.5 402.7h0M564.5 409.6h0M564.6 401.3h0M564.6 404.5h0M564.7 385.6h0M564.7 407.2h0M564.8 387.2h0M564.8 415.6h0M564.9 402.4h0M564.9 399.5h0M564.9 394.3h0M565.0 409.4h0M565.0 419.0h0M565.1 403.2h0M565.1 415.4h0M565.2 411.9h0M565.2 398.4h0M565.3 397.0h0M565.3 395.1h0M565.3 405.2h0M565.4 401.7h0M565.4 382.7h0M565.5 406.7h0M565.5 398.9h0M565.6 395.0h0M565.6 406.9h0M565.7 409.3h0M565.7 391.5h0M565.7 409.0h0M565.8 408.5h0M565.8 400.6h0M565.9 406.3h0M565.9 423.8h0M566.0 391.5h0M566.1 397.4h0M566.1 404.7h0M566.2 399.2h0M566.2 404.6h0M566.3 395.0h0M566.3 400.4h0M566.4 416.4h0M566.4 429.5h0M566.5 395.1h0M566.5 402.0h0M566.6 405.9h0M566.6 402.9h0M566.6 407.7h0M566.7 387.1h0M566.7 417.0h0M566.8 403.3h0M566.8 391.4h0M566.9 402.1h0M566.9 403.5h0M567.0 396.4h0M567.0 403.8h0M567.0 388.2h0M567.1 414.0h0M567.1 387.3h0M567.2 390.0h0M567.2 419.8h0M567.3 395.6h0M567.3 410.1h0M567.4 416.1h0M567.4 390.2h0M567.4 409.1h0M567.5 393.9h0M567.5 397.9h0M567.6 405.5h0M567.6 401.0h0M567.7 402.4h0M567.7 407.9h0M567.8 397.6h0M567.8 405.1h0M567.8 400.5h0M567.9 391.6h0M567.9 404.4h0M568.0 418.8h0M568.0 403.1h0M568.1 403.0h0M568.1 405.4h0M568.2 394.1h0M568.2 411.9h0M568.2 409.4h0M568.3 408.7h0M568.3 397.3h0M568.4 399.8h0M568.5 403.3h0M568.6 375.4h0M568.6 390.7h0M568.7 413.1h0M568.7 382.0h0M568.7 394.2h0M568.8 395.7h0M568.8 389.0h0M568.9 410.4h0M568.9 418.1h0M569.0 417.7h0M569.1 400.3h0M569.1 398.9h0M569.1 392.1h0M569.2 403.4h0M569.2 398.3h0M569.3 392.9h0M569.4 397.1h0M569.4 395.7h0M569.5 413.3h0M569.5 398.5h0M569.6 405.2h0M569.6 400.4h0M569.7 403.7h0M569.7 422.7h0M569.8 417.1h0M569.8 411.1h0M569.9 405.0h0M569.9 411.5h0M569.9 394.3h0M570.0 416.3h0M570.0 388.0h0M570.1 392.6h0M570.1 390.3h0M570.2 412.8h0M570.2 414.6h0M570.3 387.7h0M570.3 396.8h0M570.3 424.8h0M570.4 395.2h0M570.4 403.2h0M570.5 402.1h0M570.5 394.8h0M570.6 406.6h0M570.6 404.2h0M570.7 400.7h0M570.7 404.3h0M570.8 370.9h0M570.8 399.7h0M570.9 409.9h0M570.9 407.1h0M571.0 405.9h0M571.0 390.5h0M571.1 397.7h0M571.1 401.4h0M571.2 412.7h0M571.2 396.9h0M571.2 387.5h0M571.3 397.1h0M571.3 405.5h0M571.4 391.0h0M571.4 401.2h0M571.5 414.4h0M571.5 413.6h0M571.6 407.3h0M571.6 404.6h0M571.6 402.7h0M571.7 389.6h0M571.7 401.7h0M571.8 409.7h0M571.9 391.8h0M571.9 407.6h0M572.0 393.5h0M572.0 402.5h0M572.0 398.2h0M572.1 413.1h0M572.1 407.5h0M572.2 405.2h0M572.2 403.7h0M572.3 396.7h0M572.3 413.9h0M572.4 399.7h0M572.4 398.4h0M572.4 391.6h0M572.5 393.8h0M572.5 417.0h0M572.6 404.7h0M572.6 398.1h0M572.7 395.0h0M572.7 409.9h0M572.8 401.2h0M572.9 424.7h0M572.9 396.3h0M573.0 404.2h0M573.0 392.1h0M573.1 410.4h0M573.1 398.6h0M573.2 398.3h0M573.2 406.7h0M573.3 412.0h0M573.3 401.1h0M573.3 418.5h0M573.4 416.2h0M573.4 407.8h0M573.5 404.9h0M573.5 403.4h0M573.6 398.2h0M573.7 412.8h0M573.7 403.5h0M573.7 391.6h0M573.8 396.3h0M573.8 421.5h0M573.9 393.0h0M573.9 406.6h0M574.0 416.4h0M574.0 422.4h0M574.1 402.9h0M574.1 408.3h0M574.2 397.9h0M574.2 406.7h0M574.3 400.3h0M574.4 402.5h0M574.4 400.7h0M574.5 399.4h0M574.5 416.4h0M574.6 403.6h0M574.6 405.8h0M574.6 408.4h0M574.7 409.2h0M574.7 424.0h0M574.8 397.4h0M574.8 406.7h0M574.9 391.1h0M574.9 384.3h0M575.0 396.8h0M575.0 398.0h0M575.1 386.5h0M575.1 387.3h0M575.2 399.4h0M575.2 404.4h0M575.3 409.6h0M575.4 386.9h0M575.4 409.0h0M575.4 417.7h0M575.5 403.7h0M575.5 396.2h0M575.6 414.2h0M575.6 393.6h0M575.7 404.4h0M575.7 418.0h0M575.8 398.0h0M575.8 394.3h0M575.8 405.5h0M575.9 423.5h0M575.9 411.8h0M576.0 409.8h0M576.0 407.2h0M576.1 400.6h0M576.1 426.0h0M576.2 399.0h0M576.2 408.7h0M576.2 399.3h0M576.3 401.5h0M576.3 406.7h0M576.4 405.5h0M576.4 403.6h0M576.5 401.3h0M576.5 385.0h0M576.6 396.5h0M576.6 413.5h0M576.7 400.2h0M576.7 406.5h0M576.7 409.8h0M576.8 389.2h0M576.8 407.1h0M576.9 407.0h0M576.9 396.9h0M577.0 399.1h0M577.0 407.6h0M577.1 405.5h0M577.1 394.7h0M577.2 397.6h0M577.2 397.3h0M577.3 403.5h0M577.3 404.1h0M577.4 381.9h0M577.4 406.2h0M577.5 420.2h0M577.5 415.3h0M577.6 404.9h0M577.6 399.8h0M577.7 400.8h0M577.7 388.5h0M577.8 416.6h0M577.8 410.4h0M577.9 410.1h0M577.9 402.3h0M578.0 389.1h0M578.0 400.9h0M578.1 391.7h0M578.1 391.8h0M578.2 401.1h0M578.2 403.2h0M578.3 398.9h0M578.4 410.0h0M578.4 410.0h0M578.5 396.7h0M578.5 402.1h0M578.6 409.1h0M578.6 419.1h0M578.7 415.5h0M578.7 414.0h0M578.8 392.6h0M578.8 409.8h0M578.9 403.1h0M578.9 407.6h0M579.0 411.4h0M579.0 419.5h0M579.1 393.0h0M579.1 405.1h0M579.2 415.4h0M579.2 397.7h0M579.2 396.4h0M579.3 397.6h0M579.3 404.0h0M579.4 409.1h0M579.5 409.0h0M579.5 396.8h0M579.6 415.4h0M579.6 404.7h0M579.6 404.0h0M579.7 395.6h0M579.7 408.5h0M579.8 401.6h0M579.8 410.7h0M579.9 397.3h0M579.9 396.1h0M580.0 398.0h0M580.1 399.2h0M580.1 380.7h0M580.2 408.4h0M580.2 413.7h0M580.3 393.8h0M580.3 406.9h0M580.4 403.4h0M580.4 404.0h0M580.4 382.6h0M580.5 402.1h0M580.5 392.9h0M580.6 399.2h0M580.6 390.3h0M580.7 408.5h0M580.7 405.0h0M580.8 392.5h0M580.8 401.7h0M580.9 396.0h0M580.9 402.3h0M581.0 401.9h0M581.0 410.4h0M581.1 404.2h0M581.1 393.9h0M581.2 400.9h0M581.2 413.7h0M581.3 402.3h0M581.3 400.7h0M581.4 407.2h0M581.4 402.9h0M581.5 411.4h0M581.5 400.1h0M581.6 400.4h0M581.6 403.5h0M581.7 400.4h0M581.7 407.0h0M581.7 409.4h0M581.8 398.4h0M581.8 396.7h0M581.9 412.8h0M581.9 403.0h0M582.0 418.2h0M582.0 396.5h0M582.1 398.6h0M582.1 405.0h0M582.1 402.7h0M582.2 402.0h0M582.2 402.5h0M582.3 400.0h0M582.3 404.6h0M582.4 405.1h0M582.4 424.6h0M582.5 403.9h0M582.5 405.0h0M582.6 405.9h0M582.6 394.9h0M582.7 394.2h0M582.7 381.7h0M582.8 415.1h0M582.8 420.6h0M582.9 392.1h0M582.9 397.9h0M583.0 388.5h0M583.0 405.9h0M583.0 409.0h0M583.1 410.6h0M583.2 398.0h0M583.3 396.8h0M583.3 405.2h0M583.4 404.4h0M583.4 406.5h0M583.5 414.6h0M583.6 404.7h0M583.6 395.4h0M583.7 400.2h0M583.7 397.8h0M583.8 409.7h0M583.8 408.1h0M583.8 399.4h0M583.9 412.2h0M583.9 399.8h0M584.0 413.0h0M584.0 396.2h0M584.1 379.7h0M584.1 417.8h0M584.2 393.6h0M584.2 422.6h0M584.2 398.5h0M584.3 403.9h0M584.3 401.0h0M584.4 402.4h0M584.4 405.8h0M584.5 423.3h0M584.5 413.7h0M584.6 389.8h0M584.6 416.1h0M584.7 408.9h0M584.8 402.7h0M584.8 406.5h0M584.9 398.7h0M584.9 396.4h0M585.0 401.6h0M585.0 412.6h0M585.1 386.4h0M585.1 393.6h0M585.1 422.1h0M585.2 418.7h0M585.2 398.1h0M585.3 406.3h0M585.3 400.2h0M585.4 392.8h0M585.4 377.3h0M585.5 399.9h0M585.5 411.6h0M585.5 409.3h0M585.6 398.6h0M585.6 405.2h0M585.7 395.0h0M585.7 389.0h0M585.8 391.1h0M585.8 379.5h0M585.9 385.5h0M585.9 400.4h0M585.9 401.7h0M586.0 406.0h0M586.0 403.0h0M586.1 387.8h0M586.1 393.5h0M586.2 398.7h0M586.2 401.4h0M586.3 419.6h0M586.3 395.5h0M586.3 400.1h0M586.4 402.8h0M586.4 400.8h0M586.5 387.9h0M586.5 412.8h0M586.6 417.6h0M586.6 398.1h0M586.7 413.7h0M586.7 407.3h0M586.8 403.7h0M586.8 403.9h0M586.8 414.5h0M586.9 409.5h0M586.9 394.2h0M587.0 416.3h0M587.0 407.9h0M587.1 404.5h0M587.1 403.3h0M587.2 409.2h0M587.2 394.8h0M587.3 401.5h0M587.3 387.6h0M587.4 407.7h0M587.4 397.8h0M587.5 405.2h0M587.6 392.9h0M587.6 421.1h0M587.6 401.7h0M587.7 405.6h0M587.7 399.7h0M587.8 387.0h0M587.8 396.7h0M587.9 395.1h0M588.0 416.5h0M588.0 393.5h0M588.0 403.1h0M588.1 386.9h0M588.1 402.3h0M588.2 396.9h0M588.2 413.6h0M588.3 404.9h0M588.3 395.7h0M588.4 386.8h0M588.4 398.0h0M588.5 383.3h0M588.5 417.9h0M588.6 415.7h0M588.6 408.2h0M588.7 389.9h0M588.8 411.5h0M588.8 392.0h0M588.9 411.4h0M588.9 410.0h0M588.9 397.2h0M589.0 389.6h0M589.0 387.1h0M589.1 407.7h0M589.1 402.3h0M589.2 390.6h0M589.2 403.0h0M589.3 403.9h0M589.3 419.3h0M589.3 404.5h0M589.4 391.9h0M589.4 401.3h0M589.5 412.9h0M589.5 416.2h0M589.6 422.8h0M589.6 398.7h0M589.7 413.7h0M589.7 393.4h0M589.7 394.2h0M589.8 411.0h0M589.8 399.1h0M589.9 411.8h0M589.9 405.7h0M590.0 384.3h0M590.0 412.5h0M590.1 397.7h0M590.1 412.0h0M590.1 389.2h0M590.2 415.1h0M590.2 397.6h0M590.3 405.4h0M590.3 411.7h0M590.4 402.5h0M590.4 397.6h0M590.5 405.1h0M590.6 404.4h0M590.6 416.7h0M590.7 408.7h0M590.7 415.9h0M590.8 410.9h0M590.8 398.3h0M590.9 406.0h0M590.9 416.1h0M591.0 399.3h0M591.0 405.5h0M591.0 414.0h0M591.1 399.0h0M591.1 397.0h0M591.2 393.6h0M591.2 399.4h0M591.3 399.2h0M591.3 407.1h0M591.4 394.5h0M591.4 400.5h0M591.4 415.9h0M591.5 413.4h0M591.5 402.3h0M591.6 400.9h0M591.6 406.0h0M591.7 402.4h0M591.8 398.6h0M591.8 402.6h0M591.8 400.0h0M591.9 396.8h0M592.0 396.8h0M592.1 405.8h0M592.1 392.1h0M592.2 402.2h0M592.2 408.2h0M592.2 390.3h0M592.3 402.1h0M592.4 410.0h0M592.4 397.5h0M592.5 394.8h0M592.5 395.8h0M592.6 408.5h0M592.6 410.8h0M592.6 405.7h0M592.7 392.4h0M592.7 414.5h0M592.8 416.5h0M592.8 420.3h0M592.9 384.3h0M592.9 405.2h0M593.0 394.1h0M593.0 403.3h0M593.1 397.1h0M593.1 403.0h0M593.1 389.5h0M593.2 415.8h0M593.2 403.3h0M593.3 409.2h0M593.3 387.8h0M593.4 397.5h0M593.4 397.1h0M593.5 413.6h0M593.5 411.9h0M593.5 395.3h0M593.6 404.6h0M593.6 405.2h0M593.7 383.3h0M593.7 411.9h0M593.8 393.4h0M593.8 397.5h0M593.9 425.3h0M593.9 405.3h0M593.9 401.6h0M594.0 395.0h0M594.0 409.2h0M594.1 419.2h0M594.2 411.0h0M594.2 421.5h0M594.3 413.3h0M594.3 409.9h0M594.3 418.5h0M594.4 419.1h0M594.4 398.8h0M594.5 407.7h0M594.5 401.6h0M594.6 418.1h0M594.6 409.2h0M594.7 401.3h0M594.7 401.5h0M594.7 385.3h0M594.8 382.9h0M594.8 392.4h0M594.9 397.4h0M594.9 398.8h0M595.0 391.3h0M595.0 397.1h0M595.1 405.7h0M595.1 397.2h0M595.2 392.7h0M595.2 387.8h0M595.3 410.7h0M595.3 404.7h0M595.4 410.2h0M595.5 412.1h0M595.6 414.3h0M595.6 389.7h0M595.6 404.1h0M595.7 403.5h0M595.7 408.0h0M595.8 398.4h0M595.8 413.7h0M595.9 400.9h0M596.0 409.9h0M596.0 406.0h0M596.0 390.4h0M596.1 393.3h0M596.1 399.1h0M596.2 409.6h0M596.2 403.6h0M596.3 404.4h0M596.3 411.7h0M596.4 390.2h0M596.4 409.0h0M596.4 403.9h0M596.5 402.8h0M596.5 397.5h0M596.6 397.9h0M596.7 408.6h0M596.7 410.3h0M596.8 377.8h0M596.8 400.6h0M596.9 401.3h0M596.9 402.3h0M596.9 411.8h0M597.0 403.8h0M597.0 402.9h0M597.1 404.6h0M597.1 399.5h0M597.2 410.1h0M597.2 400.3h0M597.3 393.5h0M597.3 390.3h0M597.3 406.2h0M597.4 398.3h0M597.4 398.0h0M597.5 404.4h0M597.5 401.9h0M597.6 393.1h0M597.6 412.7h0M597.7 399.3h0M597.7 402.1h0M597.7 387.7h0M597.8 393.0h0M597.8 419.2h0M597.9 399.5h0M597.9 411.2h0M598.0 398.5h0M598.0 409.4h0M598.1 415.2h0M598.1 401.4h0M598.1 416.4h0M598.2 391.3h0M598.2 408.5h0M598.3 413.8h0M598.3 423.4h0M598.4 397.4h0M598.4 405.3h0M598.5 410.7h0M598.5 399.5h0M598.5 400.2h0M598.6 414.8h0M598.6 399.0h0M598.7 397.3h0M598.7 401.3h0M598.8 406.5h0M598.8 400.8h0M598.9 407.9h0M598.9 408.0h0M599.0 408.1h0M599.0 403.6h0M599.0 402.2h0M599.1 409.9h0M599.1 403.9h0M599.2 403.3h0M599.3 409.5h0M599.3 406.0h0M599.4 398.4h0M599.4 392.8h0M599.5 412.0h0M599.6 394.2h0M599.6 385.8h0M599.7 390.9h0M599.8 410.8h0M599.8 401.2h0M599.8 412.8h0M599.9 400.2h0M600.0 398.7h0M600.0 400.9h0M600.2 399.6h0M600.2 409.9h0M600.2 395.5h0M600.3 438.5h0M600.3 405.8h0M600.4 397.1h0M600.4 397.2h0M600.5 404.3h0M600.5 406.0h0M600.6 405.3h0M600.6 398.8h0M600.6 402.7h0M600.7 395.6h0M600.7 409.6h0M600.8 393.9h0M600.9 404.0h0M600.9 392.8h0M601.0 396.9h0M601.0 405.1h0M601.1 389.8h0M601.1 395.0h0M601.1 390.6h0M601.2 407.0h0M601.2 415.0h0M601.3 412.2h0M601.3 408.2h0M601.4 391.7h0M601.4 397.3h0M601.5 412.2h0M601.5 403.5h0M601.5 405.1h0M601.6 410.6h0M601.7 383.7h0M601.7 400.5h0M601.8 413.6h0M601.9 414.6h0M601.9 416.0h0M602.0 401.5h0M602.0 394.2h0M602.1 384.6h0M602.1 403.9h0M602.2 399.6h0M602.2 400.8h0M602.3 404.9h0M602.3 397.3h0M602.3 393.0h0M602.4 404.0h0" stroke="#939393" stroke-width="1.5" stroke-linecap="round" fill="none"/>
<path d="M59.9 425.6H561.9V403H602.4" fill="none" stroke="#1a1aff" stroke-width="2.0"/>
<path d="M253.9 425.6H256.8M259.2 425.6H265.8M274.6 425.6H276M278.5 425.6H280M307.5 425.6H312M351.8 425.6H357.4" stroke="#ff2020" stroke-width="2.0"/>
<path d="M265.8 425.6H272.4" stroke="#000" stroke-width="2.0"/>
<path d="M37.6 330.8H625.8" stroke="#bbbbbb" stroke-width="1.8"/>
<path d="M37.6 491.3H625.8" stroke="#959595" stroke-width="1.8"/>
<path d="M38.6 330.8V491.3M624.8 330.8V491.3" stroke="#858585" stroke-width="1.8"/>
<line x1="34.1" x2="38.6" y1="345.0" y2="345.0" stroke="#555" stroke-width="1.1"/>
<text transform="translate(25.9 345.0) rotate(-90)" text-anchor="middle" font-size="7.0" fill="#3a3a3a" stroke="#3a3a3a" stroke-width="0.18">2</text>
<line x1="34.1" x2="38.6" y1="385.3" y2="385.3" stroke="#555" stroke-width="1.1"/>
<text transform="translate(25.9 385.3) rotate(-90)" text-anchor="middle" font-size="7.0" fill="#3a3a3a" stroke="#3a3a3a" stroke-width="0.18">1</text>
<line x1="34.1" x2="38.6" y1="425.6" y2="425.6" stroke="#555" stroke-width="1.1"/>
<text transform="translate(25.9 425.6) rotate(-90)" text-anchor="middle" font-size="7.0" fill="#3a3a3a" stroke="#3a3a3a" stroke-width="0.18">0</text>
<line x1="34.1" x2="38.6" y1="465.9" y2="465.9" stroke="#555" stroke-width="1.1"/>
<text transform="translate(25.9 465.9) rotate(-90)" text-anchor="middle" font-size="7.0" fill="#3a3a3a" stroke="#3a3a3a" stroke-width="0.18">-1</text>
<line x1="59.9" x2="59.9" y1="491.3" y2="495.3" stroke="#555" stroke-width="1.1"/>
<text x="57.6" y="505.4" font-size="7.0" fill="#3a3a3a" stroke="#3a3a3a" stroke-width="0.18" textLength="4.5" lengthAdjust="spacingAndGlyphs">0</text>
<line x1="149.3" x2="149.3" y1="491.3" y2="495.3" stroke="#555" stroke-width="1.1"/>
<text x="140.3" y="505.4" font-size="7.0" fill="#3a3a3a" stroke="#3a3a3a" stroke-width="0.18" textLength="18.1" lengthAdjust="spacingAndGlyphs">2000</text>
<line x1="238.7" x2="238.7" y1="491.3" y2="495.3" stroke="#555" stroke-width="1.1"/>
<text x="229.6" y="505.4" font-size="7.0" fill="#3a3a3a" stroke="#3a3a3a" stroke-width="0.18" textLength="18.1" lengthAdjust="spacingAndGlyphs">4000</text>
<line x1="328.0" x2="328.0" y1="491.3" y2="495.3" stroke="#555" stroke-width="1.1"/>
<text x="319.0" y="505.4" font-size="7.0" fill="#3a3a3a" stroke="#3a3a3a" stroke-width="0.18" textLength="18.1" lengthAdjust="spacingAndGlyphs">6000</text>
<line x1="417.4" x2="417.4" y1="491.3" y2="495.3" stroke="#555" stroke-width="1.1"/>
<text x="408.4" y="505.4" font-size="7.0" fill="#3a3a3a" stroke="#3a3a3a" stroke-width="0.18" textLength="18.1" lengthAdjust="spacingAndGlyphs">8000</text>
<line x1="506.8" x2="506.8" y1="491.3" y2="495.3" stroke="#555" stroke-width="1.1"/>
<text x="495.5" y="505.4" font-size="7.0" fill="#3a3a3a" stroke="#3a3a3a" stroke-width="0.18" textLength="22.6" lengthAdjust="spacingAndGlyphs">10000</text>
<line x1="596.2" x2="596.2" y1="491.3" y2="495.3" stroke="#555" stroke-width="1.1"/>
<text x="584.9" y="505.4" font-size="7.0" fill="#3a3a3a" stroke="#3a3a3a" stroke-width="0.18" textLength="22.6" lengthAdjust="spacingAndGlyphs">12000</text>
<text transform="translate(7.0 411.0) rotate(-90)" text-anchor="middle" font-size="6.3" fill="#3a3a3a" stroke="#3a3a3a" stroke-width="0.18">log2 ratio</text>
<text x="303.7" y="521.0" font-size="6.3" fill="#3a3a3a" stroke="#3a3a3a" stroke-width="0.18" textLength="55.7" lengthAdjust="spacingAndGlyphs">Blocks(20K * 1)</text>
<text x="272.2" y="47.8" font-size="35.3" font-weight="bold" textLength="50.5" lengthAdjust="spacingAndGlyphs">chr</text>
<text x="330.5" y="47.8" font-size="35.5" font-weight="bold" textLength="18.6" lengthAdjust="spacingAndGlyphs">8</text>
<text x="272.2" y="308.2" font-size="35.3" font-weight="bold" textLength="50.5" lengthAdjust="spacingAndGlyphs">chr</text>
<text x="331.3" y="308.2" font-size="35.5" font-weight="bold" textLength="18.6" lengthAdjust="spacingAndGlyphs">2</text>
<text x="532.4" y="114.7" font-size="25" font-weight="bold" textLength="80" lengthAdjust="spacingAndGlyphs">7.5Mb</text>
<text x="496.2" y="368.6" font-size="25" font-weight="bold" textLength="108.6" lengthAdjust="spacingAndGlyphs">18.28Mb</text>
</svg>
</body></html>
